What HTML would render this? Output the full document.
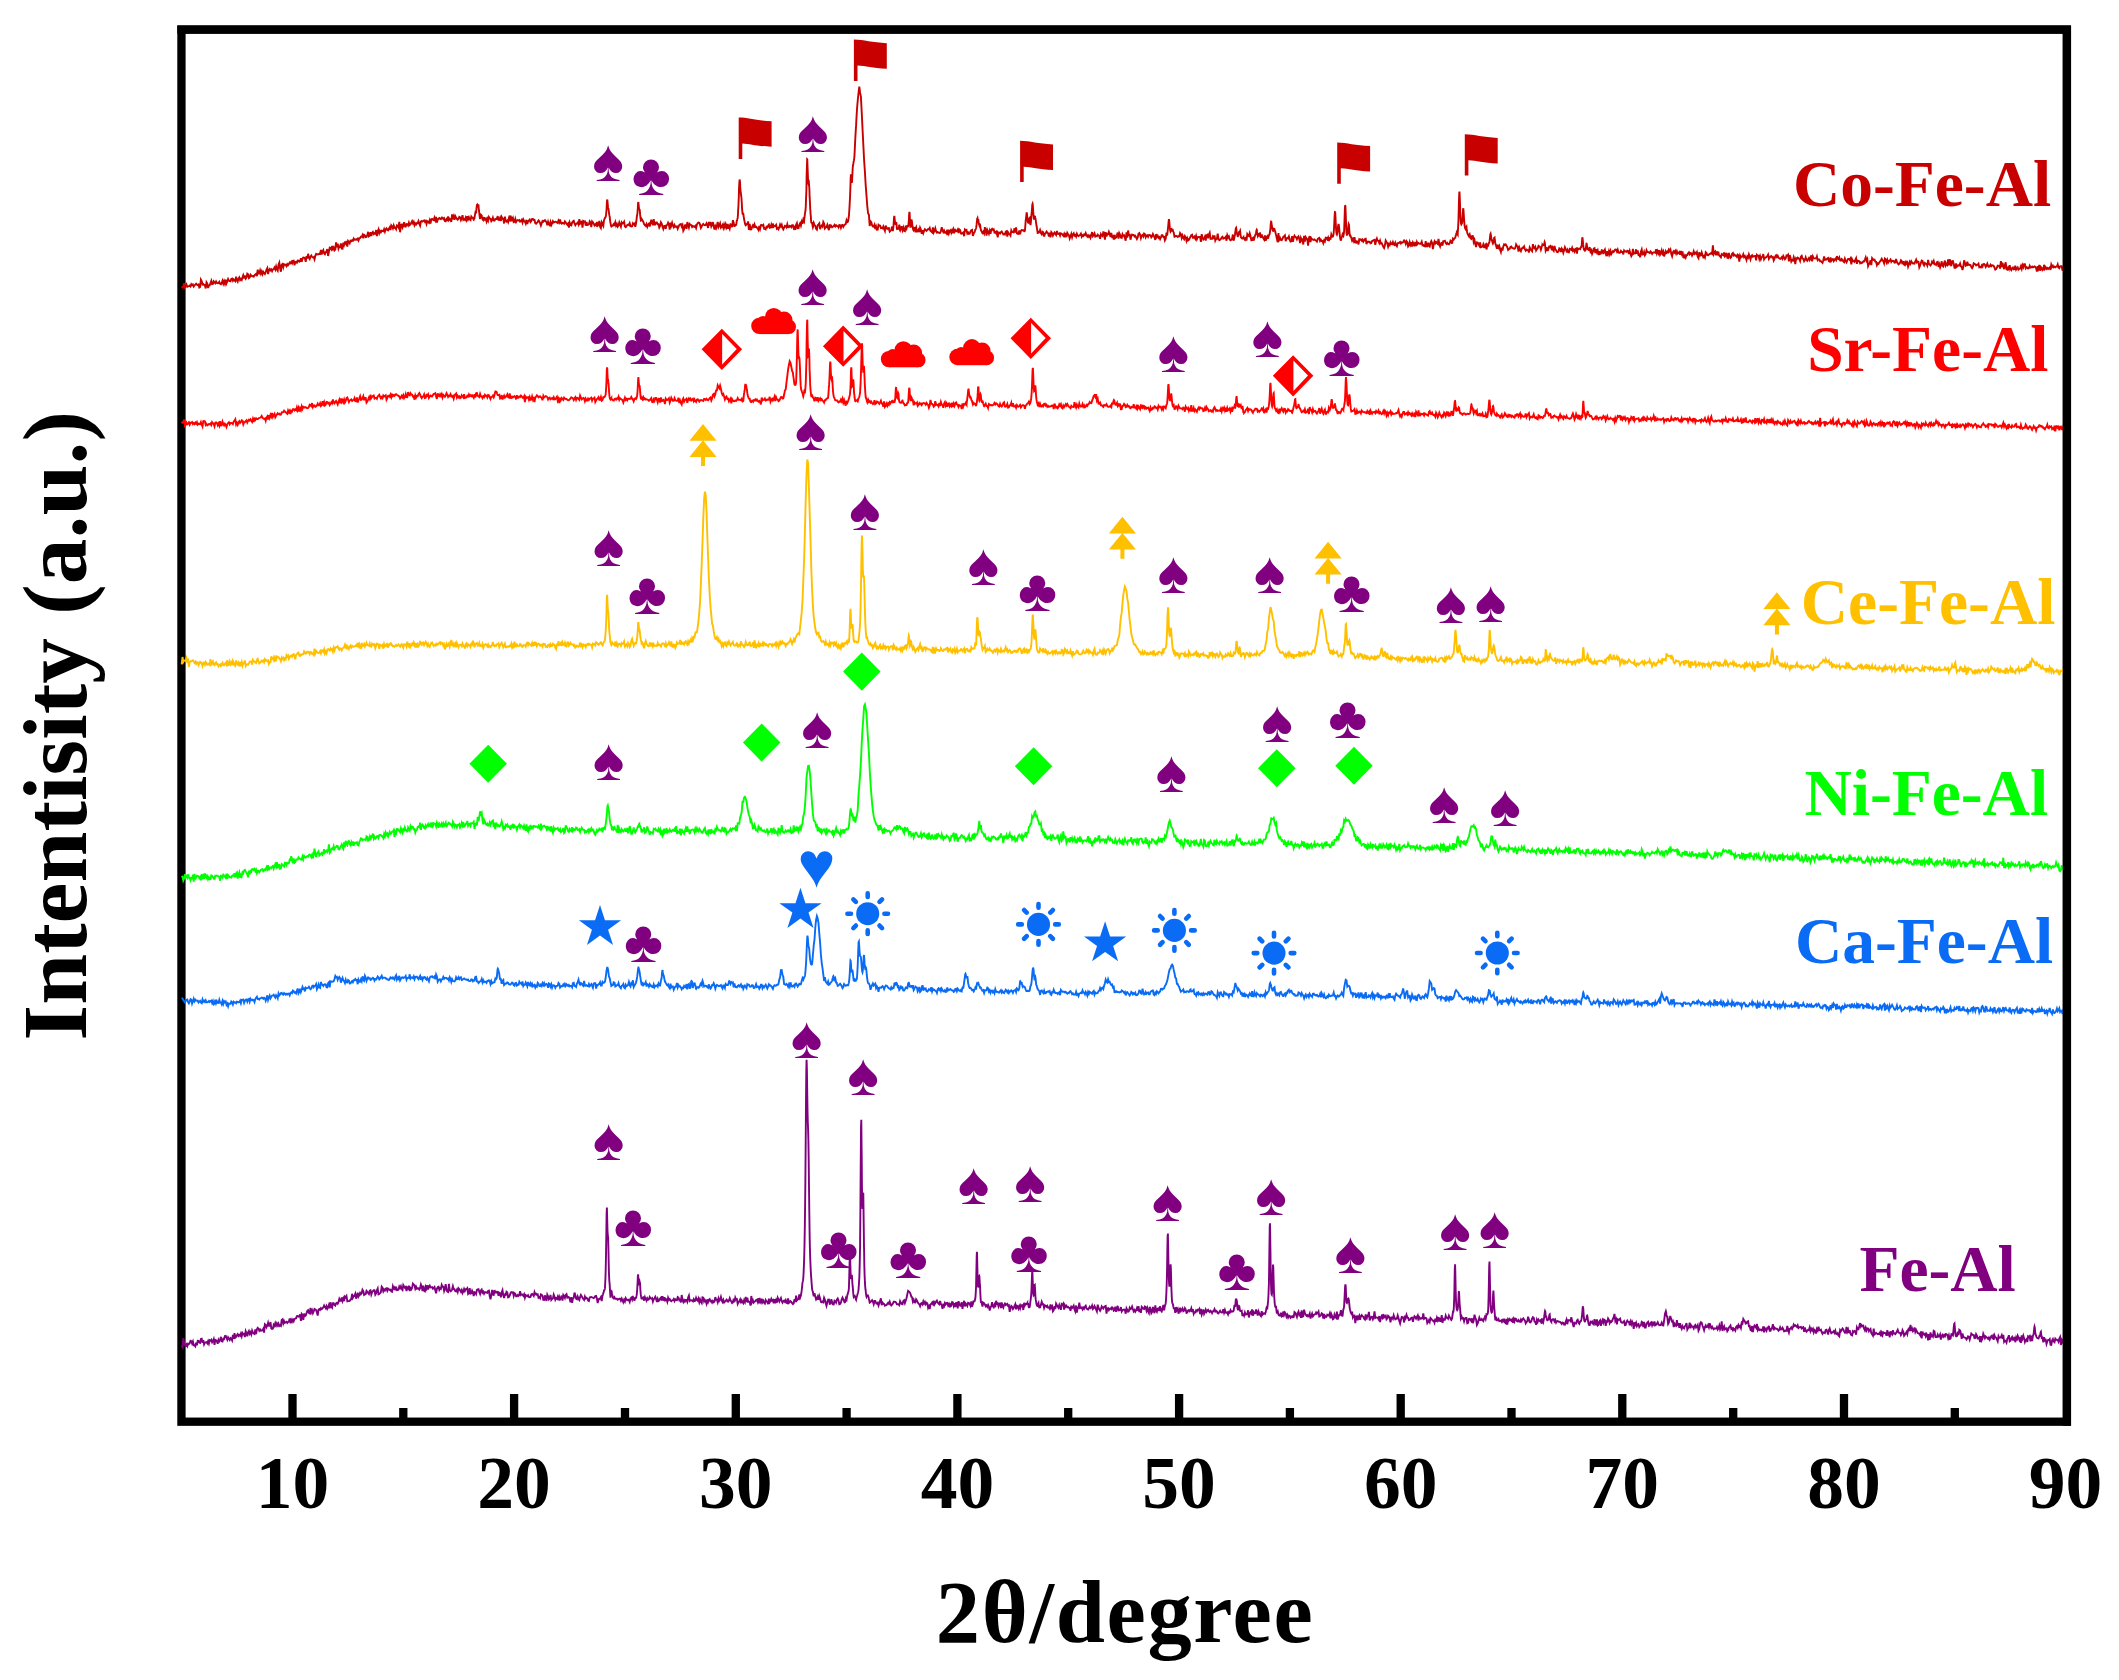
<!DOCTYPE html>
<html lang="en"><head><meta charset="utf-8"><title>XRD patterns</title>
<style>html,body{margin:0;padding:0;background:#fff}svg{display:block}</style></head><body>
<svg width="2119" height="1680" viewBox="0 0 2119 1680">
<rect width="2119" height="1680" fill="#fff"/>
<rect x="181.45" y="29.55" width="1885.45" height="1392.15" fill="none" stroke="#000" stroke-width="8.3"/>
<path d="M292.5 1394V1420 M514.1 1394V1420 M735.8 1394V1420 M957.4 1394V1420 M1179.1 1394V1420 M1400.7 1394V1420 M1622.3 1394V1420 M1844.0 1394V1420 M403.3 1408V1420 M625.0 1408V1420 M846.6 1408V1420 M1068.2 1408V1420 M1289.9 1408V1420 M1511.5 1408V1420 M1733.2 1408V1420 M1954.8 1408V1420" stroke="#000" stroke-width="8.3" fill="none"/>
<g id="curves">
<polyline points="181.7,286.4 182.5,287.3 183.3,286.4 184.1,283.2 184.9,287.4 185.7,286.5 186.5,284.6 187.3,286.7 188.1,286.3 188.9,286.1 189.7,285.6 190.5,286.5 191.3,284.1 192.1,285.1 192.9,284.5 193.7,286.5 194.5,285.4 195.3,284.7 196.1,283.7 196.9,284.7 197.7,285.1 198.5,284.5 199.3,287.5 200.1,286.9 200.9,279.7 201.7,281.2 202.5,284.4 203.3,283.9 204.1,285.0 204.9,285.0 205.7,288.5 206.5,282.3 207.3,283.6 208.1,288.1 208.9,285.4 209.7,285.4 210.5,283.0 211.3,280.8 212.1,284.2 212.9,284.0 213.7,281.3 214.5,282.3 215.3,283.3 216.1,281.5 216.9,283.0 217.7,283.3 218.5,283.1 219.3,281.9 220.1,283.9 220.9,284.3 221.7,283.1 222.5,280.8 223.3,283.7 224.1,281.2 224.9,283.7 225.7,279.8 226.5,283.4 227.3,281.5 228.1,279.0 228.9,280.7 229.7,281.2 230.5,281.4 231.3,278.9 232.1,278.5 232.9,280.8 233.7,279.4 234.5,280.5 235.3,281.3 236.1,276.6 236.9,280.0 237.7,281.6 238.5,278.6 239.3,277.4 240.1,280.1 240.9,279.0 241.7,280.0 242.5,277.4 243.3,275.1 244.1,277.5 244.9,276.6 245.7,278.7 246.5,277.4 247.3,273.7 248.1,274.3 248.9,278.0 249.7,277.4 250.5,274.7 251.3,275.7 252.1,276.3 252.9,276.1 253.7,276.7 254.5,275.3 255.3,274.4 256.1,273.8 256.9,276.1 257.7,269.6 258.5,273.3 259.3,273.4 260.1,270.4 260.9,273.5 261.7,271.4 262.5,274.1 263.3,271.9 264.1,273.2 264.9,274.0 265.7,272.2 266.5,269.6 267.3,268.1 268.1,274.1 268.9,270.3 269.7,269.0 270.5,270.3 271.3,269.4 272.1,271.2 272.9,269.4 273.7,269.1 274.5,267.5 275.3,269.5 276.1,266.4 276.9,269.3 277.7,270.7 278.5,264.7 279.3,262.7 280.1,268.3 280.9,271.7 281.7,264.7 282.5,264.0 283.3,267.2 284.1,264.3 284.9,264.6 285.7,264.7 286.5,266.1 287.3,264.1 288.1,265.1 288.9,264.0 289.7,262.5 290.5,263.2 291.3,261.7 292.1,263.3 292.9,260.9 293.7,260.7 294.5,265.3 295.3,262.1 296.1,261.9 296.9,262.7 297.7,260.6 298.5,260.7 299.3,261.7 300.1,261.2 300.9,258.2 301.7,261.7 302.5,258.7 303.3,257.5 304.1,257.6 304.9,258.2 305.7,261.8 306.5,256.2 307.3,258.5 308.1,253.8 308.9,257.6 309.7,259.0 310.5,256.6 311.3,255.5 312.1,256.9 312.9,257.5 313.7,257.1 314.5,259.3 315.3,255.7 316.1,253.9 316.9,254.5 317.7,254.3 318.5,254.3 319.3,253.8 320.1,253.9 320.9,250.0 321.7,254.5 322.5,251.5 323.3,250.1 324.1,253.2 324.9,254.2 325.7,252.3 326.5,251.4 327.3,249.0 328.1,256.0 328.9,251.9 329.7,247.7 330.5,248.1 331.3,249.4 332.1,246.0 332.9,249.0 333.7,247.5 334.5,250.4 335.3,249.6 336.1,242.3 336.9,247.2 337.7,243.7 338.5,248.6 339.3,246.5 340.1,246.9 340.9,243.5 341.7,248.7 342.5,248.8 343.3,242.6 344.1,245.0 344.9,242.7 345.7,243.7 346.5,241.0 347.3,246.7 348.1,241.0 348.9,241.9 349.7,243.2 350.5,240.7 351.3,241.2 352.1,240.2 352.9,240.8 353.7,238.5 354.5,239.6 355.3,239.7 356.1,239.2 356.9,239.7 357.7,238.7 358.5,240.4 359.3,238.1 360.1,238.1 360.9,236.8 361.7,236.8 362.5,235.1 363.3,238.3 364.1,234.8 364.9,235.3 365.7,237.1 366.5,236.9 367.3,235.1 368.1,231.8 368.9,236.2 369.7,235.6 370.5,232.1 371.3,236.0 372.1,233.0 372.9,231.9 373.7,234.0 374.5,233.2 375.3,233.6 376.1,230.0 376.9,236.2 377.7,231.4 378.5,229.3 379.3,233.2 380.1,231.1 380.9,232.2 381.7,230.7 382.5,230.9 383.3,231.3 384.1,229.2 384.9,231.7 385.7,229.2 386.5,228.3 387.3,229.8 388.1,230.3 388.9,228.8 389.7,227.4 390.5,230.0 391.3,225.3 392.1,226.4 392.9,228.3 393.7,225.4 394.5,227.8 395.3,227.5 396.1,229.1 396.9,225.4 397.7,225.8 398.5,227.4 399.3,221.9 400.1,232.3 400.9,224.9 401.7,224.6 402.5,227.5 403.3,225.6 404.1,222.1 404.9,226.5 405.7,226.7 406.5,224.1 407.3,224.2 408.1,225.5 408.9,222.7 409.7,225.1 410.5,224.5 411.3,222.7 412.1,221.1 412.9,223.2 413.7,221.8 414.5,225.2 415.3,223.4 416.1,224.5 416.9,223.1 417.7,223.2 418.5,221.1 419.3,223.7 420.1,225.7 420.9,221.6 421.7,220.9 422.5,221.6 423.3,220.9 424.1,220.3 424.9,221.8 425.7,220.9 426.5,224.0 427.3,221.2 428.1,221.7 428.9,222.8 429.7,220.3 430.5,223.5 431.3,219.4 432.1,219.0 432.9,219.7 433.7,220.1 434.5,217.6 435.3,220.1 436.1,216.9 436.9,222.6 437.7,219.7 438.5,218.6 439.3,218.0 440.1,218.9 440.9,219.1 441.7,217.5 442.5,217.7 443.3,219.0 444.1,218.3 444.9,221.0 445.7,221.3 446.5,219.1 447.3,219.9 448.1,216.5 448.9,220.1 449.7,218.8 450.5,219.8 451.3,221.8 452.1,214.4 452.9,219.2 453.7,216.6 454.5,219.8 455.3,216.1 456.1,217.6 456.9,218.9 457.7,219.7 458.5,218.6 459.3,216.9 460.1,217.4 460.9,220.1 461.7,218.4 462.5,215.2 463.3,219.9 464.1,219.1 464.9,220.0 465.7,217.6 466.5,219.8 467.3,216.2 468.1,219.3 468.9,217.3 469.7,219.4 470.5,220.0 471.3,216.6 472.1,217.8 472.1,217.8 472.4,217.8 472.7,217.8 472.9,217.8 473.0,218.2 473.3,218.9 473.6,219.6 473.7,219.7 473.9,219.2 474.2,218.7 474.5,218.2 474.5,217.9 474.8,216.1 475.1,214.2 475.3,213.1 475.4,213.3 475.7,213.2 476.0,212.6 476.1,212.4 476.3,210.5 476.6,207.5 476.9,205.2 476.9,204.9 477.2,204.6 477.5,206.1 477.7,207.2 477.8,206.6 478.1,205.7 478.4,205.3 478.5,205.3 478.7,208.1 479.0,211.0 479.3,213.0 479.3,213.5 479.6,215.9 479.9,218.0 480.1,219.0 480.2,218.2 480.5,216.7 480.8,215.1 480.9,214.8 481.1,215.0 481.4,215.3 481.7,215.5 481.7,215.8 482.0,217.1 482.3,218.4 482.5,219.1 482.6,219.3 482.9,219.7 483.2,220.1 483.3,220.2 483.5,219.3 483.8,218.1 484.1,217.1 484.1,217.3 484.4,218.2 484.7,219.1 484.9,219.5 485.0,219.4 485.7,218.8 486.5,221.5 487.3,218.7 488.1,220.7 488.9,217.1 489.7,218.5 490.5,218.8 491.3,221.2 492.1,220.1 492.9,217.7 493.7,220.4 494.5,220.6 495.3,219.0 496.1,218.8 496.9,218.9 497.7,216.1 498.5,219.8 499.3,219.9 500.1,217.8 500.9,220.9 501.7,217.0 502.5,218.6 503.3,218.7 504.1,223.5 504.9,216.7 505.7,220.8 506.5,221.6 507.3,220.6 508.1,222.1 508.9,218.0 509.7,215.6 510.5,221.5 511.3,217.8 512.1,219.5 512.9,217.9 513.7,222.2 514.5,221.9 515.3,218.9 516.1,222.0 516.9,220.6 517.7,220.1 518.5,220.5 519.3,220.1 520.1,221.6 520.9,221.1 521.7,219.9 522.5,222.5 523.3,219.5 524.1,221.2 524.9,221.5 525.7,223.5 526.5,219.8 527.3,224.1 528.1,221.2 528.9,220.5 529.7,219.6 530.5,222.1 531.3,221.1 532.1,218.9 532.9,218.9 533.7,220.0 534.5,219.8 535.3,223.2 536.1,223.8 536.9,222.9 537.7,222.0 538.5,220.5 539.3,221.4 540.1,223.1 540.9,225.5 541.7,223.2 542.5,221.0 543.3,221.6 544.1,220.6 544.9,220.1 545.7,221.3 546.5,222.0 547.3,225.2 548.1,221.8 548.9,224.4 549.7,225.2 550.5,222.0 551.3,225.0 552.1,223.3 552.9,221.2 553.7,222.5 554.5,222.1 555.3,221.7 556.1,221.8 556.9,222.4 557.7,223.0 558.5,220.6 559.3,222.3 560.1,219.4 560.9,222.9 561.7,223.6 562.5,222.8 563.3,223.0 564.1,223.7 564.9,221.3 565.7,222.2 566.5,223.6 567.3,224.6 568.1,223.5 568.9,227.6 569.7,222.6 570.5,224.8 571.3,225.3 572.1,222.7 572.9,221.4 573.7,220.8 574.5,223.4 575.3,225.2 576.1,223.7 576.9,223.5 577.7,222.5 578.5,224.3 579.3,219.2 580.1,223.8 580.9,223.4 581.7,220.8 582.5,227.6 583.3,220.9 584.1,221.5 584.9,221.3 585.7,225.7 586.5,221.9 587.3,224.9 588.1,224.8 588.9,224.2 589.7,221.3 590.5,222.6 591.3,227.0 592.1,221.4 592.9,222.3 593.7,223.6 594.5,225.4 595.3,224.4 596.1,225.3 596.9,221.9 597.7,225.7 598.5,225.0 599.3,220.9 600.1,226.8 600.9,228.1 601.7,222.2 602.2,223.2 602.5,223.6 602.5,223.8 602.8,224.7 603.1,225.5 603.3,225.9 603.4,224.8 603.7,222.6 604.0,220.4 604.1,220.0 604.3,219.5 604.6,218.7 604.9,218.1 604.9,218.0 605.2,217.8 605.5,217.3 605.7,216.8 605.8,216.2 606.1,214.2 606.4,211.0 606.5,210.3 606.7,206.1 607.0,201.2 607.3,199.5 607.3,199.6 607.6,202.5 607.9,206.1 608.1,207.4 608.2,207.9 608.5,208.9 608.8,211.2 608.9,211.7 609.1,213.6 609.4,215.5 609.7,216.4 609.7,216.9 610.0,219.6 610.3,221.9 610.5,222.9 610.6,223.6 610.9,225.0 611.2,226.3 611.3,226.5 611.5,226.3 611.8,226.0 612.1,225.7 612.1,225.7 612.4,225.7 612.7,225.7 612.9,225.6 613.0,225.3 613.3,224.7 613.6,224.1 613.7,224.0 613.9,224.6 614.2,225.3 614.5,226.0 614.5,225.7 614.8,224.4 615.1,223.0 615.3,222.3 616.1,225.7 616.9,224.1 617.7,226.5 618.5,225.3 619.3,222.4 620.1,224.7 620.9,226.8 621.7,222.4 622.5,223.5 623.3,223.1 624.1,221.7 624.9,226.4 625.7,227.1 626.5,226.1 627.3,225.0 628.1,224.5 628.9,225.0 629.7,223.2 630.5,226.2 631.3,226.5 632.1,226.2 632.9,223.3 633.3,223.8 633.6,224.2 633.7,224.3 633.9,224.2 634.2,223.9 634.5,223.6 634.5,223.6 634.8,224.8 635.1,226.0 635.3,226.8 635.4,226.4 635.7,225.0 636.0,223.4 636.1,222.7 636.3,221.5 636.6,219.1 636.9,216.1 636.9,215.9 637.2,215.0 637.5,212.6 637.7,209.6 637.8,208.2 638.1,203.0 638.4,202.1 638.5,203.6 638.7,205.6 639.0,208.6 639.3,209.3 639.3,209.2 639.6,209.5 639.9,211.5 640.1,214.4 640.2,215.3 640.5,218.2 640.8,220.0 640.9,220.5 641.1,220.4 641.4,220.0 641.7,219.2 641.7,219.1 642.0,219.6 642.3,220.0 642.5,220.3 642.6,220.5 642.9,221.0 643.2,221.6 643.3,221.8 643.5,222.3 643.8,223.2 644.1,224.1 644.1,224.2 644.4,224.5 644.7,224.9 644.9,225.2 645.0,225.3 645.3,225.6 645.6,225.9 645.7,226.0 645.9,225.6 646.2,224.9 646.5,224.1 647.3,226.7 648.1,224.4 648.9,223.6 649.7,226.6 650.5,223.3 651.3,219.8 652.1,223.0 652.9,225.3 653.7,219.2 654.5,224.4 655.3,224.5 656.1,222.4 656.9,222.4 657.7,224.3 658.5,224.2 659.3,227.6 660.1,226.0 660.9,222.3 661.7,223.6 662.5,226.6 663.3,228.9 664.1,226.1 664.9,225.9 665.7,228.9 666.5,225.3 667.3,224.8 668.1,222.7 668.9,224.4 669.7,229.6 670.5,222.7 671.3,225.5 672.1,222.8 672.9,225.7 673.7,227.2 674.5,225.0 675.3,226.9 676.1,226.9 676.9,226.4 677.7,228.8 678.5,227.0 679.3,225.0 680.1,224.3 680.9,224.0 681.7,226.5 682.5,225.0 683.3,230.8 684.1,229.2 684.9,225.3 685.7,225.1 686.5,228.9 687.3,222.1 688.1,224.9 688.9,227.5 689.7,224.0 690.5,224.8 691.3,225.1 692.1,227.0 692.9,226.1 693.7,226.6 694.5,226.9 695.3,225.9 696.1,228.0 696.9,224.5 697.7,223.1 698.5,222.5 699.3,222.8 700.1,224.9 700.9,227.9 701.7,226.3 702.5,224.8 703.3,223.9 704.1,225.0 704.9,225.2 705.7,224.9 706.5,223.3 707.3,225.1 708.1,227.9 708.9,221.9 709.7,225.6 710.5,222.0 711.3,226.4 712.1,224.6 712.9,222.1 713.7,226.3 714.5,229.5 715.3,226.3 716.1,228.3 716.9,226.0 717.7,222.0 718.5,227.0 719.3,225.3 720.1,223.3 720.9,227.6 721.7,226.7 722.5,225.1 723.3,227.8 724.1,224.5 724.9,227.3 725.7,224.3 726.5,227.1 727.3,223.9 728.1,228.8 728.9,226.4 729.7,228.6 730.5,224.3 731.3,224.8 732.1,227.2 732.9,220.2 733.7,223.1 734.5,226.7 734.5,226.6 734.9,225.9 735.1,225.3 735.3,225.0 735.5,225.0 735.8,225.0 736.0,224.9 736.1,224.9 736.4,223.6 736.6,221.9 736.9,220.5 737.0,220.4 737.2,219.7 737.5,218.5 737.7,217.7 737.9,215.5 738.1,210.8 738.5,204.7 738.5,204.0 738.8,197.3 739.0,189.1 739.3,183.4 739.4,182.1 739.6,179.5 740.0,181.8 740.1,183.5 740.2,186.4 740.5,190.6 740.9,193.3 740.9,193.5 741.1,195.2 741.5,198.5 741.7,202.0 741.8,203.2 742.0,208.1 742.4,212.1 742.5,213.6 742.6,214.0 743.0,214.3 743.2,213.8 743.3,213.8 743.5,215.8 743.9,217.8 744.1,219.1 744.1,219.5 744.5,221.1 744.8,222.5 744.9,223.1 745.0,223.6 745.4,224.5 745.6,225.3 745.7,225.4 746.0,225.0 746.2,224.5 746.5,224.2 746.5,224.2 746.9,224.1 747.1,224.0 747.3,223.9 747.5,223.4 748.1,221.4 748.9,229.8 749.7,224.0 750.5,229.4 751.3,229.3 752.1,226.9 752.9,225.3 753.7,226.7 754.5,224.3 755.3,227.0 756.1,226.6 756.9,227.6 757.7,228.5 758.5,230.0 759.3,226.0 760.1,228.7 760.9,225.2 761.7,225.1 762.5,225.6 763.3,224.9 764.1,228.7 764.9,228.6 765.7,229.3 766.5,226.8 767.3,227.4 768.1,225.8 768.9,224.7 769.7,227.7 770.5,227.4 771.3,224.8 772.1,228.0 772.9,223.6 773.7,226.6 774.5,225.8 775.3,226.0 776.1,224.9 776.9,228.8 777.7,228.1 778.5,229.2 779.3,227.2 780.1,224.5 780.9,226.3 781.7,224.7 782.5,227.8 783.3,229.3 784.1,227.6 784.9,225.8 785.7,226.3 786.5,227.4 787.3,224.2 788.1,227.2 788.9,227.3 789.7,225.9 790.5,226.1 791.3,227.2 792.1,225.3 792.9,225.3 793.7,228.3 794.5,227.2 795.3,229.9 796.1,224.8 796.9,223.2 797.7,228.3 798.5,228.2 799.3,224.8 800.1,223.2 800.9,225.6 801.7,221.9 802.1,223.1 802.5,223.8 802.5,223.9 802.8,222.4 803.0,220.7 803.3,219.4 803.4,219.6 803.6,220.4 804.0,221.0 804.1,221.2 804.2,219.9 804.5,217.3 804.9,214.2 804.9,213.9 805.1,212.8 805.5,210.5 805.7,207.6 805.8,206.4 806.0,199.7 806.4,190.1 806.5,185.1 806.6,176.7 807.0,163.8 807.2,159.2 807.3,159.3 807.5,165.9 807.9,175.8 808.1,181.7 808.1,182.6 808.5,183.9 808.8,182.8 808.9,182.6 809.0,183.8 809.4,189.3 809.6,197.0 809.7,197.7 810.0,203.8 810.2,208.8 810.5,211.6 810.5,212.9 810.9,217.4 811.1,221.1 811.3,222.5 811.5,222.7 811.8,222.9 812.0,222.9 812.1,222.9 812.4,224.5 812.6,226.1 812.9,227.3 813.0,227.0 813.2,225.3 813.5,223.5 813.7,222.8 813.9,223.3 814.1,224.2 814.5,225.0 814.5,225.1 814.8,225.4 815.0,225.7 815.3,226.0 816.1,228.8 816.9,229.7 817.7,225.2 818.5,224.3 819.3,223.3 820.1,229.2 820.9,226.5 821.7,225.5 822.5,226.6 823.3,221.9 824.1,223.5 824.9,228.5 825.7,227.5 826.5,227.1 827.3,224.9 828.1,227.9 828.9,230.1 829.7,224.4 830.5,226.7 831.3,225.9 832.1,227.3 832.9,226.6 833.7,226.3 834.5,224.9 835.3,226.4 836.1,225.2 836.9,226.1 837.7,226.1 838.5,227.4 839.3,225.0 840.1,225.3 840.9,227.8 841.7,225.2 842.5,224.9 843.3,226.8 844.1,225.3 844.9,224.5 845.7,224.1 845.8,223.5 846.1,222.1 846.4,220.7 846.5,220.3 846.7,220.9 847.0,221.6 847.3,222.1 847.3,222.1 847.6,221.9 847.9,221.6 848.1,221.4 848.2,220.7 848.5,218.8 848.8,216.6 848.9,216.0 849.1,213.2 849.4,208.8 849.7,203.6 849.7,203.3 850.0,198.1 850.3,190.0 850.5,184.5 850.6,179.7 850.9,174.3 851.2,177.4 851.3,178.4 851.5,181.8 851.8,182.9 852.1,180.8 852.1,180.3 852.4,174.5 852.7,168.2 852.9,166.1 853.0,165.0 853.3,164.0 853.6,162.0 853.7,161.3 853.9,160.5 854.2,158.4 854.5,155.8 854.5,155.2 854.8,149.0 855.1,142.5 855.3,138.8 855.4,136.6 855.7,131.6 856.0,126.6 856.1,125.4 856.3,121.2 856.6,115.8 856.9,111.2 856.9,110.8 857.2,106.7 857.5,103.1 857.7,101.3 857.8,99.8 858.1,96.7 858.4,94.3 858.5,93.8 858.7,91.2 859.3,86.6 860.1,92.7 860.9,96.6 861.7,111.7 862.5,128.3 863.3,144.2 864.1,160.3 864.9,171.5 865.7,185.4 866.5,195.6 867.3,206.3 868.1,213.5 868.9,214.6 869.7,226.0 870.5,221.3 871.3,222.3 872.1,225.3 872.9,226.5 873.7,226.6 874.5,224.8 875.3,229.2 876.1,226.7 876.9,229.8 877.7,229.7 878.5,224.8 879.3,225.5 880.1,225.6 880.9,228.1 881.7,227.8 882.5,228.3 883.3,226.4 884.1,228.8 884.9,230.8 885.7,225.6 886.5,227.9 887.3,228.8 888.1,228.1 888.9,228.0 889.2,229.7 889.5,231.1 889.7,231.7 889.9,231.5 890.1,231.2 890.5,230.8 890.5,230.8 890.8,230.5 891.0,230.1 891.3,229.8 891.4,229.5 891.6,228.3 892.0,227.0 892.1,226.4 892.2,227.5 892.5,229.3 892.9,230.9 892.9,231.1 893.1,229.0 893.5,225.9 893.7,222.7 893.8,221.7 894.0,217.5 894.4,215.9 894.5,216.6 894.6,218.6 895.0,221.9 895.2,223.8 895.3,223.9 895.5,224.0 895.9,223.2 896.1,222.0 896.1,222.1 896.5,223.7 896.8,227.2 896.9,228.9 897.0,229.1 897.4,228.9 897.6,228.3 897.7,228.2 898.0,228.4 898.2,228.6 898.5,228.7 898.5,228.3 898.9,226.9 899.1,225.4 899.3,224.7 899.5,225.9 899.8,228.1 900.0,230.2 900.1,230.4 900.4,229.3 900.6,228.0 900.9,227.1 901.0,227.1 901.2,227.1 901.5,227.0 901.7,227.0 901.9,227.7 902.1,229.0 902.5,230.4 903.3,227.6 904.1,230.8 904.3,231.0 904.6,231.2 904.9,231.3 904.9,231.1 905.2,229.0 905.5,226.8 905.7,225.7 905.8,226.2 906.1,227.3 906.4,228.4 906.5,228.6 906.7,227.7 907.0,226.5 907.3,225.3 907.3,225.4 907.6,226.1 907.9,226.4 908.1,226.4 908.2,226.0 908.5,224.3 908.8,220.9 908.9,220.0 909.1,214.7 909.4,211.8 909.7,213.8 909.7,214.8 910.0,221.3 910.3,226.0 910.5,227.7 910.6,227.1 910.9,224.6 911.2,221.1 911.3,220.5 911.5,219.5 911.8,220.9 912.1,222.7 912.1,223.1 912.4,225.6 912.7,227.4 912.9,228.1 913.0,228.7 913.3,229.7 913.6,230.6 913.7,230.7 913.9,229.6 914.2,228.2 914.5,227.0 914.5,227.1 914.8,228.2 915.1,229.2 915.3,229.8 915.4,229.4 915.7,228.4 916.0,227.5 916.1,227.3 916.3,228.8 916.6,230.7 916.9,232.3 916.9,232.2 917.2,231.5 917.7,230.4 918.5,229.4 919.3,232.2 920.1,227.8 920.9,229.6 921.7,233.9 922.5,230.2 923.3,233.1 924.1,230.9 924.9,229.2 925.7,230.1 926.5,230.8 927.3,229.9 928.1,229.1 928.9,229.3 929.7,228.0 930.5,231.0 931.3,231.6 932.1,232.3 932.9,227.5 933.7,232.5 934.5,231.0 935.3,228.3 936.1,231.3 936.9,232.6 937.7,232.1 938.5,232.5 939.3,233.0 940.1,232.9 940.9,231.2 941.7,227.3 942.5,229.9 943.3,232.0 944.1,230.5 944.9,232.7 945.7,232.9 946.5,231.5 947.3,235.0 948.1,229.6 948.9,233.3 949.7,230.7 950.5,230.1 951.3,232.7 952.1,230.4 952.9,233.3 953.7,229.4 954.5,231.7 955.3,230.1 956.1,231.3 956.9,231.0 957.7,229.6 958.5,233.0 959.3,229.4 960.1,230.0 960.9,233.5 961.7,233.7 962.5,233.1 963.3,232.5 964.1,236.2 964.9,229.6 965.7,230.5 966.5,230.0 967.3,233.6 968.1,232.5 968.9,234.0 969.7,233.8 970.5,231.5 971.3,230.3 972.1,229.9 972.4,232.1 972.7,234.3 972.9,235.9 973.0,235.6 973.3,234.7 973.6,233.7 973.7,233.3 973.9,233.1 974.2,232.7 974.5,232.3 974.5,232.3 974.8,231.5 975.1,230.5 975.3,229.8 975.4,229.7 975.7,229.2 976.0,228.3 976.1,227.9 976.3,226.8 976.6,224.4 976.9,221.4 976.9,221.3 977.2,218.7 977.5,218.1 977.7,219.3 977.8,219.6 978.1,220.8 978.4,221.2 978.5,221.1 978.7,222.6 979.0,224.2 979.3,225.1 979.3,225.1 979.6,224.2 979.9,224.3 980.1,225.1 980.2,225.7 980.5,227.8 980.8,229.6 980.9,230.1 981.1,230.6 981.4,231.1 981.7,231.4 981.7,231.4 982.0,232.1 982.3,232.8 982.5,233.2 982.6,233.1 982.9,232.6 983.2,232.0 983.3,231.8 983.5,232.2 983.8,232.9 984.1,233.5 984.1,233.5 984.4,231.3 984.7,228.9 984.9,227.2 985.0,227.6 985.3,228.6 985.7,230.1 986.5,235.5 987.3,230.0 988.1,231.8 988.9,233.7 989.7,230.7 990.5,233.8 991.3,229.7 992.1,228.8 992.9,230.0 993.7,229.4 994.5,232.5 995.3,232.0 996.1,233.2 996.9,230.6 997.7,237.4 998.5,232.4 999.3,232.6 1000.1,233.5 1000.9,232.2 1001.7,231.5 1002.5,232.9 1003.3,234.5 1004.1,234.0 1004.9,234.5 1005.7,231.7 1006.5,231.3 1007.3,236.6 1008.1,232.4 1008.9,233.7 1009.7,234.2 1010.5,235.5 1011.3,230.3 1012.1,231.9 1012.9,232.0 1013.7,232.3 1014.5,228.3 1015.3,232.7 1016.1,227.3 1016.9,233.4 1017.7,233.8 1018.5,233.9 1019.3,230.4 1020.1,234.4 1020.9,230.9 1021.7,230.0 1021.8,230.0 1022.1,230.1 1022.4,230.2 1022.5,230.2 1022.7,230.2 1023.0,230.1 1023.3,230.1 1023.3,230.1 1023.6,230.6 1023.9,231.0 1024.1,231.2 1024.2,231.2 1024.5,231.2 1024.8,230.9 1024.9,230.8 1025.1,228.5 1025.4,224.8 1025.7,220.5 1025.7,220.5 1026.0,218.3 1026.3,215.5 1026.5,213.9 1026.6,213.2 1026.9,213.3 1027.2,216.5 1027.3,217.7 1027.5,219.6 1027.6,220.2 1027.8,221.7 1027.9,222.0 1028.1,222.5 1028.1,222.6 1028.2,222.8 1028.4,222.9 1028.5,222.9 1028.7,222.3 1028.8,222.0 1028.9,221.6 1029.0,220.6 1029.1,220.0 1029.3,218.5 1029.4,218.3 1029.6,217.9 1029.7,217.8 1029.7,217.8 1029.9,220.1 1030.0,220.8 1030.2,223.0 1030.3,223.5 1030.5,225.0 1030.5,224.9 1030.6,224.5 1030.8,222.5 1030.9,221.8 1031.1,219.0 1031.2,218.0 1031.3,216.1 1031.4,215.3 1031.5,214.8 1031.7,212.4 1031.8,211.5 1032.0,208.5 1032.1,207.5 1032.1,207.3 1032.3,204.7 1032.4,204.2 1032.6,203.7 1032.7,204.1 1032.9,206.6 1032.9,206.7 1033.0,207.7 1033.2,211.4 1033.3,212.5 1033.5,215.9 1033.6,216.8 1033.7,218.1 1033.8,218.6 1033.9,218.8 1034.1,218.8 1034.2,218.6 1034.4,217.6 1034.5,217.2 1034.5,217.0 1034.7,216.5 1034.8,216.4 1035.1,216.6 1035.3,218.0 1035.4,218.3 1035.7,220.2 1036.0,222.2 1036.1,222.8 1036.3,224.3 1036.6,226.3 1036.9,227.8 1036.9,227.9 1037.2,229.9 1037.5,231.8 1037.7,233.0 1037.8,233.0 1038.1,232.5 1038.4,232.0 1038.5,231.8 1038.7,231.9 1039.0,232.0 1039.3,232.1 1039.3,232.1 1039.6,231.4 1039.9,230.6 1040.1,230.0 1040.2,230.3 1040.5,231.6 1040.9,233.2 1041.7,234.4 1042.5,231.8 1043.3,232.4 1044.1,236.5 1044.9,233.9 1045.7,233.1 1046.5,231.5 1047.3,232.6 1048.1,233.3 1048.9,236.5 1049.7,232.7 1050.5,237.3 1051.3,232.2 1052.1,233.3 1052.9,235.6 1053.7,233.6 1054.5,232.5 1055.3,233.9 1056.1,235.0 1056.9,230.9 1057.7,233.8 1058.5,234.0 1059.3,233.5 1060.1,235.7 1060.9,233.3 1061.7,233.7 1062.5,234.5 1063.3,235.8 1064.1,234.0 1064.9,237.3 1065.7,232.8 1066.5,237.0 1067.3,232.9 1068.1,234.3 1068.9,235.3 1069.7,238.5 1070.5,236.3 1071.3,233.9 1072.1,237.2 1072.9,234.3 1073.7,233.2 1074.5,235.6 1075.3,235.0 1076.1,236.6 1076.9,233.8 1077.7,235.6 1078.5,236.1 1079.3,235.4 1080.1,234.9 1080.9,233.6 1081.7,236.7 1082.5,235.2 1083.3,235.9 1084.1,234.4 1084.9,235.1 1085.7,233.1 1086.5,235.2 1087.3,236.6 1088.1,235.3 1088.9,236.8 1089.7,235.8 1090.5,237.8 1091.3,234.8 1092.1,232.1 1092.9,236.1 1093.7,234.9 1094.5,233.4 1095.3,236.5 1096.1,235.8 1096.9,236.2 1097.7,234.7 1098.5,235.7 1099.3,235.9 1100.1,238.8 1100.9,234.1 1101.7,235.4 1102.5,236.1 1103.3,232.2 1104.1,232.4 1104.9,239.6 1105.7,232.2 1106.5,236.6 1107.3,233.9 1108.1,234.1 1108.9,231.8 1109.7,233.9 1110.5,237.1 1111.3,233.0 1112.1,236.8 1112.9,236.2 1113.7,239.5 1114.5,234.8 1115.3,238.1 1116.1,237.4 1116.9,235.2 1117.7,232.6 1118.5,238.6 1119.3,233.2 1120.1,234.9 1120.9,237.5 1121.7,237.9 1122.5,234.2 1123.3,235.8 1124.1,235.4 1124.9,238.1 1125.7,240.6 1126.5,232.4 1127.3,237.6 1128.1,230.5 1128.9,236.0 1129.7,233.8 1130.5,239.7 1131.3,236.3 1132.1,234.6 1132.9,235.0 1133.7,234.9 1134.5,236.4 1135.3,235.7 1136.1,237.3 1136.9,239.0 1137.7,237.4 1138.5,233.7 1139.3,233.0 1140.1,234.7 1140.9,238.1 1141.7,235.5 1142.5,234.9 1143.3,236.4 1144.1,233.5 1144.9,234.0 1145.7,237.2 1146.5,235.6 1147.3,235.3 1148.1,236.8 1148.9,235.1 1149.7,234.9 1150.5,235.4 1151.3,237.4 1152.1,236.4 1152.9,234.0 1153.7,235.7 1154.5,237.5 1155.3,239.9 1156.1,234.1 1156.9,236.9 1157.7,235.8 1158.5,237.9 1159.3,237.1 1160.1,239.1 1160.9,237.3 1161.7,235.2 1162.5,235.2 1163.3,236.9 1164.1,236.8 1164.1,236.8 1164.4,238.2 1164.7,239.5 1164.9,240.4 1165.0,240.2 1165.3,239.6 1165.6,238.9 1165.7,238.7 1165.9,237.2 1166.2,235.0 1166.5,232.7 1166.5,232.8 1166.8,233.5 1167.1,234.0 1167.3,234.2 1167.4,233.4 1167.7,231.0 1168.0,228.0 1168.1,227.0 1168.3,225.1 1168.6,221.9 1168.9,219.2 1168.9,219.2 1169.2,220.4 1169.5,223.9 1169.7,226.7 1169.8,227.7 1170.1,229.9 1170.4,231.2 1170.5,231.5 1170.7,231.1 1171.0,229.9 1171.3,228.1 1171.3,228.1 1171.6,229.0 1171.9,230.2 1172.1,231.5 1172.2,231.2 1172.5,230.7 1172.8,230.4 1172.9,230.3 1173.1,231.0 1173.4,231.9 1173.7,232.4 1173.7,232.4 1174.0,234.2 1174.3,235.8 1174.5,236.8 1174.6,236.8 1174.9,236.6 1175.2,236.4 1175.3,236.4 1175.5,236.3 1175.8,236.1 1176.1,235.9 1176.1,235.9 1176.4,236.0 1176.7,236.1 1176.9,236.2 1177.0,236.3 1177.7,236.9 1178.5,236.2 1179.3,236.2 1180.1,233.0 1180.9,234.1 1181.7,237.8 1182.5,235.4 1183.3,237.8 1184.1,239.1 1184.9,236.1 1185.7,237.3 1186.5,240.8 1187.3,238.2 1188.1,240.4 1188.9,239.8 1189.7,238.3 1190.5,236.7 1191.3,235.3 1192.1,234.8 1192.9,237.9 1193.7,237.9 1194.5,236.7 1195.3,238.6 1196.1,235.9 1196.9,239.1 1197.7,237.1 1198.5,237.0 1199.3,237.1 1200.1,236.9 1200.9,241.8 1201.7,234.1 1202.5,237.5 1203.3,239.5 1204.1,238.5 1204.9,236.6 1205.7,240.5 1206.5,235.2 1207.3,234.7 1208.1,238.3 1208.9,234.5 1209.7,232.7 1210.5,238.9 1211.3,238.7 1212.1,238.7 1212.9,236.4 1213.7,237.7 1214.5,235.5 1215.3,240.6 1216.1,238.9 1216.9,238.8 1217.7,233.7 1218.5,238.9 1219.3,240.2 1220.1,239.7 1220.9,238.9 1221.7,237.4 1222.5,236.8 1223.3,238.6 1224.1,238.2 1224.9,237.9 1225.7,236.9 1226.5,240.7 1227.3,235.3 1228.1,237.4 1228.9,236.4 1229.7,239.4 1230.5,240.2 1231.0,239.9 1231.3,239.8 1231.3,239.7 1231.6,239.3 1231.9,239.0 1232.1,238.8 1232.2,238.0 1232.5,236.4 1232.8,234.8 1232.9,234.5 1233.1,236.4 1233.4,238.8 1233.7,240.8 1233.7,240.6 1234.0,239.3 1234.3,237.8 1234.5,237.0 1234.6,236.4 1234.9,235.0 1235.2,233.0 1235.3,232.5 1235.5,230.7 1235.8,228.3 1236.1,227.8 1236.1,227.8 1236.4,229.5 1236.7,231.7 1236.9,232.6 1237.0,233.6 1237.3,235.1 1237.6,236.1 1237.7,236.2 1237.9,236.2 1238.2,235.7 1238.5,234.9 1238.5,234.7 1238.8,233.1 1239.1,232.0 1239.3,232.0 1239.4,231.7 1239.7,231.5 1240.0,231.0 1240.1,230.8 1240.3,232.8 1240.6,235.1 1240.9,236.9 1240.9,237.0 1241.2,237.5 1241.5,238.0 1241.7,238.3 1241.8,238.3 1242.1,238.4 1242.4,238.5 1242.5,238.5 1242.7,238.2 1243.0,237.7 1243.3,237.3 1243.3,237.4 1243.6,237.9 1243.9,238.3 1244.1,238.6 1244.9,239.7 1245.7,236.9 1246.5,240.6 1247.3,234.1 1248.1,235.4 1248.9,236.1 1249.7,233.2 1250.5,235.9 1251.3,240.2 1251.6,240.2 1251.9,240.1 1252.1,240.1 1252.2,239.7 1252.5,238.9 1252.8,238.0 1252.9,237.9 1253.1,238.8 1253.4,239.9 1253.7,240.8 1253.7,240.6 1254.0,239.4 1254.3,238.2 1254.5,237.5 1254.6,237.1 1254.9,236.2 1255.2,235.1 1255.3,234.9 1255.5,234.6 1255.8,233.7 1256.1,232.7 1256.1,232.3 1256.4,230.4 1256.7,229.7 1256.9,230.1 1257.0,231.2 1257.3,233.6 1257.6,235.6 1257.7,235.9 1257.9,235.3 1258.2,234.2 1258.5,233.0 1258.5,233.2 1258.8,234.8 1259.1,236.0 1259.3,236.5 1259.4,235.5 1259.7,234.0 1260.0,233.2 1260.1,233.2 1260.3,234.7 1260.6,236.6 1260.9,238.0 1260.9,237.8 1261.2,236.6 1261.5,235.1 1261.7,234.4 1261.8,234.9 1262.1,235.8 1262.4,236.7 1262.5,236.8 1262.7,237.2 1263.0,237.6 1263.3,237.9 1263.3,238.0 1263.6,238.6 1263.9,239.2 1264.1,239.5 1264.2,238.7 1264.5,237.2 1264.9,235.4 1265.7,240.8 1266.0,239.7 1266.3,238.8 1266.5,238.4 1266.6,237.9 1266.9,237.1 1267.2,236.2 1267.3,236.1 1267.5,237.0 1267.8,238.1 1268.1,238.8 1268.1,238.6 1268.4,237.4 1268.7,236.0 1268.9,235.3 1269.0,235.2 1269.3,234.8 1269.6,233.8 1269.7,233.7 1269.9,232.3 1270.2,230.1 1270.5,228.0 1270.5,227.1 1270.8,223.3 1271.1,221.6 1271.3,221.7 1271.4,222.5 1271.7,224.7 1272.0,226.6 1272.1,226.8 1272.3,228.7 1272.6,230.0 1272.9,230.4 1272.9,230.6 1273.2,231.0 1273.5,230.8 1273.7,230.5 1273.8,229.8 1274.1,228.8 1274.4,229.0 1274.5,229.1 1274.7,229.8 1275.0,230.8 1275.3,231.5 1275.3,231.8 1275.6,233.2 1275.9,234.3 1276.1,234.7 1276.2,235.5 1276.5,237.0 1276.8,238.3 1276.9,238.4 1277.1,239.7 1277.4,241.1 1277.7,242.2 1277.7,241.5 1278.0,238.1 1278.3,234.7 1278.5,233.0 1278.6,234.4 1278.9,236.8 1279.3,239.6 1280.1,238.0 1280.9,240.0 1281.7,240.2 1282.5,238.8 1283.3,236.8 1284.1,236.1 1284.9,235.3 1285.7,241.2 1286.5,238.5 1287.3,237.9 1288.1,238.4 1288.9,236.5 1289.7,239.6 1290.5,241.6 1291.3,241.3 1292.1,236.1 1292.9,241.7 1293.7,237.7 1294.5,235.6 1295.3,236.9 1296.1,237.4 1296.9,239.3 1297.7,237.3 1298.5,236.4 1299.3,238.8 1300.1,243.0 1300.9,238.1 1301.7,240.3 1302.5,239.6 1303.3,244.5 1304.1,235.9 1304.9,241.6 1305.7,237.1 1306.5,238.4 1307.3,239.4 1308.1,245.6 1308.9,238.2 1309.7,236.1 1310.5,242.1 1311.3,238.1 1312.1,239.2 1312.9,239.7 1313.7,239.9 1314.5,239.4 1315.3,240.3 1316.1,240.6 1316.9,241.5 1317.7,239.0 1318.5,238.4 1319.3,237.9 1320.1,241.0 1320.9,239.8 1321.7,241.0 1322.5,241.0 1323.3,243.2 1324.1,240.4 1324.9,241.4 1325.7,237.7 1326.5,237.9 1327.3,239.3 1328.1,237.5 1328.9,241.1 1329.7,237.1 1330.1,238.4 1330.4,239.3 1330.5,239.6 1330.7,238.2 1331.0,236.3 1331.3,234.4 1331.3,234.4 1331.6,235.2 1331.9,235.9 1332.1,236.4 1332.2,236.4 1332.5,236.6 1332.8,236.5 1332.9,236.5 1333.1,235.9 1333.4,234.7 1333.7,232.8 1333.7,232.7 1334.0,228.5 1334.3,222.8 1334.5,218.4 1334.6,216.5 1334.9,212.1 1335.2,212.2 1335.3,213.5 1335.5,217.4 1335.8,224.1 1336.1,229.5 1336.1,229.6 1336.4,232.6 1336.7,234.2 1336.9,234.6 1337.0,234.3 1337.3,233.1 1337.6,230.8 1337.7,229.9 1337.9,228.2 1338.2,225.5 1338.5,224.0 1338.5,224.0 1338.8,225.0 1339.1,227.7 1339.3,229.4 1339.4,230.9 1339.7,234.3 1340.0,237.0 1340.1,237.7 1340.3,238.7 1340.6,239.8 1340.9,240.7 1340.9,240.6 1341.2,239.4 1341.5,238.0 1341.7,237.1 1341.8,236.8 1342.1,235.8 1342.4,234.7 1342.5,234.4 1342.7,235.0 1343.0,235.8 1343.3,236.2 1343.3,236.2 1343.6,235.1 1343.9,233.1 1344.1,231.2 1344.2,228.8 1344.5,220.9 1344.8,211.2 1344.9,208.2 1345.1,205.2 1345.4,205.9 1345.7,213.0 1345.7,213.2 1346.0,221.9 1346.3,229.2 1346.5,232.8 1346.6,233.6 1346.9,234.8 1347.2,234.7 1347.3,234.4 1347.5,234.0 1347.8,232.3 1348.1,229.6 1348.1,229.5 1348.4,226.1 1348.7,224.0 1348.9,224.4 1349.0,225.5 1349.3,229.6 1349.6,233.8 1349.7,234.8 1349.9,235.7 1350.2,236.1 1350.5,235.9 1350.5,235.9 1350.8,236.7 1351.1,237.3 1351.3,237.6 1351.4,238.1 1351.7,239.3 1352.0,240.4 1352.1,240.7 1352.3,240.3 1352.6,239.7 1352.9,239.1 1352.9,239.1 1353.2,239.9 1353.7,241.1 1354.5,237.2 1355.3,242.4 1356.1,242.7 1356.9,241.2 1357.7,241.6 1358.5,244.4 1359.3,239.3 1360.1,239.7 1360.9,239.4 1361.7,240.7 1362.5,239.7 1363.3,241.7 1364.1,240.5 1364.9,239.0 1365.7,238.8 1366.5,244.1 1367.3,241.7 1368.1,241.5 1368.9,242.0 1369.7,241.8 1370.5,243.4 1371.3,243.1 1372.1,241.0 1372.9,240.6 1373.7,240.1 1374.5,239.8 1375.3,244.9 1376.1,240.5 1376.9,238.5 1377.7,240.7 1378.5,240.9 1379.3,243.0 1380.1,240.7 1380.9,243.5 1381.7,243.2 1382.5,244.9 1383.3,246.7 1384.1,248.0 1384.9,245.2 1385.7,240.5 1386.5,241.9 1387.3,243.2 1388.1,246.7 1388.9,244.1 1389.7,245.1 1390.5,242.5 1391.3,244.0 1392.1,244.3 1392.9,242.1 1393.7,244.4 1394.5,245.0 1395.3,242.7 1396.1,245.0 1396.9,246.2 1397.7,243.2 1398.5,243.1 1399.3,242.6 1400.1,242.0 1400.9,243.5 1401.7,242.4 1402.5,242.6 1403.3,241.8 1404.1,240.4 1404.9,241.5 1405.7,243.9 1406.5,241.1 1407.3,242.1 1408.1,246.5 1408.9,245.5 1409.7,242.1 1410.5,244.6 1411.3,242.2 1412.1,246.6 1412.9,242.4 1413.7,243.7 1414.5,246.2 1415.3,242.0 1416.1,246.0 1416.9,242.0 1417.7,244.0 1418.5,243.0 1419.3,243.5 1420.1,243.9 1420.9,243.5 1421.7,241.7 1422.5,245.3 1423.3,245.1 1424.1,246.1 1424.9,246.3 1425.7,241.2 1426.5,246.2 1427.3,246.2 1428.1,242.7 1428.9,245.7 1429.7,246.5 1430.5,242.7 1431.3,241.1 1432.1,243.1 1432.9,249.1 1433.7,244.2 1434.5,241.5 1435.3,243.3 1436.1,241.9 1436.9,243.0 1437.7,243.9 1438.5,238.9 1439.3,244.4 1440.1,246.4 1440.9,243.3 1441.7,242.9 1442.5,245.7 1443.3,241.2 1444.1,241.1 1444.9,240.8 1445.7,243.0 1446.5,244.0 1447.3,242.9 1448.1,244.0 1448.9,244.3 1449.7,243.4 1450.5,240.6 1451.3,241.3 1452.1,243.7 1452.9,238.7 1453.7,239.5 1454.4,238.4 1454.5,238.4 1454.7,238.2 1455.0,237.9 1455.3,237.7 1455.3,237.5 1455.6,236.3 1455.9,235.1 1456.1,234.5 1456.2,234.0 1456.5,233.0 1456.8,231.9 1456.9,231.7 1457.1,233.0 1457.4,234.1 1457.7,234.6 1457.7,234.0 1458.0,229.5 1458.3,223.3 1458.5,219.3 1458.6,214.7 1458.9,203.9 1459.2,193.7 1459.3,192.5 1459.5,191.6 1459.8,198.5 1460.1,206.4 1460.1,208.0 1460.4,215.8 1460.7,221.1 1460.9,223.0 1461.0,223.8 1461.3,224.4 1461.6,223.8 1461.7,223.6 1461.9,223.4 1462.2,222.0 1462.5,219.8 1462.5,219.0 1462.8,213.7 1463.1,209.2 1463.3,208.3 1463.4,209.2 1463.7,213.5 1464.0,218.6 1464.1,219.3 1464.3,222.6 1464.6,225.5 1464.9,227.2 1464.9,227.4 1465.2,228.4 1465.5,229.0 1465.7,229.3 1465.8,228.9 1466.1,228.1 1466.4,227.2 1466.5,227.0 1466.7,228.9 1467.0,231.2 1467.3,233.0 1467.3,233.1 1468.1,234.7 1468.9,236.2 1469.7,234.5 1470.5,238.2 1471.3,238.9 1472.1,236.1 1472.9,236.2 1473.7,242.0 1474.5,240.0 1475.3,244.3 1476.1,247.0 1476.9,242.3 1477.7,242.5 1478.5,244.1 1479.3,245.7 1480.1,242.5 1480.9,247.3 1481.7,247.0 1482.5,246.5 1483.3,244.3 1484.1,247.2 1484.9,247.2 1485.5,244.4 1485.7,243.3 1485.8,243.9 1486.1,246.3 1486.4,248.6 1486.5,249.5 1486.7,248.5 1487.0,246.7 1487.3,245.0 1487.3,244.8 1487.6,245.2 1487.9,245.5 1488.1,245.7 1488.2,245.5 1488.5,244.6 1488.8,243.4 1488.9,242.9 1489.1,242.7 1489.4,242.0 1489.7,240.3 1489.7,240.1 1490.0,237.4 1490.3,234.4 1490.5,233.8 1490.6,233.6 1490.9,235.2 1491.2,237.5 1491.3,238.1 1491.5,239.3 1491.8,240.3 1492.1,240.7 1492.1,240.7 1492.4,241.9 1492.7,243.0 1492.9,243.5 1493.0,243.3 1493.3,242.3 1493.6,240.7 1493.7,239.9 1493.9,239.2 1494.2,237.8 1494.5,237.6 1494.5,237.7 1494.8,239.5 1495.1,241.9 1495.3,243.4 1495.4,243.7 1495.7,244.7 1496.0,245.4 1496.1,245.6 1496.3,246.4 1496.6,247.6 1496.9,248.7 1496.9,248.8 1497.2,247.4 1497.5,245.8 1497.7,244.7 1497.8,245.0 1498.1,246.0 1498.4,247.1 1498.5,247.5 1499.3,246.0 1500.1,249.7 1500.9,252.0 1501.7,247.8 1502.5,250.5 1503.3,246.4 1504.1,244.4 1504.9,245.1 1505.7,244.5 1506.5,245.8 1507.3,247.2 1508.1,249.9 1508.9,249.1 1509.7,248.7 1510.5,247.0 1511.3,246.5 1512.1,248.0 1512.9,248.2 1513.7,248.5 1514.5,248.7 1515.3,247.9 1516.1,244.5 1516.9,246.0 1517.7,246.6 1518.5,251.5 1519.3,247.5 1520.1,249.6 1520.9,251.1 1521.7,249.0 1522.5,247.7 1523.3,247.9 1524.1,246.5 1524.9,249.1 1525.7,250.7 1526.5,249.6 1527.3,250.1 1528.1,250.0 1528.9,252.5 1529.7,247.5 1530.5,249.0 1531.3,250.1 1532.1,251.1 1532.9,244.2 1533.7,247.8 1534.5,248.4 1535.3,246.9 1536.1,250.5 1536.9,249.3 1537.7,248.2 1538.5,245.8 1539.3,246.4 1539.8,246.8 1540.1,247.0 1540.1,247.0 1540.4,248.0 1540.7,249.0 1540.9,249.7 1541.0,249.4 1541.3,248.2 1541.6,246.9 1541.7,246.5 1541.9,246.0 1542.2,245.4 1542.5,244.7 1542.5,244.6 1542.8,244.9 1543.1,245.1 1543.3,245.1 1543.4,245.2 1543.7,245.1 1544.0,244.3 1544.1,243.8 1544.3,243.3 1544.6,242.2 1544.9,243.2 1544.9,243.3 1545.2,246.3 1545.5,249.4 1545.7,251.0 1545.8,250.8 1546.1,249.5 1546.4,247.9 1546.5,247.2 1546.7,248.0 1547.0,249.1 1547.3,250.1 1547.3,250.1 1547.6,250.3 1547.9,250.3 1548.1,250.0 1548.2,249.8 1548.5,248.5 1548.8,247.2 1548.9,247.0 1549.1,246.7 1549.4,247.1 1549.7,247.3 1549.7,247.3 1550.0,247.2 1550.3,246.7 1550.5,246.3 1550.6,246.5 1550.9,247.3 1551.2,247.9 1551.3,248.2 1551.5,247.6 1551.8,246.7 1552.1,245.8 1552.1,245.7 1552.4,247.2 1552.7,248.7 1552.9,249.8 1553.7,250.9 1554.5,245.9 1555.3,249.4 1556.1,250.1 1556.9,252.0 1557.7,252.2 1558.5,251.2 1559.3,248.4 1560.1,249.0 1560.9,252.0 1561.7,248.6 1562.5,249.7 1563.3,252.8 1564.1,250.1 1564.9,247.3 1565.7,249.3 1566.5,251.1 1567.3,249.6 1568.1,252.2 1568.9,252.4 1569.7,248.8 1570.5,249.1 1571.3,249.9 1572.1,247.8 1572.9,250.8 1573.7,249.8 1574.5,251.6 1575.3,249.0 1576.1,248.5 1576.9,253.6 1577.4,250.0 1577.7,248.5 1577.7,248.5 1578.0,248.7 1578.3,248.9 1578.5,249.0 1578.6,248.9 1578.9,248.7 1579.2,248.6 1579.3,248.6 1579.5,248.8 1579.8,249.0 1580.1,249.1 1580.1,249.0 1580.4,248.4 1580.7,247.6 1580.9,247.2 1581.0,247.2 1581.3,246.9 1581.6,245.8 1581.7,245.6 1581.9,242.6 1582.2,238.7 1582.5,237.2 1582.5,237.5 1582.8,240.7 1583.1,244.2 1583.3,245.4 1583.4,246.6 1583.7,248.3 1584.0,249.5 1584.1,249.6 1584.3,250.1 1584.6,250.5 1584.9,250.7 1584.9,250.7 1585.2,250.4 1585.5,249.9 1585.7,249.6 1585.8,248.7 1586.1,246.6 1586.4,244.0 1586.5,243.7 1586.7,243.8 1587.0,245.9 1587.3,247.9 1587.3,248.2 1587.6,249.0 1587.9,249.4 1588.1,249.4 1588.2,249.6 1588.5,249.8 1588.8,250.0 1588.9,250.0 1589.1,249.1 1589.4,248.0 1589.7,247.1 1589.7,247.5 1590.0,249.3 1590.3,251.0 1590.5,251.8 1591.3,250.4 1592.1,253.9 1592.9,251.9 1593.7,248.6 1594.5,248.2 1595.3,253.0 1596.1,249.2 1596.9,252.2 1597.7,250.4 1598.5,255.0 1599.3,251.2 1600.1,253.9 1600.9,253.6 1601.7,250.2 1602.5,250.5 1603.3,254.0 1604.1,251.2 1604.9,249.6 1605.7,253.5 1606.5,256.2 1607.3,251.2 1608.1,254.0 1608.9,251.1 1609.7,254.0 1610.5,251.0 1611.3,254.0 1612.1,252.5 1612.9,251.2 1613.7,252.0 1614.5,250.6 1615.3,249.5 1616.1,249.6 1616.9,251.6 1617.7,249.7 1618.5,252.6 1619.3,252.8 1620.1,252.7 1620.9,250.9 1621.7,252.0 1622.5,251.8 1623.3,254.4 1624.1,250.4 1624.9,251.2 1625.7,251.6 1626.5,251.8 1627.3,250.6 1628.1,250.9 1628.9,254.0 1629.7,250.9 1630.5,253.9 1631.3,256.1 1632.1,254.6 1632.9,248.8 1633.7,253.7 1634.5,253.2 1635.3,253.4 1636.1,249.3 1636.9,253.8 1637.7,250.3 1638.5,254.9 1639.3,254.5 1640.1,257.3 1640.9,251.8 1641.7,249.6 1642.5,254.5 1643.3,254.2 1644.1,251.9 1644.9,255.2 1645.7,253.9 1646.5,250.2 1647.3,252.0 1648.1,251.9 1648.9,252.5 1649.7,253.1 1650.5,251.5 1651.3,252.4 1652.1,253.9 1652.9,252.7 1653.7,252.4 1654.5,252.3 1655.3,252.7 1656.1,249.3 1656.9,253.3 1657.7,251.0 1658.5,253.2 1659.3,250.2 1660.1,254.8 1660.9,253.5 1661.7,250.5 1662.5,253.5 1663.3,251.6 1663.9,255.2 1664.1,256.4 1664.2,256.1 1664.5,255.2 1664.8,254.2 1664.9,253.9 1665.1,253.3 1665.4,252.3 1665.7,251.3 1666.0,252.0 1666.3,252.6 1666.5,253.0 1666.6,252.9 1666.9,252.5 1667.2,252.1 1667.3,251.9 1667.5,252.2 1667.8,252.5 1668.1,252.6 1668.4,251.1 1668.7,249.8 1668.9,249.3 1669.0,249.4 1669.3,250.0 1669.6,250.9 1669.7,251.2 1669.9,251.0 1670.2,250.5 1670.5,249.8 1670.8,251.4 1671.1,253.0 1671.3,253.9 1671.4,254.2 1671.7,255.2 1672.0,256.0 1672.1,256.3 1672.3,255.4 1672.6,254.1 1672.9,252.7 1673.2,251.9 1673.5,251.2 1673.7,251.0 1673.8,251.2 1674.1,251.8 1674.4,252.3 1674.5,252.5 1674.7,252.2 1675.0,251.7 1675.3,251.1 1675.6,252.1 1675.9,253.0 1676.1,253.6 1676.2,253.3 1676.5,252.5 1676.8,251.6 1676.9,251.3 1677.7,253.6 1678.5,252.8 1679.3,252.0 1680.1,254.8 1680.9,250.9 1681.7,253.7 1682.5,251.3 1683.3,257.3 1684.1,257.6 1684.9,255.5 1685.7,257.5 1686.5,255.1 1687.3,255.0 1688.1,253.2 1688.9,252.3 1689.7,254.3 1690.5,253.1 1691.3,253.3 1692.1,255.5 1692.9,253.9 1693.7,251.2 1694.5,253.8 1695.3,252.8 1696.1,253.7 1696.9,252.2 1697.7,256.6 1698.5,258.0 1699.3,252.2 1700.1,255.6 1700.9,255.5 1701.7,252.4 1702.5,254.7 1703.3,257.2 1704.1,256.1 1704.9,257.6 1705.7,252.3 1706.5,253.1 1707.3,255.1 1708.1,255.2 1708.2,255.1 1708.5,254.9 1708.8,254.7 1708.9,254.6 1709.1,254.4 1709.4,254.0 1709.7,253.8 1709.7,253.8 1710.0,253.7 1710.3,253.7 1710.5,253.6 1710.6,253.5 1710.9,253.3 1711.2,253.0 1711.3,252.9 1711.5,253.4 1711.8,253.8 1712.1,254.0 1712.1,253.7 1712.4,250.6 1712.7,247.3 1712.9,245.4 1713.0,246.4 1713.3,249.3 1713.6,253.2 1713.7,254.2 1713.9,253.8 1714.2,253.2 1714.5,252.4 1714.5,252.4 1714.8,252.1 1715.1,251.7 1715.3,251.5 1715.4,252.1 1715.7,253.6 1716.0,255.0 1716.1,255.3 1716.3,254.2 1716.6,252.7 1716.9,251.3 1716.9,251.4 1717.2,252.3 1717.5,253.0 1717.7,253.5 1717.8,253.1 1718.1,252.5 1718.4,252.4 1718.5,252.4 1718.7,253.4 1719.0,254.6 1719.3,255.5 1719.3,255.5 1719.6,255.9 1719.9,256.1 1720.1,256.3 1720.2,256.5 1720.5,256.9 1720.8,257.3 1720.9,257.4 1721.1,256.5 1721.7,254.1 1722.5,254.5 1723.3,255.1 1724.1,252.5 1724.9,256.4 1725.7,255.5 1726.5,252.8 1727.3,257.7 1728.1,258.0 1728.9,252.9 1729.7,256.5 1730.5,257.9 1731.3,257.1 1732.1,253.7 1732.9,252.9 1733.7,255.4 1734.5,254.7 1735.3,255.7 1736.1,255.5 1736.9,256.8 1737.7,254.7 1738.5,255.5 1739.3,261.5 1740.1,255.6 1740.9,257.3 1741.7,256.5 1742.5,256.4 1743.3,254.3 1744.1,257.1 1744.9,256.0 1745.7,257.7 1746.5,260.0 1747.3,256.5 1748.1,257.7 1748.9,254.3 1749.7,256.5 1750.5,259.3 1751.3,256.2 1752.1,255.2 1752.9,256.8 1753.7,256.1 1754.5,256.0 1755.3,255.8 1756.1,260.3 1756.9,254.9 1757.7,255.8 1758.5,255.6 1759.3,259.0 1760.1,256.2 1760.9,259.2 1761.7,257.1 1762.5,256.8 1763.3,254.1 1764.1,259.2 1764.9,257.9 1765.7,257.7 1766.5,256.8 1767.3,256.2 1768.1,254.6 1768.9,258.9 1769.7,257.6 1770.5,256.5 1771.3,256.0 1772.1,257.4 1772.9,257.1 1773.7,260.4 1774.5,258.8 1775.3,256.2 1776.1,255.3 1776.9,257.0 1777.7,255.7 1778.5,257.6 1779.3,258.3 1780.1,258.8 1780.9,258.4 1781.7,257.3 1782.5,258.8 1783.3,256.0 1784.1,257.6 1784.9,259.3 1785.7,258.3 1786.5,255.4 1787.3,255.7 1788.1,254.8 1788.9,261.4 1789.7,255.0 1790.5,257.7 1791.3,261.5 1792.1,260.1 1792.9,260.6 1793.7,257.2 1794.5,259.6 1795.3,264.0 1796.1,258.2 1796.9,259.0 1797.7,257.7 1798.5,258.3 1799.3,259.1 1800.1,261.0 1800.9,256.7 1801.7,255.8 1802.5,258.5 1803.3,258.9 1804.1,261.2 1804.9,260.0 1805.7,257.4 1806.5,259.7 1807.3,260.8 1808.1,259.3 1808.9,258.1 1809.7,260.1 1810.5,258.2 1811.3,255.3 1812.1,261.4 1812.9,256.5 1813.7,258.3 1814.5,258.4 1815.3,258.4 1816.1,258.5 1816.9,256.4 1817.7,260.1 1818.5,259.2 1819.3,259.3 1820.1,261.3 1820.9,261.3 1821.7,261.8 1822.5,262.8 1823.3,260.2 1824.1,256.5 1824.9,259.8 1825.7,259.5 1826.5,259.6 1827.3,258.4 1828.1,257.9 1828.9,261.1 1829.7,261.5 1830.5,257.5 1831.3,260.7 1832.1,259.4 1832.9,259.0 1833.7,261.1 1834.5,259.7 1835.3,258.8 1836.1,260.0 1836.9,256.1 1837.7,258.8 1838.5,259.1 1839.3,257.4 1840.1,260.4 1840.9,260.6 1841.7,259.0 1842.5,259.8 1843.3,261.4 1844.1,262.2 1844.9,258.8 1845.7,260.9 1846.5,262.3 1847.3,260.3 1848.1,258.9 1848.9,258.9 1849.7,259.8 1850.5,258.5 1851.3,264.3 1852.1,259.4 1852.9,261.3 1853.7,260.9 1854.5,261.8 1855.3,259.9 1856.1,258.2 1856.9,263.8 1857.7,260.6 1858.5,261.0 1859.3,261.2 1860.1,263.2 1860.9,262.3 1861.7,263.1 1862.5,262.5 1863.3,261.3 1864.1,261.5 1864.9,259.6 1865.7,257.4 1866.5,260.6 1867.3,259.1 1868.1,266.1 1868.9,264.2 1869.7,263.4 1870.5,260.2 1871.3,265.2 1872.1,258.1 1872.9,259.1 1873.7,259.9 1874.5,259.6 1875.3,261.7 1876.1,261.9 1876.9,265.1 1877.7,263.4 1878.5,263.9 1879.3,262.4 1880.1,261.4 1880.9,260.4 1881.7,258.8 1882.5,260.1 1883.3,261.1 1884.1,263.3 1884.9,258.6 1885.7,259.3 1886.5,262.3 1887.3,259.9 1888.1,262.6 1888.9,261.2 1889.7,260.6 1890.5,259.5 1891.3,261.9 1892.1,260.8 1892.9,261.0 1893.7,261.0 1894.5,262.6 1895.3,262.5 1896.1,259.0 1896.9,262.0 1897.7,263.1 1898.5,264.4 1899.3,263.9 1900.1,262.9 1900.9,260.3 1901.7,261.1 1902.5,264.3 1903.3,261.2 1904.1,264.6 1904.9,265.1 1905.7,260.7 1906.5,263.5 1907.3,262.5 1908.1,266.6 1908.9,264.4 1909.7,261.9 1910.5,263.6 1911.3,261.2 1912.1,262.6 1912.9,263.4 1913.7,263.3 1914.5,263.6 1915.3,261.3 1916.1,259.6 1916.9,262.4 1917.7,261.5 1918.5,261.9 1919.3,267.3 1920.1,265.5 1920.9,263.0 1921.7,260.6 1922.5,260.9 1923.3,264.1 1924.1,265.4 1924.9,262.9 1925.7,263.7 1926.5,264.0 1927.3,265.6 1928.1,260.0 1928.9,263.9 1929.7,264.4 1930.5,265.5 1931.3,264.4 1932.1,261.6 1932.9,262.7 1933.7,260.9 1934.5,264.2 1935.3,264.2 1936.1,264.9 1936.9,262.1 1937.7,261.8 1938.5,266.9 1939.3,264.4 1940.1,267.4 1940.9,264.9 1941.7,261.3 1942.5,265.7 1943.3,266.5 1944.1,263.3 1944.9,260.6 1945.7,265.5 1946.5,264.0 1947.3,264.9 1948.1,259.3 1948.9,265.3 1949.7,259.2 1950.5,262.8 1951.3,266.2 1952.1,261.1 1952.9,261.0 1953.7,263.7 1954.5,267.7 1955.3,267.7 1956.1,263.5 1956.9,266.6 1957.7,265.8 1958.5,265.3 1959.3,265.5 1960.1,263.5 1960.9,266.4 1961.7,266.9 1962.5,270.1 1963.3,266.7 1964.1,260.3 1964.9,262.7 1965.7,265.7 1966.5,265.2 1967.3,261.6 1968.1,264.9 1968.9,264.5 1969.7,265.1 1970.5,265.0 1971.3,267.0 1972.1,268.1 1972.9,266.6 1973.7,263.3 1974.5,263.8 1975.3,264.2 1976.1,265.4 1976.9,264.7 1977.7,264.9 1978.5,263.8 1979.3,267.4 1980.1,267.2 1980.9,267.5 1981.7,265.5 1982.5,266.6 1983.3,264.0 1984.1,263.9 1984.9,264.8 1985.7,267.0 1986.5,265.6 1987.3,263.7 1988.1,266.1 1988.9,266.8 1989.7,266.3 1990.5,264.8 1991.3,266.2 1992.1,265.3 1992.9,265.5 1993.7,266.0 1994.5,267.6 1995.3,269.7 1996.1,269.2 1996.9,267.5 1997.7,265.6 1998.5,265.8 1999.3,265.9 2000.1,268.6 2000.9,261.2 2001.7,267.0 2002.5,262.7 2003.3,266.5 2004.1,269.1 2004.9,264.9 2005.7,262.3 2006.5,269.1 2007.3,269.6 2008.1,267.7 2008.9,269.2 2009.7,265.3 2010.5,269.1 2011.3,270.1 2012.1,268.1 2012.9,267.5 2013.7,269.4 2014.5,269.1 2015.3,265.6 2016.1,269.6 2016.9,268.5 2017.7,267.4 2018.5,269.6 2019.3,268.9 2020.1,268.6 2020.9,266.3 2021.7,268.8 2022.5,265.2 2023.3,267.1 2024.1,264.1 2024.9,264.1 2025.7,268.2 2026.5,267.2 2027.3,267.6 2028.1,268.6 2028.9,268.1 2029.7,265.8 2030.5,267.6 2031.3,267.4 2032.1,266.6 2032.9,267.3 2033.7,266.9 2034.5,266.4 2035.3,267.0 2036.1,268.1 2036.9,271.5 2037.7,266.1 2038.5,268.6 2039.3,264.9 2040.1,270.7 2040.9,267.0 2041.7,267.9 2042.5,270.1 2043.3,269.5 2044.1,264.8 2044.9,268.7 2045.7,267.2 2046.5,268.8 2047.3,267.9 2048.1,269.0 2048.9,268.2 2049.7,267.4 2050.5,269.9 2051.3,264.7 2052.1,266.8 2052.9,265.8 2053.7,267.3 2054.5,266.7 2055.3,267.3 2056.1,266.6 2056.9,266.6 2057.7,264.4 2058.5,267.4 2059.3,268.1 2060.1,266.3 2060.9,266.2 2061.7,266.2 2062.5,270.6 2063.3,267.8 2064.1,268.1 2064.9,266.8" fill="none" stroke="#C80000" stroke-width="1.9" stroke-linejoin="miter"/>
<polyline points="181.7,423.3 182.5,422.3 183.3,422.5 184.1,419.5 184.9,425.7 185.7,424.8 186.5,422.7 187.3,424.3 188.1,423.6 188.9,422.4 189.7,424.6 190.5,422.8 191.3,422.8 192.1,422.1 192.9,424.0 193.7,423.2 194.5,424.1 195.3,422.5 196.1,423.6 196.9,422.1 197.7,424.6 198.5,423.7 199.3,424.0 200.1,424.1 200.9,422.1 201.7,424.7 202.5,426.6 203.3,421.2 204.1,421.1 204.9,421.5 205.7,424.9 206.5,423.9 207.3,425.3 208.1,424.8 208.9,424.0 209.7,424.2 210.5,423.5 211.3,425.0 212.1,422.1 212.9,423.2 213.7,424.2 214.5,426.4 215.3,422.7 216.1,422.3 216.9,423.0 217.7,425.2 218.5,423.5 219.3,425.7 220.1,421.1 220.9,425.4 221.7,425.3 222.5,421.7 223.3,423.9 224.1,425.4 224.9,423.8 225.7,425.1 226.5,427.0 227.3,423.9 228.1,423.1 228.9,422.3 229.7,424.3 230.5,423.0 231.3,423.0 232.1,423.1 232.9,424.1 233.7,421.5 234.5,420.8 235.3,419.4 236.1,424.5 236.9,422.8 237.7,424.8 238.5,422.5 239.3,421.3 240.1,423.0 240.9,422.1 241.7,420.3 242.5,420.7 243.3,424.4 244.1,422.2 244.9,422.2 245.7,421.1 246.5,420.3 247.3,422.5 248.1,420.9 248.9,419.8 249.7,420.6 250.5,419.3 251.3,420.8 252.1,422.0 252.9,419.0 253.7,422.1 254.5,418.9 255.3,419.9 256.1,418.3 256.9,419.0 257.7,419.2 258.5,418.4 259.3,417.8 260.1,417.7 260.9,417.3 261.7,416.0 262.5,417.7 263.3,418.5 264.1,419.0 264.9,418.5 265.7,420.9 266.5,417.6 267.3,416.3 268.1,419.5 268.9,415.1 269.7,417.8 270.5,414.8 271.3,416.5 272.1,412.9 272.9,416.9 273.7,415.1 274.5,413.8 275.3,417.4 276.1,415.9 276.9,414.6 277.7,413.3 278.5,414.1 279.3,413.7 280.1,414.8 280.9,414.7 281.7,412.4 282.5,412.3 283.3,412.1 284.1,410.7 284.9,411.6 285.7,412.2 286.5,413.1 287.3,413.8 288.1,410.5 288.9,412.3 289.7,410.7 290.5,414.1 291.3,410.8 292.1,411.4 292.9,409.1 293.7,409.1 294.5,410.4 295.3,409.4 296.1,410.2 296.9,407.3 297.7,410.3 298.5,407.9 299.3,411.5 300.1,408.4 300.9,410.2 301.7,406.4 302.5,408.9 303.3,406.8 304.1,407.2 304.9,407.7 305.7,407.1 306.5,407.7 307.3,408.3 308.1,408.0 308.9,406.7 309.7,404.7 310.5,405.3 311.3,406.1 312.1,403.1 312.9,407.1 313.7,405.5 314.5,405.3 315.3,406.9 316.1,406.3 316.9,405.5 317.7,403.6 318.5,405.3 319.3,405.2 320.1,403.3 320.9,406.0 321.7,405.0 322.5,401.3 323.3,404.2 324.1,402.0 324.9,405.4 325.7,404.7 326.5,401.8 327.3,402.0 328.1,403.3 328.9,402.7 329.7,405.1 330.5,403.8 331.3,402.2 332.1,403.3 332.9,399.4 333.7,402.7 334.5,403.4 335.3,401.8 336.1,400.9 336.9,402.6 337.7,404.5 338.5,401.8 339.3,399.8 340.1,403.4 340.9,398.5 341.7,401.8 342.5,400.1 343.3,402.2 344.1,399.5 344.9,402.6 345.7,401.0 346.5,398.0 347.3,397.5 348.1,399.8 348.9,402.0 349.7,400.3 350.5,400.1 351.3,399.5 352.1,400.9 352.9,400.2 353.7,400.0 354.5,398.1 355.3,401.2 356.1,401.3 356.9,397.4 357.7,402.5 358.5,400.2 359.3,398.3 360.1,396.2 360.9,399.8 361.7,399.6 362.5,397.9 363.3,396.1 364.1,400.2 364.9,397.7 365.7,397.8 366.5,402.5 367.3,401.4 368.1,399.6 368.9,397.5 369.7,399.1 370.5,394.7 371.3,398.1 372.1,396.8 372.9,396.0 373.7,395.5 374.5,398.5 375.3,397.8 376.1,397.9 376.9,398.8 377.7,396.3 378.5,395.7 379.3,394.8 380.1,396.9 380.9,398.4 381.7,397.0 382.5,398.1 383.3,395.4 384.1,396.4 384.9,395.9 385.7,395.2 386.5,399.7 387.3,398.1 388.1,395.8 388.9,395.7 389.7,396.7 390.5,394.6 391.3,397.3 392.1,394.8 392.9,396.1 393.7,395.1 394.5,395.8 395.3,394.6 396.1,394.2 396.9,395.0 397.7,395.4 398.5,395.9 399.3,396.4 400.1,398.5 400.9,397.4 401.7,395.8 402.5,397.2 403.3,395.2 404.1,398.2 404.9,396.9 405.7,394.1 406.5,397.1 407.3,397.2 408.1,392.1 408.9,394.9 409.7,395.3 410.5,393.1 411.3,394.4 412.1,394.5 412.9,396.6 413.7,396.3 414.5,399.7 415.3,395.3 416.1,397.5 416.9,395.9 417.7,396.2 418.5,394.1 419.3,393.0 420.1,394.7 420.9,396.9 421.7,398.1 422.5,396.6 423.3,396.5 424.1,394.5 424.9,398.0 425.7,397.7 426.5,395.0 427.3,395.7 428.1,394.3 428.9,397.8 429.7,396.3 430.5,395.6 431.3,396.3 432.1,396.4 432.9,395.1 433.7,393.9 434.5,393.9 435.3,393.2 436.1,396.4 436.9,398.9 437.7,393.3 438.5,395.9 439.3,396.3 440.1,394.3 440.9,396.0 441.7,394.2 442.5,397.5 443.3,394.9 444.1,395.9 444.9,396.8 445.7,395.1 446.5,393.2 447.3,395.0 448.1,396.9 448.9,395.7 449.7,396.1 450.5,394.2 451.3,396.0 452.1,396.9 452.9,395.9 453.7,398.6 454.5,395.5 455.3,394.3 456.1,393.5 456.9,397.5 457.7,395.8 458.5,397.3 459.3,396.5 460.1,398.2 460.9,397.7 461.7,395.3 462.5,396.3 463.3,397.5 464.1,394.1 464.9,398.0 465.7,397.7 466.5,397.4 467.3,395.7 468.1,396.4 468.9,394.4 469.7,396.1 470.5,395.2 471.3,396.2 472.1,395.3 472.9,396.5 473.7,397.8 474.5,394.2 475.3,397.5 476.1,393.3 476.9,393.0 477.7,396.0 478.5,396.2 479.3,396.9 480.1,393.8 480.9,396.2 481.7,396.5 482.5,398.1 483.3,396.2 484.1,397.1 484.9,394.9 485.7,396.1 486.5,395.7 487.3,397.4 488.1,395.0 488.9,395.2 489.7,397.3 490.3,398.6 490.5,399.0 490.6,398.7 490.9,397.9 491.2,397.2 491.3,397.0 491.5,396.9 491.8,396.9 492.1,396.8 492.1,396.8 492.4,396.4 492.7,396.0 492.9,395.7 493.0,396.0 493.3,396.6 493.6,397.2 493.7,397.4 493.9,396.9 494.2,396.1 494.5,394.9 494.5,394.8 494.8,393.8 495.1,392.4 495.3,392.0 495.4,391.7 495.7,392.0 496.0,392.1 496.1,392.0 496.3,391.8 496.6,392.1 496.9,392.7 496.9,392.8 497.2,394.0 497.5,394.7 497.7,395.1 497.8,395.1 498.1,395.1 498.4,395.0 498.5,395.0 498.7,394.9 499.0,394.9 499.3,394.8 499.3,394.9 499.6,396.3 499.9,397.7 500.1,398.5 500.2,398.4 500.5,398.2 500.8,398.0 500.9,397.9 501.1,397.1 501.4,396.1 501.7,395.0 501.7,395.1 502.0,396.8 502.3,398.5 502.5,399.5 502.6,399.1 502.9,398.3 503.2,397.5 503.3,397.3 504.1,395.6 504.9,397.6 505.7,396.9 506.5,395.9 507.3,394.3 508.1,397.2 508.9,397.6 509.7,393.4 510.5,398.0 511.3,398.1 512.1,396.6 512.9,397.5 513.7,396.9 514.5,396.1 515.3,396.9 516.1,399.4 516.9,395.3 517.7,397.8 518.5,397.8 519.3,396.5 520.1,396.9 520.9,395.5 521.7,396.4 522.5,397.6 523.3,398.1 524.1,396.4 524.9,402.1 525.7,396.9 526.5,397.9 527.3,397.4 528.1,397.2 528.9,399.7 529.7,397.1 530.5,399.8 531.3,399.5 532.1,396.4 532.9,399.4 533.7,397.0 534.5,402.0 535.3,397.5 536.1,396.7 536.9,395.3 537.7,396.2 538.5,397.3 539.3,396.7 540.1,396.4 540.9,397.2 541.7,397.9 542.5,400.3 543.3,395.8 544.1,397.5 544.9,396.9 545.7,396.1 546.5,396.5 547.3,397.0 548.1,399.4 548.9,398.1 549.7,397.6 550.5,399.3 551.3,398.8 552.1,398.1 552.9,399.0 553.7,397.3 554.5,399.4 555.3,399.2 556.1,398.0 556.9,396.8 557.7,400.8 558.5,398.8 559.3,403.1 560.1,397.7 560.9,399.9 561.7,398.1 562.5,399.1 563.3,399.9 564.1,397.6 564.9,398.6 565.7,399.0 566.5,399.0 567.3,399.7 568.1,400.3 568.9,400.1 569.7,399.3 570.5,398.4 571.3,397.3 572.1,397.9 572.9,398.2 573.7,400.0 574.5,398.5 575.3,397.2 576.1,399.9 576.9,397.9 577.7,398.0 578.5,398.8 579.3,399.8 580.1,395.6 580.9,397.5 581.7,399.4 582.5,398.6 583.3,397.9 584.1,398.4 584.9,401.2 585.7,398.6 586.5,400.3 587.3,400.4 588.1,398.6 588.9,399.9 589.7,398.6 590.5,398.4 591.3,397.7 592.1,400.6 592.9,398.7 593.7,398.5 594.5,397.7 595.3,402.0 596.1,400.4 596.9,399.1 597.7,398.3 598.5,397.1 599.3,399.7 600.1,399.6 600.9,397.1 601.7,400.7 602.0,400.5 602.3,400.2 602.5,400.0 602.6,399.6 602.9,398.5 603.2,397.5 603.3,397.2 603.5,397.3 603.8,397.3 604.1,397.3 604.1,397.3 604.4,397.1 604.7,396.7 604.9,396.4 605.0,396.3 605.3,395.7 605.6,394.5 605.7,394.1 605.9,391.8 606.2,387.1 606.5,380.6 606.5,379.7 606.8,370.6 607.1,367.3 607.3,369.4 607.4,372.7 607.7,379.2 608.0,382.0 608.1,382.4 608.3,382.0 608.6,384.7 608.9,388.6 608.9,389.1 609.2,393.5 609.5,396.4 609.7,397.5 609.8,398.1 610.1,398.9 610.4,399.5 610.5,399.6 610.7,399.2 611.0,398.7 611.3,398.2 611.3,398.3 611.6,398.7 611.9,399.2 612.1,399.4 612.2,399.5 612.5,399.8 612.8,400.1 612.9,400.2 613.1,400.3 613.4,400.3 613.7,400.4 613.7,400.3 614.0,399.9 614.3,399.4 614.5,399.1 614.6,399.0 614.9,398.8 615.3,398.6 616.1,399.6 616.9,398.4 617.7,398.8 618.5,396.7 619.3,399.8 620.1,398.2 620.9,398.9 621.7,399.6 622.5,400.2 623.3,402.5 624.1,400.0 624.9,397.7 625.7,399.9 626.5,398.9 627.3,400.3 628.1,398.7 628.9,398.7 629.7,399.0 630.5,398.8 631.3,397.0 632.1,398.6 632.9,399.5 633.3,400.3 633.6,400.9 633.7,401.2 633.9,400.6 634.2,399.8 634.5,398.9 634.5,398.8 634.8,398.6 635.1,398.5 635.3,398.3 635.4,398.4 635.7,398.7 636.0,398.8 636.1,398.9 636.3,398.5 636.6,397.8 636.9,396.6 636.9,396.5 637.2,395.1 637.5,392.1 637.7,388.6 637.8,386.7 638.1,379.6 638.4,377.2 638.5,378.3 638.7,381.0 639.0,384.8 639.3,385.5 639.3,385.5 639.6,385.7 639.9,388.0 640.1,391.3 640.2,392.4 640.5,395.8 640.8,398.0 640.9,398.6 641.1,398.7 641.4,398.3 641.7,397.7 641.7,397.7 642.0,398.3 642.3,398.9 642.5,399.3 642.6,399.1 642.9,398.2 643.2,397.3 643.3,397.0 643.5,397.4 643.8,398.2 644.1,399.0 644.1,399.1 644.4,398.9 644.7,398.6 644.9,398.4 645.0,398.5 645.3,398.9 645.6,399.3 645.7,399.5 645.9,399.4 646.2,399.3 646.5,399.2 647.3,399.7 648.1,399.8 648.9,400.7 649.7,400.3 650.5,399.2 651.3,398.2 652.1,401.9 652.9,402.1 653.7,399.4 654.5,400.9 655.3,397.9 656.1,397.9 656.9,399.8 657.7,402.3 658.5,398.7 659.3,399.0 660.1,402.5 660.9,397.5 661.7,401.1 662.5,400.9 663.3,399.9 664.1,400.5 664.9,404.0 665.7,398.6 666.5,399.8 667.3,399.9 668.1,399.3 668.9,398.3 669.7,402.6 670.5,400.6 671.3,397.7 672.1,399.3 672.9,400.9 673.7,400.9 674.5,398.2 675.3,400.2 676.1,400.7 676.9,400.9 677.7,400.9 678.5,397.7 679.3,403.0 680.1,400.6 680.9,403.0 681.7,404.5 682.5,400.1 683.3,398.5 684.1,401.6 684.9,400.1 685.7,399.7 686.5,398.8 687.3,402.8 688.1,399.7 688.9,398.3 689.7,399.7 690.5,398.6 691.3,400.5 692.1,399.7 692.9,398.8 693.7,401.2 694.5,399.4 695.3,401.3 696.1,402.1 696.9,399.7 697.7,399.3 698.5,400.5 699.3,401.5 700.1,400.2 700.9,400.3 701.7,400.1 702.5,400.5 703.3,400.9 704.1,398.9 704.9,399.2 705.7,399.9 706.5,398.8 707.3,399.8 708.1,400.2 708.9,399.2 709.7,398.1 710.5,397.4 711.3,400.5 712.1,398.5 712.9,394.7 713.7,393.9 714.5,396.4 715.3,394.2 716.1,390.4 716.9,390.3 717.7,385.3 718.5,386.9 719.3,388.3 720.1,385.6 720.9,388.7 721.7,392.7 722.5,394.9 723.3,393.9 724.1,396.4 724.9,399.4 725.7,397.3 726.5,396.5 727.3,398.8 728.1,398.6 728.9,401.3 729.7,399.8 730.5,398.6 731.3,403.3 732.1,399.2 732.9,400.7 733.7,401.0 734.5,401.2 735.3,400.4 736.1,401.0 736.9,400.1 737.7,398.1 738.5,399.9 739.3,399.9 740.1,399.8 740.3,399.9 740.6,400.1 740.9,400.2 740.9,400.1 741.2,399.7 741.5,399.2 741.7,398.9 741.8,399.3 742.1,400.3 742.4,401.2 742.5,401.4 742.7,401.3 743.0,401.2 743.3,400.9 743.3,400.7 743.6,398.0 743.9,395.0 744.1,393.1 744.2,392.8 744.5,391.5 744.8,389.1 744.9,388.4 745.1,385.4 745.4,384.0 745.7,385.7 745.7,385.9 746.0,387.7 746.3,388.1 746.5,387.6 746.6,388.2 746.9,389.4 747.2,391.9 747.3,392.8 747.5,394.0 747.8,395.5 748.1,396.3 748.1,396.4 748.4,397.5 748.7,398.2 748.9,398.5 749.0,398.6 749.3,398.7 749.6,398.8 749.7,398.8 749.9,399.6 750.2,400.7 750.5,401.6 750.5,401.6 750.8,401.8 751.1,401.9 751.3,402.0 751.4,401.8 751.7,401.3 752.0,400.8 752.1,400.7 752.3,400.9 752.6,401.1 752.9,401.4 752.9,401.3 753.2,400.9 753.7,400.2 754.5,400.6 755.3,399.4 756.1,400.5 756.9,399.5 757.7,401.0 758.5,401.7 759.3,401.0 760.1,402.2 760.9,404.4 761.7,397.5 762.5,400.5 763.3,399.7 764.1,399.8 764.9,398.5 765.7,400.5 766.5,400.1 767.3,399.5 768.1,400.0 768.9,399.5 769.7,396.9 770.5,401.8 771.3,399.8 772.1,398.8 772.9,400.5 773.7,399.1 774.5,396.8 775.3,401.1 776.1,397.3 776.9,399.3 777.7,399.6 778.5,401.2 779.3,400.7 780.1,398.9 780.9,397.2 781.7,397.1 782.5,398.5 783.3,398.4 784.1,394.8 784.9,390.5 785.7,389.3 786.5,382.3 787.3,376.1 788.1,369.5 788.9,365.0 789.7,361.3 790.5,362.8 791.3,366.7 792.1,371.0 792.6,372.1 792.9,372.6 792.9,373.0 793.2,375.3 793.5,377.4 793.7,378.5 793.8,379.6 794.1,381.9 794.4,384.0 794.5,384.3 794.7,384.7 795.0,384.8 795.3,384.5 795.3,384.5 795.6,384.6 795.9,383.6 796.1,382.3 796.2,379.6 796.5,371.5 796.8,360.0 796.9,357.2 797.1,345.9 797.4,333.0 797.7,329.4 797.7,329.8 798.0,338.7 798.3,350.1 798.5,354.8 798.6,357.4 798.9,359.1 799.2,358.0 799.3,357.9 799.5,358.6 799.8,364.4 800.1,371.1 800.1,372.3 800.4,379.9 800.7,385.4 800.9,387.6 801.0,388.6 801.3,390.0 801.6,390.6 801.7,390.7 801.9,391.5 802.1,392.2 802.2,392.3 802.5,392.7 802.5,392.8 802.5,393.0 802.8,394.1 802.8,394.5 803.0,395.5 803.1,395.7 803.3,396.4 803.4,396.0 803.4,395.7 803.6,394.4 803.7,394.0 804.0,392.6 804.0,392.2 804.1,391.8 804.2,392.1 804.3,392.3 804.5,392.6 804.6,392.6 804.9,392.6 804.9,392.5 804.9,392.3 805.1,390.7 805.2,390.0 805.5,387.5 805.5,386.6 805.7,383.9 805.8,382.5 806.0,374.4 806.4,361.5 806.5,354.1 806.6,343.0 807.0,324.3 807.2,319.7 807.3,320.4 807.5,332.7 807.9,348.2 808.1,355.6 808.1,356.6 808.5,356.1 808.8,350.7 808.9,348.7 809.0,349.5 809.4,358.0 809.6,369.8 809.7,371.0 810.0,379.2 810.2,385.5 810.5,388.8 810.5,389.7 810.9,393.0 811.1,395.4 811.3,396.3 811.5,396.3 811.8,396.0 812.0,395.6 812.1,395.5 812.4,396.2 812.6,396.8 812.9,397.3 813.0,397.4 813.2,397.9 813.5,398.3 813.7,398.5 813.9,399.1 814.1,400.2 814.5,401.3 814.5,401.4 814.8,400.1 815.0,398.8 815.3,397.7 816.1,398.1 816.9,401.1 817.7,397.2 818.5,400.9 819.3,399.8 820.1,398.3 820.9,400.0 821.7,399.1 822.5,400.8 823.3,401.1 824.1,402.6 824.9,400.2 825.2,400.2 825.5,400.1 825.7,400.1 825.8,399.9 826.1,399.3 826.4,398.7 826.5,398.6 826.7,398.6 827.0,398.5 827.3,398.4 827.3,398.4 827.6,398.4 827.9,398.1 828.1,397.8 828.2,396.6 828.5,393.1 828.8,388.7 828.9,387.2 829.1,384.9 829.4,379.8 829.7,373.4 829.7,372.7 830.0,364.3 830.3,361.6 830.5,363.6 830.6,366.2 830.9,373.2 831.2,377.8 831.3,378.5 831.5,379.2 831.8,378.3 832.1,378.0 832.1,378.1 832.4,381.1 832.7,386.2 832.9,389.2 833.0,390.8 833.3,393.8 833.6,395.8 833.7,396.2 833.9,397.0 834.2,397.7 834.5,398.0 834.5,398.1 834.8,399.0 835.1,399.8 835.3,400.2 835.4,400.2 835.7,400.3 836.0,400.4 836.1,400.4 836.3,400.4 836.6,400.4 836.9,400.4 836.9,400.5 837.2,400.8 837.5,401.1 837.7,401.3 837.8,401.4 838.1,401.9 838.5,402.4 839.3,401.5 840.1,401.6 840.9,399.6 841.7,401.3 842.5,398.8 843.3,402.6 844.1,400.1 844.9,403.3 845.7,405.7 846.2,402.1 846.5,400.6 846.5,400.8 846.9,401.7 847.1,402.5 847.3,402.9 847.5,402.5 847.8,401.8 848.0,401.1 848.1,401.0 848.4,400.3 848.6,399.4 848.9,398.6 849.0,398.5 849.2,397.6 849.5,396.3 849.7,395.6 849.9,394.9 850.1,392.6 850.5,387.9 850.5,387.2 850.8,379.7 851.0,370.2 851.3,367.4 851.4,367.8 851.6,374.9 852.0,382.7 852.1,384.9 852.2,386.4 852.5,386.0 852.9,382.3 852.9,381.9 853.1,379.4 853.5,381.4 853.7,385.6 853.8,387.0 854.0,392.1 854.4,395.4 854.5,396.5 854.6,397.8 855.0,399.6 855.2,401.1 855.3,401.2 855.5,401.0 855.9,400.7 856.1,400.3 856.1,400.3 856.5,400.4 856.8,400.5 856.9,400.4 856.9,400.5 857.0,400.7 857.2,400.9 857.4,401.0 857.5,401.2 857.6,401.3 857.7,401.4 857.8,401.0 858.0,400.5 858.1,399.9 858.2,399.3 858.4,398.8 858.5,398.4 858.5,398.3 858.7,398.1 858.9,397.8 859.0,397.5 859.1,397.1 859.3,396.7 859.3,396.7 859.6,395.4 859.9,393.5 860.1,391.9 860.2,390.4 860.5,385.3 860.8,377.8 860.9,374.9 861.1,368.6 861.4,357.2 861.7,346.8 861.7,346.5 862.0,343.3 862.3,350.9 862.5,357.6 862.6,361.3 862.9,368.6 863.2,371.3 863.3,371.2 863.5,369.1 863.8,366.1 864.1,367.1 864.1,367.3 864.4,374.2 864.7,381.6 864.9,385.5 865.0,387.7 865.3,392.5 865.6,396.1 865.7,397.0 865.9,397.9 866.2,398.7 866.5,399.2 866.5,399.3 866.8,400.5 867.1,401.6 867.3,402.2 867.4,401.9 867.7,401.0 868.0,400.0 868.1,399.7 868.3,400.3 868.6,401.1 868.9,401.8 868.9,401.8 869.2,401.4 869.5,401.1 869.7,400.9 869.8,401.1 870.5,402.5 871.3,401.6 872.1,403.2 872.9,404.1 873.7,403.6 874.5,400.1 875.3,404.1 876.1,403.5 876.9,401.4 877.7,401.7 878.5,403.0 879.3,403.9 880.1,402.4 880.9,400.7 881.7,403.5 882.5,403.4 883.3,406.7 884.1,401.3 884.9,406.9 885.7,405.8 886.5,403.7 887.3,405.7 888.1,403.4 888.9,404.7 889.7,402.2 890.5,403.3 891.0,402.2 891.3,401.7 891.3,401.6 891.6,401.3 891.9,400.9 892.1,400.8 892.2,401.1 892.5,401.7 892.8,402.3 892.9,402.4 893.1,402.2 893.4,401.8 893.7,401.4 893.7,401.5 894.0,401.8 894.3,402.0 894.5,402.0 894.6,401.7 894.9,400.7 895.2,398.6 895.3,398.1 895.5,394.1 895.8,388.9 896.1,387.0 896.1,387.3 896.4,391.0 896.7,394.9 896.9,396.3 897.0,397.2 897.3,397.8 897.6,396.9 897.7,396.6 897.9,394.4 898.2,393.1 898.5,393.9 898.5,394.5 898.8,397.9 899.1,400.5 899.3,401.6 899.4,401.9 899.7,402.4 900.0,402.6 900.1,402.6 900.3,402.7 900.6,402.9 900.9,402.9 900.9,402.9 901.2,402.4 901.5,401.9 901.7,401.6 901.8,401.4 902.1,401.0 902.4,400.5 902.5,400.5 902.7,401.3 903.0,402.2 903.3,403.0 903.3,403.1 903.6,403.4 903.9,403.7 904.1,403.8 904.3,404.3 904.6,404.8 904.9,405.3 904.9,405.3 905.2,405.1 905.5,405.0 905.7,404.9 905.8,404.9 906.1,405.0 906.4,405.1 906.5,405.1 906.7,404.5 907.0,403.7 907.3,403.0 907.3,403.0 907.6,403.0 907.9,402.7 908.1,402.3 908.2,401.3 908.5,398.1 908.8,393.3 908.9,392.2 909.1,388.6 909.4,387.8 909.7,391.6 909.7,392.2 910.0,396.6 910.3,399.1 910.5,399.7 910.6,400.2 910.9,400.2 911.2,399.3 911.3,399.1 911.5,397.6 911.8,398.2 912.1,399.3 912.1,399.5 912.4,400.4 912.7,400.6 912.9,400.5 913.0,401.4 913.3,403.2 913.6,404.8 913.7,405.2 913.9,404.4 914.2,403.3 914.5,402.4 914.5,402.4 914.8,402.9 915.1,403.4 915.3,403.6 915.4,403.6 915.7,403.5 916.0,403.4 916.1,403.4 916.3,403.1 916.6,402.8 916.9,402.5 916.9,402.7 917.2,404.0 917.7,405.9 918.5,404.8 919.3,403.1 920.1,404.1 920.9,403.4 921.7,405.0 922.5,403.6 923.3,403.0 924.1,403.2 924.9,403.5 925.7,404.6 926.5,402.9 927.3,404.1 928.1,404.9 928.9,407.7 929.7,405.5 930.5,400.0 931.3,403.6 932.1,403.8 932.9,404.8 933.7,406.6 934.5,405.5 935.3,401.1 936.1,404.9 936.9,404.6 937.7,405.0 938.5,406.4 939.3,402.9 940.1,406.1 940.9,402.1 941.7,404.6 942.5,405.1 943.3,407.8 944.1,403.5 944.9,402.1 945.7,405.6 946.5,403.6 947.3,406.9 948.1,403.6 948.9,403.3 949.7,406.4 950.5,404.8 951.3,406.1 952.1,402.6 952.9,407.1 953.7,403.8 954.5,405.9 955.3,403.2 956.1,402.4 956.9,404.3 957.7,404.9 958.5,407.0 959.3,405.2 960.1,405.7 960.9,405.6 961.7,409.1 962.5,403.4 963.3,406.3 963.5,405.7 963.8,404.9 964.1,404.1 964.1,404.1 964.4,404.3 964.7,404.4 964.9,404.5 965.0,404.3 965.3,403.7 965.6,403.1 965.7,402.9 965.9,403.4 966.2,404.0 966.5,404.5 966.5,404.4 966.8,402.4 967.1,400.0 967.3,398.3 967.4,397.6 967.7,395.1 968.0,392.0 968.1,391.1 968.3,389.5 968.6,389.4 968.9,391.8 968.9,391.9 969.2,394.2 969.5,395.7 969.7,396.1 969.8,396.7 970.1,397.7 970.4,397.9 970.5,397.9 970.7,397.5 971.0,398.1 971.3,399.6 971.3,399.7 971.6,400.5 971.9,400.9 972.1,401.0 972.2,401.6 972.5,403.0 972.8,404.3 972.9,404.6 973.1,404.2 973.2,403.9 973.4,403.5 973.5,403.2 973.7,402.9 973.7,402.9 973.9,403.2 974.0,403.3 974.1,403.5 974.3,403.7 974.5,403.9 974.5,403.9 974.6,403.9 974.8,403.9 974.9,403.9 975.0,403.9 975.2,403.9 975.3,403.9 975.4,404.1 975.5,404.5 975.6,405.0 975.8,405.4 976.0,405.8 976.1,406.1 976.1,406.0 976.2,405.3 976.4,404.6 976.5,403.8 976.9,402.0 976.9,401.8 977.1,400.0 977.5,396.9 977.7,393.5 977.8,392.4 978.0,387.6 978.4,386.5 978.5,387.8 978.6,390.9 979.0,396.4 979.2,400.2 979.3,400.5 979.5,399.9 979.9,398.0 980.1,395.7 980.1,395.4 980.5,394.2 980.8,395.0 980.9,396.2 981.0,397.7 981.4,400.1 981.6,401.7 981.7,401.8 982.0,401.6 982.2,401.0 982.5,400.4 982.5,400.7 982.9,402.0 983.1,403.2 983.3,403.8 983.5,404.3 983.8,405.2 984.0,406.1 984.1,406.2 984.4,405.8 984.6,405.5 984.9,405.2 985.0,405.0 985.2,404.5 985.5,403.9 985.7,403.6 985.9,404.1 986.1,405.0 986.5,406.0 987.3,405.8 988.1,408.0 988.9,404.1 989.7,404.6 990.5,405.2 991.3,405.0 992.1,405.4 992.9,405.1 993.7,404.3 994.5,403.0 995.3,404.5 996.1,403.3 996.9,403.8 997.7,404.6 998.5,406.1 999.3,406.6 1000.1,403.9 1000.9,405.8 1001.7,406.6 1002.5,405.3 1003.3,403.0 1004.1,402.3 1004.9,406.6 1005.7,406.8 1006.5,405.9 1007.3,403.9 1008.1,407.6 1008.9,407.2 1009.7,405.4 1010.5,405.2 1011.3,402.7 1012.1,406.6 1012.9,403.2 1013.7,406.5 1014.5,406.6 1015.3,405.7 1016.1,407.8 1016.9,405.1 1017.7,406.4 1018.5,406.7 1019.3,405.9 1020.1,404.9 1020.9,407.3 1021.7,406.1 1022.5,405.2 1023.3,405.2 1024.1,405.6 1024.9,408.7 1025.7,405.5 1026.5,404.9 1027.3,403.5 1027.8,403.3 1028.1,403.1 1028.4,402.6 1028.7,402.1 1028.9,401.7 1029.0,402.0 1029.3,403.0 1029.6,403.8 1029.7,404.1 1029.9,403.8 1030.2,403.2 1030.5,402.4 1030.8,400.9 1031.1,398.9 1031.3,397.1 1031.4,396.1 1031.7,392.0 1032.0,385.6 1032.1,382.8 1032.3,377.2 1032.6,369.1 1032.9,367.9 1033.2,374.5 1033.5,382.9 1033.7,387.1 1033.8,388.6 1034.1,391.0 1034.4,390.6 1034.5,390.0 1034.7,388.9 1035.0,386.2 1035.3,385.3 1035.6,388.1 1035.9,392.9 1036.1,395.8 1036.2,397.0 1036.5,399.7 1036.8,401.4 1036.9,401.8 1037.1,402.8 1037.4,404.0 1037.7,404.9 1038.0,404.5 1038.3,404.0 1038.5,403.6 1038.6,404.1 1038.9,405.3 1039.2,406.6 1039.3,407.0 1039.5,406.2 1039.8,405.0 1040.1,403.8 1040.4,404.7 1040.7,405.6 1040.9,406.2 1041.7,406.5 1042.5,405.3 1043.3,406.2 1044.1,403.9 1044.9,403.7 1045.7,405.6 1046.5,404.8 1047.3,406.8 1048.1,406.0 1048.9,406.9 1049.7,406.5 1050.5,406.3 1051.3,406.2 1052.1,405.5 1052.9,405.4 1053.7,409.1 1054.5,403.6 1055.3,405.9 1056.1,407.6 1056.9,406.8 1057.7,408.2 1058.5,407.0 1059.3,404.4 1060.1,405.7 1060.9,404.2 1061.7,407.7 1062.5,408.3 1063.3,405.6 1064.1,407.1 1064.9,405.7 1065.7,404.2 1066.5,405.6 1067.3,404.0 1068.1,405.5 1068.9,406.6 1069.7,407.4 1070.5,408.2 1071.3,405.8 1072.1,406.7 1072.9,406.9 1073.7,407.1 1074.5,402.2 1075.3,405.2 1076.1,407.5 1076.9,404.7 1077.7,406.7 1078.5,407.5 1079.3,403.5 1080.1,406.0 1080.9,406.6 1081.7,406.2 1082.5,404.0 1083.3,406.7 1084.1,405.3 1084.9,407.2 1085.7,406.6 1086.5,405.0 1087.3,405.9 1088.1,404.3 1088.9,403.9 1089.7,402.0 1090.5,403.0 1091.3,403.2 1092.1,400.6 1092.9,398.6 1093.7,396.0 1094.5,395.1 1095.3,396.8 1096.1,394.2 1096.9,400.5 1097.7,398.8 1098.5,403.7 1099.3,403.8 1100.1,402.7 1100.9,405.3 1101.7,405.3 1102.5,406.1 1103.3,406.9 1104.1,405.1 1104.9,405.2 1105.7,405.6 1106.5,404.3 1107.3,405.9 1108.1,406.7 1108.9,406.7 1109.1,406.7 1109.4,406.6 1109.7,406.6 1109.7,406.6 1110.0,406.2 1110.3,405.9 1110.5,405.7 1110.6,405.9 1110.9,406.5 1111.2,407.1 1111.3,407.2 1111.5,405.8 1111.8,404.1 1112.1,402.6 1112.1,402.7 1112.4,403.2 1112.7,403.5 1112.9,403.6 1113.0,403.2 1113.3,402.0 1113.6,400.7 1113.7,400.4 1113.9,400.0 1114.2,400.4 1114.5,401.7 1114.5,401.8 1114.8,403.0 1115.1,403.9 1115.3,404.3 1115.4,404.6 1115.7,404.9 1116.0,404.9 1116.1,404.8 1116.3,404.2 1116.6,403.3 1116.9,402.9 1116.9,403.0 1117.2,404.0 1117.5,405.2 1117.7,405.9 1117.8,405.7 1118.1,405.2 1118.4,404.5 1118.5,404.4 1118.7,405.1 1119.0,405.8 1119.3,406.5 1119.3,406.3 1119.6,405.2 1119.9,404.1 1120.1,403.5 1120.2,404.5 1120.5,406.6 1120.8,408.8 1120.9,409.2 1121.1,409.2 1121.4,409.1 1121.7,409.1 1121.7,408.9 1122.0,407.8 1122.5,406.0 1123.3,405.7 1124.1,403.9 1124.9,404.7 1125.7,407.2 1126.5,406.8 1127.3,404.9 1128.1,406.3 1128.9,406.1 1129.7,407.8 1130.5,408.2 1131.3,406.8 1132.1,407.3 1132.9,407.2 1133.7,404.2 1134.5,407.5 1135.3,407.2 1136.1,408.4 1136.9,404.6 1137.7,408.4 1138.5,406.4 1139.3,407.7 1140.1,409.1 1140.9,405.2 1141.7,405.5 1142.5,408.9 1143.3,405.8 1144.1,406.1 1144.9,408.4 1145.7,407.2 1146.5,408.6 1147.3,408.0 1148.1,407.5 1148.9,409.0 1149.7,410.8 1150.5,407.5 1151.3,409.8 1152.1,409.3 1152.9,407.8 1153.7,408.3 1154.5,406.3 1155.3,406.8 1156.1,408.1 1156.9,407.7 1157.7,409.6 1158.5,405.9 1159.3,407.3 1160.1,406.8 1160.9,407.5 1161.7,409.4 1162.5,405.9 1163.3,408.8 1163.4,408.4 1163.7,407.6 1164.0,406.7 1164.1,406.5 1164.3,406.6 1164.6,406.6 1164.9,406.6 1164.9,406.7 1165.2,407.2 1165.5,407.7 1165.7,408.0 1165.8,407.5 1166.1,406.4 1166.4,405.1 1166.5,404.8 1166.7,404.5 1167.0,403.5 1167.3,401.9 1167.3,401.4 1167.6,397.2 1167.9,391.4 1168.1,388.0 1168.2,385.5 1168.5,384.1 1168.8,388.4 1168.9,389.6 1169.1,393.9 1169.4,398.0 1169.7,400.0 1169.7,400.1 1170.0,400.3 1170.3,399.2 1170.5,398.1 1170.6,397.5 1170.9,395.6 1171.2,394.1 1171.3,394.1 1171.5,395.3 1171.8,398.8 1172.1,401.8 1172.1,402.1 1172.4,404.2 1172.7,405.6 1172.9,406.1 1173.0,406.0 1173.3,405.6 1173.6,405.0 1173.7,404.9 1173.9,406.2 1174.2,407.7 1174.5,409.0 1174.5,409.0 1174.8,408.9 1175.1,408.8 1175.3,408.7 1175.4,408.3 1175.7,407.3 1176.0,406.4 1176.1,406.2 1176.3,406.3 1176.9,406.7 1177.7,409.0 1178.5,405.8 1179.3,407.4 1180.1,408.4 1180.9,408.4 1181.7,408.5 1182.5,409.2 1183.3,407.5 1184.1,408.0 1184.9,411.7 1185.7,406.7 1186.5,408.2 1187.3,409.0 1188.1,407.9 1188.9,410.7 1189.7,409.0 1190.5,410.1 1191.3,405.2 1192.1,410.7 1192.9,410.7 1193.7,408.0 1194.5,411.0 1195.3,409.5 1196.1,410.5 1196.9,411.8 1197.7,409.3 1198.5,407.8 1199.3,409.2 1200.1,407.4 1200.9,408.1 1201.7,408.2 1202.5,408.3 1203.3,411.1 1204.1,410.6 1204.9,408.1 1205.7,411.1 1206.5,407.0 1207.3,408.5 1208.1,409.3 1208.9,411.2 1209.7,410.6 1210.5,410.2 1211.3,411.5 1212.1,410.6 1212.9,411.6 1213.7,408.5 1214.5,407.2 1215.3,409.0 1216.1,410.9 1216.9,410.1 1217.7,411.0 1218.5,410.7 1219.3,410.5 1220.1,410.9 1220.9,408.7 1221.7,411.4 1222.5,408.3 1223.3,409.6 1224.1,407.7 1224.9,410.5 1225.7,407.6 1226.5,411.9 1227.3,407.9 1228.1,410.2 1228.9,409.6 1229.7,408.5 1230.5,411.6 1231.3,409.1 1231.5,409.7 1231.8,410.7 1232.1,411.7 1232.1,411.8 1232.4,410.5 1232.7,409.1 1232.9,408.0 1233.0,408.1 1233.3,408.1 1233.6,408.1 1233.7,408.1 1233.9,407.6 1234.2,406.8 1234.5,405.8 1234.5,405.8 1234.8,406.7 1235.1,407.3 1235.3,407.5 1235.4,407.1 1235.7,405.1 1236.0,401.8 1236.1,400.2 1236.3,397.6 1236.6,396.2 1236.9,399.2 1236.9,399.5 1237.2,402.8 1237.5,405.2 1237.7,406.1 1237.8,406.3 1238.1,406.4 1238.4,406.0 1238.5,405.7 1238.7,406.4 1239.0,406.9 1239.3,406.8 1239.3,406.8 1239.6,404.9 1239.9,405.2 1240.1,406.1 1240.2,406.3 1240.5,406.5 1240.8,406.1 1240.9,405.8 1241.1,406.7 1241.4,407.8 1241.7,408.9 1241.7,409.0 1242.0,407.9 1242.3,406.8 1242.5,405.9 1242.6,406.6 1242.9,408.9 1243.2,411.2 1243.3,412.2 1243.5,412.3 1243.8,412.6 1244.1,412.8 1244.1,412.9 1244.4,412.6 1244.9,412.2 1245.7,410.0 1246.5,409.3 1247.3,408.1 1248.1,411.0 1248.9,409.1 1249.7,409.7 1250.5,409.3 1251.3,409.8 1252.1,411.6 1252.9,412.8 1253.7,410.5 1254.5,410.4 1255.3,408.7 1256.1,408.6 1256.9,408.8 1257.7,411.6 1258.5,410.7 1259.3,411.8 1260.1,411.0 1260.9,409.8 1261.7,408.5 1262.5,409.8 1263.3,408.2 1264.1,413.1 1264.9,410.5 1265.4,409.8 1265.7,409.4 1266.0,410.6 1266.3,411.8 1266.5,412.6 1266.6,412.1 1266.9,410.6 1267.2,409.1 1267.3,408.6 1267.5,408.8 1267.8,408.9 1268.1,409.0 1268.4,407.9 1268.7,406.4 1268.9,405.1 1269.0,404.6 1269.3,402.0 1269.6,397.8 1269.7,396.0 1269.9,391.3 1270.2,384.5 1270.5,382.9 1270.8,388.5 1271.1,395.5 1271.3,399.2 1271.4,400.8 1271.7,404.2 1272.0,406.1 1272.1,406.4 1272.3,405.5 1272.6,403.2 1272.9,399.7 1273.2,396.3 1273.5,393.3 1273.7,393.0 1273.8,394.2 1274.1,399.5 1274.4,404.8 1274.5,406.3 1274.7,407.3 1275.0,408.2 1275.3,408.5 1275.6,409.5 1275.9,410.2 1276.1,410.7 1276.2,410.6 1276.5,410.1 1276.8,409.7 1276.9,409.5 1277.1,410.3 1277.4,411.4 1277.7,412.5 1278.0,412.7 1278.3,412.9 1278.5,413.0 1279.3,408.8 1280.1,411.6 1280.9,409.7 1281.7,408.3 1282.5,410.3 1283.3,411.6 1284.1,408.8 1284.9,408.9 1285.7,412.6 1286.5,410.9 1287.3,411.4 1288.1,409.1 1288.9,409.8 1289.7,410.9 1290.2,411.0 1290.5,411.0 1290.5,411.0 1290.8,410.9 1291.1,410.9 1291.3,410.8 1291.4,411.1 1291.7,411.8 1292.0,412.6 1292.1,412.7 1292.3,412.1 1292.6,411.2 1292.9,410.2 1292.9,410.2 1293.2,408.9 1293.5,407.6 1293.7,406.6 1293.8,406.4 1294.1,405.6 1294.4,404.0 1294.5,403.5 1294.7,401.7 1295.0,399.4 1295.3,399.2 1295.3,399.3 1295.6,402.3 1295.9,405.8 1296.1,407.6 1296.2,407.9 1296.5,408.1 1296.8,407.6 1296.9,407.4 1297.1,407.6 1297.4,407.5 1297.7,407.0 1297.7,407.0 1298.0,406.0 1298.3,404.9 1298.5,404.8 1298.6,404.8 1298.9,405.6 1299.2,406.7 1299.3,407.0 1299.5,407.7 1299.8,408.4 1300.1,408.7 1300.1,408.8 1300.4,409.4 1300.7,409.9 1300.9,410.2 1301.0,410.5 1301.3,411.3 1301.6,412.0 1301.7,412.2 1301.9,412.1 1302.2,411.8 1302.5,411.6 1302.5,411.6 1302.8,411.2 1303.1,410.8 1303.3,410.6 1304.1,411.6 1304.9,409.2 1305.7,412.6 1306.5,412.2 1307.3,411.6 1308.1,408.8 1308.9,414.2 1309.7,407.0 1310.5,409.8 1311.3,409.9 1312.1,412.3 1312.9,409.1 1313.7,411.7 1314.5,411.1 1315.3,410.9 1316.1,412.6 1316.9,413.5 1317.7,412.0 1318.5,411.0 1319.3,408.1 1320.1,413.6 1320.9,411.0 1321.7,408.7 1322.5,411.7 1323.3,413.6 1324.1,411.2 1324.9,409.7 1325.7,414.7 1326.5,412.3 1326.5,412.2 1326.8,412.1 1327.2,411.9 1327.3,411.8 1327.5,412.0 1327.8,412.3 1328.0,412.6 1328.1,412.6 1328.3,411.0 1328.7,409.1 1328.9,407.7 1329.0,407.9 1329.2,408.9 1329.5,409.8 1329.7,410.1 1329.8,409.8 1330.2,409.1 1330.5,407.8 1330.5,407.6 1330.8,406.8 1331.0,404.7 1331.3,402.6 1331.3,401.5 1331.7,399.1 1332.0,400.9 1332.1,401.9 1332.2,403.9 1332.5,406.3 1332.8,407.7 1332.9,407.8 1333.2,407.9 1333.5,407.7 1333.7,407.2 1333.8,407.2 1334.0,406.9 1334.3,405.9 1334.5,405.2 1334.7,404.3 1335.0,403.5 1335.2,405.0 1335.3,405.2 1335.5,407.3 1335.8,409.1 1336.1,410.1 1336.2,410.2 1336.5,410.5 1336.8,410.5 1336.9,410.5 1337.0,411.3 1337.3,412.6 1337.7,413.9 1337.7,414.0 1338.0,413.3 1338.2,412.5 1338.5,411.9 1338.5,411.9 1338.8,412.0 1339.2,412.1 1339.3,412.1 1339.5,412.4 1340.1,413.1 1340.9,411.9 1341.0,411.7 1341.2,411.0 1341.5,410.2 1341.7,409.9 1341.8,409.5 1342.2,408.8 1342.5,408.0 1342.5,407.9 1342.8,408.6 1343.0,409.2 1343.3,409.7 1343.3,409.4 1343.7,408.0 1344.0,406.4 1344.1,405.5 1344.2,405.2 1344.5,404.0 1344.8,401.5 1344.9,401.2 1345.2,395.1 1345.5,386.9 1345.7,380.7 1345.8,379.2 1346.0,377.0 1346.3,381.2 1346.5,383.9 1346.7,388.6 1347.0,395.6 1347.2,400.8 1347.3,401.2 1347.5,403.6 1347.8,405.0 1348.1,405.3 1348.2,405.0 1348.5,402.8 1348.8,399.5 1348.9,397.9 1349.0,396.2 1349.3,394.4 1349.7,395.8 1349.7,396.2 1350.0,399.4 1350.2,403.0 1350.5,405.2 1350.5,406.0 1350.8,408.7 1351.2,410.8 1351.3,411.5 1351.5,411.5 1351.8,411.3 1352.0,410.9 1352.1,410.8 1352.3,410.9 1352.7,411.0 1352.9,411.0 1353.0,410.9 1353.2,410.8 1353.5,410.6 1353.7,410.5 1353.8,410.2 1354.5,409.2 1355.3,413.8 1356.1,413.6 1356.9,410.6 1357.7,412.9 1358.5,412.6 1359.3,411.6 1360.1,411.7 1360.9,413.3 1361.7,410.5 1362.5,411.5 1363.3,412.2 1364.1,412.3 1364.9,412.1 1365.7,412.7 1366.5,413.2 1367.3,411.1 1368.1,412.6 1368.9,411.7 1369.7,414.7 1370.5,410.5 1371.3,412.2 1372.1,413.6 1372.9,412.2 1373.7,412.1 1374.5,411.8 1375.3,413.1 1376.1,411.0 1376.9,412.6 1377.7,412.6 1378.5,410.6 1379.3,413.2 1380.1,412.1 1380.9,413.3 1381.7,414.1 1382.5,413.3 1383.3,411.1 1384.1,413.4 1384.9,410.5 1385.7,411.8 1386.5,415.4 1387.3,413.0 1388.1,415.3 1388.9,412.7 1389.7,413.0 1390.5,411.4 1391.3,414.5 1392.1,412.8 1392.9,414.0 1393.7,413.8 1394.5,413.9 1395.3,413.7 1396.1,413.1 1396.9,413.2 1397.7,412.2 1398.5,410.1 1399.3,414.0 1400.1,416.4 1400.9,414.9 1401.7,416.8 1402.5,414.1 1403.3,412.0 1404.1,412.0 1404.9,414.5 1405.7,414.0 1406.5,413.3 1407.3,414.6 1408.1,412.3 1408.9,414.3 1409.7,413.2 1410.5,413.8 1411.3,415.4 1412.1,413.4 1412.9,415.7 1413.7,415.6 1414.5,412.6 1415.3,417.1 1416.1,411.9 1416.9,413.6 1417.7,414.9 1418.5,410.5 1419.3,415.4 1420.1,415.5 1420.9,413.7 1421.7,414.3 1422.5,414.2 1423.3,413.6 1424.1,415.5 1424.9,413.4 1425.7,413.9 1426.5,414.6 1427.3,415.3 1428.1,415.7 1428.9,411.9 1429.7,411.1 1430.5,413.9 1431.3,414.0 1432.1,412.6 1432.9,414.6 1433.7,415.1 1434.5,414.8 1435.3,416.6 1436.1,412.7 1436.9,414.3 1437.7,417.1 1438.5,415.3 1439.3,412.6 1440.1,414.6 1440.9,416.1 1441.7,417.4 1442.5,415.3 1443.3,416.1 1444.1,412.7 1444.9,414.0 1445.7,416.1 1446.5,413.0 1447.3,414.3 1448.1,411.6 1448.9,416.5 1449.7,414.1 1450.0,414.5 1450.3,414.8 1450.5,415.0 1450.6,414.6 1450.9,413.4 1451.2,412.2 1451.3,411.8 1451.5,411.9 1451.8,411.9 1452.1,411.8 1452.1,411.9 1452.4,413.5 1452.7,415.0 1452.9,415.8 1453.0,415.2 1453.3,413.5 1453.6,411.4 1453.7,410.8 1453.9,409.6 1454.2,407.1 1454.5,404.0 1454.5,403.8 1454.8,401.1 1455.1,401.0 1455.3,402.7 1455.4,404.0 1455.7,407.5 1456.0,410.1 1456.1,410.6 1456.3,410.7 1456.6,410.2 1456.9,409.3 1456.9,409.3 1457.2,410.0 1457.5,410.3 1457.7,410.3 1457.8,410.3 1458.1,409.7 1458.4,408.6 1458.5,408.4 1458.7,407.4 1459.0,407.7 1459.3,409.2 1459.3,409.3 1459.6,411.2 1459.9,412.6 1460.1,413.2 1460.2,413.3 1460.5,413.4 1460.8,413.3 1460.9,413.2 1461.1,413.4 1461.4,413.6 1461.7,413.8 1461.7,413.8 1462.0,414.2 1462.3,414.5 1462.5,414.7 1462.6,414.5 1462.9,414.1 1463.3,413.5 1464.1,413.3 1464.9,413.8 1465.7,414.6 1466.5,414.3 1466.6,414.2 1466.9,414.0 1467.2,413.8 1467.3,413.8 1467.5,413.8 1467.8,413.9 1468.1,414.0 1468.1,414.0 1468.4,414.0 1468.7,414.0 1468.9,413.9 1469.0,413.9 1469.3,413.9 1469.6,413.8 1469.7,413.7 1469.9,413.3 1470.2,412.5 1470.5,411.6 1470.5,411.3 1470.8,408.8 1471.1,406.0 1471.3,404.5 1471.4,404.4 1471.7,405.3 1472.0,407.8 1472.1,408.4 1472.3,408.8 1472.6,409.0 1472.9,408.9 1472.9,409.2 1473.2,411.1 1473.5,412.8 1473.7,413.5 1473.8,413.2 1474.1,412.4 1474.4,411.3 1474.5,411.1 1474.7,411.1 1475.0,411.0 1475.3,411.0 1475.3,410.9 1475.6,411.2 1475.9,412.2 1476.1,412.9 1476.2,412.6 1476.5,411.8 1476.8,410.9 1476.9,410.7 1477.1,412.1 1477.4,413.8 1477.7,415.2 1477.7,415.2 1478.0,415.2 1478.3,415.1 1478.5,415.0 1478.6,414.9 1478.9,414.6 1479.2,414.2 1479.3,414.1 1479.5,414.5 1480.1,415.5 1480.9,414.2 1481.7,415.2 1482.5,413.5 1483.3,416.2 1484.1,415.9 1484.4,415.9 1484.7,416.0 1484.9,416.0 1485.0,415.8 1485.3,415.0 1485.6,414.1 1485.7,413.8 1485.9,414.6 1486.2,415.8 1486.5,417.1 1486.5,417.2 1486.8,417.1 1487.1,416.9 1487.3,416.7 1487.4,416.3 1487.7,414.6 1488.0,412.5 1488.1,411.5 1488.3,410.4 1488.6,407.8 1488.9,404.1 1488.9,403.8 1489.2,400.6 1489.5,399.9 1489.7,401.9 1489.8,403.0 1490.1,407.2 1490.4,410.6 1490.5,411.6 1490.7,412.6 1491.0,413.8 1491.3,414.5 1491.3,414.5 1491.6,413.7 1491.9,412.6 1492.1,411.6 1492.2,411.2 1492.5,409.5 1492.8,407.2 1492.9,406.2 1493.1,406.0 1493.4,406.9 1493.7,409.7 1493.7,409.9 1494.0,411.4 1494.3,412.7 1494.5,413.2 1494.6,413.5 1494.9,414.2 1495.2,414.7 1495.3,414.9 1495.5,415.1 1495.8,415.5 1496.1,415.8 1496.1,415.8 1496.4,415.1 1496.7,414.3 1496.9,413.6 1497.0,413.8 1497.3,414.5 1497.7,415.5 1498.5,415.1 1499.3,416.1 1500.1,417.4 1500.9,415.7 1501.7,414.4 1502.5,417.5 1503.3,416.8 1504.1,415.5 1504.9,413.2 1505.7,414.5 1506.5,416.1 1507.3,416.7 1508.1,415.1 1508.9,416.5 1509.7,415.0 1510.5,415.3 1511.3,416.8 1512.1,415.6 1512.9,416.2 1513.7,417.3 1514.5,417.7 1515.3,415.2 1516.1,415.7 1516.9,414.2 1517.7,414.2 1518.5,416.6 1519.3,415.4 1520.1,413.5 1520.9,417.0 1521.7,415.0 1522.5,415.8 1523.3,416.9 1524.1,416.9 1524.9,416.2 1525.7,413.4 1526.5,417.2 1527.3,415.5 1528.1,414.3 1528.9,413.2 1529.7,418.3 1530.5,416.6 1531.3,416.6 1532.1,417.3 1532.9,416.4 1533.7,414.3 1534.5,417.5 1535.3,418.0 1536.1,417.3 1536.9,418.8 1537.7,419.3 1538.5,415.4 1539.3,415.9 1540.1,417.9 1540.9,416.8 1541.3,416.9 1541.6,416.9 1541.7,416.9 1541.9,417.2 1542.2,417.5 1542.5,417.9 1542.5,417.9 1542.8,417.7 1543.1,417.6 1543.3,417.5 1543.4,417.2 1543.7,416.5 1544.0,415.7 1544.1,415.6 1544.3,415.7 1544.6,415.8 1544.9,415.8 1544.9,415.6 1545.2,414.5 1545.5,412.9 1545.7,411.8 1545.8,411.0 1546.1,409.2 1546.4,409.1 1546.5,409.4 1546.7,410.5 1547.0,412.0 1547.3,412.8 1547.3,412.9 1547.6,413.1 1547.9,413.1 1548.1,413.0 1548.2,413.4 1548.5,414.3 1548.8,415.1 1548.9,415.3 1549.1,415.1 1549.4,414.8 1549.7,414.2 1549.7,414.2 1550.0,414.1 1550.3,414.0 1550.5,414.3 1550.6,414.7 1550.9,416.1 1551.2,417.4 1551.3,417.7 1551.5,417.5 1551.8,417.0 1552.1,416.4 1552.1,416.5 1552.4,416.9 1552.7,417.2 1552.9,417.4 1553.0,417.1 1553.3,416.6 1553.6,416.0 1553.7,415.9 1553.9,415.8 1554.2,415.7 1554.5,415.5 1555.3,416.5 1556.1,416.6 1556.9,417.4 1557.7,417.2 1558.5,419.5 1559.3,416.8 1560.1,414.7 1560.9,417.3 1561.7,416.2 1562.5,417.5 1563.3,418.8 1564.1,416.3 1564.9,417.1 1565.7,418.0 1566.5,415.9 1567.3,417.6 1568.1,418.1 1568.9,418.5 1569.7,418.9 1570.5,418.2 1571.3,417.9 1572.1,415.4 1572.9,413.5 1573.7,416.0 1574.5,419.5 1575.3,417.6 1576.1,414.2 1576.9,416.8 1577.7,417.9 1578.3,415.3 1578.5,414.7 1578.6,415.3 1578.9,416.6 1579.2,417.9 1579.3,418.1 1579.5,417.3 1579.8,416.3 1580.1,415.4 1580.1,415.6 1580.4,416.7 1580.7,417.7 1580.9,418.3 1581.0,417.9 1581.3,417.0 1581.6,416.1 1581.7,415.9 1581.9,416.6 1582.2,417.0 1582.5,416.6 1582.5,415.7 1582.8,409.8 1583.1,403.3 1583.3,400.9 1583.4,401.6 1583.7,406.0 1584.0,410.8 1584.1,411.5 1584.3,412.8 1584.6,413.3 1584.9,413.3 1584.9,413.6 1585.2,415.5 1585.5,417.1 1585.7,417.8 1585.8,417.6 1586.1,416.9 1586.4,415.9 1586.5,415.7 1586.7,415.2 1587.0,414.1 1587.3,412.8 1587.3,412.4 1587.6,411.0 1587.9,412.0 1588.1,412.8 1588.2,413.5 1588.5,414.4 1588.8,414.6 1588.9,414.6 1589.1,415.2 1589.4,415.8 1589.7,416.2 1589.7,416.2 1590.0,416.0 1590.3,415.8 1590.5,415.7 1590.6,415.8 1590.9,415.9 1591.2,416.1 1591.3,416.1 1592.1,417.9 1592.9,419.4 1593.7,419.1 1594.5,418.6 1595.3,417.1 1596.1,418.7 1596.9,416.8 1597.7,418.3 1598.5,419.3 1599.3,417.8 1600.1,417.4 1600.9,417.5 1601.7,419.0 1602.5,417.7 1603.3,416.1 1604.1,417.6 1604.9,416.7 1605.7,420.4 1606.5,418.3 1607.3,416.2 1608.1,418.7 1608.9,419.4 1609.7,418.9 1610.5,417.8 1611.3,418.6 1612.1,418.8 1612.9,419.9 1613.7,419.0 1614.5,421.7 1615.3,418.2 1616.1,420.7 1616.9,418.5 1617.7,416.1 1618.5,416.9 1619.3,415.9 1620.1,416.1 1620.9,420.3 1621.7,417.7 1622.5,419.5 1623.3,417.4 1624.1,418.7 1624.9,417.2 1625.7,420.0 1626.5,418.4 1627.3,418.1 1628.1,418.5 1628.9,421.9 1629.7,419.4 1630.5,420.0 1631.3,417.0 1632.1,417.9 1632.9,419.3 1633.7,416.2 1634.5,420.8 1635.3,419.3 1636.1,418.9 1636.9,418.7 1637.7,418.6 1638.5,418.3 1639.3,421.0 1640.1,420.0 1640.9,420.8 1641.7,418.6 1642.5,417.8 1643.3,421.0 1644.1,417.3 1644.9,418.2 1645.7,420.2 1646.5,420.7 1647.3,417.3 1648.1,418.8 1648.9,419.2 1649.7,419.0 1650.5,418.0 1651.3,420.2 1652.1,418.5 1652.9,418.9 1653.7,416.0 1654.5,419.1 1655.3,416.5 1656.1,420.4 1656.9,420.1 1657.7,418.6 1658.5,419.6 1659.3,419.6 1660.1,419.2 1660.9,420.0 1661.7,419.3 1662.5,418.8 1663.3,418.3 1664.1,421.9 1664.9,419.8 1665.7,419.5 1666.5,420.6 1667.3,419.0 1668.1,419.0 1668.9,420.5 1669.7,421.1 1670.5,420.6 1671.3,417.5 1672.1,419.7 1672.9,419.6 1673.7,420.3 1674.5,418.4 1675.3,418.2 1676.1,419.6 1676.9,418.5 1677.7,418.2 1678.5,419.7 1679.3,421.1 1680.1,420.0 1680.9,421.4 1681.7,418.4 1682.5,420.9 1683.3,419.8 1684.1,418.6 1684.9,419.3 1685.7,418.7 1686.5,419.6 1687.3,418.9 1688.1,421.8 1688.9,419.5 1689.7,417.9 1690.5,419.7 1691.3,420.6 1692.1,419.6 1692.9,421.3 1693.7,418.8 1694.5,418.9 1695.3,422.4 1696.1,420.1 1696.9,420.9 1697.7,420.9 1698.5,421.0 1699.3,420.2 1700.1,419.9 1700.9,421.8 1701.7,419.5 1702.5,420.4 1703.3,421.2 1704.1,419.7 1704.9,418.1 1705.7,421.0 1706.5,421.9 1707.3,420.7 1708.1,418.0 1708.9,421.3 1709.7,423.2 1710.5,418.2 1711.3,416.5 1712.1,420.1 1712.9,420.6 1713.7,421.6 1714.5,421.6 1715.3,420.6 1716.1,421.3 1716.9,421.0 1717.7,420.7 1718.5,420.5 1719.3,420.4 1720.1,421.6 1720.9,421.2 1721.7,420.0 1722.5,422.2 1723.3,419.6 1724.1,420.3 1724.9,420.9 1725.7,418.0 1726.5,420.2 1727.3,422.0 1728.1,421.9 1728.9,419.1 1729.7,419.6 1730.5,419.3 1731.3,420.5 1732.1,420.7 1732.9,418.6 1733.7,421.3 1734.5,421.0 1735.3,420.8 1736.1,420.0 1736.9,420.7 1737.7,418.4 1738.5,421.3 1739.3,421.3 1740.1,420.8 1740.9,419.3 1741.7,422.8 1742.5,422.6 1743.3,418.4 1744.1,421.7 1744.9,421.3 1745.7,417.5 1746.5,421.9 1747.3,422.1 1748.1,422.2 1748.9,421.4 1749.7,420.3 1750.5,420.5 1751.3,421.9 1752.1,422.9 1752.9,420.6 1753.7,420.9 1754.5,422.3 1755.3,418.3 1756.1,422.0 1756.9,421.0 1757.7,418.3 1758.5,422.5 1759.3,420.1 1760.1,422.5 1760.9,423.4 1761.7,419.7 1762.5,419.8 1763.3,421.5 1764.1,419.0 1764.9,422.5 1765.7,421.8 1766.5,422.9 1767.3,419.0 1768.1,421.9 1768.9,422.2 1769.7,419.1 1770.5,422.9 1771.3,419.7 1772.1,421.9 1772.9,419.8 1773.7,422.8 1774.5,424.1 1775.3,421.8 1776.1,421.8 1776.9,423.6 1777.7,421.1 1778.5,421.9 1779.3,423.0 1780.1,422.4 1780.9,424.1 1781.7,423.6 1782.5,424.6 1783.3,421.9 1784.1,423.5 1784.9,420.8 1785.7,423.3 1786.5,424.5 1787.3,425.4 1788.1,420.3 1788.9,421.8 1789.7,423.1 1790.5,420.9 1791.3,422.9 1792.1,422.9 1792.9,421.5 1793.7,421.4 1794.5,420.9 1795.3,422.7 1796.1,424.0 1796.9,422.7 1797.7,426.2 1798.5,420.2 1799.3,421.5 1800.1,423.3 1800.9,420.7 1801.7,422.9 1802.5,423.5 1803.3,422.6 1804.1,422.1 1804.9,423.8 1805.7,423.0 1806.5,423.5 1807.3,423.2 1808.1,421.5 1808.9,420.9 1809.7,422.0 1810.5,422.8 1811.3,422.3 1812.1,423.9 1812.9,422.9 1813.7,424.0 1814.5,422.8 1815.3,421.6 1816.1,423.8 1816.9,423.4 1817.7,421.5 1818.5,422.1 1819.3,426.7 1820.1,417.9 1820.9,424.3 1821.7,422.8 1822.5,422.7 1823.3,422.3 1824.1,422.0 1824.9,426.2 1825.7,422.2 1826.5,422.4 1827.3,424.0 1828.1,423.4 1828.9,422.6 1829.7,422.5 1830.5,421.0 1831.3,424.4 1832.1,421.4 1832.9,419.4 1833.7,424.4 1834.5,424.0 1835.3,423.4 1836.1,422.2 1836.9,424.7 1837.7,421.4 1838.5,419.9 1839.3,423.3 1840.1,424.2 1840.9,423.9 1841.7,426.0 1842.5,424.3 1843.3,422.8 1844.1,422.8 1844.9,424.4 1845.7,423.1 1846.5,423.0 1847.3,420.6 1848.1,422.7 1848.9,421.3 1849.7,423.6 1850.5,423.4 1851.3,424.3 1852.1,425.8 1852.9,423.0 1853.7,425.4 1854.5,421.7 1855.3,423.6 1856.1,424.7 1856.9,426.2 1857.7,421.8 1858.5,423.0 1859.3,423.6 1860.1,423.3 1860.9,422.1 1861.7,421.1 1862.5,421.7 1863.3,423.4 1864.1,421.6 1864.9,426.1 1865.7,425.3 1866.5,420.8 1867.3,422.8 1868.1,425.5 1868.9,425.7 1869.7,425.2 1870.5,421.6 1871.3,423.1 1872.1,425.5 1872.9,423.8 1873.7,423.0 1874.5,424.4 1875.3,425.1 1876.1,423.9 1876.9,424.1 1877.7,425.3 1878.5,423.0 1879.3,422.5 1880.1,424.9 1880.9,422.1 1881.7,424.6 1882.5,422.8 1883.3,425.1 1884.1,422.2 1884.9,425.6 1885.7,424.3 1886.5,423.5 1887.3,422.7 1888.1,423.7 1888.9,422.6 1889.7,422.3 1890.5,425.6 1891.3,424.9 1892.1,425.8 1892.9,422.1 1893.7,421.3 1894.5,421.8 1895.3,425.1 1896.1,425.3 1896.9,421.5 1897.7,425.6 1898.5,423.5 1899.3,422.4 1900.1,424.1 1900.9,425.0 1901.7,423.9 1902.5,424.0 1903.3,423.0 1904.1,422.2 1904.9,423.7 1905.7,421.9 1906.5,425.2 1907.3,423.1 1908.1,426.3 1908.9,422.1 1909.7,426.4 1910.5,423.1 1911.3,423.1 1912.1,424.9 1912.9,425.8 1913.7,424.4 1914.5,424.0 1915.3,427.4 1916.1,425.2 1916.9,422.8 1917.7,424.2 1918.5,427.0 1919.3,425.0 1920.1,425.8 1920.9,427.6 1921.7,423.8 1922.5,425.2 1923.3,423.7 1924.1,424.7 1924.9,425.5 1925.7,422.8 1926.5,424.9 1927.3,424.9 1928.1,426.3 1928.9,423.9 1929.7,422.9 1930.5,425.4 1931.3,423.2 1932.1,425.1 1932.9,425.7 1933.7,423.6 1934.5,424.7 1935.3,423.4 1936.1,420.8 1936.9,422.8 1937.7,421.9 1938.5,425.0 1939.3,423.4 1940.1,424.8 1940.9,424.9 1941.7,426.5 1942.5,424.5 1943.3,424.4 1944.1,425.8 1944.9,427.4 1945.7,425.0 1946.5,425.6 1947.3,424.8 1948.1,424.1 1948.9,422.9 1949.7,425.0 1950.5,424.8 1951.3,424.8 1952.1,428.1 1952.9,424.7 1953.7,425.7 1954.5,424.8 1955.3,427.0 1956.1,424.9 1956.9,428.0 1957.7,424.9 1958.5,426.5 1959.3,426.8 1960.1,425.0 1960.9,426.6 1961.7,425.5 1962.5,424.3 1963.3,424.5 1964.1,425.9 1964.9,428.1 1965.7,424.8 1966.5,426.3 1967.3,424.3 1968.1,425.9 1968.9,423.7 1969.7,424.4 1970.5,425.6 1971.3,424.5 1972.1,425.2 1972.9,427.1 1973.7,425.5 1974.5,424.6 1975.3,423.9 1976.1,424.9 1976.9,427.4 1977.7,425.6 1978.5,425.5 1979.3,426.8 1980.1,427.0 1980.9,427.3 1981.7,425.3 1982.5,424.5 1983.3,423.4 1984.1,424.9 1984.9,425.3 1985.7,426.9 1986.5,426.4 1987.3,425.1 1988.1,427.2 1988.9,424.1 1989.7,424.4 1990.5,424.3 1991.3,424.4 1992.1,425.6 1992.9,424.8 1993.7,424.9 1994.5,428.0 1995.3,423.9 1996.1,424.6 1996.9,425.8 1997.7,426.8 1998.5,426.8 1999.3,425.8 2000.1,425.6 2000.9,425.8 2001.7,427.3 2002.5,424.9 2003.3,422.8 2004.1,426.5 2004.9,424.6 2005.7,426.2 2006.5,428.3 2007.3,426.5 2008.1,429.0 2008.9,424.0 2009.7,426.7 2010.5,426.9 2011.3,427.6 2012.1,425.4 2012.9,426.7 2013.7,426.6 2014.5,426.6 2015.3,424.5 2016.1,424.0 2016.9,427.3 2017.7,427.0 2018.5,426.6 2019.3,427.5 2020.1,428.2 2020.9,424.9 2021.7,427.8 2022.5,428.8 2023.3,428.1 2024.1,427.5 2024.9,427.7 2025.7,424.6 2026.5,426.0 2027.3,428.3 2028.1,428.9 2028.9,427.5 2029.7,426.2 2030.5,426.7 2031.3,428.1 2032.1,429.8 2032.9,428.1 2033.7,426.2 2034.5,427.9 2035.3,427.6 2036.1,430.5 2036.9,427.9 2037.7,427.1 2038.5,427.0 2039.3,425.3 2040.1,425.6 2040.9,426.4 2041.7,426.0 2042.5,427.5 2043.3,427.3 2044.1,428.6 2044.9,429.4 2045.7,427.5 2046.5,427.0 2047.3,424.6 2048.1,427.9 2048.9,428.3 2049.7,426.3 2050.5,426.8 2051.3,426.4 2052.1,429.0 2052.9,428.3 2053.7,429.2 2054.5,425.7 2055.3,431.4 2056.1,426.3 2056.9,426.1 2057.7,427.8 2058.5,426.8 2059.3,430.2 2060.1,427.0 2060.9,426.6 2061.7,429.0 2062.5,429.4 2063.3,426.4 2064.1,427.0 2064.9,427.2" fill="none" stroke="#FF0000" stroke-width="1.9" stroke-linejoin="miter"/>
<polyline points="181.7,664.3 182.5,657.0 183.3,661.8 184.1,660.3 184.9,660.5 185.7,661.0 186.5,658.1 187.3,661.1 188.1,660.1 188.9,666.9 189.7,662.0 190.5,661.2 191.3,661.4 192.1,660.8 192.9,660.3 193.7,661.4 194.5,662.9 195.3,661.8 196.1,663.8 196.9,662.1 197.7,662.5 198.5,665.0 199.3,663.5 200.1,661.9 200.9,662.5 201.7,663.8 202.5,666.1 203.3,662.6 204.1,662.7 204.9,664.8 205.7,661.9 206.5,662.9 207.3,664.8 208.1,664.4 208.9,663.7 209.7,664.7 210.5,659.1 211.3,665.4 212.1,662.3 212.9,661.2 213.7,664.3 214.5,665.1 215.3,663.3 216.1,662.3 216.9,664.1 217.7,664.0 218.5,666.4 219.3,665.3 220.1,664.5 220.9,666.0 221.7,663.9 222.5,662.7 223.3,665.2 224.1,665.2 224.9,663.9 225.7,663.0 226.5,664.6 227.3,660.2 228.1,665.3 228.9,665.0 229.7,661.5 230.5,664.2 231.3,662.6 232.1,665.3 232.9,660.8 233.7,662.6 234.5,665.1 235.3,665.8 236.1,660.5 236.9,663.1 237.7,664.4 238.5,662.8 239.3,666.3 240.1,661.8 240.9,664.2 241.7,661.9 242.5,665.7 243.3,663.4 244.1,662.7 244.9,660.5 245.7,665.9 246.5,664.3 247.3,664.2 248.1,664.7 248.9,663.4 249.7,661.7 250.5,661.4 251.3,661.3 252.1,664.7 252.9,660.0 253.7,661.3 254.5,661.6 255.3,662.4 256.1,662.9 256.9,659.8 257.7,658.9 258.5,661.6 259.3,663.4 260.1,662.6 260.9,661.6 261.7,660.6 262.5,661.5 263.3,660.5 264.1,662.1 264.9,659.3 265.7,660.7 266.5,660.2 267.3,661.1 268.1,660.5 268.9,664.0 269.7,662.2 270.5,662.1 271.3,656.3 272.1,658.9 272.9,658.3 273.7,660.0 274.5,655.4 275.3,660.8 276.1,660.5 276.9,656.5 277.7,656.9 278.5,657.1 279.3,658.3 280.1,659.1 280.9,661.2 281.7,657.5 282.5,658.9 283.3,657.8 284.1,660.2 284.9,658.4 285.7,659.3 286.5,655.2 287.3,656.5 288.1,655.4 288.9,658.9 289.7,657.4 290.5,655.7 291.3,655.4 292.1,656.7 292.9,654.7 293.7,654.2 294.5,656.3 295.3,659.3 296.1,654.8 296.9,654.2 297.7,653.1 298.5,652.7 299.3,655.5 300.1,655.9 300.9,654.4 301.7,654.8 302.5,654.3 303.3,654.2 304.1,651.4 304.9,652.9 305.7,653.7 306.5,652.1 307.3,652.5 308.1,651.8 308.9,652.4 309.7,654.2 310.5,652.0 311.3,652.3 312.1,653.7 312.9,653.3 313.7,654.8 314.5,648.6 315.3,653.2 316.1,650.9 316.9,651.8 317.7,652.7 318.5,653.0 319.3,652.8 320.1,651.2 320.9,653.4 321.7,650.3 322.5,650.4 323.3,651.7 324.1,649.4 324.9,653.6 325.7,651.7 326.5,653.4 327.3,649.8 328.1,649.1 328.9,649.8 329.7,650.6 330.5,648.4 331.3,649.8 332.1,649.1 332.9,651.6 333.7,647.8 334.5,650.4 335.3,647.6 336.1,647.0 336.9,647.3 337.7,646.4 338.5,648.4 339.3,649.8 340.1,648.3 340.9,648.9 341.7,650.4 342.5,648.2 343.3,647.9 344.1,647.1 344.9,644.9 345.7,648.6 346.5,644.5 347.3,648.2 348.1,647.1 348.9,648.8 349.7,646.8 350.5,645.6 351.3,647.4 352.1,645.8 352.9,646.4 353.7,646.7 354.5,646.3 355.3,646.1 356.1,645.1 356.9,646.0 357.7,642.8 358.5,645.9 359.3,644.2 360.1,647.9 360.9,648.1 361.7,642.9 362.5,646.2 363.3,645.7 364.1,644.1 364.9,646.6 365.7,645.0 366.5,642.8 367.3,645.2 368.1,645.4 368.9,645.7 369.7,643.5 370.5,646.5 371.3,646.6 372.1,643.6 372.9,644.3 373.7,645.2 374.5,644.4 375.3,648.1 376.1,645.6 376.9,643.6 377.7,643.9 378.5,645.1 379.3,648.8 380.1,644.8 380.9,645.3 381.7,645.9 382.5,645.0 383.3,648.7 384.1,644.1 384.9,646.2 385.7,645.2 386.5,645.9 387.3,643.0 388.1,647.7 388.9,644.7 389.7,644.9 390.5,643.3 391.3,643.6 392.1,645.7 392.9,646.4 393.7,646.0 394.5,646.7 395.3,645.9 396.1,644.8 396.9,646.0 397.7,645.6 398.5,644.5 399.3,645.8 400.1,646.7 400.9,645.0 401.7,644.1 402.5,645.8 403.3,647.7 404.1,644.3 404.9,644.5 405.7,644.4 406.5,646.5 407.3,641.6 408.1,645.2 408.9,646.5 409.7,643.3 410.5,646.9 411.3,645.4 412.1,643.7 412.9,644.9 413.7,642.1 414.5,643.6 415.3,647.5 416.1,643.1 416.9,647.5 417.7,644.4 418.5,646.1 419.3,644.6 420.1,640.9 420.9,643.6 421.7,644.8 422.5,642.7 423.3,642.4 424.1,645.1 424.9,643.5 425.7,641.8 426.5,643.5 427.3,645.9 428.1,643.8 428.9,646.1 429.7,647.0 430.5,644.6 431.3,642.8 432.1,642.5 432.9,644.6 433.7,646.0 434.5,645.0 435.3,645.5 436.1,643.9 436.9,645.1 437.7,643.9 438.5,644.1 439.3,642.6 440.1,642.1 440.9,643.9 441.7,642.9 442.5,643.1 443.3,645.8 444.1,644.5 444.9,649.4 445.7,646.2 446.5,643.7 447.3,646.0 448.1,645.3 448.9,643.6 449.7,646.5 450.5,643.5 451.3,639.9 452.1,646.0 452.9,643.8 453.7,647.2 454.5,643.7 455.3,642.9 456.1,647.3 456.9,643.1 457.7,645.1 458.5,647.1 459.3,645.0 460.1,644.7 460.9,645.0 461.7,646.2 462.5,643.6 463.3,645.8 464.1,645.8 464.9,648.6 465.7,644.3 466.5,643.4 467.3,646.1 468.1,644.3 468.9,645.4 469.7,645.1 470.5,646.8 471.3,643.9 472.1,644.8 472.9,640.8 473.7,643.5 474.5,647.4 475.3,643.8 476.1,643.8 476.9,643.0 477.7,645.9 478.5,645.2 479.3,643.0 480.1,646.0 480.9,645.4 481.7,646.1 482.5,643.9 483.3,647.7 484.1,645.6 484.9,644.8 485.7,644.1 486.5,644.6 487.3,646.3 488.1,644.5 488.9,646.7 489.7,645.9 490.5,647.1 491.3,646.3 492.1,644.9 492.9,641.9 493.7,645.4 494.5,646.2 495.3,645.2 496.1,645.8 496.9,644.2 497.7,644.3 498.5,643.4 499.3,647.1 500.1,645.2 500.9,644.2 501.7,642.8 502.5,644.7 503.3,647.3 504.1,645.7 504.9,643.8 505.7,647.2 506.5,647.2 507.3,646.5 508.1,646.2 508.9,646.8 509.7,645.8 510.5,646.2 511.3,643.7 512.1,647.3 512.9,645.3 513.7,648.2 514.5,641.7 515.3,646.1 516.1,646.5 516.9,644.4 517.7,645.7 518.5,646.1 519.3,645.9 520.1,644.1 520.9,644.7 521.7,646.6 522.5,647.0 523.3,645.1 524.1,645.1 524.9,645.3 525.7,646.6 526.5,643.3 527.3,642.8 528.1,645.1 528.9,643.2 529.7,644.0 530.5,645.1 531.3,645.7 532.1,643.2 532.9,646.2 533.7,642.1 534.5,645.8 535.3,642.4 536.1,642.9 536.9,646.0 537.7,644.3 538.5,643.7 539.3,644.2 540.1,645.7 540.9,644.8 541.7,644.9 542.5,646.6 543.3,643.8 544.1,644.2 544.9,644.1 545.7,646.8 546.5,646.5 547.3,647.0 548.1,644.8 548.9,644.6 549.7,646.3 550.5,644.3 551.3,646.2 552.1,646.0 552.9,643.8 553.7,644.7 554.5,644.7 555.3,647.6 556.1,649.0 556.9,644.7 557.7,644.9 558.5,641.2 559.3,645.2 560.1,644.8 560.9,643.1 561.7,646.1 562.5,642.3 563.3,644.4 564.1,645.0 564.9,642.8 565.7,646.1 566.5,646.4 567.3,642.5 568.1,642.5 568.9,645.7 569.7,644.7 570.5,642.8 571.3,644.2 572.1,644.5 572.9,644.4 573.7,646.0 574.5,645.2 575.3,647.5 576.1,646.8 576.9,645.7 577.7,646.3 578.5,646.7 579.3,645.7 580.1,642.6 580.9,645.9 581.7,644.6 582.5,647.1 583.3,644.6 584.1,645.3 584.9,645.0 585.7,647.1 586.5,644.7 587.3,644.0 588.1,644.9 588.9,643.7 589.7,644.6 590.5,644.4 591.3,644.8 592.1,647.4 592.9,643.7 593.7,644.3 594.5,643.9 595.3,645.3 596.1,642.3 596.9,643.0 597.7,644.0 598.5,644.9 599.3,643.9 600.1,643.0 600.9,642.3 601.7,644.3 602.0,644.8 602.3,645.2 602.5,645.4 602.6,645.0 602.9,644.2 603.2,643.3 603.3,643.0 603.5,642.7 603.8,642.3 604.1,641.8 604.1,641.8 604.4,641.3 604.7,640.6 604.9,640.0 605.0,639.1 605.3,636.4 605.6,632.6 605.7,631.4 605.9,627.8 606.2,620.5 606.5,611.1 606.5,609.9 606.8,598.5 607.1,594.9 607.3,597.5 607.4,600.8 607.7,607.7 608.0,610.7 608.1,611.1 608.3,612.3 608.6,617.4 608.9,623.8 608.9,624.5 609.2,629.9 609.5,633.4 609.7,634.6 609.8,636.2 610.1,639.3 610.4,641.9 610.5,642.4 610.7,643.2 611.0,644.1 611.3,644.8 611.3,644.8 611.6,643.9 611.9,643.0 612.1,642.5 612.2,642.7 612.5,643.3 612.8,643.9 612.9,644.0 613.1,644.0 613.4,644.0 613.7,644.1 613.7,644.1 614.0,644.5 614.3,644.9 614.5,645.1 614.6,644.5 614.9,643.2 615.3,641.6 616.1,646.6 616.9,643.4 617.7,646.2 618.5,644.4 619.3,643.6 620.1,644.1 620.9,645.8 621.7,643.0 622.5,643.8 623.3,643.6 624.1,641.6 624.9,646.5 625.7,645.3 626.5,644.4 627.3,646.3 628.1,642.9 628.9,644.3 629.7,647.1 630.5,645.9 631.3,640.8 632.1,638.9 632.9,642.5 633.3,644.1 633.6,645.3 633.7,645.7 633.9,645.1 634.2,644.1 634.5,643.1 634.5,643.1 634.8,643.1 635.1,643.1 635.3,643.0 635.4,643.1 635.7,643.3 636.0,643.5 636.1,643.5 636.3,642.6 636.6,640.9 636.9,638.8 636.9,638.6 637.2,637.2 637.5,634.2 637.7,630.8 637.8,629.2 638.1,623.5 638.4,622.0 638.5,623.3 638.7,625.8 639.0,629.3 639.3,630.4 639.3,630.4 639.6,630.2 639.9,631.8 640.1,634.4 640.2,635.2 640.5,637.8 640.8,639.4 640.9,639.8 641.1,640.9 641.4,642.4 641.7,643.6 641.7,643.7 642.0,643.5 642.3,643.2 642.5,642.9 642.6,643.2 642.9,644.4 643.2,645.6 643.3,646.0 643.5,646.6 643.8,647.4 644.1,648.2 644.1,648.3 644.4,646.5 644.7,644.5 644.9,643.1 645.0,642.9 645.3,642.1 645.6,641.2 645.7,640.9 645.9,641.5 646.2,642.6 646.5,643.7 647.3,645.1 648.1,646.2 648.9,646.3 649.7,643.3 650.5,643.3 651.3,646.6 652.1,642.8 652.9,646.3 653.7,644.2 654.5,645.8 655.3,645.7 656.1,645.8 656.9,645.9 657.7,643.0 658.5,645.1 659.3,644.6 660.1,645.1 660.9,646.5 661.7,644.1 662.5,643.4 663.3,643.4 664.1,644.0 664.9,645.7 665.7,643.2 666.5,646.3 667.3,644.9 668.1,644.1 668.9,642.3 669.7,644.8 670.5,645.4 671.3,641.5 672.1,646.2 672.9,646.9 673.7,644.7 674.5,644.9 675.3,647.9 676.1,646.0 676.9,642.5 677.7,643.9 678.5,643.6 679.3,643.5 680.1,639.9 680.9,644.7 681.7,642.4 682.5,643.6 683.3,642.9 684.1,644.4 684.9,642.3 685.7,641.3 686.5,643.2 687.3,644.4 688.1,641.3 688.9,643.7 689.7,641.5 690.5,639.8 691.3,642.5 692.1,638.2 692.9,640.3 693.7,637.0 694.5,637.4 695.3,633.2 696.1,631.9 696.9,632.3 697.7,627.0 698.5,621.0 699.3,611.9 700.1,601.7 700.9,583.1 701.7,563.7 702.5,542.3 703.3,517.8 704.1,499.2 704.9,491.7 705.7,495.7 706.5,510.7 707.3,535.3 708.1,557.3 708.9,578.8 709.7,594.2 710.5,606.8 711.3,615.1 712.1,623.7 712.9,625.6 713.7,631.2 714.5,635.7 715.3,638.7 716.1,639.0 716.9,637.1 717.7,640.1 718.5,638.7 719.3,641.9 720.1,640.9 720.9,642.9 721.7,646.0 722.5,643.7 723.3,646.2 724.1,643.0 724.9,642.4 725.7,645.3 726.5,646.1 727.3,642.6 728.1,643.8 728.9,641.5 729.7,643.6 730.5,645.4 731.3,643.9 732.1,643.3 732.9,642.0 733.7,644.9 734.5,645.7 735.3,645.4 736.1,644.9 736.9,642.5 737.7,647.4 738.5,644.6 739.3,644.5 740.1,645.9 740.9,641.3 741.7,644.7 742.5,644.6 743.3,645.5 744.1,647.0 744.9,645.7 745.7,642.0 746.5,644.4 747.3,645.3 748.1,645.2 748.9,643.0 749.7,642.4 750.5,645.9 751.3,645.6 752.1,645.0 752.9,642.3 753.7,647.9 754.5,640.4 755.3,644.5 756.1,648.4 756.9,644.8 757.7,645.4 758.5,643.2 759.3,647.2 760.1,643.0 760.9,645.5 761.7,645.3 762.5,643.4 763.3,646.5 764.1,642.8 764.9,643.9 765.7,645.0 766.5,644.3 767.3,645.7 768.1,646.4 768.9,644.5 769.7,644.0 770.5,644.1 771.3,644.3 772.1,646.1 772.9,644.4 773.7,645.4 774.5,644.6 775.3,643.3 776.1,646.0 776.9,642.9 777.7,644.5 778.5,646.8 779.3,642.6 780.1,644.2 780.9,641.7 781.7,643.3 782.5,641.7 783.3,643.4 784.1,643.0 784.9,643.9 785.7,646.1 786.5,643.8 787.3,644.2 788.1,642.9 788.9,642.4 789.7,641.1 790.5,639.3 791.3,641.9 792.1,644.0 792.9,641.7 793.7,639.6 794.5,642.4 795.3,638.3 796.1,637.1 796.9,635.0 797.7,633.9 798.5,633.2 799.3,634.2 800.1,627.0 800.9,620.1 801.7,612.4 802.5,600.6 803.3,580.5 804.1,559.8 804.9,531.8 805.7,500.2 806.5,474.8 807.3,459.5 808.1,463.3 808.9,486.6 809.7,513.5 810.5,538.8 811.3,568.2 812.1,589.3 812.9,605.9 813.7,616.4 814.5,622.7 815.3,628.8 816.1,632.1 816.9,634.2 817.7,633.0 818.5,632.6 819.3,637.2 820.1,636.7 820.9,640.5 821.7,641.8 822.5,641.6 823.3,641.1 824.1,642.2 824.9,644.3 825.7,641.5 826.5,644.5 827.3,644.3 828.1,643.8 828.9,645.9 829.7,642.6 830.5,645.4 831.3,642.6 832.1,643.0 832.9,642.6 833.7,645.1 834.5,643.0 835.3,644.7 836.1,642.8 836.9,646.4 837.7,647.7 838.5,645.2 839.3,647.5 840.1,645.8 840.9,648.4 841.7,645.1 842.5,642.4 843.3,647.3 844.1,644.6 844.9,643.1 845.4,643.4 845.7,643.5 845.7,643.5 846.0,642.9 846.3,642.2 846.5,641.7 846.6,641.9 846.9,642.6 847.2,643.2 847.3,643.4 847.5,642.9 847.8,642.0 848.1,640.9 848.1,640.9 848.4,641.6 848.7,642.0 848.9,641.9 849.0,641.1 849.3,637.4 849.6,631.6 849.7,628.8 849.9,622.5 850.2,612.3 850.5,608.8 850.5,608.9 850.8,615.5 851.1,623.0 851.3,626.3 851.4,627.3 851.7,628.5 852.0,626.8 852.1,625.9 852.3,624.1 852.6,625.0 852.9,628.9 852.9,629.0 853.2,634.1 853.5,638.0 853.7,640.0 853.8,640.4 854.1,641.3 854.4,641.9 854.5,642.1 854.7,642.0 855.0,641.7 855.3,641.3 855.3,641.3 855.6,641.4 855.9,641.5 856.1,641.5 856.2,641.6 856.5,642.0 856.8,642.3 856.9,642.4 856.9,642.4 857.1,642.5 857.2,642.6 857.4,642.6 857.5,642.6 857.7,642.6 857.7,642.6 857.8,642.3 858.0,641.9 858.1,641.6 858.3,641.0 858.4,640.6 858.5,640.3 858.7,638.7 859.0,636.2 859.3,633.2 859.3,633.1 859.6,630.5 859.9,626.6 860.1,623.2 860.2,620.2 860.5,610.0 860.8,595.8 860.9,590.7 861.1,578.4 861.4,558.5 861.7,542.0 861.7,541.5 862.0,535.5 862.3,543.9 862.5,552.6 862.6,558.3 862.9,570.6 863.2,576.9 863.3,577.6 863.5,576.7 863.8,575.5 864.1,579.3 864.1,579.6 864.4,590.6 864.7,602.8 864.9,609.8 865.0,613.5 865.3,621.9 865.6,628.1 865.7,629.6 865.9,632.5 866.2,635.6 866.5,638.0 866.5,638.0 866.8,638.3 867.1,638.3 867.3,638.1 867.4,638.7 867.7,640.0 868.0,641.1 868.1,641.5 868.3,642.1 868.6,643.0 868.9,643.7 868.9,643.7 869.2,644.1 869.5,644.5 869.7,644.7 869.8,644.5 870.5,643.5 871.3,645.5 872.1,645.2 872.9,648.1 873.7,647.0 874.5,644.2 875.3,642.9 876.1,646.7 876.9,648.6 877.7,647.1 878.5,648.3 879.3,646.2 880.1,644.9 880.9,648.3 881.7,647.3 882.5,648.3 883.3,645.1 884.1,647.6 884.9,646.4 885.7,648.7 886.5,646.6 887.3,646.6 888.1,646.6 888.9,649.7 889.7,647.7 890.5,646.5 891.3,646.1 892.1,646.1 892.9,650.2 893.7,645.0 894.5,646.5 895.3,648.9 896.1,649.8 896.9,647.8 897.7,649.3 898.5,649.3 899.3,649.7 900.1,648.2 900.9,650.8 901.7,648.5 902.5,650.6 903.3,646.4 903.7,647.9 904.0,649.1 904.1,649.6 904.3,648.8 904.6,647.5 904.9,646.1 904.9,646.0 905.2,645.8 905.5,645.6 905.7,645.4 905.8,645.7 906.1,646.8 906.4,647.8 906.5,648.2 906.7,647.6 907.0,646.4 907.3,645.0 907.3,644.9 907.6,644.6 907.9,643.5 908.1,642.1 908.2,641.0 908.5,637.0 908.8,635.4 908.9,635.7 909.1,638.4 909.4,642.7 909.7,646.0 909.7,646.2 910.0,645.7 910.3,644.2 910.5,642.7 910.6,642.2 910.9,641.2 911.2,641.7 911.3,642.2 911.5,643.6 911.8,645.7 912.1,647.3 912.1,647.4 912.4,648.2 912.7,648.9 912.9,649.4 913.0,649.2 913.3,648.3 913.6,647.5 913.7,647.1 913.9,647.6 914.2,648.5 914.5,649.3 914.5,649.3 914.8,650.2 915.1,651.2 915.3,651.9 915.4,651.7 915.7,651.1 916.0,650.4 916.1,650.1 916.3,649.8 916.6,649.3 916.9,648.8 917.7,647.9 918.5,649.8 919.3,646.5 920.1,644.1 920.9,648.0 921.7,647.3 922.5,651.9 923.3,649.4 924.1,647.6 924.9,647.3 925.7,650.0 926.5,647.9 927.3,648.4 928.1,649.2 928.9,649.5 929.7,649.5 930.5,649.6 931.3,651.5 932.1,652.2 932.9,646.9 933.7,653.6 934.5,649.8 935.3,651.6 936.1,648.4 936.9,650.1 937.7,650.0 938.5,649.9 939.3,651.1 940.1,650.7 940.9,648.1 941.7,649.6 942.5,651.0 943.3,650.9 944.1,649.3 944.9,649.4 945.7,649.6 946.5,648.1 947.3,647.8 948.1,652.4 948.9,649.3 949.7,650.1 950.5,648.8 951.3,652.1 952.1,652.8 952.9,649.7 953.7,650.8 954.5,648.8 955.3,652.9 956.1,651.5 956.9,648.7 957.7,652.1 958.5,650.7 959.3,650.8 960.1,650.7 960.9,649.0 961.7,649.2 962.5,651.1 963.3,650.0 964.1,648.6 964.9,653.3 965.7,649.7 966.5,649.2 967.3,648.9 968.1,651.1 968.9,651.5 969.7,650.3 970.5,651.2 971.3,647.3 972.1,648.9 972.4,648.7 972.7,648.5 972.9,648.4 973.0,648.4 973.3,648.5 973.6,648.6 973.7,648.6 973.9,648.6 974.2,648.6 974.5,648.5 974.5,648.4 974.8,646.4 975.1,644.1 975.3,642.3 975.4,642.9 975.7,644.3 976.0,644.8 976.1,644.7 976.3,640.6 976.6,632.7 976.9,623.5 976.9,623.2 977.2,618.0 977.5,617.3 977.7,620.4 977.8,622.1 978.1,628.2 978.4,633.0 978.5,634.2 978.7,635.4 979.0,635.4 979.3,633.9 979.3,633.9 979.6,632.1 979.9,632.6 980.1,634.5 980.2,635.1 980.5,637.0 980.8,638.2 980.9,638.4 981.1,640.4 981.4,643.1 981.7,645.2 981.7,645.3 982.0,647.0 982.3,648.6 982.5,649.7 982.6,649.5 982.9,648.7 983.2,648.0 983.3,647.7 983.5,647.7 983.8,647.8 984.1,647.9 984.1,647.9 984.4,647.2 984.7,646.5 984.9,646.0 985.0,646.7 985.3,648.9 985.7,651.9 986.5,650.9 987.3,648.8 988.1,650.1 988.9,650.2 989.7,648.6 990.5,650.0 991.3,650.9 992.1,651.4 992.9,652.6 993.7,650.6 994.5,649.8 995.3,651.3 996.1,649.6 996.9,648.7 997.7,652.5 998.5,650.1 999.3,650.9 1000.1,651.8 1000.9,649.0 1001.7,651.8 1002.5,651.5 1003.3,650.6 1004.1,651.5 1004.9,649.6 1005.7,647.3 1006.5,650.4 1007.3,649.4 1008.1,652.3 1008.9,651.3 1009.7,650.1 1010.5,651.0 1011.3,653.1 1012.1,652.8 1012.9,651.6 1013.7,651.7 1014.5,650.6 1015.3,650.8 1016.1,652.0 1016.9,650.9 1017.7,651.5 1018.5,649.3 1019.3,648.4 1020.1,648.4 1020.9,650.4 1021.7,653.2 1022.5,653.0 1023.3,649.4 1024.1,648.5 1024.9,652.2 1025.7,651.6 1026.5,648.6 1027.3,652.3 1027.8,651.3 1028.1,650.7 1028.4,651.3 1028.7,651.8 1028.9,652.1 1029.0,651.9 1029.3,651.0 1029.6,650.2 1029.7,649.8 1029.9,649.8 1030.2,649.6 1030.5,649.2 1030.8,647.9 1031.1,646.0 1031.3,644.3 1031.4,643.1 1031.7,638.4 1032.0,631.6 1032.1,628.8 1032.3,623.4 1032.6,615.9 1032.9,614.6 1033.2,620.4 1033.5,627.9 1033.7,631.8 1033.8,633.7 1034.1,637.4 1034.4,638.5 1034.5,638.4 1034.7,636.1 1035.0,631.9 1035.3,629.4 1035.6,631.7 1035.9,635.9 1036.1,638.6 1036.2,640.2 1036.5,644.4 1036.8,647.5 1036.9,648.4 1037.1,649.4 1037.4,650.4 1037.7,651.2 1038.0,651.8 1038.3,652.3 1038.5,652.5 1038.6,652.5 1038.9,652.5 1039.2,652.5 1039.3,652.4 1039.5,651.5 1039.8,650.0 1040.1,648.6 1040.4,649.1 1040.7,649.7 1040.9,650.1 1041.7,650.4 1042.5,651.4 1043.3,648.1 1044.1,651.6 1044.9,652.1 1045.7,650.2 1046.5,651.9 1047.3,653.7 1048.1,651.9 1048.9,653.5 1049.7,653.5 1050.5,652.6 1051.3,652.5 1052.1,651.4 1052.9,654.0 1053.7,651.3 1054.5,650.9 1055.3,653.2 1056.1,650.9 1056.9,652.8 1057.7,653.8 1058.5,652.3 1059.3,652.3 1060.1,653.7 1060.9,653.4 1061.7,649.8 1062.5,650.1 1063.3,654.4 1064.1,652.9 1064.9,649.0 1065.7,650.2 1066.5,652.4 1067.3,650.8 1068.1,653.1 1068.9,652.5 1069.7,653.2 1070.5,650.5 1071.3,653.4 1072.1,655.6 1072.9,651.2 1073.7,654.6 1074.5,654.0 1075.3,653.5 1076.1,652.4 1076.9,650.6 1077.7,651.1 1078.5,653.7 1079.3,654.1 1080.1,654.5 1080.9,654.1 1081.7,654.0 1082.5,651.9 1083.3,650.6 1084.1,652.9 1084.9,653.4 1085.7,652.7 1086.5,650.1 1087.3,651.7 1088.1,650.2 1088.9,652.8 1089.7,650.9 1090.5,652.3 1091.3,653.0 1092.1,652.7 1092.9,654.7 1093.7,650.7 1094.5,648.9 1095.3,653.9 1096.1,654.6 1096.9,654.7 1097.7,652.8 1098.5,653.1 1099.3,652.4 1100.1,650.1 1100.9,651.2 1101.7,652.9 1102.5,651.1 1103.3,655.0 1104.1,649.4 1104.9,651.0 1105.7,653.4 1106.5,650.5 1107.3,649.5 1108.1,649.0 1108.9,649.8 1109.7,653.1 1110.5,651.1 1111.3,650.9 1112.1,648.8 1112.9,650.5 1113.7,648.7 1114.5,646.3 1115.3,646.0 1116.1,645.5 1116.9,645.1 1117.7,640.4 1118.5,637.7 1119.3,635.4 1120.1,625.0 1120.9,617.1 1121.7,612.7 1122.5,603.4 1123.3,594.9 1124.1,589.9 1124.9,586.5 1125.7,588.7 1126.5,591.0 1127.3,598.7 1128.1,602.9 1128.9,611.4 1129.7,620.5 1130.5,626.3 1131.3,633.8 1132.1,637.2 1132.9,640.0 1133.7,643.8 1134.5,644.7 1135.3,644.5 1136.1,646.3 1136.9,647.7 1137.7,648.8 1138.5,650.3 1139.3,652.0 1140.1,651.8 1140.9,654.1 1141.7,653.5 1142.5,651.4 1143.3,654.5 1144.1,654.0 1144.9,651.5 1145.7,652.9 1146.5,654.2 1147.3,653.0 1148.1,654.3 1148.9,653.4 1149.7,654.0 1150.5,652.4 1151.3,653.6 1152.1,652.5 1152.9,654.2 1153.7,650.5 1154.5,653.7 1155.3,655.2 1156.1,654.2 1156.9,653.2 1157.7,654.1 1158.5,651.8 1159.3,651.8 1160.1,652.5 1160.9,652.7 1161.7,654.3 1162.5,651.1 1163.0,652.7 1163.3,653.7 1163.6,651.9 1163.9,650.1 1164.1,648.9 1164.2,648.9 1164.5,649.0 1164.8,648.9 1164.9,648.9 1165.1,648.7 1165.4,648.3 1165.7,647.5 1166.0,646.5 1166.3,644.7 1166.5,642.8 1166.6,641.0 1166.9,634.7 1167.2,626.6 1167.3,623.6 1167.5,617.4 1167.8,609.8 1168.1,607.4 1168.4,613.7 1168.7,622.5 1168.9,628.0 1169.0,629.8 1169.3,633.9 1169.6,635.7 1169.7,635.8 1169.9,635.1 1170.2,632.7 1170.5,629.5 1170.8,627.8 1171.1,629.1 1171.3,631.5 1171.4,633.0 1171.7,637.6 1172.0,641.6 1172.1,642.7 1172.3,644.8 1172.6,647.3 1172.9,649.3 1173.2,650.6 1173.5,651.7 1173.7,652.3 1173.8,652.0 1174.1,651.1 1174.4,650.2 1174.5,649.8 1174.7,651.5 1175.0,654.0 1175.3,656.5 1175.6,655.2 1175.9,654.0 1176.1,653.1 1176.9,652.9 1177.7,654.7 1178.5,654.0 1179.3,657.6 1180.1,655.8 1180.9,653.5 1181.7,653.5 1182.5,653.4 1183.3,653.7 1184.1,655.4 1184.9,653.3 1185.7,657.0 1186.5,654.3 1187.3,654.2 1188.1,656.0 1188.9,651.3 1189.7,653.0 1190.5,655.5 1191.3,654.6 1192.1,654.6 1192.9,655.2 1193.7,653.7 1194.5,654.4 1195.3,652.5 1196.1,651.7 1196.9,656.7 1197.7,653.2 1198.5,653.6 1199.3,657.0 1200.1,656.5 1200.9,653.9 1201.7,653.9 1202.5,654.7 1203.3,653.3 1204.1,655.7 1204.9,655.1 1205.7,655.1 1206.5,656.1 1207.3,656.0 1208.1,657.8 1208.9,657.3 1209.7,652.2 1210.5,656.3 1211.3,653.1 1212.1,652.6 1212.9,656.1 1213.7,653.8 1214.5,654.4 1215.3,656.7 1216.1,653.9 1216.9,653.5 1217.7,655.5 1218.5,656.9 1219.3,655.8 1220.1,652.5 1220.9,653.9 1221.7,654.7 1222.5,658.1 1223.3,656.4 1224.1,656.3 1224.9,656.9 1225.7,654.5 1226.5,655.7 1227.3,655.7 1228.1,653.4 1228.9,654.9 1229.7,655.8 1230.5,653.1 1231.3,656.0 1231.5,656.0 1231.8,655.9 1232.1,655.8 1232.1,655.8 1232.4,655.9 1232.7,656.0 1232.9,656.1 1233.0,655.8 1233.3,654.6 1233.6,653.3 1233.7,652.8 1233.9,653.0 1234.2,653.3 1234.5,653.4 1234.5,653.4 1234.8,653.6 1235.1,653.5 1235.3,653.1 1235.4,652.5 1235.7,649.8 1236.0,646.3 1236.1,644.8 1236.3,642.5 1236.6,640.9 1236.9,642.3 1236.9,642.4 1237.2,645.9 1237.5,648.9 1237.7,650.6 1237.8,651.1 1238.1,652.5 1238.4,653.3 1238.5,653.4 1238.7,652.5 1239.0,650.5 1239.3,648.1 1239.3,648.0 1239.6,647.6 1239.9,648.7 1240.1,650.1 1240.2,650.9 1240.5,653.8 1240.8,656.2 1240.9,657.0 1241.1,656.4 1241.4,655.3 1241.7,654.0 1241.7,653.9 1242.0,654.1 1242.3,654.2 1242.5,654.2 1242.6,654.1 1242.9,653.6 1243.2,653.2 1243.3,653.0 1243.5,653.1 1243.8,653.4 1244.1,653.6 1244.1,653.6 1244.4,654.9 1244.9,657.1 1245.7,654.5 1246.5,652.9 1247.3,653.3 1248.1,654.8 1248.9,656.0 1249.7,653.6 1250.5,655.9 1251.3,653.9 1252.1,655.2 1252.9,655.4 1253.7,655.5 1254.5,653.8 1255.3,654.1 1256.1,655.1 1256.9,652.1 1257.7,654.3 1258.5,654.6 1259.3,655.3 1260.1,653.3 1260.9,652.7 1261.7,652.8 1262.5,650.9 1263.3,650.9 1264.1,650.8 1264.9,648.7 1265.7,643.7 1266.5,640.6 1267.3,631.8 1268.1,628.9 1268.9,618.4 1269.7,612.5 1270.5,607.1 1271.3,609.9 1272.1,614.1 1272.9,619.3 1273.7,620.9 1274.5,630.9 1275.3,635.6 1276.1,639.9 1276.9,645.9 1277.7,647.5 1278.5,649.5 1279.3,650.1 1280.1,652.4 1280.9,652.7 1281.7,652.8 1282.5,651.9 1283.3,652.9 1284.1,654.5 1284.9,656.1 1285.7,654.2 1286.5,656.6 1287.3,654.4 1288.1,652.8 1288.9,655.6 1289.7,653.1 1290.5,655.4 1291.3,656.5 1292.1,654.3 1292.9,654.7 1293.7,658.8 1294.5,655.3 1295.3,655.3 1296.1,656.2 1296.9,654.8 1297.7,654.8 1298.5,655.5 1299.3,651.1 1300.1,657.1 1300.9,653.2 1301.7,653.1 1302.5,655.6 1303.3,654.8 1304.1,652.7 1304.9,654.9 1305.7,652.7 1306.5,653.3 1307.3,651.8 1308.1,652.8 1308.9,654.5 1309.7,653.8 1310.5,653.8 1311.3,654.4 1312.1,652.4 1312.9,650.6 1313.7,650.2 1314.5,651.7 1315.3,646.9 1316.1,644.2 1316.9,639.2 1317.7,634.2 1318.5,627.9 1319.3,620.3 1320.1,614.2 1320.9,609.9 1321.7,609.6 1322.5,613.8 1323.3,617.9 1324.1,622.6 1324.9,626.6 1325.7,631.0 1326.5,638.7 1327.3,643.1 1328.1,643.2 1328.9,649.5 1329.7,651.1 1330.5,654.1 1331.3,650.6 1332.1,651.0 1332.9,654.8 1333.7,651.1 1334.5,653.0 1335.3,652.7 1336.1,653.0 1336.9,651.7 1337.7,654.5 1338.5,656.4 1339.3,655.6 1340.1,655.5 1340.9,654.1 1341.0,654.3 1341.2,655.3 1341.5,656.2 1341.7,656.6 1341.8,656.2 1342.2,655.4 1342.5,654.6 1342.5,654.5 1342.8,654.5 1343.0,654.4 1343.3,654.1 1343.3,653.6 1343.7,651.2 1344.0,648.4 1344.1,647.0 1344.2,646.5 1344.5,645.0 1344.8,642.3 1344.9,641.9 1345.2,636.5 1345.5,629.6 1345.7,624.9 1345.8,624.2 1346.0,624.0 1346.3,628.5 1346.5,631.2 1346.7,634.4 1347.0,639.4 1347.2,643.1 1347.3,643.4 1347.5,644.7 1347.8,644.9 1348.1,644.3 1348.2,644.3 1348.5,643.9 1348.8,642.6 1348.9,641.9 1349.0,641.0 1349.3,640.3 1349.7,641.9 1349.7,642.2 1350.0,644.4 1350.2,647.2 1350.5,649.0 1350.5,649.5 1350.8,651.6 1351.2,653.0 1351.3,653.5 1351.5,653.5 1351.8,653.4 1352.0,653.0 1352.1,652.9 1352.3,653.4 1352.7,653.8 1352.9,654.0 1353.0,654.0 1353.2,654.0 1353.5,653.9 1353.7,653.8 1353.8,654.3 1354.5,656.1 1355.3,658.0 1356.1,656.9 1356.9,656.4 1357.7,654.7 1358.5,657.3 1359.3,656.3 1360.1,653.7 1360.9,654.0 1361.7,656.3 1362.5,655.4 1363.3,659.5 1364.1,657.0 1364.9,655.3 1365.7,656.2 1366.5,659.6 1367.3,655.5 1368.1,658.3 1368.9,657.8 1369.7,659.5 1370.5,658.0 1371.3,656.5 1372.1,658.0 1372.9,657.3 1373.7,658.7 1374.5,657.1 1375.3,660.3 1376.1,657.0 1376.4,657.3 1376.7,657.6 1376.9,657.8 1377.0,657.4 1377.3,656.7 1377.6,656.0 1377.7,655.9 1377.9,656.2 1378.2,656.6 1378.5,656.9 1378.5,656.8 1378.8,656.6 1379.1,656.3 1379.3,656.1 1379.4,656.0 1379.7,655.5 1380.0,654.9 1380.1,654.7 1380.3,654.2 1380.6,653.2 1380.9,652.1 1380.9,651.8 1381.2,649.6 1381.5,648.4 1381.7,648.4 1381.8,648.9 1382.1,650.3 1382.4,651.6 1382.5,651.8 1382.7,653.5 1383.0,655.4 1383.3,656.7 1383.3,656.6 1383.6,655.8 1383.9,654.7 1384.1,654.0 1384.2,653.6 1384.5,652.7 1384.8,651.9 1384.9,651.9 1385.1,652.8 1385.4,654.6 1385.7,656.3 1385.7,656.4 1386.0,656.9 1386.3,657.3 1386.5,657.5 1386.6,656.7 1386.9,655.0 1387.2,653.2 1387.3,652.8 1387.5,654.0 1387.8,655.5 1388.1,656.7 1388.1,656.8 1388.4,657.6 1388.7,658.4 1388.9,658.8 1389.0,658.8 1389.3,658.9 1389.7,659.0 1390.5,656.9 1391.3,660.3 1392.1,656.6 1392.9,657.5 1393.7,658.1 1394.5,658.0 1395.3,659.3 1396.1,659.7 1396.9,658.0 1397.7,660.4 1398.5,657.1 1399.3,657.9 1400.1,661.0 1400.9,658.4 1401.7,660.0 1402.5,657.7 1403.3,658.0 1404.1,658.2 1404.9,658.7 1405.7,657.9 1406.5,658.5 1407.3,659.6 1408.1,660.5 1408.9,658.8 1409.7,659.7 1410.5,660.1 1411.3,657.0 1412.1,656.2 1412.9,661.3 1413.7,660.9 1414.5,658.9 1415.3,659.4 1416.1,657.3 1416.9,656.7 1417.7,659.4 1418.5,656.5 1419.3,660.4 1420.1,657.9 1420.9,659.4 1421.7,662.1 1422.5,662.0 1423.3,658.6 1424.1,660.7 1424.9,657.4 1425.7,658.1 1426.5,659.7 1427.3,661.3 1428.1,658.2 1428.9,660.0 1429.7,659.3 1430.5,657.2 1431.3,659.0 1432.1,661.6 1432.9,659.1 1433.7,660.0 1434.5,660.5 1435.3,658.1 1436.1,661.2 1436.9,661.6 1437.7,661.8 1438.5,661.3 1439.3,658.5 1440.1,658.3 1440.9,658.0 1441.7,657.8 1442.5,658.0 1443.3,660.8 1444.1,661.5 1444.9,658.2 1445.7,660.5 1446.5,657.1 1447.3,658.5 1448.1,657.4 1448.9,656.3 1449.7,658.8 1450.5,658.6 1450.5,658.6 1450.8,658.2 1451.0,657.7 1451.3,657.4 1451.3,657.3 1451.7,657.0 1452.0,656.7 1452.1,656.5 1452.2,656.2 1452.5,655.4 1452.8,654.5 1452.9,654.4 1453.2,654.1 1453.5,653.4 1453.7,652.5 1453.8,652.0 1454.0,649.2 1454.3,645.2 1454.5,643.2 1454.7,640.6 1455.0,635.5 1455.2,631.4 1455.3,631.2 1455.5,629.8 1455.8,632.5 1456.1,635.9 1456.2,637.3 1456.5,643.0 1456.8,647.5 1456.9,649.1 1457.0,650.4 1457.3,651.8 1457.7,652.4 1457.7,652.4 1458.0,652.3 1458.2,651.4 1458.5,650.3 1458.5,649.7 1458.8,647.2 1459.2,645.5 1459.3,645.4 1459.5,645.6 1459.8,647.5 1460.0,649.9 1460.1,650.2 1460.3,651.9 1460.7,653.3 1460.9,654.0 1461.0,654.2 1461.2,654.4 1461.5,654.4 1461.7,654.3 1461.8,655.2 1462.2,656.6 1462.5,658.0 1462.5,658.1 1462.8,659.1 1463.0,660.1 1463.3,660.9 1463.3,660.9 1464.1,661.6 1464.9,655.0 1465.7,658.0 1466.5,658.8 1467.3,657.7 1468.1,659.8 1468.9,659.6 1469.7,658.7 1470.5,659.5 1471.3,657.1 1472.1,658.1 1472.9,658.2 1473.7,661.1 1474.5,657.1 1475.3,659.4 1476.1,661.0 1476.9,659.6 1477.7,661.0 1478.5,658.7 1479.3,660.4 1480.1,661.1 1480.9,663.2 1481.7,660.7 1482.5,661.8 1483.3,659.4 1484.1,659.4 1484.8,661.3 1484.9,661.5 1485.1,661.0 1485.4,660.2 1485.7,659.5 1485.7,659.5 1486.0,659.8 1486.3,660.0 1486.5,660.1 1486.6,659.8 1486.9,659.0 1487.2,657.9 1487.3,657.6 1487.5,657.6 1487.8,657.3 1488.1,656.5 1488.1,656.4 1488.4,654.0 1488.7,650.6 1488.9,648.0 1489.0,645.2 1489.3,637.8 1489.6,631.3 1489.7,630.1 1489.9,631.1 1490.2,636.1 1490.5,642.5 1490.5,642.8 1490.8,646.8 1491.1,649.6 1491.3,650.7 1491.4,651.5 1491.7,652.9 1492.0,653.4 1492.1,653.4 1492.3,652.9 1492.6,651.5 1492.9,649.5 1492.9,649.4 1493.2,647.6 1493.5,646.0 1493.7,645.7 1493.8,645.4 1494.1,646.0 1494.4,647.7 1494.5,648.2 1494.7,650.3 1495.0,652.7 1495.3,654.4 1495.3,654.4 1495.6,655.5 1495.9,656.2 1496.1,656.6 1496.2,657.0 1496.5,658.0 1496.8,659.0 1496.9,659.2 1497.1,659.6 1497.4,660.2 1497.7,660.7 1497.7,660.7 1498.5,660.7 1499.3,660.3 1500.1,658.9 1500.9,657.2 1501.7,660.7 1502.5,660.4 1503.3,660.7 1504.1,662.5 1504.9,660.0 1505.7,660.0 1506.5,656.6 1507.3,661.3 1508.1,660.3 1508.9,659.2 1509.7,661.1 1510.5,658.8 1511.3,659.6 1512.1,663.7 1512.9,661.7 1513.7,662.0 1514.5,661.8 1515.3,661.6 1516.1,660.9 1516.9,664.3 1517.7,660.5 1518.5,661.8 1519.3,660.3 1520.1,660.1 1520.9,656.8 1521.7,657.6 1522.5,663.2 1523.3,663.1 1524.1,660.1 1524.9,660.7 1525.7,661.8 1526.5,659.2 1527.3,663.7 1528.1,659.2 1528.9,659.7 1529.7,656.4 1530.5,663.3 1531.3,661.0 1532.1,663.5 1532.9,659.3 1533.7,661.5 1534.5,661.1 1535.3,661.3 1536.1,664.3 1536.9,664.6 1537.7,663.2 1538.5,660.3 1539.3,662.4 1540.1,663.1 1540.9,661.8 1540.9,661.8 1541.2,661.8 1541.5,661.8 1541.7,661.8 1541.8,661.8 1542.1,661.7 1542.4,661.6 1542.5,661.5 1542.7,661.0 1543.0,660.1 1543.3,659.1 1543.3,659.1 1543.6,659.6 1543.9,660.1 1544.1,660.3 1544.2,660.5 1544.5,660.7 1544.8,660.6 1544.9,660.4 1545.1,658.3 1545.4,654.3 1545.7,650.1 1545.7,650.0 1546.0,650.1 1546.3,652.9 1546.5,655.3 1546.6,656.2 1546.9,658.5 1547.2,660.1 1547.3,660.5 1547.5,660.0 1547.8,659.0 1548.1,657.8 1548.1,657.8 1548.4,658.5 1548.7,659.0 1548.9,659.3 1549.0,658.8 1549.3,657.1 1549.6,654.9 1549.7,654.1 1549.9,653.8 1550.2,654.6 1550.5,656.5 1550.5,656.6 1550.8,657.4 1551.1,657.8 1551.3,657.8 1551.4,658.1 1551.7,658.7 1552.0,659.2 1552.1,659.3 1552.3,659.6 1552.6,659.9 1552.9,660.2 1552.9,660.2 1553.2,660.4 1553.5,660.6 1553.7,660.7 1553.8,660.7 1554.5,660.9 1555.3,657.4 1556.1,663.9 1556.9,660.9 1557.7,659.6 1558.5,660.4 1559.3,661.9 1560.1,659.8 1560.9,660.8 1561.7,660.7 1562.5,662.4 1563.3,660.3 1564.1,662.3 1564.9,662.1 1565.7,661.3 1566.5,663.6 1567.3,661.6 1568.1,659.7 1568.9,662.1 1569.7,661.8 1570.5,661.6 1571.3,662.0 1572.1,665.4 1572.9,662.0 1573.7,662.4 1574.5,661.3 1575.3,663.8 1576.1,661.6 1576.9,660.4 1577.7,659.7 1578.3,661.9 1578.5,662.4 1578.6,662.5 1578.9,662.6 1579.2,662.7 1579.3,662.7 1579.5,661.5 1579.8,660.0 1580.1,658.8 1580.1,658.9 1580.4,659.3 1580.7,659.7 1580.9,659.9 1581.0,660.2 1581.3,660.7 1581.6,661.1 1581.7,661.2 1581.9,660.8 1582.2,659.9 1582.5,658.5 1582.5,657.9 1582.8,653.5 1583.1,648.8 1583.3,647.3 1583.4,647.7 1583.7,651.0 1584.0,654.7 1584.1,655.3 1584.3,657.7 1584.6,659.8 1584.9,661.1 1584.9,661.0 1585.2,660.6 1585.5,660.0 1585.7,659.6 1585.8,659.6 1586.1,659.5 1586.4,659.2 1586.5,659.1 1586.7,658.4 1587.0,657.0 1587.3,655.6 1587.3,655.3 1587.6,654.1 1587.9,654.7 1588.1,655.4 1588.2,656.6 1588.5,658.7 1588.8,660.4 1588.9,660.6 1589.1,661.1 1589.4,661.5 1589.7,661.8 1589.7,661.7 1590.0,660.8 1590.3,659.8 1590.5,659.4 1590.6,659.9 1590.9,660.8 1591.2,661.8 1591.3,661.9 1592.1,663.6 1592.9,662.2 1593.7,663.4 1594.5,661.1 1595.3,664.1 1596.1,660.7 1596.9,665.0 1597.7,661.2 1598.5,660.8 1599.3,660.5 1600.1,661.2 1600.9,661.1 1601.7,660.7 1602.5,661.2 1603.3,662.6 1604.1,662.8 1604.9,660.6 1605.7,662.7 1606.5,658.7 1607.3,658.1 1608.1,657.3 1608.9,659.4 1609.7,655.2 1610.5,654.9 1611.3,658.8 1612.1,659.4 1612.9,659.0 1613.7,654.7 1614.5,657.5 1615.3,659.3 1616.1,658.6 1616.9,656.5 1617.7,659.1 1618.5,657.5 1619.3,658.8 1620.1,664.6 1620.9,662.6 1621.7,659.4 1622.5,659.6 1623.3,662.9 1624.1,661.3 1624.9,663.3 1625.7,661.4 1626.5,662.2 1627.3,662.9 1628.1,660.9 1628.9,659.6 1629.7,660.8 1630.5,661.6 1631.3,662.4 1632.1,662.7 1632.9,662.7 1633.7,663.6 1634.5,661.4 1635.3,665.1 1636.1,666.1 1636.9,663.5 1637.7,663.2 1638.5,664.9 1639.3,664.0 1640.1,663.3 1640.9,662.7 1641.7,661.8 1642.5,661.1 1643.3,664.1 1644.1,664.9 1644.9,661.4 1645.7,662.9 1646.5,663.4 1647.3,662.4 1648.1,661.9 1648.9,662.4 1649.7,659.9 1650.5,663.0 1651.3,662.6 1652.1,666.4 1652.9,664.5 1653.7,662.5 1654.5,663.0 1655.3,665.7 1656.1,665.5 1656.9,663.2 1657.7,662.6 1658.5,660.4 1659.3,662.1 1660.1,662.1 1660.9,661.0 1661.7,664.5 1662.5,658.2 1663.3,660.3 1664.1,660.2 1664.9,659.2 1665.7,660.1 1666.5,654.2 1667.3,654.6 1668.1,655.9 1668.9,656.3 1669.7,655.9 1670.5,655.8 1671.3,659.3 1672.1,656.5 1672.9,658.0 1673.7,662.1 1674.5,663.3 1675.3,662.7 1676.1,660.4 1676.9,660.9 1677.7,661.2 1678.5,661.0 1679.3,662.4 1680.1,665.2 1680.9,663.6 1681.7,662.1 1682.5,662.2 1683.3,661.6 1684.1,665.5 1684.9,660.3 1685.7,664.0 1686.5,661.3 1687.3,662.0 1688.1,661.3 1688.9,665.3 1689.7,663.6 1690.5,668.2 1691.3,662.1 1692.1,662.1 1692.9,664.8 1693.7,664.8 1694.5,663.4 1695.3,660.7 1696.1,666.2 1696.9,664.8 1697.7,664.6 1698.5,663.0 1699.3,665.0 1700.1,663.1 1700.9,664.1 1701.7,663.7 1702.5,666.1 1703.3,663.3 1704.1,663.5 1704.9,665.9 1705.7,664.5 1706.5,664.1 1707.3,663.8 1708.1,665.7 1708.9,663.1 1709.7,665.0 1710.5,667.5 1711.3,664.9 1712.1,663.0 1712.9,662.3 1713.7,664.5 1714.5,662.3 1715.3,661.8 1716.1,663.1 1716.9,662.6 1717.7,665.8 1718.5,662.1 1719.3,666.9 1720.1,663.2 1720.9,664.6 1721.7,665.5 1722.5,664.8 1723.3,665.7 1724.1,662.9 1724.9,660.9 1725.7,664.2 1726.5,661.9 1727.3,663.7 1728.1,666.1 1728.9,664.3 1729.7,663.7 1730.5,662.9 1731.3,664.2 1732.1,664.4 1732.9,662.2 1733.7,665.2 1734.5,663.0 1735.3,665.1 1736.1,664.1 1736.9,666.4 1737.7,666.2 1738.5,664.9 1739.3,664.7 1740.1,665.6 1740.9,667.1 1741.7,666.6 1742.5,665.2 1743.3,665.5 1744.1,667.5 1744.9,662.4 1745.7,665.9 1746.5,663.6 1747.3,667.3 1748.1,664.3 1748.9,665.0 1749.7,663.4 1750.5,665.2 1751.3,666.5 1752.1,667.9 1752.9,663.2 1753.7,664.6 1754.5,671.6 1755.3,666.8 1756.1,665.3 1756.9,666.2 1757.7,661.1 1758.5,668.0 1759.3,665.7 1760.1,663.1 1760.9,667.3 1761.7,664.4 1762.5,663.8 1763.3,666.3 1764.1,666.0 1764.9,664.6 1765.7,665.2 1766.5,663.1 1767.2,662.8 1767.3,662.8 1767.5,663.6 1767.8,665.0 1768.1,666.3 1768.1,666.3 1768.4,666.5 1768.7,666.6 1768.9,666.6 1769.0,666.4 1769.3,665.6 1769.6,664.8 1769.7,664.4 1769.9,664.1 1770.2,663.4 1770.5,662.4 1770.5,662.3 1770.8,660.5 1771.1,658.0 1771.3,655.9 1771.4,655.0 1771.7,652.1 1772.0,649.7 1772.1,649.2 1772.3,649.0 1772.6,650.5 1772.9,653.0 1772.9,653.1 1773.2,657.4 1773.5,661.2 1773.7,663.5 1773.8,663.5 1774.1,663.1 1774.4,662.3 1774.5,661.9 1774.7,662.5 1775.0,663.2 1775.3,663.7 1775.3,663.7 1775.6,663.1 1775.9,662.2 1776.1,661.4 1776.2,660.8 1776.5,658.6 1776.8,656.3 1776.9,655.6 1777.1,656.4 1777.4,658.7 1777.7,662.1 1777.7,662.2 1778.0,662.4 1778.3,662.4 1778.5,662.2 1778.6,662.4 1778.9,662.9 1779.2,663.2 1779.3,663.2 1779.5,663.8 1779.8,664.6 1780.1,665.3 1780.1,665.3 1780.9,664.0 1781.7,665.7 1782.5,664.2 1783.3,666.7 1784.1,666.0 1784.9,663.8 1785.7,667.7 1786.5,666.4 1787.3,664.3 1788.1,666.7 1788.9,666.9 1789.7,669.2 1790.5,664.8 1791.3,667.6 1792.1,666.1 1792.9,667.3 1793.7,665.9 1794.5,666.2 1795.3,667.1 1796.1,664.5 1796.9,663.0 1797.7,666.4 1798.5,665.7 1799.3,666.6 1800.1,667.5 1800.9,666.1 1801.7,668.4 1802.5,666.4 1803.3,666.7 1804.1,667.8 1804.9,667.5 1805.7,666.4 1806.5,666.7 1807.3,665.3 1808.1,665.5 1808.9,666.7 1809.7,667.8 1810.5,665.8 1811.3,667.8 1812.1,669.6 1812.9,669.9 1813.7,666.4 1814.5,668.0 1815.3,667.2 1816.1,667.4 1816.9,667.3 1817.7,666.5 1818.5,666.6 1819.3,664.9 1820.1,663.4 1820.9,663.1 1821.7,662.1 1822.5,662.0 1823.3,659.8 1824.1,660.3 1824.9,661.9 1825.7,658.8 1826.5,660.5 1827.3,662.3 1828.1,661.7 1828.9,660.5 1829.7,664.3 1830.5,663.4 1831.3,662.7 1832.1,668.1 1832.9,663.5 1833.7,665.9 1834.5,665.2 1835.3,666.6 1836.1,667.5 1836.9,665.4 1837.7,666.6 1838.5,666.6 1839.3,665.3 1840.1,668.8 1840.9,667.3 1841.7,666.6 1842.5,666.0 1843.3,666.5 1844.1,667.3 1844.9,666.4 1845.7,669.1 1846.5,663.1 1847.3,663.7 1848.1,666.8 1848.9,664.3 1849.7,667.1 1850.5,666.2 1851.3,668.2 1852.1,668.0 1852.9,669.4 1853.7,668.8 1854.5,669.3 1855.3,668.2 1856.1,669.1 1856.9,668.2 1857.7,666.4 1858.5,665.4 1859.3,665.5 1860.1,668.2 1860.9,663.6 1861.7,667.7 1862.5,666.3 1863.3,668.7 1864.1,667.8 1864.9,666.3 1865.7,667.6 1866.5,663.9 1867.3,668.0 1868.1,668.3 1868.9,664.6 1869.7,669.0 1870.5,667.4 1871.3,667.9 1872.1,665.4 1872.9,668.6 1873.7,668.6 1874.5,667.7 1875.3,666.1 1876.1,669.0 1876.9,669.8 1877.7,668.4 1878.5,669.4 1879.3,666.9 1880.1,668.1 1880.9,668.5 1881.7,668.1 1882.5,672.4 1883.3,668.6 1884.1,667.0 1884.9,669.3 1885.7,666.2 1886.5,668.6 1887.3,669.3 1888.1,667.3 1888.9,667.6 1889.7,666.6 1890.5,668.3 1891.3,667.1 1892.1,670.9 1892.9,669.2 1893.7,667.8 1894.5,666.0 1895.3,671.5 1896.1,670.4 1896.9,669.1 1897.7,668.6 1898.5,668.6 1899.3,667.6 1900.1,671.4 1900.9,668.7 1901.7,666.1 1902.5,667.4 1903.3,664.3 1904.1,669.5 1904.9,669.7 1905.7,671.4 1906.5,671.9 1907.3,667.3 1908.1,669.3 1908.9,670.2 1909.7,669.9 1910.5,667.8 1911.3,670.0 1912.1,669.5 1912.9,670.9 1913.7,668.7 1914.5,668.4 1915.3,667.9 1916.1,668.2 1916.9,667.6 1917.7,668.3 1918.5,669.6 1919.3,669.6 1920.1,671.0 1920.9,670.6 1921.7,669.9 1922.5,667.1 1923.3,669.9 1924.1,670.8 1924.9,666.9 1925.7,667.2 1926.5,667.5 1927.3,667.4 1928.1,668.6 1928.9,667.6 1929.7,669.7 1930.5,667.2 1931.3,668.9 1932.1,668.3 1932.9,667.6 1933.7,670.8 1934.5,669.2 1935.3,670.1 1936.1,668.7 1936.9,670.4 1937.7,670.2 1938.5,669.0 1939.3,666.5 1940.1,670.6 1940.9,670.4 1941.7,669.6 1942.5,669.8 1943.3,669.6 1944.1,669.7 1944.9,667.8 1945.7,669.3 1946.5,670.0 1947.3,668.5 1948.1,667.9 1948.9,672.4 1949.7,670.4 1949.8,670.2 1950.1,669.6 1950.4,669.1 1950.5,668.9 1950.7,668.8 1951.0,668.7 1951.3,668.6 1951.3,668.5 1951.6,667.2 1951.9,665.8 1952.1,665.0 1952.2,665.3 1952.5,665.9 1952.8,666.5 1952.9,666.7 1953.1,667.0 1953.4,667.4 1953.7,667.5 1953.7,667.5 1954.0,667.6 1954.3,667.3 1954.5,667.1 1954.6,665.8 1954.9,663.6 1955.2,662.6 1955.3,662.4 1955.5,663.9 1955.8,665.7 1956.1,667.1 1956.1,667.3 1956.4,669.3 1956.7,671.1 1956.9,672.1 1957.0,671.9 1957.3,671.2 1957.6,670.5 1957.7,670.4 1957.9,670.3 1958.2,670.1 1958.5,670.0 1958.5,670.0 1958.8,670.4 1959.1,670.7 1959.3,670.9 1959.4,670.5 1959.7,669.3 1960.0,668.0 1960.1,667.6 1960.3,667.1 1960.6,666.8 1960.9,667.1 1960.9,667.2 1961.2,668.4 1961.5,669.5 1961.7,670.1 1961.8,670.2 1962.1,670.6 1962.4,670.8 1962.5,670.9 1962.7,670.1 1963.3,668.0 1964.1,672.2 1964.9,667.1 1965.7,668.8 1966.5,674.9 1967.3,669.2 1968.1,671.1 1968.9,668.4 1969.7,669.5 1970.5,668.9 1971.3,669.5 1972.1,671.2 1972.9,672.9 1973.7,671.6 1974.5,672.7 1975.3,669.4 1976.1,672.6 1976.9,671.2 1977.7,672.5 1978.5,669.6 1979.3,669.9 1980.1,672.5 1980.9,671.3 1981.7,670.5 1982.5,669.3 1983.3,670.2 1984.1,671.2 1984.9,671.6 1985.7,669.6 1986.5,669.9 1987.3,671.2 1988.1,668.7 1988.9,672.0 1989.7,670.5 1990.5,670.3 1991.3,666.7 1992.1,668.0 1992.9,668.9 1993.7,669.6 1994.5,668.8 1995.3,671.2 1996.1,670.8 1996.9,670.2 1997.7,667.4 1998.5,672.9 1999.3,670.2 2000.1,671.6 2000.9,669.6 2001.7,670.7 2002.5,671.8 2003.3,671.1 2004.1,672.2 2004.9,670.4 2005.7,673.9 2006.5,667.7 2007.3,669.9 2008.1,672.3 2008.9,670.3 2009.7,670.0 2010.5,667.9 2011.3,672.7 2012.1,667.7 2012.9,671.6 2013.7,671.0 2014.5,672.1 2015.3,673.0 2016.1,669.6 2016.9,669.4 2017.7,670.1 2018.5,667.9 2019.3,671.9 2020.1,669.9 2020.9,670.7 2021.7,668.6 2022.5,670.3 2023.3,669.2 2024.1,669.9 2024.9,668.0 2025.7,671.1 2026.5,667.9 2027.3,664.1 2028.1,668.3 2028.9,665.6 2029.7,663.3 2030.5,667.3 2031.3,661.9 2032.1,658.9 2032.9,659.9 2033.7,662.0 2034.5,661.9 2035.3,665.0 2036.1,665.3 2036.9,662.8 2037.7,664.4 2038.5,665.8 2039.3,664.7 2040.1,665.5 2040.9,668.5 2041.7,668.7 2042.5,666.4 2043.3,668.4 2044.1,669.0 2044.9,669.8 2045.7,669.1 2046.5,672.6 2047.3,669.0 2048.1,669.0 2048.9,671.1 2049.7,667.2 2050.5,669.3 2051.3,672.0 2052.1,668.9 2052.9,669.7 2053.7,672.8 2054.5,671.8 2055.3,671.2 2056.1,671.5 2056.9,670.1 2057.7,671.7 2058.5,670.9 2059.3,675.2 2060.1,672.1 2060.9,670.7 2061.7,671.2 2062.5,671.4 2063.3,669.1 2064.1,670.0 2064.9,673.8" fill="none" stroke="#FFC000" stroke-width="1.9" stroke-linejoin="miter"/>
<polyline points="181.7,876.0 182.5,876.9 183.3,880.4 184.1,878.5 184.9,874.2 185.7,877.3 186.5,876.1 187.3,877.6 188.1,874.3 188.9,877.8 189.7,877.8 190.5,880.4 191.3,878.0 192.1,878.4 192.9,874.6 193.7,881.7 194.5,873.8 195.3,879.5 196.1,876.8 196.9,875.8 197.7,876.2 198.5,876.2 199.3,878.2 200.1,877.2 200.9,880.3 201.7,874.0 202.5,877.4 203.3,875.7 204.1,878.9 204.9,873.4 205.7,876.8 206.5,877.8 207.3,874.6 208.1,879.2 208.9,877.7 209.7,879.2 210.5,879.1 211.3,875.4 212.1,875.7 212.9,876.8 213.7,878.6 214.5,878.8 215.3,875.7 216.1,875.9 216.9,875.5 217.7,875.8 218.5,876.4 219.3,876.6 220.1,880.7 220.9,875.8 221.7,876.1 222.5,877.4 223.3,874.7 224.1,875.7 224.9,876.4 225.7,877.7 226.5,873.7 227.3,878.7 228.1,875.3 228.9,876.2 229.7,877.4 230.5,877.0 231.3,877.6 232.1,875.8 232.9,875.4 233.7,875.9 234.5,873.3 235.3,877.3 236.1,873.4 236.9,872.4 237.7,878.6 238.5,874.3 239.3,872.2 240.1,877.8 240.9,873.5 241.7,876.0 242.5,872.3 243.3,873.2 244.1,870.3 244.9,869.8 245.7,871.4 246.5,872.9 247.3,874.4 248.1,877.3 248.9,870.6 249.7,874.3 250.5,871.1 251.3,871.8 252.1,869.0 252.9,868.9 253.7,870.0 254.5,869.0 255.3,871.1 256.1,869.6 256.9,873.1 257.7,870.8 258.5,870.7 259.3,872.3 260.1,870.9 260.9,869.7 261.7,869.4 262.5,869.1 263.3,871.2 264.1,870.4 264.9,869.4 265.7,870.0 266.5,867.2 267.3,869.0 268.1,865.2 268.9,870.2 269.7,867.6 270.5,867.5 271.3,868.1 272.1,866.7 272.9,866.0 273.7,868.6 274.5,866.3 275.3,864.1 276.1,866.5 276.9,862.2 277.7,868.3 278.5,864.6 279.3,864.8 280.1,868.8 280.9,868.3 281.7,864.2 282.5,865.0 283.3,865.6 284.1,866.5 284.9,862.8 285.7,863.1 286.5,865.0 287.3,862.9 288.1,863.6 288.9,863.1 289.7,859.5 290.5,859.8 291.3,856.2 292.1,860.5 292.9,863.3 293.7,858.4 294.5,862.6 295.3,861.9 296.1,859.7 296.9,859.5 297.7,859.5 298.5,857.4 299.3,858.3 300.1,858.5 300.9,859.5 301.7,859.6 302.5,856.5 303.3,859.2 304.1,855.9 304.9,856.9 305.7,857.6 306.5,856.7 307.3,856.2 308.1,856.7 308.9,854.9 309.7,854.5 310.5,855.1 311.3,857.1 312.1,854.8 312.9,858.4 313.7,854.9 314.5,848.6 315.3,853.2 316.1,857.0 316.9,853.6 317.7,852.5 318.5,851.4 319.3,855.4 320.1,854.5 320.9,853.7 321.7,852.9 322.5,854.6 323.3,853.2 324.1,849.1 324.9,852.6 325.7,851.3 326.5,850.5 327.3,851.9 328.1,850.3 328.9,844.4 329.7,852.7 330.5,851.5 331.3,849.0 332.1,848.3 332.9,849.2 333.7,846.1 334.5,848.9 335.3,847.6 336.1,847.1 336.9,845.8 337.7,846.0 338.5,849.2 339.3,849.4 340.1,847.6 340.9,846.3 341.7,844.5 342.5,847.3 343.3,848.7 344.1,842.4 344.9,847.4 345.7,840.8 346.5,844.1 347.3,845.2 348.1,841.6 348.9,841.1 349.7,844.1 350.5,845.2 351.3,842.4 352.1,845.6 352.9,841.3 353.7,845.9 354.5,842.6 355.3,842.6 356.1,843.1 356.9,842.3 357.7,844.9 358.5,845.4 359.3,842.0 360.1,840.4 360.9,838.3 361.7,838.8 362.5,840.1 363.3,839.6 364.1,839.5 364.9,839.4 365.7,840.1 366.5,836.3 367.3,836.7 368.1,840.6 368.9,839.8 369.7,837.0 370.5,840.2 371.3,836.3 372.1,836.8 372.9,833.6 373.7,838.5 374.5,836.7 375.3,838.5 376.1,837.6 376.9,836.2 377.7,836.1 378.5,837.9 379.3,835.1 380.1,834.9 380.9,835.1 381.7,836.3 382.5,836.3 383.3,838.0 384.1,834.0 384.9,836.4 385.7,832.5 386.5,834.7 387.3,833.6 388.1,836.5 388.9,834.1 389.7,831.9 390.5,833.7 391.3,833.1 392.1,831.6 392.9,831.5 393.7,830.1 394.5,836.9 395.3,831.7 396.1,833.2 396.9,828.9 397.7,828.9 398.5,830.5 399.3,830.3 400.1,832.0 400.9,828.4 401.7,831.1 402.5,832.8 403.3,828.0 404.1,831.3 404.9,827.6 405.7,830.0 406.5,829.8 407.3,832.3 408.1,827.5 408.9,829.0 409.7,830.5 410.5,826.2 411.3,828.3 412.1,826.5 412.9,826.7 413.7,829.2 414.5,829.1 415.3,832.5 416.1,830.1 416.9,829.8 417.7,826.9 418.5,826.5 419.3,827.2 420.1,822.6 420.9,829.9 421.7,825.4 422.5,824.5 423.3,825.6 424.1,828.0 424.9,828.6 425.7,825.4 426.5,826.9 427.3,825.8 428.1,824.0 428.9,826.1 429.7,825.7 430.5,822.7 431.3,827.6 432.1,822.4 432.9,825.8 433.7,823.3 434.5,823.7 435.3,823.8 436.1,826.4 436.9,822.6 437.7,824.6 438.5,827.9 439.3,823.5 440.1,824.7 440.9,826.0 441.7,823.6 442.5,825.6 443.3,823.4 444.1,825.9 444.9,824.7 445.7,822.7 446.5,827.2 447.3,824.3 448.1,823.9 448.9,822.7 449.7,823.5 450.5,824.2 451.3,824.7 452.1,826.4 452.9,821.8 453.7,823.6 454.5,826.6 455.3,824.6 456.1,825.1 456.9,827.3 457.7,824.9 458.5,825.2 459.3,824.2 460.1,827.6 460.9,826.3 461.7,822.9 462.5,825.3 463.3,822.1 464.1,826.4 464.9,825.6 465.7,824.0 466.5,823.6 467.3,820.9 468.1,825.8 468.9,824.2 469.7,823.8 470.5,825.8 471.3,823.1 472.1,823.3 472.9,823.1 473.7,821.8 474.5,828.9 475.3,823.8 476.1,823.4 476.9,825.4 477.7,816.9 478.5,820.9 479.3,817.3 480.1,811.4 480.9,814.0 481.7,812.7 482.5,820.4 483.3,824.4 484.1,819.6 484.9,821.5 485.7,824.2 486.5,824.7 487.3,823.6 488.1,825.6 488.9,825.4 489.7,822.5 490.5,824.9 491.3,822.7 492.1,821.2 492.9,820.6 493.7,827.2 494.5,825.1 495.3,829.1 496.1,822.6 496.9,824.8 497.7,826.1 498.5,825.3 499.3,826.5 500.1,825.9 500.9,824.5 501.7,821.3 502.5,824.0 503.3,829.1 504.1,827.3 504.9,828.6 505.7,824.9 506.5,825.7 507.3,824.4 508.1,826.9 508.9,826.3 509.7,827.1 510.5,829.7 511.3,824.8 512.1,827.8 512.9,823.8 513.7,828.6 514.5,825.7 515.3,826.5 516.1,826.9 516.9,829.8 517.7,826.7 518.5,825.9 519.3,824.6 520.1,827.4 520.9,825.3 521.7,826.0 522.5,827.0 523.3,828.4 524.1,825.8 524.9,828.4 525.7,830.6 526.5,824.4 527.3,829.9 528.1,831.5 528.9,826.3 529.7,828.6 530.5,824.9 531.3,828.2 532.1,827.0 532.9,828.2 533.7,825.9 534.5,826.2 535.3,826.9 536.1,826.4 536.9,826.7 537.7,827.5 538.5,825.8 539.3,827.7 540.1,828.9 540.9,823.6 541.7,828.4 542.5,826.7 543.3,826.0 544.1,825.6 544.9,826.6 545.7,826.8 546.5,828.9 547.3,825.9 548.1,830.3 548.9,826.8 549.7,829.7 550.5,830.5 551.3,826.2 552.1,830.6 552.9,832.8 553.7,827.8 554.5,829.9 555.3,828.6 556.1,829.0 556.9,828.6 557.7,828.0 558.5,830.4 559.3,830.7 560.1,829.1 560.9,832.0 561.7,831.3 562.5,830.6 563.3,827.9 564.1,832.9 564.9,831.9 565.7,825.3 566.5,827.3 567.3,828.6 568.1,831.3 568.9,831.9 569.7,829.0 570.5,830.1 571.3,831.0 572.1,827.2 572.9,830.8 573.7,829.2 574.5,830.1 575.3,829.7 576.1,827.6 576.9,828.0 577.7,830.0 578.5,830.2 579.3,829.4 580.1,832.0 580.9,829.3 581.7,827.7 582.5,829.4 583.3,829.7 584.1,829.8 584.9,832.3 585.7,831.1 586.5,832.1 587.3,831.3 588.1,829.8 588.9,832.1 589.7,829.7 590.5,830.7 591.3,828.3 592.1,830.4 592.9,829.6 593.7,830.9 594.5,833.7 595.3,834.7 596.1,832.2 596.9,830.1 597.7,831.7 598.5,830.6 599.3,828.9 600.1,829.9 600.9,829.4 601.7,828.6 602.5,832.2 602.7,831.2 603.0,829.7 603.3,828.2 603.3,828.2 603.6,828.0 603.9,827.9 604.1,827.7 604.2,827.9 604.5,828.4 604.8,828.8 604.9,828.9 605.1,827.9 605.4,826.1 605.7,824.0 605.7,823.9 606.0,822.1 606.3,819.6 606.5,817.5 606.6,816.6 606.9,813.0 607.2,809.0 607.3,807.6 607.5,806.1 607.8,805.4 608.1,807.0 608.1,807.1 608.4,808.7 608.7,810.4 608.9,811.7 609.0,812.3 609.3,814.9 609.6,818.0 609.7,819.1 609.9,820.5 610.2,822.4 610.5,823.7 610.5,823.7 610.8,824.7 611.1,825.3 611.3,825.6 611.4,826.2 611.7,828.0 612.0,829.7 612.1,830.3 612.3,829.5 612.6,828.0 612.9,826.5 612.9,826.5 613.2,827.5 613.5,828.5 613.7,829.2 613.8,829.0 614.1,828.3 614.4,827.6 614.5,827.4 614.7,827.8 615.0,828.6 615.3,829.3 615.3,829.3 615.6,829.5 616.1,829.9 616.9,832.6 617.7,824.9 618.5,833.0 619.3,828.8 620.1,831.1 620.9,832.1 621.7,829.1 622.5,830.4 623.3,831.5 624.1,830.4 624.9,829.2 625.7,831.0 626.5,830.9 627.3,827.8 628.1,833.3 628.9,831.1 629.7,826.1 630.5,829.1 631.3,833.9 632.1,833.7 632.9,831.1 633.7,827.4 633.9,828.2 634.2,829.2 634.5,830.1 634.5,830.2 634.8,831.1 635.1,831.9 635.3,832.4 635.4,832.2 635.7,831.6 636.0,831.0 636.1,830.9 636.3,830.4 636.6,829.7 636.9,829.0 636.9,828.9 637.2,828.3 637.5,827.4 637.7,826.9 637.8,827.0 638.1,827.0 638.4,826.7 638.5,826.7 638.7,825.1 639.0,823.9 639.3,823.6 639.3,823.7 639.6,824.8 639.9,825.7 640.1,826.1 640.2,826.3 640.5,827.1 640.8,828.1 640.9,828.3 641.1,829.7 641.4,831.2 641.7,832.4 641.7,832.3 642.0,831.6 642.3,830.9 642.5,830.4 642.6,830.5 642.9,830.7 643.2,830.9 643.3,830.9 643.5,829.8 643.8,828.4 644.1,827.2 644.1,827.4 644.4,829.6 644.7,831.7 644.9,832.8 645.0,832.7 645.3,832.6 645.6,832.4 645.7,832.4 645.9,831.9 646.2,831.3 646.5,830.7 646.5,830.5 646.8,828.9 647.3,826.5 648.1,829.8 648.9,831.0 649.7,834.9 650.5,832.0 651.3,832.4 652.1,832.5 652.9,833.5 653.7,828.8 654.5,829.3 655.3,828.7 656.1,830.4 656.9,830.3 657.7,831.2 658.5,829.0 659.3,831.1 660.1,829.3 660.9,835.0 661.7,830.0 662.5,835.8 663.3,834.1 664.1,828.7 664.9,832.8 665.7,832.2 666.5,828.1 667.3,832.2 668.1,830.8 668.9,831.7 669.7,829.4 670.5,830.9 671.3,831.8 672.1,830.7 672.9,829.9 673.7,830.7 674.5,829.2 675.3,831.7 676.1,826.2 676.9,833.9 677.7,831.2 678.5,832.0 679.3,832.7 680.1,828.7 680.9,835.4 681.7,828.9 682.5,832.0 683.3,831.7 684.1,833.6 684.9,831.1 685.7,828.4 686.5,831.7 687.3,826.4 688.1,830.7 688.9,830.2 689.7,834.1 690.5,830.6 691.3,830.2 692.1,829.7 692.9,829.5 693.7,830.1 694.5,832.2 695.3,828.6 696.1,830.7 696.9,828.3 697.7,830.8 698.5,831.4 699.3,828.8 700.1,830.0 700.9,831.3 701.7,832.6 702.5,832.9 703.3,830.9 704.1,829.2 704.9,828.0 705.7,832.6 706.5,833.7 707.3,831.8 708.1,834.0 708.9,830.2 709.7,830.3 710.5,834.0 711.3,829.1 712.1,832.2 712.9,831.7 713.7,831.3 714.5,834.3 715.3,829.3 716.1,830.1 716.9,826.9 717.7,828.9 718.5,829.9 719.3,830.1 720.1,830.4 720.9,831.4 721.7,829.5 722.5,826.9 723.3,830.9 724.1,831.4 724.9,828.3 725.7,829.0 726.5,833.7 727.3,832.2 728.1,832.3 728.9,831.3 729.7,830.2 730.5,828.8 731.3,830.7 732.1,829.0 732.9,828.2 733.7,828.7 734.5,828.2 735.3,829.5 736.1,825.4 736.9,831.1 737.7,823.3 738.5,823.0 739.3,823.6 740.1,817.7 740.9,815.1 741.7,812.1 742.5,801.9 743.3,802.0 744.1,797.4 744.9,796.7 745.7,798.5 746.5,801.3 747.3,806.9 748.1,811.3 748.9,814.8 749.7,816.6 750.5,821.7 751.3,820.3 752.1,823.9 752.9,828.3 753.7,828.1 754.5,824.7 755.3,826.9 756.1,830.3 756.9,830.1 757.7,831.3 758.5,826.2 759.3,827.4 760.1,829.5 760.9,828.3 761.7,830.2 762.5,830.5 763.3,831.2 764.1,830.4 764.9,831.8 765.7,832.3 766.5,831.2 767.3,828.6 768.1,833.5 768.9,831.5 769.7,831.9 770.5,831.5 771.3,828.1 772.1,832.3 772.9,830.0 773.7,828.9 774.5,833.8 775.3,830.7 776.1,831.9 776.9,833.1 777.7,834.5 778.5,827.9 779.3,830.0 780.1,832.7 780.9,830.1 781.7,825.2 782.5,831.7 783.3,831.8 784.1,832.9 784.9,831.8 785.7,830.5 786.5,831.7 787.3,831.2 788.1,830.3 788.9,831.7 789.7,831.8 790.5,829.2 791.3,833.0 792.1,832.5 792.9,832.3 793.7,825.4 794.5,830.8 795.3,830.1 796.1,828.2 796.9,830.9 797.7,826.6 798.5,831.4 799.3,829.2 800.1,826.8 800.9,829.4 801.7,825.9 802.5,823.2 803.3,816.1 804.1,813.6 804.9,806.7 805.7,795.0 806.5,777.7 807.3,771.4 808.1,765.9 808.9,765.8 809.7,770.8 810.5,779.7 811.3,792.8 812.1,804.0 812.9,813.7 813.7,820.0 814.5,821.4 815.3,822.1 816.1,826.1 816.9,825.4 817.7,831.3 818.5,827.0 819.3,830.7 820.1,831.7 820.9,828.5 821.7,832.6 822.5,830.6 823.3,829.5 824.1,829.4 824.9,831.5 825.7,833.4 826.5,827.8 827.3,832.7 828.1,831.3 828.9,830.2 829.7,831.5 830.5,831.7 831.3,831.6 832.1,833.3 832.9,830.0 833.7,835.5 834.5,833.4 835.3,830.6 836.1,828.0 836.9,831.6 837.7,830.8 838.5,832.9 839.3,832.8 840.1,835.0 840.9,831.0 841.7,832.7 842.5,830.2 843.3,830.1 844.1,833.5 844.9,830.1 845.6,829.8 845.7,829.8 845.9,829.6 846.2,829.3 846.5,828.9 846.5,828.9 846.8,829.2 847.1,829.5 847.3,829.6 847.4,829.6 847.7,829.4 848.0,829.2 848.1,829.1 848.3,828.4 848.6,827.1 848.9,825.6 848.9,825.6 849.2,823.3 849.5,820.2 849.7,817.7 849.8,816.7 850.1,813.2 850.4,809.9 850.5,809.4 850.7,808.4 851.0,810.1 851.3,812.5 851.3,812.6 851.6,815.1 851.9,815.7 852.1,815.4 852.2,815.1 852.5,814.6 852.8,815.6 852.9,816.2 853.1,817.7 853.4,819.7 853.7,820.9 853.7,820.9 854.0,819.6 854.3,817.9 854.5,816.6 854.6,817.5 854.9,819.8 855.2,822.0 855.3,822.6 855.5,821.4 855.8,819.6 856.1,817.7 856.1,817.7 856.4,816.9 856.7,816.0 856.9,815.3 857.0,814.7 857.3,812.8 857.6,810.8 857.7,810.1 857.9,806.4 858.2,800.8 858.5,795.2 858.5,795.1 859.3,785.6 860.1,774.7 860.9,761.8 861.7,743.9 862.5,729.2 863.3,718.8 864.1,705.9 864.9,704.4 865.7,708.5 866.5,713.8 867.3,727.8 868.1,740.5 868.9,752.8 869.7,769.3 870.5,782.9 871.3,793.6 872.1,803.3 872.9,811.0 873.7,816.2 874.5,819.9 875.3,821.6 876.1,824.1 876.9,825.4 877.7,826.1 878.5,830.7 879.3,825.1 880.1,829.7 880.9,826.6 881.7,829.0 882.5,832.0 883.3,830.2 884.1,833.6 884.9,829.3 885.7,830.7 886.5,830.1 887.3,831.4 888.1,830.8 888.9,830.7 889.7,831.5 890.5,833.4 891.3,831.4 892.1,831.0 892.9,830.1 893.7,829.0 894.5,827.2 895.3,827.6 896.1,829.3 896.9,825.1 897.7,829.7 898.5,827.2 899.3,826.0 900.1,826.6 900.9,828.8 901.7,828.4 902.5,828.4 903.3,831.6 904.1,833.2 904.9,826.8 905.7,831.5 906.5,828.9 907.3,828.3 908.1,830.4 908.9,833.9 909.7,831.8 910.5,831.9 911.3,835.9 912.1,834.6 912.9,833.7 913.7,837.6 914.5,835.3 915.3,833.2 916.1,832.7 916.9,834.1 917.7,835.4 918.5,837.0 919.3,836.9 920.1,835.6 920.9,833.3 921.7,837.4 922.5,835.8 923.3,833.6 924.1,833.4 924.9,836.3 925.7,836.6 926.5,837.5 927.3,833.7 928.1,839.7 928.9,832.6 929.7,836.1 930.5,838.8 931.3,838.2 932.1,834.4 932.9,837.5 933.7,838.7 934.5,837.8 935.3,834.6 936.1,839.7 936.9,833.4 937.7,836.6 938.5,834.5 939.3,835.8 940.1,836.0 940.9,837.6 941.7,834.3 942.5,837.1 943.3,839.2 944.1,836.9 944.9,837.9 945.7,837.7 946.5,835.4 947.3,836.2 948.1,837.0 948.9,837.9 949.7,840.9 950.5,840.1 951.3,836.1 952.1,836.2 952.9,835.1 953.7,832.7 954.5,839.6 955.3,838.2 956.1,833.4 956.9,837.2 957.7,841.7 958.5,838.2 959.3,838.2 960.1,837.7 960.9,835.8 961.7,835.1 962.5,835.8 963.3,837.7 964.1,836.9 964.9,838.7 965.7,840.8 966.5,838.6 967.3,839.1 968.1,836.8 968.9,835.0 969.7,841.6 970.5,838.8 971.3,839.7 972.1,836.6 972.9,834.0 973.7,839.7 974.5,832.9 975.3,836.4 976.1,834.9 976.9,834.6 977.7,832.2 978.5,827.6 979.3,820.8 980.1,829.2 980.9,825.1 981.7,831.9 982.5,832.7 983.3,833.4 984.1,835.7 984.9,834.6 985.7,837.4 986.5,839.4 987.3,839.2 988.1,837.8 988.9,839.9 989.7,838.8 990.5,842.1 991.3,839.0 992.1,836.8 992.9,837.5 993.7,836.6 994.5,837.5 995.3,837.8 996.1,839.4 996.9,839.6 997.7,838.2 998.5,838.9 999.3,836.7 1000.1,837.1 1000.9,833.4 1001.7,836.6 1002.5,837.2 1003.3,843.1 1004.1,835.5 1004.9,838.3 1005.7,837.5 1006.5,835.1 1007.3,838.6 1008.1,838.1 1008.9,835.3 1009.7,833.5 1010.5,837.9 1011.3,835.2 1012.1,839.3 1012.9,837.4 1013.7,838.9 1014.5,837.3 1015.3,840.8 1016.1,839.1 1016.9,840.6 1017.7,837.8 1018.5,835.5 1019.3,834.6 1020.1,836.2 1020.9,837.6 1021.7,835.6 1022.5,841.3 1023.3,836.0 1024.1,836.6 1024.9,835.2 1025.7,831.9 1026.5,835.3 1027.3,833.3 1028.1,832.2 1028.9,826.9 1029.7,826.5 1030.5,824.0 1031.3,823.7 1032.1,816.2 1032.9,817.7 1033.7,816.9 1034.5,812.5 1035.3,811.5 1036.1,816.4 1036.9,815.8 1037.7,819.6 1038.5,821.3 1039.3,824.6 1040.1,824.7 1040.9,823.3 1041.7,830.6 1042.5,829.9 1043.3,833.9 1044.1,832.9 1044.9,838.0 1045.7,835.1 1046.5,837.8 1047.3,838.8 1048.1,836.9 1048.9,838.0 1049.7,837.5 1050.5,836.0 1051.3,840.8 1052.1,836.3 1052.9,835.2 1053.7,837.3 1054.5,838.7 1055.3,838.6 1056.1,837.9 1056.9,837.8 1057.7,834.5 1058.5,840.0 1059.3,842.2 1060.1,837.4 1060.9,835.4 1061.7,840.4 1062.5,838.7 1063.3,831.3 1064.1,837.6 1064.9,836.3 1065.7,836.9 1066.5,843.1 1067.3,841.2 1068.1,839.0 1068.9,839.3 1069.7,842.4 1070.5,837.2 1071.3,840.9 1072.1,838.2 1072.9,841.1 1073.7,839.9 1074.5,838.1 1075.3,841.7 1076.1,840.7 1076.9,843.2 1077.7,838.9 1078.5,840.0 1079.3,838.4 1080.1,842.1 1080.9,838.3 1081.7,839.8 1082.5,842.4 1083.3,840.9 1084.1,840.4 1084.9,840.4 1085.7,840.6 1086.5,841.2 1087.3,839.4 1088.1,836.1 1088.9,842.7 1089.7,838.0 1090.5,843.7 1091.3,840.7 1092.1,846.4 1092.9,842.5 1093.7,841.0 1094.5,842.0 1095.3,837.5 1096.1,840.6 1096.9,839.6 1097.7,840.4 1098.5,836.3 1099.3,836.1 1100.1,841.8 1100.9,840.5 1101.7,839.6 1102.5,840.3 1103.3,839.2 1104.1,839.6 1104.9,841.9 1105.7,840.1 1106.5,842.0 1107.3,839.2 1108.1,837.1 1108.9,839.4 1109.7,840.4 1110.5,838.5 1111.3,840.0 1112.1,839.8 1112.9,842.6 1113.7,842.5 1114.5,843.0 1115.3,839.3 1116.1,841.6 1116.9,843.5 1117.7,841.3 1118.5,840.8 1119.3,839.5 1120.1,842.7 1120.9,841.4 1121.7,843.0 1122.5,840.8 1123.3,845.2 1124.1,841.1 1124.9,838.7 1125.7,841.6 1126.5,842.2 1127.3,843.8 1128.1,840.3 1128.9,840.2 1129.7,840.8 1130.5,840.6 1131.3,837.2 1132.1,842.8 1132.9,843.9 1133.7,839.9 1134.5,839.5 1135.3,841.2 1136.1,839.9 1136.9,843.1 1137.7,840.3 1138.5,842.7 1139.3,839.1 1140.1,838.8 1140.9,838.5 1141.7,838.8 1142.5,842.5 1143.3,843.3 1144.1,841.9 1144.9,842.1 1145.7,837.3 1146.5,843.9 1147.3,839.3 1148.1,844.3 1148.9,846.4 1149.7,841.8 1150.5,842.9 1151.3,842.9 1152.1,839.1 1152.9,839.5 1153.7,840.3 1154.5,841.9 1155.3,843.3 1156.1,841.8 1156.9,843.7 1157.7,840.5 1158.5,838.6 1159.3,841.4 1160.1,841.1 1160.9,838.2 1161.7,842.8 1162.5,838.6 1163.3,838.5 1164.1,839.6 1164.9,835.8 1165.7,837.3 1166.5,834.2 1167.3,831.1 1168.1,826.5 1168.9,822.5 1169.7,820.6 1170.5,823.2 1171.3,826.9 1172.1,828.0 1172.9,829.9 1173.7,834.2 1174.5,837.6 1175.3,834.6 1176.1,838.6 1176.9,842.1 1177.7,839.2 1178.5,840.1 1179.3,842.5 1180.1,841.1 1180.9,844.1 1181.7,841.3 1182.5,843.2 1183.3,847.0 1184.1,844.5 1184.9,839.6 1185.7,840.3 1186.5,840.5 1187.3,842.4 1188.1,839.8 1188.9,843.7 1189.7,846.0 1190.5,845.7 1191.3,841.2 1192.1,842.2 1192.9,842.2 1193.7,841.2 1194.5,846.1 1195.3,841.5 1196.1,840.7 1196.9,843.6 1197.7,843.5 1198.5,845.9 1199.3,845.9 1200.1,842.6 1200.9,838.9 1201.7,844.3 1202.5,844.6 1203.3,846.5 1204.1,840.0 1204.9,840.8 1205.7,846.1 1206.5,846.3 1207.3,845.6 1208.1,843.1 1208.9,845.6 1209.7,842.1 1210.5,840.7 1211.3,843.1 1212.1,843.4 1212.9,844.8 1213.7,845.3 1214.5,839.8 1215.3,843.8 1216.1,844.2 1216.9,840.8 1217.7,842.8 1218.5,843.4 1219.3,844.2 1220.1,841.6 1220.9,842.2 1221.7,841.2 1222.5,844.0 1223.3,842.7 1224.1,842.2 1224.9,844.6 1225.7,843.0 1226.5,841.0 1227.3,845.6 1228.1,845.3 1228.9,844.3 1229.7,841.3 1230.5,845.5 1231.3,842.2 1231.5,841.6 1231.8,840.6 1232.1,839.7 1232.1,839.6 1232.4,840.7 1232.7,842.0 1232.9,842.9 1233.0,843.2 1233.3,844.5 1233.6,845.8 1233.7,846.4 1233.9,845.3 1234.2,843.5 1234.5,841.6 1234.5,841.4 1234.8,841.8 1235.1,841.9 1235.3,841.7 1235.4,841.6 1235.7,840.6 1236.0,839.2 1236.1,838.6 1236.3,837.0 1236.6,835.7 1236.9,836.3 1236.9,836.4 1237.2,837.9 1237.5,839.1 1237.7,839.6 1237.8,839.9 1238.1,840.6 1238.4,840.9 1238.5,840.9 1238.7,840.9 1239.0,840.6 1239.3,840.1 1239.3,840.1 1239.6,839.0 1239.9,838.7 1240.1,838.9 1240.2,839.4 1240.5,841.0 1240.8,842.4 1240.9,842.8 1241.1,843.2 1241.4,843.6 1241.7,844.0 1241.7,844.0 1242.0,843.5 1242.3,842.9 1242.5,842.5 1242.6,842.7 1242.9,843.6 1243.2,844.4 1243.3,844.7 1243.5,844.7 1243.8,844.6 1244.1,844.5 1244.1,844.5 1244.4,843.9 1244.9,842.9 1245.7,843.2 1246.5,843.7 1247.3,843.3 1248.1,843.1 1248.9,841.6 1249.7,843.7 1250.5,844.9 1251.3,844.7 1252.1,841.9 1252.9,844.5 1253.7,844.6 1254.5,841.6 1255.3,844.3 1256.1,842.9 1256.9,842.5 1257.7,843.5 1258.5,842.6 1259.3,838.6 1260.1,843.0 1260.9,840.3 1261.7,841.9 1262.5,843.0 1263.3,840.7 1264.1,839.5 1264.9,839.6 1265.7,838.8 1266.5,834.5 1267.3,832.6 1268.1,832.0 1268.9,831.0 1269.7,824.8 1270.5,823.5 1271.3,818.4 1272.1,818.9 1272.9,819.3 1273.7,818.0 1274.5,822.4 1275.3,824.7 1276.1,823.1 1276.9,830.7 1277.7,834.1 1278.5,836.3 1279.3,838.3 1280.1,837.1 1280.9,838.9 1281.7,840.8 1282.5,840.2 1283.3,841.5 1284.1,845.0 1284.9,841.3 1285.7,842.6 1286.5,846.9 1287.3,843.3 1288.1,841.8 1288.9,844.3 1289.7,844.3 1290.5,844.3 1291.3,841.0 1292.1,844.8 1292.9,845.0 1293.7,848.2 1294.5,845.7 1295.3,843.7 1296.1,845.1 1296.9,845.9 1297.7,844.4 1298.5,844.6 1299.3,847.3 1300.1,845.7 1300.9,845.8 1301.7,843.0 1302.5,845.7 1303.3,841.3 1304.1,847.3 1304.9,844.1 1305.7,846.2 1306.5,847.6 1307.3,843.0 1308.1,847.2 1308.9,845.5 1309.7,847.2 1310.5,844.4 1311.3,843.8 1312.1,847.5 1312.9,845.9 1313.7,845.2 1314.5,843.0 1315.3,847.6 1316.1,844.5 1316.9,844.7 1317.7,843.8 1318.5,845.1 1319.3,846.1 1320.1,844.9 1320.9,844.8 1321.7,843.9 1322.5,847.7 1323.3,847.9 1324.1,844.2 1324.9,843.1 1325.7,845.1 1326.5,841.5 1327.3,844.9 1328.1,844.8 1328.9,844.5 1329.7,847.0 1330.5,847.3 1331.3,844.5 1332.1,842.7 1332.9,845.0 1333.7,844.8 1334.5,839.9 1335.3,840.1 1336.1,840.2 1336.9,836.6 1337.7,836.5 1338.5,840.3 1339.3,833.3 1340.1,835.5 1340.9,830.4 1341.7,831.6 1342.5,828.0 1343.3,826.8 1344.1,820.4 1344.9,821.8 1345.7,818.8 1346.5,820.6 1347.3,820.5 1348.1,820.0 1348.9,820.6 1349.7,822.4 1350.5,824.9 1351.3,825.6 1352.1,827.9 1352.9,829.8 1353.7,831.1 1354.5,836.9 1355.3,834.2 1356.1,840.5 1356.9,840.7 1357.7,837.3 1358.5,838.0 1359.3,842.2 1360.1,840.7 1360.9,843.5 1361.7,845.4 1362.5,844.6 1363.3,843.9 1364.1,844.2 1364.9,847.4 1365.7,844.2 1366.5,848.3 1367.3,849.0 1368.1,844.6 1368.9,846.0 1369.7,848.7 1370.5,844.3 1371.3,846.5 1372.1,847.7 1372.9,843.9 1373.7,846.6 1374.5,846.2 1375.3,845.1 1376.1,849.0 1376.9,845.9 1377.7,850.5 1378.5,847.6 1379.3,845.0 1380.1,846.8 1380.9,844.9 1381.7,847.9 1382.5,847.7 1383.3,844.3 1384.1,845.7 1384.9,847.4 1385.7,846.7 1386.5,844.8 1387.3,848.7 1388.1,849.2 1388.9,843.9 1389.7,849.4 1390.5,842.9 1391.3,846.5 1392.1,845.5 1392.9,845.7 1393.7,847.1 1394.5,844.6 1395.3,846.6 1396.1,850.0 1396.9,847.7 1397.7,849.6 1398.5,848.5 1399.3,843.9 1400.1,850.2 1400.9,848.5 1401.7,848.2 1402.5,846.3 1403.3,846.0 1404.1,845.1 1404.9,846.8 1405.7,847.3 1406.5,846.8 1407.3,846.8 1408.1,843.5 1408.9,845.7 1409.7,845.7 1410.5,847.7 1411.3,846.3 1412.1,846.3 1412.9,847.4 1413.7,846.3 1414.5,846.7 1415.3,849.3 1416.1,846.9 1416.9,845.6 1417.7,848.4 1418.5,848.8 1419.3,848.5 1420.1,844.9 1420.9,849.1 1421.7,847.4 1422.5,847.6 1423.3,847.5 1424.1,848.2 1424.9,848.3 1425.7,850.1 1426.5,847.9 1427.3,847.3 1428.1,848.7 1428.9,847.3 1429.7,849.5 1430.5,847.8 1431.3,848.9 1432.1,846.6 1432.9,849.4 1433.7,848.7 1434.5,846.0 1435.3,846.9 1436.1,847.7 1436.9,845.2 1437.7,845.6 1438.5,848.5 1439.3,848.5 1440.1,850.1 1440.9,845.2 1441.7,846.9 1442.5,843.9 1443.3,850.8 1444.1,845.2 1444.9,847.1 1445.7,851.1 1446.5,850.2 1447.3,846.0 1448.1,851.7 1448.9,848.3 1449.7,845.6 1450.5,847.9 1451.3,848.5 1452.1,848.4 1452.7,844.6 1452.9,843.2 1453.0,843.9 1453.3,846.5 1453.6,849.2 1453.7,850.2 1453.9,848.7 1454.2,846.2 1454.5,843.7 1454.5,843.5 1454.8,844.2 1455.1,844.9 1455.3,845.4 1455.4,845.6 1455.7,846.2 1456.0,846.6 1456.1,846.7 1456.3,845.7 1456.6,843.7 1456.9,841.3 1456.9,841.1 1457.2,839.2 1457.5,837.5 1457.7,836.9 1457.8,836.8 1458.1,837.4 1458.4,838.6 1458.5,839.1 1458.7,840.5 1459.0,842.5 1459.3,844.1 1459.3,844.2 1459.6,845.1 1459.9,845.8 1460.1,846.1 1460.2,845.7 1460.5,843.9 1460.8,841.8 1460.9,841.0 1461.1,840.9 1461.4,841.1 1461.7,841.8 1461.7,841.8 1462.0,841.9 1462.3,842.2 1462.5,842.3 1462.6,842.5 1462.9,843.0 1463.2,843.3 1463.3,843.4 1463.5,842.8 1463.8,841.7 1464.1,840.5 1464.1,840.4 1464.4,841.8 1464.7,843.2 1464.9,844.2 1465.0,844.3 1465.3,844.4 1465.6,844.5 1465.7,844.6 1466.5,841.2 1467.3,841.7 1468.1,837.9 1468.9,837.2 1469.7,832.5 1470.5,828.8 1471.3,826.4 1472.1,826.3 1472.9,826.5 1473.7,825.2 1474.5,827.7 1475.3,827.2 1476.1,829.3 1476.9,835.3 1477.7,837.2 1478.5,840.5 1479.3,841.1 1480.1,843.0 1480.9,847.2 1481.7,843.4 1482.5,846.2 1483.3,849.1 1484.1,850.4 1484.9,848.0 1485.7,847.0 1486.5,845.3 1487.3,847.0 1488.1,847.3 1488.9,846.4 1489.7,845.5 1490.5,842.2 1491.3,836.4 1492.1,836.4 1492.9,841.3 1493.7,844.8 1494.5,846.7 1495.3,839.6 1496.1,845.4 1496.9,845.2 1497.7,849.4 1498.5,851.6 1499.3,849.5 1500.1,846.7 1500.9,848.2 1501.7,849.7 1502.5,848.5 1503.3,849.1 1504.1,847.9 1504.9,848.9 1505.7,848.2 1506.5,851.0 1507.3,850.0 1508.1,850.9 1508.9,846.6 1509.7,848.8 1510.5,848.3 1511.3,848.9 1512.1,848.1 1512.9,848.4 1513.7,852.6 1514.5,849.3 1515.3,847.5 1516.1,849.3 1516.9,854.0 1517.7,851.2 1518.5,848.2 1519.3,849.5 1520.1,849.9 1520.9,850.1 1521.7,846.7 1522.5,848.3 1523.3,849.8 1524.1,847.0 1524.9,849.8 1525.7,850.3 1526.5,851.6 1527.3,852.1 1528.1,849.9 1528.9,850.7 1529.7,851.5 1530.5,852.1 1531.3,850.5 1532.1,849.0 1532.9,851.5 1533.7,851.9 1534.5,850.7 1535.3,851.5 1536.1,853.4 1536.9,849.6 1537.7,849.2 1538.5,848.6 1539.3,851.2 1540.1,852.3 1540.9,849.7 1541.7,853.9 1542.5,849.6 1543.3,851.2 1544.1,850.5 1544.9,853.2 1545.7,849.6 1546.5,853.8 1547.3,850.5 1548.1,848.4 1548.9,849.8 1549.7,850.6 1550.5,853.9 1551.3,850.0 1552.1,850.9 1552.9,854.7 1553.7,851.2 1554.5,849.8 1555.3,849.7 1556.1,848.2 1556.9,851.7 1557.7,853.3 1558.5,850.4 1559.3,849.2 1560.1,851.6 1560.9,851.1 1561.7,850.9 1562.5,852.0 1563.3,851.2 1564.1,850.5 1564.9,853.0 1565.7,847.9 1566.5,849.2 1567.3,850.7 1568.1,848.8 1568.9,854.0 1569.7,847.3 1570.5,852.6 1571.3,852.4 1572.1,852.0 1572.9,852.1 1573.7,850.3 1574.5,850.1 1575.3,854.0 1576.1,851.2 1576.9,848.8 1577.7,849.2 1578.5,848.7 1579.3,852.0 1580.1,853.6 1580.9,851.0 1581.7,851.8 1582.5,850.7 1583.3,853.2 1584.1,853.3 1584.9,853.4 1585.7,855.0 1586.5,849.5 1587.3,853.2 1588.1,849.0 1588.9,853.1 1589.7,853.3 1590.5,853.2 1591.3,853.4 1592.1,851.7 1592.9,850.8 1593.7,853.4 1594.5,850.9 1595.3,853.3 1596.1,850.5 1596.9,852.7 1597.7,852.6 1598.5,850.6 1599.3,851.6 1600.1,853.9 1600.9,852.3 1601.7,853.2 1602.5,851.3 1603.3,852.5 1604.1,849.7 1604.9,850.9 1605.7,854.6 1606.5,853.4 1607.3,852.4 1608.1,852.7 1608.9,850.0 1609.7,853.2 1610.5,850.3 1611.3,851.2 1612.1,853.8 1612.9,851.2 1613.7,851.6 1614.5,852.4 1615.3,852.8 1616.1,855.0 1616.9,849.5 1617.7,851.9 1618.5,853.7 1619.3,851.8 1620.1,852.0 1620.9,851.3 1621.7,852.2 1622.5,853.9 1623.3,855.0 1624.1,853.4 1624.9,855.3 1625.7,853.0 1626.5,849.9 1627.3,854.3 1628.1,849.3 1628.9,852.8 1629.7,853.0 1630.5,851.0 1631.3,852.6 1632.1,852.1 1632.9,853.3 1633.7,852.5 1634.5,854.2 1635.3,852.5 1636.1,854.3 1636.9,853.2 1637.7,853.7 1638.5,853.5 1639.3,852.4 1640.1,855.3 1640.9,854.4 1641.7,849.3 1642.5,851.2 1643.3,856.4 1644.1,852.9 1644.9,858.5 1645.7,854.2 1646.5,854.3 1647.3,852.7 1648.1,853.1 1648.9,853.8 1649.7,855.2 1650.5,853.7 1651.3,853.5 1652.1,851.8 1652.9,852.8 1653.7,852.8 1654.5,853.4 1655.3,852.3 1656.1,851.6 1656.9,853.0 1657.7,849.2 1658.5,850.9 1659.3,852.1 1660.1,854.2 1660.9,852.2 1661.7,851.4 1662.5,854.5 1663.3,852.9 1664.1,855.3 1664.9,852.2 1665.7,850.8 1666.5,850.9 1667.3,854.1 1668.1,852.9 1668.9,849.8 1669.7,850.9 1670.5,846.4 1671.3,851.2 1672.1,849.9 1672.9,849.5 1673.7,850.1 1674.5,850.9 1675.3,850.1 1676.1,850.8 1676.9,849.8 1677.7,855.3 1678.5,851.3 1679.3,852.9 1680.1,855.3 1680.9,855.8 1681.7,856.3 1682.5,852.8 1683.3,853.1 1684.1,853.9 1684.9,850.8 1685.7,855.7 1686.5,851.2 1687.3,853.9 1688.1,855.8 1688.9,855.7 1689.7,853.5 1690.5,855.9 1691.3,856.2 1692.1,851.3 1692.9,853.9 1693.7,855.6 1694.5,855.2 1695.3,854.1 1696.1,854.3 1696.9,858.6 1697.7,853.9 1698.5,856.5 1699.3,852.5 1700.1,855.6 1700.9,856.5 1701.7,853.9 1702.5,853.6 1703.3,858.1 1704.1,854.5 1704.9,856.7 1705.7,852.3 1706.5,858.0 1707.3,851.4 1708.1,853.3 1708.9,854.0 1709.7,855.0 1710.5,855.4 1711.3,858.0 1712.1,858.9 1712.9,858.5 1713.7,856.6 1714.5,855.5 1715.3,851.5 1716.1,855.0 1716.9,854.1 1717.7,856.2 1718.5,853.1 1719.3,853.3 1720.1,853.3 1720.9,855.5 1721.7,854.3 1722.5,851.7 1723.3,849.9 1724.1,851.4 1724.9,850.7 1725.7,850.4 1726.5,851.2 1727.3,852.3 1728.1,852.5 1728.9,850.2 1729.7,850.3 1730.5,854.7 1731.3,852.0 1732.1,854.1 1732.9,853.7 1733.7,854.5 1734.5,857.1 1735.3,854.3 1736.1,857.0 1736.9,856.2 1737.7,855.3 1738.5,854.9 1739.3,854.9 1740.1,858.0 1740.9,857.8 1741.7,854.6 1742.5,856.9 1743.3,853.0 1744.1,856.4 1744.9,860.0 1745.7,854.2 1746.5,856.9 1747.3,855.3 1748.1,856.6 1748.9,854.6 1749.7,856.9 1750.5,852.4 1751.3,856.1 1752.1,856.1 1752.9,856.5 1753.7,860.3 1754.5,854.6 1755.3,855.5 1756.1,854.3 1756.9,857.7 1757.7,856.8 1758.5,854.7 1759.3,858.5 1760.1,857.4 1760.9,859.5 1761.7,858.3 1762.5,857.1 1763.3,855.5 1764.1,853.1 1764.9,855.9 1765.7,859.1 1766.5,856.6 1767.3,855.5 1768.1,857.5 1768.9,858.4 1769.7,862.2 1770.5,855.3 1771.3,856.5 1772.1,855.1 1772.9,855.9 1773.7,858.9 1774.5,857.0 1775.3,854.6 1776.1,859.7 1776.9,860.5 1777.7,858.8 1778.5,855.5 1779.3,855.4 1780.1,859.7 1780.9,855.6 1781.7,856.4 1782.5,854.8 1783.3,860.9 1784.1,856.3 1784.9,857.2 1785.7,856.2 1786.5,856.3 1787.3,855.4 1788.1,859.6 1788.9,856.4 1789.7,860.3 1790.5,855.3 1791.3,858.5 1792.1,859.4 1792.9,855.6 1793.7,858.2 1794.5,856.7 1795.3,855.8 1796.1,857.0 1796.9,854.4 1797.7,857.3 1798.5,855.0 1799.3,859.1 1800.1,860.7 1800.9,860.5 1801.7,856.6 1802.5,857.7 1803.3,861.6 1804.1,860.3 1804.9,859.2 1805.7,854.1 1806.5,857.5 1807.3,862.2 1808.1,859.0 1808.9,857.3 1809.7,858.3 1810.5,862.6 1811.3,860.6 1812.1,855.9 1812.9,856.2 1813.7,858.4 1814.5,860.7 1815.3,857.0 1816.1,857.3 1816.9,853.7 1817.7,857.3 1818.5,859.5 1819.3,859.6 1820.1,855.7 1820.9,859.9 1821.7,856.9 1822.5,855.9 1823.3,859.4 1824.1,855.5 1824.9,857.7 1825.7,856.9 1826.5,858.3 1827.3,859.0 1828.1,857.7 1828.9,857.0 1829.7,857.7 1830.5,854.2 1831.3,858.4 1832.1,862.5 1832.9,859.4 1833.7,861.0 1834.5,858.9 1835.3,858.9 1836.1,859.8 1836.9,860.2 1837.7,860.2 1838.5,857.5 1839.3,859.1 1840.1,856.3 1840.9,861.1 1841.7,859.1 1842.5,858.7 1843.3,856.8 1844.1,860.1 1844.9,861.1 1845.7,860.2 1846.5,861.4 1847.3,857.9 1848.1,861.1 1848.9,859.4 1849.7,854.5 1850.5,860.0 1851.3,857.6 1852.1,859.3 1852.9,858.3 1853.7,858.0 1854.5,861.6 1855.3,858.6 1856.1,860.0 1856.9,861.0 1857.7,859.0 1858.5,857.5 1859.3,859.9 1860.1,859.7 1860.9,858.2 1861.7,860.1 1862.5,862.4 1863.3,861.8 1864.1,862.9 1864.9,862.7 1865.7,860.5 1866.5,860.2 1867.3,858.1 1868.1,862.4 1868.9,859.1 1869.7,861.3 1870.5,863.4 1871.3,860.5 1872.1,857.5 1872.9,858.4 1873.7,859.7 1874.5,862.9 1875.3,859.8 1876.1,860.2 1876.9,858.4 1877.7,861.1 1878.5,860.7 1879.3,862.0 1880.1,858.8 1880.9,861.7 1881.7,857.9 1882.5,859.3 1883.3,859.6 1884.1,860.2 1884.9,861.4 1885.7,856.3 1886.5,860.5 1887.3,859.9 1888.1,858.2 1888.9,860.1 1889.7,861.6 1890.5,859.9 1891.3,859.9 1892.1,862.1 1892.9,859.4 1893.7,862.9 1894.5,861.6 1895.3,861.8 1896.1,862.1 1896.9,863.4 1897.7,859.7 1898.5,863.2 1899.3,859.4 1900.1,861.8 1900.9,862.3 1901.7,861.5 1902.5,859.1 1903.3,858.9 1904.1,859.2 1904.9,861.2 1905.7,861.6 1906.5,862.4 1907.3,858.5 1908.1,862.0 1908.9,863.3 1909.7,861.7 1910.5,861.4 1911.3,863.0 1912.1,864.5 1912.9,864.3 1913.7,864.5 1914.5,859.2 1915.3,864.4 1916.1,861.1 1916.9,863.3 1917.7,860.6 1918.5,862.5 1919.3,860.7 1920.1,861.3 1920.9,865.5 1921.7,859.6 1922.5,863.7 1923.3,862.0 1924.1,859.9 1924.9,864.4 1925.7,862.1 1926.5,861.0 1927.3,862.7 1928.1,860.6 1928.9,865.2 1929.7,859.3 1930.5,861.2 1931.3,858.4 1932.1,862.7 1932.9,863.8 1933.7,864.0 1934.5,865.2 1935.3,862.3 1936.1,861.5 1936.9,864.1 1937.7,861.3 1938.5,863.1 1939.3,861.6 1940.1,861.1 1940.9,862.4 1941.7,864.7 1942.5,864.3 1943.3,862.9 1944.1,857.7 1944.9,862.7 1945.7,863.4 1946.5,863.8 1947.3,861.4 1948.1,864.7 1948.9,863.5 1949.7,859.3 1950.5,864.3 1951.3,866.0 1952.1,863.4 1952.9,861.5 1953.7,866.4 1954.5,864.9 1955.3,859.6 1956.1,865.1 1956.9,863.9 1957.7,863.7 1958.5,859.8 1959.3,860.0 1960.1,863.5 1960.9,866.8 1961.7,863.6 1962.5,863.4 1963.3,862.1 1964.1,862.5 1964.9,865.2 1965.7,861.9 1966.5,866.9 1967.3,864.2 1968.1,864.0 1968.9,863.1 1969.7,862.0 1970.5,862.9 1971.3,860.7 1972.1,863.5 1972.9,859.8 1973.7,867.6 1974.5,863.3 1975.3,860.5 1976.1,863.9 1976.9,863.7 1977.7,862.4 1978.5,864.0 1979.3,862.0 1980.1,863.3 1980.9,863.2 1981.7,864.5 1982.5,862.5 1983.3,864.2 1984.1,858.3 1984.9,865.7 1985.7,864.1 1986.5,864.8 1987.3,863.3 1988.1,865.5 1988.9,863.8 1989.7,864.3 1990.5,864.1 1991.3,862.9 1992.1,862.3 1992.9,865.0 1993.7,865.2 1994.5,864.0 1995.3,866.5 1996.1,864.4 1996.9,865.1 1997.7,866.3 1998.5,865.6 1999.3,863.9 2000.1,862.2 2000.9,862.9 2001.7,862.4 2002.5,865.9 2003.3,857.7 2004.1,868.2 2004.9,862.8 2005.7,866.5 2006.5,865.1 2007.3,865.6 2008.1,862.1 2008.9,866.6 2009.7,864.5 2010.5,865.9 2011.3,862.9 2012.1,864.7 2012.9,863.4 2013.7,865.4 2014.5,866.1 2015.3,864.4 2016.1,865.7 2016.9,865.9 2017.7,864.8 2018.5,864.5 2019.3,861.3 2020.1,867.0 2020.9,865.4 2021.7,864.6 2022.5,865.5 2023.3,864.2 2024.1,864.6 2024.9,866.1 2025.7,862.4 2026.5,864.7 2027.3,865.8 2028.1,862.4 2028.9,863.3 2029.7,867.8 2030.5,869.6 2031.3,866.1 2032.1,866.8 2032.9,863.9 2033.7,868.1 2034.5,865.5 2035.3,865.9 2036.1,866.5 2036.9,864.7 2037.7,864.5 2038.5,865.8 2039.3,863.9 2040.1,864.8 2040.9,861.1 2041.7,864.1 2042.5,866.9 2043.3,868.1 2044.1,867.2 2044.9,864.5 2045.7,866.3 2046.5,864.4 2047.3,864.2 2048.1,868.1 2048.9,865.6 2049.7,865.7 2050.5,866.7 2051.3,868.1 2052.1,866.7 2052.9,866.0 2053.7,867.2 2054.5,866.4 2055.3,866.0 2056.1,862.5 2056.9,865.1 2057.7,866.5 2058.5,864.9 2059.3,870.3 2060.1,871.2 2060.9,870.1 2061.7,865.3 2062.5,867.9 2063.3,867.8 2064.1,867.7 2064.9,864.1" fill="none" stroke="#00FF00" stroke-width="1.9" stroke-linejoin="miter"/>
<polyline points="181.7,999.2 182.5,998.5 183.3,1000.2 184.1,1001.2 184.9,1002.3 185.7,1000.9 186.5,999.9 187.3,999.6 188.1,1002.0 188.9,1003.4 189.7,1001.4 190.5,999.2 191.3,999.7 192.1,1003.6 192.9,1001.5 193.7,998.7 194.5,1001.2 195.3,999.7 196.1,1000.5 196.9,1000.8 197.7,1000.6 198.5,1002.5 199.3,1001.7 200.1,1000.9 200.9,1002.5 201.7,1003.2 202.5,999.5 203.3,1001.7 204.1,1000.7 204.9,1001.9 205.7,1000.3 206.5,1002.3 207.3,1002.3 208.1,1001.9 208.9,1000.9 209.7,1001.9 210.5,1000.9 211.3,1000.5 212.1,1003.0 212.9,1001.0 213.7,1004.4 214.5,1003.8 215.3,999.7 216.1,1003.2 216.9,1001.1 217.7,1002.8 218.5,1002.9 219.3,999.8 220.1,1002.5 220.9,1002.4 221.7,1004.3 222.5,1001.0 223.3,1003.9 224.1,1001.2 224.9,1002.3 225.7,1001.5 226.5,1004.9 227.3,1003.6 228.1,1006.3 228.9,1003.6 229.7,1003.9 230.5,1003.9 231.3,1001.6 232.1,1002.4 232.9,1004.5 233.7,1001.8 234.5,1002.6 235.3,1002.3 236.1,1003.2 236.9,1001.6 237.7,1001.9 238.5,1002.4 239.3,1002.1 240.1,1000.6 240.9,1003.2 241.7,999.8 242.5,999.9 243.3,999.6 244.1,1002.9 244.9,1000.8 245.7,999.8 246.5,999.5 247.3,1001.7 248.1,999.4 248.9,998.9 249.7,1001.7 250.5,998.8 251.3,1000.0 252.1,1000.4 252.9,999.6 253.7,1000.1 254.5,1002.0 255.3,999.1 256.1,997.8 256.9,996.8 257.7,999.1 258.5,998.8 259.3,999.6 260.1,998.3 260.9,998.2 261.7,997.6 262.5,997.8 263.3,998.7 264.1,997.7 264.9,998.3 265.7,1000.8 266.5,998.5 267.3,995.3 268.1,1000.0 268.9,997.8 269.7,995.7 270.5,998.3 271.3,996.8 272.1,995.7 272.9,995.5 273.7,994.8 274.5,996.2 275.3,997.5 276.1,995.2 276.9,996.2 277.7,998.2 278.5,993.4 279.3,995.4 280.1,994.4 280.9,993.1 281.7,992.9 282.5,994.3 283.3,994.7 284.1,993.1 284.9,993.8 285.7,994.6 286.5,993.8 287.3,994.5 288.1,993.7 288.9,993.5 289.7,995.3 290.5,993.3 291.3,992.4 292.1,993.1 292.9,990.5 293.7,991.1 294.5,992.7 295.3,992.2 296.1,993.4 296.9,990.9 297.7,988.5 298.5,993.4 299.3,992.0 300.1,988.6 300.9,992.0 301.7,989.8 302.5,986.9 303.3,988.8 304.1,988.5 304.9,991.4 305.7,987.7 306.5,988.3 307.3,988.1 308.1,987.8 308.9,986.8 309.7,988.3 310.5,989.4 311.3,988.6 312.1,986.1 312.9,985.6 313.7,987.3 314.5,985.9 315.3,985.8 316.1,984.1 316.9,989.3 317.7,987.6 318.5,984.6 319.3,987.3 320.1,987.8 320.9,982.0 321.7,984.6 322.5,984.6 323.3,986.0 324.1,984.7 324.9,984.3 325.7,984.4 326.5,987.1 327.3,987.3 328.1,983.1 328.9,982.2 329.7,987.4 330.5,981.4 331.3,981.5 332.1,981.8 332.9,981.5 333.7,981.2 334.5,979.0 335.3,975.9 336.1,977.3 336.9,976.9 337.7,979.9 338.5,978.0 339.3,977.0 340.1,978.3 340.9,982.6 341.7,980.0 342.5,977.9 343.3,980.3 344.1,981.2 344.9,983.0 345.7,979.7 346.5,982.1 347.3,982.3 348.1,980.0 348.9,980.6 349.7,983.5 350.5,983.4 351.3,982.0 352.1,981.1 352.9,982.2 353.7,980.2 354.5,980.2 355.3,979.0 356.1,980.2 356.9,980.0 357.7,984.2 358.5,979.7 359.3,981.8 360.1,981.8 360.9,979.5 361.7,981.4 362.5,976.3 363.3,979.7 364.1,980.7 364.9,975.8 365.7,977.6 366.5,980.8 367.3,978.8 368.1,977.5 368.9,978.5 369.7,978.2 370.5,980.0 371.3,979.6 372.1,978.4 372.9,977.8 373.7,978.6 374.5,980.7 375.3,979.1 376.1,979.5 376.9,978.3 377.7,976.5 378.5,977.4 379.3,979.4 380.1,978.5 380.9,977.0 381.7,975.8 382.5,978.4 383.3,977.7 384.1,977.6 384.9,977.6 385.7,978.5 386.5,978.5 387.3,979.5 388.1,979.4 388.9,980.0 389.7,979.2 390.5,977.4 391.3,977.8 392.1,978.6 392.9,977.4 393.7,978.7 394.5,979.6 395.3,976.6 396.1,975.2 396.9,979.6 397.7,977.8 398.5,978.9 399.3,975.8 400.1,980.4 400.9,978.9 401.7,977.6 402.5,977.3 403.3,978.0 404.1,977.5 404.9,977.4 405.7,976.1 406.5,979.7 407.3,977.8 408.1,977.9 408.9,978.0 409.7,974.3 410.5,978.6 411.3,977.4 412.1,977.4 412.9,978.0 413.7,976.4 414.5,979.2 415.3,976.9 416.1,976.6 416.9,976.7 417.7,978.2 418.5,979.1 419.3,977.1 420.1,975.8 420.9,979.7 421.7,976.5 422.5,979.9 423.3,978.0 424.1,977.1 424.9,977.2 425.7,978.9 426.5,979.6 427.3,977.9 428.1,979.7 428.9,981.4 429.7,978.0 430.5,976.6 431.3,976.8 432.1,976.3 432.9,977.5 433.7,977.4 434.5,976.5 435.3,979.3 436.1,974.6 436.9,976.6 437.7,981.6 438.5,980.2 439.3,979.5 440.1,979.4 440.9,981.4 441.7,979.6 442.5,978.9 443.3,977.0 444.1,978.8 444.9,977.8 445.7,977.9 446.5,977.9 447.3,979.0 448.1,978.6 448.9,980.4 449.7,977.2 450.5,978.9 451.3,982.0 452.1,979.3 452.9,981.1 453.7,981.1 454.5,981.4 455.3,980.6 456.1,977.4 456.9,979.1 457.7,979.0 458.5,977.3 459.3,979.0 460.1,977.8 460.9,977.3 461.7,980.1 462.5,979.8 463.3,978.9 464.1,978.5 464.9,979.2 465.7,979.5 466.5,979.5 467.3,980.1 468.1,979.6 468.9,980.9 469.7,981.1 470.5,980.9 471.3,979.4 472.1,979.6 472.9,981.2 473.7,980.3 474.5,980.6 475.3,977.0 476.1,976.7 476.9,981.3 477.7,981.4 478.5,983.0 479.3,982.1 480.1,981.4 480.9,981.1 481.7,979.0 482.5,982.5 483.3,980.3 484.1,982.1 484.9,981.7 485.7,981.8 486.5,982.8 487.3,980.8 488.1,981.0 488.9,980.3 489.7,981.0 490.5,984.1 491.3,981.1 492.1,983.3 492.7,982.8 492.9,982.7 493.0,982.7 493.3,982.6 493.6,982.4 493.7,982.4 493.9,982.4 494.2,982.3 494.5,982.2 494.5,982.0 494.8,980.8 495.1,979.5 495.3,978.8 495.4,979.0 495.7,979.3 496.0,979.3 496.1,979.3 496.3,978.9 496.6,978.2 496.9,977.2 496.9,976.6 497.2,973.1 497.5,970.0 497.7,968.8 497.8,968.6 498.1,969.2 498.4,970.5 498.5,970.7 498.7,971.5 499.0,972.7 499.3,973.9 499.3,974.4 499.6,976.6 499.9,978.5 500.1,979.3 500.2,979.4 500.5,979.4 500.8,979.1 500.9,979.1 501.1,980.7 501.4,982.5 501.7,983.9 501.7,983.8 502.0,982.8 502.3,981.9 502.5,981.4 502.6,981.1 502.9,980.6 503.2,980.0 503.3,979.9 503.5,981.6 503.8,983.6 504.1,985.1 504.1,985.1 504.4,984.7 504.7,984.3 504.9,984.1 505.0,984.0 505.3,983.7 505.6,983.5 505.7,983.5 506.5,983.6 507.3,982.4 508.1,982.7 508.9,984.2 509.7,984.5 510.5,984.6 511.3,983.6 512.1,982.6 512.9,983.1 513.7,985.1 514.5,985.7 515.3,983.0 516.1,982.9 516.9,985.5 517.7,984.8 518.5,984.8 519.3,981.8 520.1,983.3 520.9,983.1 521.7,984.2 522.5,981.4 523.3,985.9 524.1,984.5 524.9,984.7 525.7,982.4 526.5,984.1 527.3,986.2 528.1,981.9 528.9,984.7 529.7,985.4 530.5,983.3 531.3,985.6 532.1,983.9 532.9,986.3 533.7,985.3 534.5,984.8 535.3,987.5 536.1,985.8 536.9,986.6 537.7,982.8 538.5,983.7 539.3,985.9 540.1,986.1 540.9,984.6 541.7,985.9 542.5,983.2 543.3,985.1 544.1,983.1 544.9,985.4 545.7,984.2 546.5,983.9 547.3,985.0 548.1,987.7 548.9,983.5 549.7,984.1 550.5,986.6 551.3,984.4 552.1,987.7 552.9,985.4 553.7,985.2 554.5,985.7 555.3,987.8 556.1,986.1 556.9,986.0 557.7,985.6 558.5,982.9 559.3,983.9 560.1,987.5 560.9,986.5 561.7,986.0 562.5,986.2 563.3,984.5 564.1,985.8 564.9,984.0 565.7,985.9 566.5,984.3 567.3,985.0 568.1,986.0 568.9,984.9 569.7,986.3 570.5,986.0 571.3,985.9 572.1,987.3 572.9,983.1 573.7,982.8 574.5,986.0 575.3,986.1 576.1,986.9 576.9,983.5 577.7,982.2 578.5,979.7 579.3,983.3 580.1,984.6 580.9,983.0 581.7,983.7 582.5,985.1 583.3,985.8 584.1,981.0 584.9,985.6 585.7,985.8 586.5,985.2 587.3,985.9 588.1,986.2 588.9,984.0 589.7,986.2 590.5,985.2 591.3,984.1 592.1,985.9 592.9,987.8 593.7,983.4 594.5,983.1 595.3,983.1 596.1,988.5 596.9,985.1 597.7,985.4 598.5,984.3 599.3,984.0 600.1,982.3 600.9,985.5 601.7,985.5 602.5,981.9 603.3,982.9 604.1,982.6 604.9,981.8 605.7,977.5 606.5,970.9 607.3,967.0 608.1,969.7 608.9,976.2 609.7,978.2 610.5,982.1 611.3,985.9 612.1,985.2 612.9,985.1 613.7,982.3 614.5,982.6 615.3,986.5 616.1,986.0 616.9,985.1 617.7,985.0 618.5,983.0 619.3,986.2 620.1,987.2 620.9,988.2 621.7,985.8 622.5,985.4 623.3,984.1 624.1,987.6 624.9,988.3 625.7,984.8 626.5,986.2 627.3,985.8 628.1,984.8 628.9,981.9 629.7,985.1 630.5,986.5 631.3,983.3 632.1,984.2 632.9,980.3 633.3,983.5 633.6,986.0 633.7,987.0 633.9,986.6 634.2,986.1 634.5,985.5 634.5,985.4 634.8,985.0 635.1,984.5 635.3,984.1 635.4,984.0 635.7,983.4 636.0,982.6 636.1,982.2 636.3,981.6 636.6,980.3 636.9,978.5 636.9,978.4 637.2,976.7 637.5,974.3 637.7,972.3 637.8,971.5 638.1,968.7 638.4,967.5 638.5,967.5 638.7,968.1 639.0,969.4 639.3,970.7 639.3,970.8 639.6,972.0 639.9,973.8 640.1,975.4 640.2,976.0 640.5,978.2 640.8,980.1 640.9,980.7 641.1,982.0 641.4,983.8 641.7,985.4 641.7,985.5 642.0,984.4 642.3,983.1 642.5,982.1 642.6,982.5 642.9,983.7 643.2,984.8 643.3,985.3 643.5,985.1 643.8,984.7 644.1,984.3 644.1,984.3 644.4,984.1 644.7,983.9 644.9,983.7 645.0,983.5 645.3,982.9 645.6,982.2 645.7,982.0 645.9,983.0 646.2,984.7 646.5,986.5 647.3,984.2 648.1,984.6 648.9,986.5 649.7,984.2 650.5,985.9 651.3,985.7 652.1,987.0 652.9,987.3 653.7,984.5 654.5,987.2 655.3,985.6 656.1,985.9 656.9,985.3 657.2,985.8 657.5,986.3 657.7,986.6 657.8,986.1 658.1,984.9 658.4,983.7 658.5,983.4 658.7,983.9 659.0,984.5 659.3,985.1 659.3,985.1 659.6,985.4 659.9,985.5 660.1,985.5 660.2,984.9 660.5,983.3 660.8,981.2 660.9,980.6 661.1,980.2 661.4,979.1 661.7,977.6 661.7,977.3 662.0,973.2 662.3,970.7 662.5,970.2 662.6,971.0 662.9,973.0 663.2,974.6 663.3,975.0 663.5,975.2 663.8,975.9 664.1,977.2 664.1,977.3 664.4,979.1 664.7,980.6 664.9,981.4 665.0,981.7 665.3,982.2 665.6,982.5 665.7,982.6 665.9,983.1 666.2,983.7 666.5,984.2 666.5,984.2 666.8,984.7 667.1,985.1 667.3,985.3 667.4,985.2 667.7,984.9 668.0,984.5 668.1,984.4 668.3,985.2 668.6,986.2 668.9,987.1 668.9,987.1 669.2,987.5 669.5,987.9 669.7,988.2 669.8,987.5 670.1,985.8 670.5,983.6 671.3,987.2 672.1,986.3 672.9,986.4 673.7,989.8 674.5,987.9 675.3,986.6 676.1,986.4 676.9,982.9 677.7,987.3 678.5,985.1 679.3,986.5 680.1,986.3 680.9,987.6 681.7,989.3 682.5,987.7 683.3,988.1 684.1,985.9 684.9,986.9 685.7,987.3 686.5,984.1 686.5,984.0 686.8,985.7 687.0,987.7 687.3,989.2 687.4,988.8 687.6,987.2 688.0,985.7 688.1,985.0 688.2,984.8 688.5,984.4 688.9,984.0 688.9,984.0 689.1,985.4 689.5,986.9 689.7,988.0 689.8,988.0 690.0,988.0 690.4,987.8 690.5,987.6 690.6,986.3 691.0,983.8 691.2,981.3 691.3,981.1 691.5,980.9 691.9,981.4 692.1,981.9 692.1,982.6 692.5,985.0 692.8,987.1 692.9,988.1 693.0,987.2 693.4,986.0 693.6,984.9 693.7,984.8 694.0,984.2 694.2,983.3 694.5,982.6 694.5,982.8 694.9,983.8 695.1,984.6 695.3,985.0 695.5,985.9 695.8,987.4 696.0,988.9 696.1,989.0 696.4,988.4 696.6,987.6 696.9,987.1 697.0,987.1 697.2,987.1 697.5,987.2 697.5,987.2 697.7,987.2 697.8,987.4 697.9,987.4 698.1,987.6 698.1,987.6 698.4,987.9 698.5,987.9 698.5,987.9 698.7,987.6 698.8,987.6 699.0,987.3 699.0,987.3 699.3,987.0 699.3,986.9 699.4,986.9 699.6,986.3 699.9,985.7 700.1,985.4 700.2,985.0 700.5,984.2 700.8,983.3 700.9,983.2 701.1,983.9 701.4,984.6 701.7,985.1 701.7,984.8 702.0,983.1 702.3,981.4 702.5,980.7 702.6,981.0 702.9,982.0 703.2,983.2 703.3,983.4 703.5,984.5 703.8,985.5 704.1,986.4 704.1,986.4 704.4,986.1 704.7,985.9 704.9,985.8 705.0,985.9 705.3,985.9 705.6,985.9 705.7,985.8 705.9,985.9 706.2,986.0 706.5,986.1 706.5,986.2 706.8,986.6 707.1,987.0 707.3,987.2 707.4,987.3 707.7,987.4 708.0,987.5 708.1,987.6 708.3,986.5 708.6,985.3 708.9,984.2 708.9,984.4 709.2,985.2 709.5,986.1 709.7,986.5 709.8,986.9 710.1,987.8 710.4,988.7 710.5,988.8 711.3,987.4 712.1,985.1 712.9,985.2 713.7,983.2 714.5,985.1 715.3,988.7 716.1,986.2 716.9,985.0 717.7,985.4 718.5,986.1 719.3,986.1 720.1,985.7 720.9,985.1 721.7,987.2 722.5,988.5 723.3,985.4 724.1,985.4 724.1,985.5 724.4,986.5 724.7,987.4 724.9,987.9 725.0,987.2 725.3,985.6 725.6,984.1 725.7,983.9 725.9,984.2 726.2,984.7 726.5,985.0 726.5,985.1 726.8,985.1 727.1,985.1 727.3,985.0 727.4,985.1 727.7,985.1 728.0,984.9 728.1,984.9 728.3,984.1 728.6,982.9 728.9,981.9 728.9,981.7 729.2,981.1 729.5,981.3 729.7,981.4 729.8,982.1 730.1,983.1 730.4,983.8 730.5,984.0 730.7,983.3 731.0,982.8 731.3,982.5 731.3,982.6 731.6,982.8 731.9,982.9 732.1,982.9 732.2,982.9 732.5,982.9 732.8,982.9 732.9,982.8 733.1,984.2 733.4,985.8 733.7,987.2 733.7,986.9 734.0,985.6 734.3,984.2 734.5,983.5 734.6,984.1 734.9,985.4 735.2,986.6 735.3,986.8 735.5,986.9 735.8,987.1 736.1,987.2 736.1,987.2 736.4,987.3 736.7,987.4 736.9,987.4 737.0,987.1 737.7,986.0 738.5,985.4 739.3,986.4 740.1,985.3 740.9,984.3 741.7,988.1 742.5,984.9 743.3,988.9 744.1,987.0 744.9,985.6 745.7,986.9 746.5,988.1 747.3,984.2 748.1,984.8 748.9,984.7 749.7,986.5 750.5,986.8 751.3,986.3 752.1,985.1 752.9,985.4 753.7,988.0 754.5,987.9 755.3,986.4 756.1,984.2 756.9,987.1 757.7,986.6 758.5,986.5 759.3,988.8 760.1,987.4 760.9,984.7 761.7,984.7 762.5,988.2 763.3,986.4 764.1,987.4 764.9,985.9 765.7,984.7 766.5,986.6 767.3,988.5 768.1,986.6 768.9,984.4 769.7,985.6 770.5,985.3 771.3,986.3 772.1,987.5 772.9,988.9 773.7,986.2 774.5,985.2 775.3,985.8 776.1,985.6 776.9,984.7 777.7,984.9 778.5,983.9 779.3,979.6 780.1,977.0 780.9,970.1 781.7,970.0 782.5,974.8 783.3,976.8 784.1,984.1 784.9,984.4 785.7,984.8 786.5,983.9 787.3,984.7 788.1,986.6 788.9,984.4 789.7,986.6 790.5,982.3 791.3,985.7 792.1,986.6 792.9,985.8 793.7,985.3 794.5,986.7 795.3,983.8 796.1,983.5 796.9,985.0 797.7,986.5 798.5,985.1 799.3,983.9 800.1,984.4 800.9,984.2 801.7,981.1 802.4,978.5 802.5,978.1 802.7,978.5 803.0,979.1 803.3,979.7 803.3,979.7 803.6,979.0 803.9,978.1 804.1,977.4 804.2,977.3 804.5,976.8 804.8,976.1 804.9,975.7 805.1,974.4 805.4,971.8 805.7,968.2 805.7,968.1 806.0,964.1 806.3,958.5 806.5,953.6 806.6,951.5 806.9,944.1 807.2,938.1 807.3,936.8 807.5,935.7 807.8,937.8 808.1,941.8 808.1,942.0 808.4,945.2 808.7,946.8 808.9,947.2 809.0,947.6 809.3,949.9 809.6,953.9 809.7,955.7 809.9,957.5 810.2,960.1 810.5,961.7 810.5,961.7 810.8,963.4 811.1,964.2 811.3,964.3 811.4,964.4 811.7,964.6 812.0,964.3 812.1,964.1 812.3,962.1 812.6,958.6 812.9,954.7 812.9,954.6 813.2,951.5 813.5,948.0 813.7,945.4 813.8,944.8 814.1,942.7 814.4,940.4 814.5,939.6 814.7,936.7 815.0,932.2 815.3,927.8 815.3,927.6 816.1,919.7 816.9,916.1 817.7,918.6 818.5,923.2 819.3,933.6 820.1,942.7 820.9,954.4 821.7,962.8 822.5,968.1 823.3,974.4 824.1,981.0 824.9,977.1 825.7,981.6 826.5,982.8 827.3,983.8 828.1,981.5 828.3,982.4 828.6,983.7 828.9,984.8 828.9,984.8 829.2,984.6 829.5,984.3 829.7,984.2 829.8,984.0 830.1,983.5 830.4,983.0 830.5,982.9 830.7,982.7 831.0,982.3 831.3,981.9 831.3,981.9 831.6,981.6 831.9,981.1 832.1,980.6 832.2,980.3 832.5,979.1 832.8,977.8 832.9,977.5 833.1,976.5 833.4,976.0 833.7,976.6 833.7,976.7 834.0,978.7 834.3,980.4 834.5,981.3 834.6,980.9 834.9,979.6 835.2,978.5 835.3,978.3 835.5,979.3 835.8,980.9 836.1,982.5 836.1,982.5 836.4,982.9 836.7,983.0 836.9,983.0 837.0,983.5 837.3,984.6 837.6,985.6 837.7,985.9 837.9,985.8 838.2,985.6 838.5,985.4 838.5,985.4 838.8,985.1 839.1,984.8 839.3,984.6 839.4,984.4 839.7,984.1 840.0,983.8 840.1,983.7 840.3,983.9 840.6,984.3 840.9,984.6 840.9,984.7 841.2,985.3 841.7,986.2 842.5,988.1 843.3,987.1 844.1,984.1 844.9,985.1 845.6,985.7 845.7,985.7 845.9,985.6 846.2,985.4 846.5,985.2 846.5,985.2 846.8,985.2 847.1,985.2 847.3,985.1 847.4,985.2 847.7,985.3 848.0,985.3 848.1,985.3 848.3,984.7 848.6,983.7 848.9,982.4 848.9,982.4 849.2,980.3 849.5,977.2 849.7,974.7 849.8,972.9 850.1,967.1 850.4,961.6 850.5,960.5 850.7,960.8 851.0,964.8 851.3,969.6 851.3,969.7 851.6,971.5 851.9,971.4 852.1,970.5 852.2,970.4 852.5,970.4 852.8,972.3 852.9,973.3 853.1,975.4 853.4,978.3 853.7,980.3 853.7,980.4 853.8,980.5 854.0,980.6 854.1,980.5 854.3,980.3 854.4,980.1 854.5,979.9 854.6,980.2 854.7,980.5 854.9,980.9 855.0,981.1 855.2,981.4 855.3,981.6 855.3,981.5 855.5,981.2 855.6,981.0 855.8,980.5 855.9,980.2 856.1,979.6 856.1,979.6 856.2,979.7 856.4,979.7 856.5,979.6 856.7,979.2 856.8,978.9 856.9,978.6 857.0,977.3 857.1,976.0 857.3,973.0 857.4,971.3 857.6,967.4 857.7,965.4 857.7,965.2 857.9,960.0 858.0,957.2 858.2,951.4 858.3,948.5 858.5,943.5 858.5,943.4 858.6,942.1 858.9,941.5 859.2,945.4 859.3,947.1 859.5,950.3 859.8,954.1 860.1,956.1 860.1,956.1 860.4,956.3 860.7,956.5 860.9,957.3 861.0,958.3 861.3,961.8 861.6,965.6 861.7,966.6 861.9,969.0 862.2,971.4 862.5,972.2 862.5,972.2 862.8,970.7 863.1,967.2 863.3,963.9 863.4,961.7 863.7,956.1 864.0,955.0 864.1,955.9 864.3,959.0 864.6,963.9 864.9,966.8 864.9,966.9 865.2,968.6 865.5,968.3 865.7,967.8 865.8,967.3 866.1,967.9 866.4,970.7 866.5,971.6 866.7,974.2 867.0,977.1 867.3,979.1 867.3,979.1 867.6,981.0 867.9,982.4 868.1,983.1 868.2,983.2 868.5,983.4 868.8,983.5 868.9,983.5 869.1,983.9 869.4,984.5 869.7,985.0 869.7,985.1 870.0,986.9 870.3,988.7 870.5,989.8 870.6,989.4 870.9,988.4 871.2,987.4 871.3,987.0 871.5,986.6 871.8,985.9 872.1,985.2 872.9,983.4 873.7,985.5 874.5,984.7 875.3,983.7 876.1,988.1 876.9,986.4 877.7,987.8 878.5,991.8 879.3,987.7 880.1,987.5 880.9,987.9 881.7,987.0 882.5,986.2 883.3,987.1 884.1,989.2 884.9,987.1 885.7,985.5 886.5,985.7 887.3,986.1 888.1,987.6 888.9,988.4 889.7,988.4 890.4,989.3 890.5,989.4 890.7,988.9 891.0,988.1 891.3,987.3 891.3,987.3 891.6,987.8 891.9,988.4 892.1,988.8 892.2,988.7 892.5,988.3 892.8,987.9 892.9,987.8 893.1,987.8 893.4,987.9 893.7,987.8 893.7,987.8 894.0,986.1 894.3,984.1 894.5,982.6 894.6,982.9 894.9,983.9 895.2,985.0 895.3,985.6 895.5,984.6 895.8,983.3 896.1,982.3 896.1,982.2 896.4,982.8 896.7,983.3 896.9,983.6 897.0,983.9 897.3,985.0 897.6,986.2 897.7,986.8 897.9,986.6 898.2,986.4 898.5,986.2 898.5,986.2 898.8,987.6 899.1,989.1 899.3,990.1 899.4,990.0 899.7,989.2 900.0,988.4 900.1,988.1 900.3,987.7 900.6,987.1 900.9,986.5 900.9,986.5 901.2,987.1 901.5,987.8 901.7,988.3 901.8,988.3 902.1,988.0 902.4,987.7 902.5,987.6 902.7,988.2 903.0,989.3 903.3,990.4 903.3,990.5 903.7,990.6 904.0,990.6 904.1,990.6 904.3,990.3 904.6,989.8 904.9,989.3 904.9,989.2 905.2,988.6 905.5,987.9 905.7,987.4 905.8,987.4 906.1,987.6 906.4,987.7 906.5,987.8 906.7,988.0 907.0,988.2 907.3,988.3 907.3,988.3 907.6,986.8 907.9,985.0 908.1,983.7 908.2,983.5 908.5,982.8 908.8,982.6 908.9,982.7 909.1,983.5 909.4,985.0 909.7,986.4 909.7,986.5 910.0,986.7 910.3,986.7 910.5,986.7 910.6,986.6 910.9,986.2 911.2,986.0 911.3,986.0 911.5,986.3 911.8,986.7 912.1,987.1 912.1,987.1 912.4,986.5 912.7,985.8 912.9,985.2 913.0,985.8 913.3,987.6 913.6,989.5 913.7,990.2 913.9,989.9 914.2,989.2 914.5,988.5 914.5,988.5 914.8,987.8 915.1,987.1 915.3,986.6 915.4,986.7 915.7,986.9 916.0,987.1 916.1,987.1 916.3,987.2 916.6,987.4 916.9,987.5 917.7,991.5 918.5,990.0 919.3,987.0 920.1,991.9 920.9,991.1 921.7,987.6 922.5,985.2 923.3,990.7 924.1,988.3 924.9,989.1 925.7,988.5 926.5,991.2 927.3,991.6 928.1,990.6 928.9,989.2 929.7,989.8 930.5,990.4 931.3,987.1 932.1,991.4 932.9,989.1 933.7,990.0 934.5,989.8 935.3,991.0 936.1,991.2 936.9,993.0 937.7,989.2 938.5,988.4 939.3,989.9 940.1,988.8 940.9,991.1 941.7,988.6 942.5,990.0 943.3,991.3 944.1,991.4 944.9,990.2 945.7,992.0 946.5,991.8 947.3,987.4 948.1,990.5 948.9,990.2 949.7,989.5 950.5,989.0 951.3,990.1 952.1,990.6 952.9,990.4 953.7,992.0 954.5,991.5 955.3,989.1 956.1,988.8 956.9,991.2 957.7,988.8 958.5,990.1 959.3,990.4 960.1,991.1 960.4,990.7 960.7,990.4 960.9,990.1 961.0,990.3 961.3,990.7 961.6,991.1 961.7,991.2 961.9,990.2 962.2,988.9 962.5,987.7 962.5,987.7 962.8,987.9 963.1,988.0 963.3,987.9 963.4,987.3 963.7,985.4 964.0,983.2 964.1,982.5 964.3,981.2 964.6,979.1 964.9,976.9 964.9,976.7 965.2,974.3 965.5,973.7 965.7,974.2 965.8,974.6 966.1,976.1 966.4,977.4 966.5,977.6 966.7,977.6 967.0,977.0 967.3,976.0 967.3,976.1 967.6,978.0 967.9,980.8 968.1,982.8 968.2,983.3 968.5,984.6 968.8,985.8 968.9,986.0 969.1,986.8 969.4,987.5 969.7,988.0 969.7,988.0 970.0,988.0 970.3,987.9 970.5,987.8 970.6,987.9 970.9,988.3 971.2,988.7 971.3,988.8 971.5,989.2 971.8,989.7 972.1,990.2 972.1,990.2 972.4,990.0 972.4,990.0 972.7,989.8 972.7,989.8 972.9,989.7 973.0,989.9 973.0,989.9 973.3,990.5 973.3,990.6 973.6,991.2 973.7,991.4 973.9,991.0 974.2,990.4 974.5,989.7 974.5,989.7 974.8,989.1 975.1,988.4 975.3,987.8 975.4,988.0 975.7,988.4 976.0,988.7 976.1,988.7 976.3,987.7 976.6,985.8 976.9,983.7 976.9,983.7 977.2,983.0 977.5,983.2 977.7,984.0 977.8,984.0 978.1,984.0 978.4,983.8 978.5,983.6 978.7,984.4 979.0,985.3 979.3,985.9 979.3,985.9 979.6,986.2 979.9,986.9 980.1,987.7 980.2,987.7 980.5,987.8 980.8,987.8 980.9,987.8 981.1,988.3 981.4,989.0 981.7,989.6 981.7,989.6 982.0,990.2 982.3,990.6 982.5,990.9 982.6,990.9 982.9,990.7 983.2,990.4 983.3,990.3 983.5,991.0 983.8,992.0 984.1,993.0 984.1,993.0 984.4,992.0 984.7,990.8 984.9,990.1 985.0,990.1 985.3,990.1 985.7,990.2 986.5,990.3 987.3,987.6 988.1,988.3 988.9,991.5 989.7,990.2 990.5,992.8 991.3,990.6 992.1,990.5 992.9,992.3 993.7,991.2 994.5,993.2 995.3,989.2 996.1,991.5 996.9,991.9 997.7,991.7 998.5,992.6 999.3,992.5 1000.1,991.0 1000.9,990.1 1001.7,992.5 1002.5,991.1 1003.3,992.5 1004.1,993.1 1004.9,991.4 1005.7,989.8 1006.5,990.8 1007.3,992.3 1008.1,990.8 1008.9,992.9 1009.7,991.3 1010.5,991.4 1011.3,990.3 1012.1,991.0 1012.9,992.8 1013.7,990.6 1014.5,990.6 1015.3,989.8 1015.4,990.1 1015.7,990.9 1016.0,991.7 1016.1,992.0 1016.3,991.1 1016.6,989.7 1016.9,988.3 1016.9,988.3 1017.2,988.6 1017.5,988.9 1017.7,989.1 1017.8,989.3 1018.1,989.8 1018.4,990.2 1018.5,990.3 1018.7,990.0 1019.0,989.3 1019.3,988.2 1019.3,988.2 1019.6,985.7 1019.9,983.0 1020.1,981.2 1020.2,981.1 1020.5,981.4 1020.8,982.9 1020.9,983.6 1021.1,983.5 1021.4,983.0 1021.7,982.2 1021.7,982.1 1022.0,983.9 1022.3,985.3 1022.5,986.2 1022.6,986.0 1022.9,985.9 1023.2,986.3 1023.3,986.5 1023.5,986.6 1023.8,986.8 1024.1,986.7 1024.1,986.7 1024.4,987.0 1024.7,987.2 1024.9,987.2 1025.0,987.5 1025.3,988.4 1025.6,989.3 1025.7,989.6 1025.9,990.0 1026.2,990.5 1026.5,990.9 1026.5,991.0 1026.8,991.0 1027.1,991.1 1027.3,991.1 1027.4,991.1 1027.7,990.9 1028.0,990.7 1028.0,990.6 1028.1,990.6 1028.3,990.8 1028.3,990.8 1028.6,991.0 1028.9,991.2 1028.9,991.2 1029.2,991.0 1029.5,990.7 1029.7,990.5 1029.8,989.9 1030.1,988.3 1030.4,986.5 1030.5,986.0 1030.7,985.8 1031.0,985.2 1031.3,984.2 1031.3,984.0 1031.6,981.7 1031.9,978.5 1032.1,976.2 1032.2,974.9 1032.5,971.4 1032.8,968.9 1032.9,968.6 1033.1,967.6 1033.4,968.8 1033.7,971.1 1033.7,971.4 1034.0,975.2 1034.3,978.0 1034.5,979.1 1034.6,979.0 1034.9,978.2 1035.2,977.1 1035.3,976.9 1035.5,978.0 1035.8,980.6 1036.1,984.0 1036.1,984.0 1036.4,985.1 1036.7,985.8 1036.9,986.1 1037.0,986.7 1037.3,987.9 1037.6,988.8 1037.7,989.0 1037.9,989.4 1038.2,989.8 1038.5,990.1 1038.5,990.1 1038.8,990.5 1039.1,990.9 1039.3,991.1 1039.4,991.7 1039.7,993.1 1040.0,994.5 1040.1,994.9 1040.3,993.8 1040.6,992.2 1040.9,990.8 1040.9,990.8 1041.7,990.4 1042.5,991.6 1043.3,993.0 1044.1,990.6 1044.9,993.3 1045.7,993.3 1046.5,992.0 1047.3,991.9 1048.1,991.2 1048.9,992.0 1049.7,991.2 1050.5,994.3 1051.3,994.9 1052.1,992.1 1052.9,992.5 1053.7,989.7 1054.5,991.8 1055.3,993.1 1056.1,993.1 1056.9,992.9 1057.7,994.0 1058.5,992.9 1059.3,992.2 1060.1,995.2 1060.9,989.9 1061.7,991.0 1062.5,991.7 1063.3,991.7 1064.1,991.7 1064.9,992.5 1065.7,991.8 1066.5,992.8 1067.3,993.7 1068.1,992.9 1068.9,993.1 1069.7,991.5 1070.5,991.2 1071.3,992.4 1072.1,994.2 1072.9,993.4 1073.7,994.5 1074.5,994.4 1075.3,994.5 1076.1,991.7 1076.9,994.7 1077.7,994.0 1078.5,996.0 1079.3,993.7 1080.1,993.3 1080.9,992.6 1081.7,993.1 1082.5,990.4 1083.3,992.4 1084.1,992.7 1084.9,994.3 1085.7,991.8 1086.5,992.9 1087.3,995.4 1088.1,991.9 1088.9,993.9 1089.7,991.8 1090.5,992.4 1091.3,993.2 1092.1,993.8 1092.9,991.7 1093.7,990.9 1094.5,994.6 1095.3,992.5 1096.1,993.3 1096.9,993.3 1097.7,992.8 1098.5,991.0 1099.3,990.8 1100.1,988.1 1100.9,990.0 1101.7,988.1 1102.5,987.6 1103.3,989.0 1104.1,985.7 1104.9,983.2 1105.7,979.6 1106.5,981.8 1107.3,982.6 1108.1,979.4 1108.9,982.0 1109.7,981.8 1110.5,983.8 1111.3,985.0 1112.1,984.5 1112.9,987.4 1113.7,986.8 1114.5,992.1 1115.3,992.2 1116.1,991.2 1116.9,991.9 1117.7,991.8 1118.5,992.2 1119.3,992.4 1120.1,991.9 1120.9,992.1 1121.7,990.4 1122.5,991.0 1123.3,991.6 1124.1,992.8 1124.9,992.0 1125.7,995.4 1126.5,992.4 1127.3,992.1 1128.1,993.3 1128.9,994.2 1129.7,995.5 1130.5,994.2 1131.3,991.9 1132.1,992.5 1132.9,994.3 1133.7,993.2 1134.5,994.0 1135.3,992.7 1136.1,995.2 1136.9,995.0 1137.7,994.5 1138.5,993.1 1139.3,990.5 1140.1,990.9 1140.9,993.3 1141.7,993.8 1142.5,988.6 1143.3,992.1 1144.1,994.5 1144.9,994.2 1145.7,992.1 1146.5,993.7 1147.3,992.8 1148.1,992.5 1148.9,994.4 1149.7,994.4 1150.5,991.9 1151.3,991.3 1152.1,990.7 1152.9,990.5 1153.7,994.5 1154.5,995.2 1155.3,992.7 1156.1,993.9 1156.9,991.2 1157.7,992.0 1158.5,993.3 1159.3,992.2 1160.1,991.5 1160.9,988.8 1161.7,988.7 1162.5,989.6 1163.3,988.6 1164.1,988.3 1164.9,986.0 1165.7,984.7 1166.5,982.8 1167.3,980.6 1168.1,976.6 1168.9,972.2 1169.7,969.3 1170.5,968.5 1171.3,965.6 1172.1,964.6 1172.9,965.8 1173.7,969.9 1174.5,973.3 1175.3,977.5 1176.1,978.4 1176.9,983.9 1177.7,983.9 1178.5,986.1 1179.3,987.2 1180.1,990.0 1180.9,991.7 1181.7,990.8 1182.5,990.6 1183.3,989.5 1184.1,992.2 1184.9,991.7 1185.1,991.8 1185.4,992.0 1185.7,992.1 1185.7,992.0 1186.0,991.8 1186.3,991.6 1186.5,991.5 1186.6,991.4 1186.9,991.3 1187.2,991.1 1187.3,991.1 1187.5,991.3 1187.8,991.4 1188.1,991.5 1188.1,991.6 1188.4,991.8 1188.7,992.0 1188.9,992.0 1189.0,991.9 1189.3,991.5 1189.6,991.1 1189.7,991.1 1189.9,990.2 1190.2,989.6 1190.5,989.4 1190.5,989.6 1190.8,990.4 1191.1,991.2 1191.3,991.5 1191.4,991.5 1191.7,991.5 1192.0,991.3 1192.1,991.2 1192.3,991.2 1192.6,991.1 1192.9,991.0 1192.9,990.8 1193.2,990.2 1193.5,989.9 1193.7,989.7 1193.8,990.6 1194.1,992.2 1194.4,993.8 1194.5,994.0 1194.7,994.0 1195.0,994.1 1195.3,994.1 1195.3,994.2 1195.6,994.8 1195.9,995.3 1196.1,995.6 1196.2,995.0 1196.5,993.9 1196.8,992.8 1196.9,992.7 1197.1,993.1 1197.4,993.5 1197.7,993.9 1197.7,993.8 1198.0,993.2 1198.5,992.4 1199.3,994.2 1200.1,993.7 1200.9,994.9 1201.7,993.7 1202.5,994.9 1203.3,993.3 1204.1,994.9 1204.9,993.7 1205.7,993.5 1206.5,994.3 1207.3,994.7 1208.1,992.2 1208.9,992.0 1209.7,994.5 1210.5,994.2 1211.3,991.3 1212.1,991.8 1212.9,993.2 1213.7,994.8 1214.5,994.7 1215.3,995.8 1216.1,996.1 1216.9,997.8 1217.7,992.3 1218.5,994.4 1219.3,996.0 1220.1,992.6 1220.9,992.4 1221.7,994.7 1222.5,996.0 1223.3,996.3 1224.1,991.9 1224.9,992.7 1225.7,994.3 1226.5,993.7 1227.3,994.9 1228.1,994.6 1228.9,996.9 1229.7,994.2 1230.5,994.5 1231.3,994.1 1232.1,995.4 1232.9,991.6 1233.7,992.4 1234.5,987.8 1235.3,983.0 1236.1,985.7 1236.9,987.5 1237.7,990.5 1238.5,988.7 1239.3,989.9 1240.1,991.3 1240.9,993.7 1241.7,993.1 1242.5,996.6 1243.3,993.0 1244.1,996.9 1244.9,994.2 1245.7,995.9 1246.5,994.8 1247.3,995.3 1248.1,996.9 1248.9,994.9 1249.7,993.4 1250.5,995.1 1251.3,995.7 1252.1,991.2 1252.9,996.2 1253.7,996.4 1254.5,992.2 1255.3,994.6 1256.1,996.0 1256.9,993.1 1257.7,994.2 1258.5,994.3 1259.3,995.6 1260.1,996.4 1260.9,994.7 1261.7,994.9 1262.5,996.1 1263.3,995.5 1264.1,994.4 1264.9,996.4 1265.4,993.8 1265.7,992.2 1266.0,993.0 1266.3,993.8 1266.5,994.2 1266.6,994.1 1266.9,993.6 1267.2,993.1 1267.3,992.9 1267.5,992.7 1267.8,992.3 1268.1,991.7 1268.4,991.4 1268.7,990.8 1268.9,990.2 1269.0,989.7 1269.3,987.8 1269.6,985.4 1269.7,984.5 1269.9,983.7 1270.2,983.1 1270.5,984.0 1270.8,984.4 1271.1,985.6 1271.3,986.4 1271.4,987.0 1271.7,988.4 1272.0,989.2 1272.1,989.3 1272.3,990.0 1272.6,990.5 1272.9,990.5 1273.2,989.3 1273.5,988.5 1273.7,988.4 1273.8,988.1 1274.1,987.6 1274.4,987.3 1274.5,987.2 1274.7,988.8 1275.0,990.9 1275.3,992.7 1275.6,993.6 1275.9,994.3 1276.1,994.8 1276.2,994.6 1276.5,994.1 1276.8,993.5 1276.9,993.3 1277.1,993.7 1277.4,994.3 1277.7,994.9 1278.0,994.5 1278.3,994.2 1278.5,993.9 1279.3,995.3 1280.1,992.4 1280.9,991.9 1281.7,994.0 1282.5,995.2 1282.7,995.5 1283.0,996.1 1283.3,996.7 1283.3,996.8 1283.6,995.9 1283.9,995.0 1284.1,994.3 1284.2,994.2 1284.5,993.9 1284.8,993.6 1284.9,993.5 1285.1,994.0 1285.4,994.8 1285.7,995.5 1285.7,995.5 1286.0,994.8 1286.3,993.9 1286.5,993.1 1286.6,993.2 1286.9,993.3 1287.2,993.3 1287.3,993.2 1287.5,992.1 1287.8,990.9 1288.1,990.5 1288.1,990.5 1288.4,990.4 1288.7,990.3 1288.9,990.0 1289.0,990.3 1289.3,991.3 1289.6,992.0 1289.7,992.3 1289.9,992.1 1290.2,991.8 1290.5,991.3 1290.5,991.2 1290.8,990.7 1291.1,990.5 1291.3,990.6 1291.4,990.8 1291.7,991.7 1292.0,992.5 1292.1,992.8 1292.3,993.1 1292.6,993.4 1292.9,993.6 1292.9,993.6 1293.2,993.9 1293.5,994.3 1293.7,994.5 1293.8,994.4 1294.1,994.4 1294.4,994.2 1294.5,994.2 1294.7,994.5 1295.0,995.1 1295.3,995.7 1295.3,995.7 1295.6,995.7 1296.1,995.7 1296.9,995.4 1297.7,995.5 1298.5,992.4 1299.3,992.8 1300.1,994.0 1300.9,995.6 1301.7,993.1 1302.5,994.7 1303.3,995.7 1304.1,998.3 1304.9,995.7 1305.7,994.5 1306.5,997.0 1307.3,995.7 1308.1,994.9 1308.9,997.0 1309.7,994.0 1310.5,995.7 1311.3,995.5 1312.1,996.7 1312.9,993.7 1313.7,993.5 1314.5,994.8 1315.3,995.0 1316.1,995.5 1316.9,994.9 1317.7,996.1 1318.5,996.5 1319.3,995.8 1320.1,993.9 1320.9,997.2 1321.7,993.2 1322.5,995.1 1323.3,996.8 1324.1,994.5 1324.9,997.4 1325.7,998.3 1326.5,997.8 1327.3,996.1 1328.1,996.9 1328.9,994.7 1329.7,996.1 1330.5,996.2 1331.3,995.6 1332.1,995.7 1332.9,995.2 1333.7,992.5 1334.5,996.0 1335.3,995.9 1336.1,998.5 1336.9,996.5 1337.7,995.5 1338.5,996.6 1339.3,996.2 1340.1,995.1 1340.9,994.4 1341.7,992.6 1342.5,994.5 1343.3,995.8 1344.1,988.1 1344.9,983.9 1345.7,979.7 1346.5,980.2 1347.3,986.6 1348.1,985.5 1348.9,985.7 1349.7,987.1 1350.5,990.9 1351.3,993.4 1352.1,993.0 1352.9,995.7 1353.7,993.4 1354.5,993.9 1355.3,993.7 1356.1,997.7 1356.9,995.0 1357.7,995.7 1358.5,992.4 1359.3,997.3 1360.1,996.4 1360.9,993.3 1361.7,993.4 1362.5,998.3 1363.3,994.4 1364.1,998.6 1364.9,995.2 1365.7,992.2 1366.5,997.6 1367.3,996.7 1368.1,997.0 1368.9,995.2 1369.7,995.6 1370.5,997.4 1371.3,994.8 1372.1,993.1 1372.9,997.4 1373.7,995.1 1374.5,998.0 1375.3,995.4 1376.1,995.5 1376.9,995.7 1377.7,992.6 1378.5,997.9 1379.3,995.2 1380.1,995.9 1380.9,998.4 1381.7,996.4 1382.5,997.6 1383.3,996.8 1384.1,997.5 1384.9,996.7 1385.7,998.1 1386.5,996.0 1387.3,997.1 1388.1,995.3 1388.9,998.2 1389.7,993.2 1390.5,996.7 1391.3,997.0 1392.1,997.0 1392.9,996.5 1393.7,998.5 1394.5,999.7 1395.3,995.6 1396.1,993.7 1396.9,994.9 1397.7,995.3 1397.9,995.5 1398.2,995.9 1398.5,996.2 1398.5,996.2 1398.8,996.2 1399.1,996.2 1399.3,996.2 1399.4,996.5 1399.7,997.0 1400.0,997.5 1400.1,997.6 1400.3,996.8 1400.6,995.7 1400.9,994.7 1400.9,994.7 1401.2,994.5 1401.5,994.1 1401.7,993.8 1401.8,993.4 1402.1,992.4 1402.4,991.3 1402.5,991.1 1402.7,989.9 1403.0,989.2 1403.3,989.3 1403.3,989.4 1403.6,990.8 1403.9,992.2 1404.1,992.9 1404.2,994.0 1404.5,996.3 1404.8,998.3 1404.9,998.7 1405.1,997.5 1405.4,995.7 1405.7,994.0 1405.7,993.9 1406.0,993.0 1406.3,992.1 1406.5,991.8 1406.6,991.5 1406.9,991.2 1407.2,991.1 1407.3,991.1 1407.5,993.0 1407.8,995.4 1408.1,997.3 1408.1,997.3 1408.4,996.8 1408.7,996.2 1408.9,995.9 1409.0,995.9 1409.3,995.9 1409.6,995.8 1409.7,995.8 1409.9,997.2 1410.2,999.0 1410.5,1000.5 1410.5,1000.5 1410.8,999.9 1411.3,999.1 1412.1,994.5 1412.9,996.6 1413.7,998.7 1414.5,998.5 1415.3,995.6 1416.1,999.9 1416.9,1000.1 1417.7,995.7 1418.5,994.7 1419.3,995.3 1420.1,998.3 1420.9,999.0 1421.7,997.6 1422.5,996.4 1423.3,997.1 1424.1,998.0 1424.9,995.2 1425.7,994.2 1426.5,996.2 1427.3,997.3 1428.1,993.5 1428.9,988.7 1429.7,981.1 1430.5,982.2 1431.3,983.5 1432.1,989.8 1432.9,989.0 1433.7,988.1 1434.5,988.4 1435.3,994.3 1436.1,995.5 1436.9,995.9 1437.7,998.1 1438.5,997.5 1439.3,997.0 1440.1,997.0 1440.9,999.2 1441.7,996.7 1442.5,997.8 1443.3,997.8 1444.1,998.7 1444.9,998.0 1445.7,1001.6 1446.5,995.7 1447.3,999.3 1448.1,998.4 1448.9,1000.1 1449.7,996.0 1450.5,1000.2 1451.3,996.3 1452.1,999.3 1452.9,998.8 1453.7,997.4 1454.5,994.7 1455.3,991.3 1456.1,990.1 1456.9,991.0 1457.7,992.1 1458.5,993.1 1459.3,996.0 1460.1,995.5 1460.9,996.7 1461.7,997.7 1462.5,999.0 1463.3,999.5 1464.1,999.3 1464.9,997.8 1465.7,998.0 1466.5,997.5 1467.3,999.5 1468.1,997.8 1468.9,999.1 1469.7,1001.4 1470.5,998.9 1471.3,1000.9 1472.1,1001.8 1472.9,996.8 1473.7,997.4 1474.5,1000.3 1475.3,998.6 1476.1,1000.5 1476.9,1000.7 1477.7,998.9 1478.5,1001.0 1479.3,1002.4 1480.1,1001.2 1480.9,998.5 1481.7,999.5 1482.5,998.9 1483.3,1002.1 1484.1,999.4 1484.9,998.5 1485.7,999.4 1486.5,999.7 1487.3,997.1 1488.1,994.9 1488.9,990.2 1489.7,990.6 1490.5,995.0 1491.3,996.7 1492.1,995.6 1492.9,995.2 1493.7,993.5 1494.5,998.8 1495.3,999.4 1496.1,1000.1 1496.9,996.4 1497.7,1003.8 1498.5,1002.5 1499.3,1002.3 1500.1,1000.7 1500.9,1001.5 1501.7,1004.9 1502.5,999.6 1503.3,1001.8 1504.1,1001.6 1504.9,1001.0 1505.7,1001.3 1506.5,999.4 1507.3,1001.8 1508.1,998.9 1508.9,1003.7 1509.7,1002.2 1510.5,999.7 1511.3,997.9 1512.1,1001.2 1512.9,1001.8 1513.7,999.6 1514.5,1003.6 1515.3,1001.5 1516.1,1000.5 1516.9,999.1 1517.7,1001.0 1518.5,1000.9 1519.3,1002.2 1520.1,1002.8 1520.9,1001.3 1521.7,1002.0 1522.5,1003.4 1523.3,1002.2 1524.1,1001.0 1524.9,1002.3 1525.7,1000.6 1526.5,1002.1 1527.3,1001.5 1528.1,999.8 1528.9,1002.3 1529.7,1001.6 1530.5,1002.5 1531.3,999.5 1532.1,1003.1 1532.9,1003.2 1533.7,1001.0 1534.5,1001.3 1535.3,1001.6 1536.1,1001.5 1536.9,1002.7 1537.7,1000.4 1538.5,999.8 1539.3,1001.1 1540.1,1004.3 1540.9,1000.8 1541.1,1000.5 1541.4,1000.2 1541.7,999.8 1541.7,999.8 1542.0,999.8 1542.3,999.8 1542.5,999.8 1542.6,1000.0 1542.9,1000.6 1543.2,1001.1 1543.3,1001.2 1543.5,1001.5 1543.8,1001.9 1544.1,1002.2 1544.1,1002.1 1544.4,1000.7 1544.7,999.1 1544.9,998.0 1545.0,997.9 1545.3,997.5 1545.6,997.1 1545.7,997.0 1545.9,996.5 1546.2,996.3 1546.5,996.9 1546.5,996.9 1546.8,998.0 1547.1,999.0 1547.3,999.6 1547.4,999.8 1547.7,1000.1 1548.0,1000.2 1548.1,1000.2 1548.3,1000.7 1548.6,1001.2 1548.9,1001.6 1548.9,1001.6 1549.2,1001.1 1549.5,1000.5 1549.7,1000.1 1549.8,999.7 1550.1,998.7 1550.4,998.0 1550.5,997.9 1550.7,999.5 1551.0,1001.7 1551.3,1003.8 1551.3,1003.6 1551.6,1001.9 1551.9,1000.1 1552.1,998.9 1552.2,999.0 1552.5,999.2 1552.8,999.3 1552.9,999.3 1553.1,1000.4 1553.4,1001.8 1553.7,1003.0 1553.7,1003.0 1554.0,1002.6 1554.5,1001.9 1555.3,1001.3 1556.1,1002.0 1556.9,1002.8 1557.7,1001.1 1558.5,1000.8 1559.3,1000.2 1560.1,1000.5 1560.9,1000.7 1561.7,1003.6 1562.5,1002.3 1563.3,1002.7 1564.1,1001.1 1564.9,1003.5 1565.7,999.6 1566.5,1002.7 1567.3,1003.0 1568.1,1001.1 1568.9,1000.4 1569.7,1002.8 1570.5,1000.9 1571.3,1000.6 1572.1,1002.0 1572.9,1000.3 1573.7,1001.8 1574.5,1005.0 1575.3,1001.3 1576.1,1003.3 1576.9,1000.3 1577.7,1001.9 1578.3,1001.4 1578.5,1001.3 1578.6,1001.3 1578.9,1001.3 1579.2,1001.3 1579.3,1001.3 1579.5,1001.6 1579.8,1002.0 1580.1,1002.4 1580.1,1002.5 1580.4,1003.1 1580.7,1003.6 1580.9,1003.8 1581.0,1003.0 1581.3,1001.2 1581.6,999.3 1581.7,998.9 1581.9,998.8 1582.2,998.3 1582.5,997.6 1582.5,997.2 1582.8,994.9 1583.1,992.9 1583.3,992.3 1583.4,992.5 1583.7,993.7 1584.0,995.6 1584.1,996.0 1584.3,996.8 1584.6,997.4 1584.9,997.7 1584.9,997.8 1585.2,998.3 1585.5,998.4 1585.7,998.4 1585.8,998.6 1586.1,998.7 1586.4,998.6 1586.5,998.6 1586.7,997.8 1587.0,996.7 1587.3,995.8 1587.3,995.8 1587.6,996.0 1587.9,996.9 1588.1,997.6 1588.2,997.7 1588.5,998.1 1588.8,998.3 1588.9,998.3 1589.1,999.3 1589.4,1000.3 1589.7,1001.1 1589.7,1001.2 1590.0,1001.5 1590.3,1001.7 1590.5,1001.9 1590.6,1002.4 1590.9,1003.4 1591.2,1004.4 1591.3,1004.6 1592.1,1004.6 1592.9,1002.9 1593.7,1001.4 1594.5,1003.1 1595.3,1003.5 1596.1,1002.0 1596.9,1001.0 1597.7,999.7 1598.5,1002.3 1599.3,1005.3 1600.1,1002.1 1600.9,1003.0 1601.7,1003.0 1602.5,1003.2 1603.3,1003.6 1604.1,999.5 1604.9,1002.3 1605.7,1003.1 1606.5,1002.4 1607.3,1004.3 1608.1,1002.0 1608.9,1003.9 1609.7,1005.2 1610.5,1002.2 1611.3,1002.6 1612.1,1002.2 1612.9,1003.7 1613.7,999.4 1614.5,1000.4 1615.3,1002.2 1616.1,1003.9 1616.9,1003.5 1617.7,1001.4 1618.5,1005.1 1619.3,1002.8 1620.1,1001.7 1620.9,1003.5 1621.7,1004.7 1622.5,1002.6 1623.3,1000.4 1624.1,1001.9 1624.9,1002.9 1625.7,1004.2 1626.5,1001.2 1627.3,1003.2 1628.1,1001.0 1628.9,1002.9 1629.7,1000.8 1630.5,1002.1 1631.3,1000.5 1632.1,1001.3 1632.9,1000.4 1633.7,999.9 1634.5,1004.7 1635.3,1004.6 1636.1,1003.6 1636.9,1002.3 1637.7,1005.1 1638.5,1002.4 1639.3,1003.5 1640.1,1004.6 1640.9,1003.2 1641.7,1005.1 1642.5,1002.7 1643.3,1002.7 1644.1,1003.1 1644.9,1001.2 1645.7,1001.3 1646.5,1004.1 1647.3,1000.3 1648.1,1004.6 1648.9,1003.3 1649.7,1004.7 1650.5,1004.1 1651.3,1003.8 1652.1,1005.5 1652.9,1002.8 1653.7,1002.7 1654.5,1004.5 1655.3,1001.8 1656.1,1004.5 1656.9,1003.7 1657.7,1001.8 1658.5,1000.4 1659.3,998.9 1660.1,1003.6 1660.9,996.2 1661.7,993.3 1662.5,995.5 1663.3,997.7 1664.1,999.8 1664.9,1000.5 1665.7,999.0 1666.5,997.0 1667.3,997.6 1668.1,1001.4 1668.9,1003.4 1669.7,1004.2 1670.5,1002.6 1671.3,999.4 1672.1,1003.7 1672.9,1002.7 1673.7,999.0 1674.5,1005.1 1675.3,1003.4 1676.1,1003.0 1676.9,1003.4 1677.7,1003.3 1678.5,1003.5 1679.3,1003.4 1680.1,1003.2 1680.9,1004.1 1681.7,1003.8 1682.5,1006.9 1683.3,1003.5 1684.1,1002.5 1684.9,1002.4 1685.7,1003.9 1686.5,1003.5 1687.3,1003.7 1688.1,1003.1 1688.9,1003.1 1689.7,1004.5 1690.5,1005.5 1691.3,1003.9 1692.1,1003.3 1692.9,1001.7 1693.7,1001.7 1694.5,1003.5 1695.3,1003.1 1696.1,1003.3 1696.9,1001.8 1697.7,1003.3 1698.5,1000.6 1699.3,1001.7 1700.1,1002.3 1700.9,1004.4 1701.7,1002.6 1702.5,1002.1 1703.3,1004.0 1704.1,1003.4 1704.9,1005.0 1705.7,1004.1 1706.5,1003.9 1707.3,1003.3 1708.1,1004.6 1708.9,1002.5 1709.7,1001.4 1710.5,1005.0 1711.3,1003.0 1712.1,1003.8 1712.9,1004.6 1713.7,1005.2 1714.5,999.4 1715.3,1002.2 1716.1,1005.6 1716.9,1001.2 1717.7,1004.5 1718.5,1003.3 1719.3,1002.5 1720.1,1003.6 1720.9,1001.3 1721.7,1004.5 1722.5,1005.7 1723.3,1001.8 1724.1,1002.9 1724.9,1005.7 1725.7,1004.5 1726.5,1003.5 1727.3,1006.1 1728.1,1001.5 1728.9,1003.6 1729.7,1004.2 1730.5,1003.6 1731.3,1005.3 1732.1,1001.6 1732.9,1004.2 1733.7,1002.9 1734.5,1005.9 1735.3,1005.7 1736.1,1003.0 1736.9,1002.5 1737.7,1004.1 1738.5,1002.9 1739.3,1003.4 1740.1,1004.9 1740.9,1003.6 1741.7,1007.0 1742.5,1004.4 1743.3,1003.5 1744.1,1002.6 1744.9,1003.6 1745.7,1006.0 1746.5,1005.2 1747.3,1006.5 1748.1,1006.4 1748.9,1005.3 1749.7,1003.4 1750.5,1004.2 1751.3,1004.6 1752.1,1002.0 1752.9,1005.0 1753.7,1003.0 1754.5,1004.4 1755.3,1003.8 1756.1,1005.5 1756.9,1008.6 1757.7,1002.8 1758.5,1004.6 1759.3,1007.7 1760.1,1003.3 1760.9,1004.3 1761.7,1004.5 1762.5,1005.2 1763.3,1002.3 1764.1,1005.2 1764.9,1005.7 1765.7,1008.6 1766.5,1004.7 1767.3,1004.0 1768.1,1005.0 1768.9,1000.9 1769.7,1005.4 1770.5,1007.2 1771.3,1004.9 1772.1,1004.9 1772.9,1004.6 1773.7,1005.2 1774.5,1003.1 1775.3,1007.3 1776.1,1004.3 1776.9,1004.4 1777.7,1007.5 1778.5,1005.1 1779.3,1004.5 1780.1,1007.6 1780.9,1005.4 1781.7,1006.6 1782.5,1004.3 1783.3,1002.5 1784.1,1005.5 1784.9,1007.4 1785.7,1004.6 1786.5,1005.8 1787.3,1006.4 1788.1,1005.7 1788.9,1005.4 1789.7,1006.5 1790.5,1005.7 1791.3,1004.6 1792.1,1007.0 1792.9,1006.6 1793.7,1006.0 1794.5,1006.5 1795.3,1001.5 1796.1,1005.9 1796.9,1005.6 1797.7,1002.5 1798.5,1008.7 1799.3,1006.1 1800.1,1004.9 1800.9,1005.0 1801.7,1006.0 1802.5,1005.6 1803.3,1003.2 1804.1,1005.1 1804.9,1006.4 1805.7,1006.6 1806.5,1007.0 1807.3,1004.1 1808.1,1004.8 1808.9,1006.3 1809.7,1004.9 1810.5,1006.1 1811.3,1004.6 1812.1,1006.8 1812.9,1006.0 1813.7,1006.8 1814.5,1006.0 1815.3,1004.8 1816.1,1004.1 1816.9,1006.1 1817.7,1005.1 1818.5,1003.8 1819.3,1005.2 1820.1,1007.3 1820.9,1008.0 1821.7,1007.3 1822.5,1008.2 1823.3,1005.6 1824.1,1006.0 1824.9,1004.8 1825.7,1005.1 1826.5,1008.7 1827.3,1006.9 1828.1,1007.3 1828.9,1010.2 1829.7,1009.2 1830.5,1005.1 1831.3,1007.9 1832.1,1005.3 1832.9,1007.9 1833.7,1003.6 1834.5,1005.0 1835.3,1005.1 1836.1,1009.5 1836.9,1003.8 1837.7,1008.2 1838.5,1008.2 1839.3,1006.8 1840.1,1007.9 1840.9,1010.5 1841.7,1007.0 1842.5,1006.2 1843.3,1008.7 1844.1,1007.9 1844.9,1005.0 1845.7,1007.0 1846.5,1007.2 1847.3,1005.1 1848.1,1005.4 1848.9,1005.8 1849.7,1005.0 1850.5,1007.6 1851.3,1007.3 1852.1,1003.5 1852.9,1006.3 1853.7,1007.2 1854.5,1004.9 1855.3,1006.5 1856.1,1007.4 1856.9,1004.4 1857.7,1006.6 1858.5,1003.4 1859.3,1008.2 1860.1,1005.9 1860.9,1004.9 1861.7,1004.3 1862.5,1004.6 1863.3,1009.1 1864.1,1005.8 1864.9,1006.3 1865.7,1006.6 1866.5,1004.9 1867.3,1008.3 1868.1,1003.4 1868.9,1008.6 1869.7,1006.1 1870.5,1007.3 1871.3,1007.7 1872.1,1008.6 1872.9,1005.4 1873.7,1008.2 1874.5,1007.3 1875.3,1007.1 1876.1,1006.9 1876.9,1009.1 1877.7,1008.1 1878.5,1009.4 1879.3,1008.8 1880.1,1004.4 1880.9,1007.3 1881.7,1009.0 1882.5,1006.1 1883.3,1005.0 1884.1,1004.1 1884.9,1010.6 1885.7,1006.2 1886.5,1007.9 1887.3,1006.0 1888.1,1008.3 1888.9,1010.2 1889.7,1005.5 1890.5,1007.6 1891.3,1006.6 1892.1,1004.9 1892.9,1006.4 1893.7,1007.8 1894.5,1009.7 1895.3,1009.8 1896.1,1007.8 1896.9,1005.3 1897.7,1008.9 1898.5,1007.9 1899.3,1007.9 1900.1,1006.2 1900.9,1007.7 1901.7,1011.0 1902.5,1010.3 1903.3,1010.0 1904.1,1009.1 1904.9,1007.5 1905.7,1008.1 1906.5,1008.3 1907.3,1008.7 1908.1,1007.6 1908.9,1006.8 1909.7,1009.9 1910.5,1007.6 1911.3,1009.5 1912.1,1008.0 1912.9,1009.3 1913.7,1009.1 1914.5,1009.5 1915.3,1009.4 1916.1,1006.9 1916.9,1006.3 1917.7,1008.3 1918.5,1011.0 1919.3,1007.2 1920.1,1007.0 1920.9,1012.0 1921.7,1006.1 1922.5,1007.6 1923.3,1007.9 1924.1,1007.5 1924.9,1007.6 1925.7,1010.2 1926.5,1008.9 1927.3,1008.9 1928.1,1006.1 1928.9,1009.9 1929.7,1008.9 1930.5,1008.9 1931.3,1010.0 1932.1,1009.2 1932.9,1008.7 1933.7,1009.4 1934.5,1007.7 1935.3,1007.4 1936.1,1006.8 1936.9,1010.3 1937.7,1007.9 1938.5,1009.2 1939.3,1010.6 1940.1,1011.7 1940.9,1008.4 1941.7,1009.2 1942.5,1009.1 1943.3,1007.0 1944.1,1008.3 1944.9,1013.3 1945.7,1009.0 1946.5,1011.8 1947.3,1010.3 1948.1,1011.8 1948.9,1011.2 1949.7,1009.5 1950.5,1007.3 1951.3,1011.4 1952.1,1010.3 1952.9,1010.0 1953.7,1010.6 1954.5,1008.0 1955.3,1009.5 1956.1,1009.3 1956.9,1007.0 1957.7,1007.5 1958.5,1009.1 1959.3,1006.0 1960.1,1010.5 1960.9,1010.6 1961.7,1009.3 1962.5,1009.8 1963.3,1006.6 1964.1,1009.7 1964.9,1010.6 1965.7,1010.2 1966.5,1010.9 1967.3,1009.4 1968.1,1012.6 1968.9,1010.2 1969.7,1010.8 1970.5,1011.2 1971.3,1008.4 1972.1,1007.9 1972.9,1010.8 1973.7,1007.7 1974.5,1008.7 1975.3,1011.2 1976.1,1008.0 1976.9,1008.2 1977.7,1007.8 1978.5,1008.1 1979.3,1012.6 1980.1,1010.6 1980.9,1011.2 1981.7,1006.8 1982.5,1006.1 1983.3,1008.1 1984.1,1011.4 1984.9,1011.6 1985.7,1006.8 1986.5,1007.2 1987.3,1010.9 1988.1,1010.3 1988.9,1010.6 1989.7,1010.9 1990.5,1008.4 1991.3,1010.2 1992.1,1009.5 1992.9,1011.9 1993.7,1009.5 1994.5,1007.1 1995.3,1012.0 1996.1,1012.8 1996.9,1011.6 1997.7,1009.6 1998.5,1008.7 1999.3,1011.7 2000.1,1009.3 2000.9,1010.9 2001.7,1011.4 2002.5,1010.0 2003.3,1007.1 2004.1,1011.0 2004.9,1008.7 2005.7,1007.9 2006.5,1010.2 2007.3,1010.5 2008.1,1010.1 2008.9,1011.3 2009.7,1007.4 2010.5,1011.2 2011.3,1012.8 2012.1,1010.2 2012.9,1009.6 2013.7,1010.1 2014.5,1012.3 2015.3,1010.1 2016.1,1009.2 2016.9,1007.9 2017.7,1012.6 2018.5,1012.7 2019.3,1010.5 2020.1,1013.7 2020.9,1009.9 2021.7,1011.7 2022.5,1008.6 2023.3,1009.1 2024.1,1010.6 2024.9,1011.3 2025.7,1011.6 2026.5,1009.3 2027.3,1009.9 2028.1,1010.5 2028.9,1010.3 2029.7,1010.3 2030.5,1012.0 2031.3,1012.5 2032.1,1007.9 2032.9,1012.8 2033.7,1011.0 2034.5,1011.3 2035.3,1011.3 2036.1,1012.2 2036.9,1011.9 2037.7,1008.5 2038.5,1012.2 2039.3,1009.1 2040.1,1011.4 2040.9,1011.2 2041.7,1008.5 2042.5,1010.9 2043.3,1010.5 2044.1,1009.9 2044.9,1014.0 2045.7,1011.2 2046.5,1010.4 2047.3,1013.6 2048.1,1010.9 2048.9,1010.7 2049.7,1007.9 2050.5,1011.9 2051.3,1012.5 2052.1,1013.9 2052.9,1009.4 2053.7,1012.6 2054.5,1013.1 2055.3,1012.1 2056.1,1011.0 2056.9,1008.5 2057.7,1011.3 2058.5,1010.1 2059.3,1008.3 2060.1,1011.9 2060.9,1010.8 2061.7,1010.6 2062.5,1014.0 2063.3,1010.2 2064.1,1007.8 2064.9,1007.6" fill="none" stroke="#0A6CF5" stroke-width="1.9" stroke-linejoin="miter"/>
<polyline points="181.7,1345.4 182.5,1346.8 183.3,1338.1 184.1,1342.9 184.9,1345.2 185.7,1345.9 186.5,1344.4 187.3,1346.1 188.1,1343.6 188.9,1344.1 189.7,1343.3 190.5,1340.8 191.3,1341.2 192.1,1343.6 192.9,1341.6 193.7,1345.3 194.5,1345.3 195.3,1346.3 196.1,1342.6 196.9,1345.3 197.7,1340.7 198.5,1340.8 199.3,1342.5 200.1,1342.9 200.9,1339.0 201.7,1338.7 202.5,1342.8 203.3,1340.3 204.1,1344.4 204.9,1342.7 205.7,1342.4 206.5,1342.1 207.3,1343.4 208.1,1341.2 208.9,1343.6 209.7,1340.3 210.5,1340.8 211.3,1339.8 212.1,1342.3 212.9,1341.0 213.7,1339.1 214.5,1344.8 215.3,1339.9 216.1,1340.3 216.9,1341.2 217.7,1343.8 218.5,1339.8 219.3,1341.4 220.1,1340.1 220.9,1336.8 221.7,1341.2 222.5,1341.5 223.3,1338.8 224.1,1339.1 224.9,1336.0 225.7,1335.8 226.5,1337.9 227.3,1339.8 228.1,1337.4 228.9,1338.8 229.7,1340.0 230.5,1338.1 231.3,1338.8 232.1,1340.4 232.9,1334.9 233.7,1338.7 234.5,1333.2 235.3,1337.7 236.1,1337.0 236.9,1335.3 237.7,1334.1 238.5,1335.9 239.3,1335.0 240.1,1335.8 240.9,1333.6 241.7,1336.3 242.5,1333.0 243.3,1334.2 244.1,1333.8 244.9,1337.0 245.7,1331.2 246.5,1333.2 247.3,1336.2 248.1,1332.3 248.9,1330.9 249.7,1333.7 250.5,1332.3 251.3,1334.4 252.1,1330.6 252.9,1332.6 253.7,1333.4 254.5,1333.9 255.3,1329.3 256.1,1334.2 256.9,1329.3 257.7,1327.8 258.5,1328.7 259.3,1330.7 260.1,1329.5 260.9,1330.8 261.7,1330.7 262.5,1330.1 263.3,1328.7 264.1,1332.6 264.9,1324.3 265.7,1325.0 266.5,1327.2 267.3,1325.4 268.1,1322.6 268.9,1325.8 269.7,1325.7 270.5,1322.0 271.3,1328.4 272.1,1329.0 272.9,1328.6 273.7,1324.8 274.5,1325.9 275.3,1323.1 276.1,1325.5 276.9,1323.4 277.7,1325.3 278.5,1323.6 279.3,1326.0 280.1,1325.3 280.9,1325.9 281.7,1319.9 282.5,1319.2 283.3,1323.4 284.1,1321.1 284.9,1322.8 285.7,1322.3 286.5,1321.8 287.3,1323.0 288.1,1322.0 288.9,1321.5 289.7,1318.5 290.5,1323.4 291.3,1319.9 292.1,1321.6 292.9,1319.7 293.7,1321.3 294.5,1318.8 295.3,1318.6 296.1,1318.2 296.9,1316.2 297.7,1316.1 298.5,1316.7 299.3,1316.4 300.1,1314.4 300.9,1320.8 301.7,1313.8 302.5,1314.8 303.3,1320.0 304.1,1313.5 304.9,1316.0 305.7,1315.5 306.5,1313.4 307.3,1310.7 308.1,1310.1 308.9,1312.9 309.7,1313.4 310.5,1307.9 311.3,1312.2 312.1,1310.3 312.9,1313.1 313.7,1311.3 314.5,1309.0 315.3,1309.5 316.1,1310.1 316.9,1312.4 317.7,1315.5 318.5,1309.8 319.3,1309.0 320.1,1309.8 320.9,1308.2 321.7,1309.2 322.5,1308.4 323.3,1307.3 324.1,1305.4 324.9,1307.0 325.7,1308.2 326.5,1306.2 327.3,1308.8 328.1,1307.3 328.9,1304.9 329.7,1308.3 330.5,1302.3 331.3,1306.5 332.1,1307.6 332.9,1303.1 333.7,1303.1 334.5,1304.9 335.3,1305.6 336.1,1303.3 336.9,1302.7 337.7,1303.7 338.5,1302.1 339.3,1298.9 340.1,1300.7 340.9,1300.8 341.7,1297.5 342.5,1301.0 343.3,1298.5 344.1,1301.2 344.9,1296.5 345.7,1297.4 346.5,1296.0 347.3,1301.3 348.1,1301.0 348.9,1301.1 349.7,1300.9 350.5,1299.5 351.3,1299.2 352.1,1293.8 352.9,1297.6 353.7,1295.8 354.5,1295.9 355.3,1293.8 356.1,1298.7 356.9,1296.2 357.7,1292.7 358.5,1296.5 359.3,1295.1 360.1,1292.9 360.9,1294.2 361.7,1293.0 362.5,1289.7 363.3,1291.0 364.1,1294.9 364.9,1294.4 365.7,1294.0 366.5,1290.9 367.3,1291.9 368.1,1293.0 368.9,1294.1 369.7,1290.9 370.5,1290.3 371.3,1294.5 372.1,1292.2 372.9,1291.2 373.7,1290.3 374.5,1290.3 375.3,1294.6 376.1,1293.3 376.9,1290.3 377.7,1288.5 378.5,1294.3 379.3,1293.9 380.1,1293.1 380.9,1292.2 381.7,1286.6 382.5,1287.7 383.3,1291.3 384.1,1289.5 384.9,1290.5 385.7,1288.8 386.5,1288.4 387.3,1290.7 388.1,1288.7 388.9,1289.4 389.7,1289.9 390.5,1289.7 391.3,1291.5 392.1,1291.8 392.9,1286.3 393.7,1288.4 394.5,1287.5 395.3,1290.3 396.1,1286.6 396.9,1290.2 397.7,1290.0 398.5,1289.6 399.3,1286.5 400.1,1287.9 400.9,1286.2 401.7,1289.1 402.5,1290.1 403.3,1285.1 404.1,1286.5 404.9,1287.8 405.7,1287.0 406.5,1291.0 407.3,1287.7 408.1,1288.5 408.9,1285.7 409.7,1291.0 410.5,1288.2 411.3,1289.4 412.1,1288.0 412.9,1283.6 413.7,1284.6 414.5,1285.2 415.3,1288.7 416.1,1286.8 416.9,1288.7 417.7,1288.4 418.5,1288.3 419.3,1289.6 420.1,1288.2 420.9,1284.5 421.7,1286.5 422.5,1291.2 423.3,1285.7 424.1,1290.6 424.9,1291.2 425.7,1286.8 426.5,1288.7 427.3,1285.2 428.1,1289.6 428.9,1286.5 429.7,1285.5 430.5,1287.4 431.3,1287.3 432.1,1287.1 432.9,1288.7 433.7,1288.0 434.5,1287.1 435.3,1290.3 436.1,1293.3 436.9,1288.7 437.7,1287.2 438.5,1286.7 439.3,1289.9 440.1,1288.3 440.9,1288.9 441.7,1284.9 442.5,1286.7 443.3,1286.7 444.1,1291.0 444.9,1288.6 445.7,1284.2 446.5,1290.2 447.3,1291.6 448.1,1292.0 448.9,1283.9 449.7,1289.9 450.5,1291.3 451.3,1290.9 452.1,1289.3 452.9,1286.2 453.7,1289.0 454.5,1289.3 455.3,1291.2 456.1,1291.4 456.9,1289.7 457.7,1292.0 458.5,1288.2 459.3,1289.0 460.1,1290.4 460.9,1291.7 461.7,1290.0 462.5,1293.1 463.3,1291.6 464.1,1288.9 464.9,1291.0 465.7,1289.2 466.5,1289.1 467.3,1288.2 468.1,1293.9 468.9,1293.0 469.7,1288.1 470.5,1293.6 471.3,1293.3 472.1,1290.7 472.9,1292.6 473.7,1296.1 474.5,1292.2 475.3,1292.6 476.1,1294.0 476.9,1289.8 477.7,1289.4 478.5,1289.2 479.3,1291.9 480.1,1293.9 480.9,1290.5 481.7,1289.5 482.5,1292.7 483.3,1291.7 484.1,1293.7 484.9,1292.3 485.7,1292.3 486.5,1292.5 487.3,1292.8 488.1,1290.9 488.9,1290.6 489.7,1296.1 490.5,1299.2 491.3,1295.3 492.1,1289.9 492.9,1293.3 493.7,1295.7 494.5,1290.1 495.3,1292.4 496.1,1292.6 496.9,1291.7 497.7,1291.9 498.5,1295.7 499.3,1292.8 500.1,1293.3 500.9,1297.3 501.7,1292.2 502.5,1290.1 503.3,1295.3 504.1,1298.1 504.9,1294.5 505.7,1294.8 506.5,1291.7 507.3,1292.4 508.1,1297.3 508.9,1296.9 509.7,1295.6 510.5,1293.2 511.3,1292.2 512.1,1292.5 512.9,1292.3 513.7,1295.9 514.5,1293.2 515.3,1293.8 516.1,1296.2 516.9,1296.2 517.7,1295.0 518.5,1295.9 519.3,1295.0 520.1,1291.2 520.9,1295.0 521.7,1294.3 522.5,1294.5 523.3,1295.8 524.1,1294.2 524.9,1297.8 525.7,1295.1 526.5,1295.8 527.3,1296.2 528.1,1295.2 528.9,1296.9 529.7,1297.2 530.5,1297.0 531.3,1294.4 532.1,1294.0 532.9,1294.7 533.7,1295.9 534.5,1292.2 535.3,1294.3 536.1,1293.7 536.9,1294.7 537.7,1294.3 538.5,1297.8 539.3,1297.1 540.1,1298.2 540.9,1294.4 541.7,1294.8 542.5,1295.8 543.3,1299.8 544.1,1299.9 544.9,1295.3 545.7,1297.9 546.5,1301.0 547.3,1294.7 548.1,1296.4 548.9,1299.4 549.7,1298.3 550.5,1294.9 551.3,1300.0 552.1,1299.0 552.9,1298.4 553.7,1294.6 554.5,1296.8 555.3,1299.8 556.1,1298.2 556.9,1298.8 557.7,1296.8 558.5,1300.4 559.3,1296.9 560.1,1299.3 560.9,1298.1 561.7,1295.6 562.5,1300.5 563.3,1295.0 564.1,1296.1 564.9,1297.9 565.7,1294.9 566.5,1294.1 567.3,1297.5 568.1,1296.9 568.9,1297.3 569.7,1298.8 570.5,1302.4 571.3,1297.1 572.1,1302.8 572.9,1298.5 573.7,1297.8 574.5,1292.6 575.3,1295.0 576.1,1298.6 576.9,1299.2 577.7,1296.5 578.5,1298.8 579.3,1300.0 580.1,1297.1 580.9,1295.0 581.7,1296.3 582.5,1297.7 583.3,1298.9 584.1,1299.9 584.9,1296.5 585.7,1298.4 586.5,1297.8 587.3,1298.5 588.1,1300.6 588.9,1301.0 589.7,1297.5 590.5,1297.2 591.3,1297.0 592.1,1297.4 592.9,1297.6 593.7,1298.1 594.5,1297.4 595.3,1296.2 596.1,1296.0 596.9,1298.4 597.7,1303.1 598.5,1299.2 599.3,1299.3 600.1,1298.5 600.9,1297.1 601.7,1301.0 601.8,1300.3 602.1,1298.4 602.4,1296.3 602.5,1295.7 602.7,1295.1 603.0,1294.2 603.3,1293.2 603.3,1293.2 603.6,1292.4 603.9,1291.3 604.1,1290.5 604.2,1290.5 604.5,1290.0 604.8,1288.9 604.9,1288.4 605.1,1285.3 605.4,1279.1 605.7,1269.9 605.7,1269.5 606.0,1255.6 606.3,1235.4 606.5,1221.2 606.6,1214.1 606.9,1207.5 607.2,1218.8 607.3,1223.0 607.5,1230.7 607.8,1235.1 608.1,1237.3 608.1,1237.5 608.4,1248.3 608.7,1263.0 608.9,1271.3 609.0,1274.4 609.3,1280.6 609.6,1284.0 609.7,1284.6 609.9,1288.6 610.2,1293.6 610.5,1297.8 610.5,1297.7 610.8,1294.9 611.1,1291.9 611.3,1289.9 611.4,1290.5 611.7,1292.0 612.0,1293.4 612.1,1293.8 612.3,1294.8 612.6,1296.1 612.9,1297.4 612.9,1297.4 613.2,1297.9 613.5,1298.3 613.7,1298.5 613.8,1298.4 614.1,1297.9 614.4,1297.5 614.5,1297.3 614.7,1297.7 615.3,1298.8 616.1,1298.8 616.9,1298.8 617.7,1299.8 618.5,1299.2 619.3,1298.6 620.1,1298.6 620.9,1300.7 621.7,1298.6 622.5,1300.1 623.3,1302.2 624.1,1299.8 624.9,1301.5 625.7,1298.2 626.5,1299.7 627.3,1300.1 628.1,1299.6 628.9,1300.1 629.7,1301.9 630.5,1298.4 631.3,1297.7 632.1,1299.6 632.9,1296.0 633.0,1296.5 633.3,1297.5 633.6,1298.5 633.7,1298.7 633.9,1299.4 634.2,1300.2 634.5,1300.8 634.5,1300.6 634.8,1299.5 635.1,1298.4 635.3,1297.9 635.4,1297.9 635.7,1298.0 636.0,1297.8 636.1,1297.8 636.3,1296.9 636.6,1295.4 636.9,1293.5 636.9,1293.1 637.2,1289.6 637.5,1283.9 637.7,1280.8 637.8,1276.9 638.1,1274.3 638.4,1278.3 638.5,1278.9 638.7,1282.4 639.0,1283.5 639.3,1283.0 639.3,1282.4 639.6,1281.6 639.9,1283.1 640.1,1283.7 640.2,1286.7 640.5,1291.2 640.8,1294.7 640.9,1295.2 641.1,1296.7 641.4,1298.2 641.7,1299.3 641.7,1299.2 642.0,1298.8 642.3,1298.4 642.5,1298.2 642.6,1298.0 642.9,1297.7 643.2,1297.3 643.3,1297.3 643.5,1298.4 643.8,1299.8 644.1,1300.8 644.1,1300.5 644.4,1299.2 644.7,1298.0 644.9,1297.3 645.0,1297.6 645.3,1298.0 645.6,1298.5 645.7,1298.5 645.9,1299.2 646.5,1300.6 647.3,1298.3 648.1,1299.7 648.9,1299.3 649.7,1297.0 650.5,1298.3 651.3,1298.7 652.1,1298.1 652.9,1301.6 653.7,1299.4 654.5,1298.2 655.3,1296.7 656.1,1298.8 656.9,1302.1 657.7,1298.9 658.5,1301.0 659.3,1300.4 660.1,1298.5 660.9,1297.6 661.7,1300.6 662.5,1296.2 663.3,1300.7 664.1,1297.2 664.9,1301.3 665.7,1298.8 666.5,1299.5 667.3,1301.8 668.1,1297.7 668.9,1299.8 669.7,1299.1 670.5,1300.7 671.3,1301.2 672.1,1300.3 672.9,1300.2 673.7,1299.0 674.5,1301.0 675.3,1299.3 676.1,1300.1 676.9,1300.2 677.7,1297.1 678.5,1297.6 679.3,1300.3 680.1,1299.8 680.9,1302.4 681.7,1295.0 682.5,1300.3 683.3,1302.1 684.1,1300.1 684.9,1301.5 685.7,1300.0 686.5,1299.9 687.3,1301.8 688.1,1297.4 688.9,1295.5 689.7,1301.0 690.5,1300.3 691.3,1300.3 692.1,1300.6 692.9,1301.3 693.7,1299.2 694.5,1301.0 695.3,1300.7 696.1,1297.8 696.9,1299.8 697.7,1300.7 698.5,1298.6 699.3,1302.2 700.1,1299.6 700.9,1301.8 701.7,1303.1 702.5,1297.3 703.3,1297.6 704.1,1301.4 704.9,1299.9 705.7,1301.3 706.5,1303.7 707.3,1299.4 708.1,1302.0 708.9,1299.8 709.7,1299.1 710.5,1301.3 711.3,1300.9 712.1,1302.6 712.9,1301.0 713.7,1302.2 714.5,1301.5 715.3,1297.1 716.1,1299.8 716.9,1299.8 717.7,1302.3 718.5,1298.4 719.3,1300.9 720.1,1299.7 720.9,1296.9 721.7,1300.3 722.5,1301.9 723.3,1299.9 724.1,1302.5 724.9,1301.4 725.7,1301.3 726.5,1299.6 727.3,1300.3 728.1,1301.6 728.9,1300.7 729.7,1298.2 730.5,1300.4 731.3,1301.5 732.1,1303.0 732.9,1302.4 733.7,1298.8 734.5,1302.2 735.3,1297.6 736.1,1299.5 736.9,1299.2 737.7,1303.9 738.5,1302.2 739.3,1301.4 740.1,1299.6 740.9,1303.3 741.7,1300.4 742.5,1301.8 743.3,1303.1 744.1,1300.3 744.9,1302.0 745.7,1297.0 746.5,1302.1 747.3,1297.6 748.1,1301.8 748.9,1301.6 749.7,1301.9 750.5,1305.6 751.3,1296.0 752.1,1301.9 752.9,1300.2 753.7,1302.6 754.5,1301.7 755.3,1301.3 756.1,1300.1 756.9,1299.7 757.7,1301.8 758.5,1298.1 759.3,1303.3 760.1,1300.0 760.9,1302.1 761.7,1298.8 762.5,1302.1 763.3,1300.7 764.1,1302.7 764.9,1303.6 765.7,1300.1 766.5,1301.4 767.3,1301.7 768.1,1304.1 768.9,1298.6 769.7,1302.4 770.5,1301.2 771.3,1298.8 772.1,1300.6 772.9,1299.9 773.7,1303.4 774.5,1299.3 775.3,1303.2 776.1,1300.3 776.9,1302.6 777.7,1297.8 778.5,1299.7 779.3,1301.5 780.1,1299.3 780.9,1298.0 781.7,1301.2 782.5,1302.7 783.3,1301.1 784.1,1300.6 784.9,1301.8 785.7,1300.1 786.5,1302.8 787.3,1303.1 788.1,1298.3 788.9,1302.8 789.7,1302.0 790.5,1301.1 791.3,1301.8 792.1,1303.1 792.9,1304.0 793.7,1303.2 794.5,1299.2 795.3,1302.1 796.1,1295.7 796.9,1300.4 797.7,1299.4 798.5,1299.2 799.3,1294.4 800.1,1297.7 800.9,1295.4 801.5,1291.8 801.7,1290.4 801.8,1289.5 802.1,1286.8 802.4,1283.7 802.5,1282.6 802.7,1281.9 803.0,1280.4 803.3,1278.2 803.6,1272.8 803.9,1265.9 804.1,1260.2 804.2,1257.0 804.5,1245.0 804.8,1228.5 804.9,1221.8 805.1,1206.7 805.4,1177.8 805.7,1141.3 806.0,1102.6 806.3,1071.1 806.5,1061.7 806.6,1059.8 806.9,1069.5 807.2,1090.0 807.3,1096.6 807.5,1109.6 807.8,1122.0 808.1,1129.4 808.4,1140.3 808.7,1160.5 808.9,1177.5 809.0,1186.4 809.3,1211.7 809.6,1232.7 809.7,1238.7 809.9,1247.7 810.2,1258.0 810.5,1265.1 810.8,1271.4 811.1,1276.1 811.3,1278.6 811.4,1280.1 811.7,1284.3 812.0,1288.0 812.1,1289.1 812.3,1289.9 812.6,1291.0 812.9,1291.8 813.2,1293.6 813.5,1295.2 813.7,1296.3 813.8,1295.9 814.1,1294.8 814.4,1293.6 814.5,1293.2 815.3,1296.6 816.1,1299.6 816.9,1298.7 817.7,1296.7 818.5,1299.7 819.3,1296.0 820.1,1298.5 820.9,1301.8 821.7,1302.3 822.5,1301.5 823.3,1302.2 824.1,1297.9 824.9,1299.8 825.7,1303.2 826.5,1305.8 827.3,1302.2 828.1,1299.6 828.9,1299.5 829.7,1303.9 830.5,1303.7 831.3,1299.2 832.1,1301.9 832.9,1304.4 833.7,1304.5 834.5,1300.7 835.3,1301.4 836.1,1302.7 836.9,1299.6 837.7,1298.5 838.5,1300.4 839.3,1304.2 840.1,1303.9 840.9,1302.6 841.7,1299.3 842.5,1297.6 843.3,1299.4 844.1,1301.4 844.9,1303.1 844.9,1302.9 845.2,1301.3 845.5,1299.8 845.7,1298.9 845.8,1299.2 846.1,1299.7 846.4,1300.2 846.5,1300.3 846.7,1298.9 847.0,1297.1 847.3,1295.5 847.3,1295.3 847.6,1294.4 847.9,1293.2 848.1,1292.4 848.2,1292.4 848.5,1291.6 848.8,1289.1 848.9,1288.3 849.1,1281.7 849.4,1270.1 849.7,1258.5 849.7,1257.2 850.0,1254.1 850.3,1263.3 850.5,1269.2 850.6,1273.1 850.9,1277.8 851.2,1277.6 851.3,1277.0 851.5,1276.1 851.8,1274.9 852.1,1278.4 852.1,1278.8 852.4,1283.3 852.7,1287.0 852.9,1288.1 853.0,1290.2 853.3,1293.7 853.6,1296.3 853.7,1296.7 853.9,1296.3 854.2,1295.6 854.5,1294.8 854.5,1294.9 854.8,1295.8 855.1,1296.6 855.3,1297.0 855.4,1297.5 855.7,1298.6 856.0,1299.6 856.1,1299.8 856.2,1299.2 856.3,1298.8 856.5,1297.9 856.6,1297.5 856.8,1296.5 856.9,1296.3 856.9,1296.1 857.1,1295.5 857.2,1295.3 857.4,1294.5 857.5,1294.2 857.7,1293.5 857.7,1293.4 857.8,1293.1 858.0,1292.4 858.3,1291.1 858.5,1290.2 858.6,1288.6 858.9,1284.8 859.2,1279.4 859.3,1278.3 859.5,1272.1 859.8,1260.5 860.1,1245.4 860.1,1241.1 860.4,1209.1 860.7,1166.5 860.9,1144.1 861.0,1127.2 861.3,1119.8 861.6,1148.8 861.7,1155.2 861.9,1182.7 862.2,1203.8 862.5,1209.0 862.5,1208.8 862.8,1201.4 863.1,1192.7 863.3,1193.4 863.4,1200.1 863.7,1223.2 864.0,1246.9 864.1,1250.4 864.3,1264.0 864.6,1275.2 864.9,1281.4 864.9,1282.4 865.2,1286.7 865.5,1289.5 865.7,1290.6 865.8,1292.0 866.1,1294.4 866.4,1296.4 866.5,1296.7 866.7,1296.2 867.0,1295.4 867.3,1294.7 867.3,1294.8 867.6,1295.1 867.9,1295.3 868.1,1295.4 868.2,1296.0 868.5,1297.2 868.8,1298.3 868.9,1298.5 869.1,1299.8 869.7,1302.5 870.5,1301.9 871.3,1301.2 872.1,1300.2 872.9,1301.7 873.7,1304.2 874.5,1301.0 875.3,1301.0 876.1,1303.2 876.9,1303.7 877.7,1302.8 878.5,1305.5 879.3,1303.1 880.1,1300.8 880.9,1298.4 881.7,1305.2 882.5,1302.6 883.3,1303.6 884.1,1303.9 884.9,1305.7 885.7,1305.2 886.5,1305.1 887.3,1303.7 888.1,1302.7 888.9,1303.8 889.7,1301.6 890.5,1304.0 891.3,1305.4 892.1,1304.7 892.9,1303.6 893.7,1301.6 894.5,1301.6 895.3,1301.9 896.1,1302.5 896.9,1304.2 897.7,1304.2 898.5,1304.4 899.3,1305.2 900.1,1301.1 900.9,1302.6 901.7,1303.9 902.5,1304.2 903.3,1301.0 904.1,1300.3 904.9,1303.1 905.7,1300.8 906.5,1298.3 907.3,1294.4 908.1,1290.8 908.9,1291.4 909.7,1292.2 910.5,1293.9 911.3,1296.6 912.1,1297.3 912.9,1301.6 913.7,1299.9 914.5,1302.4 915.3,1302.5 916.1,1299.3 916.9,1300.5 917.7,1302.2 918.5,1303.7 919.3,1304.2 920.1,1306.2 920.9,1303.7 921.7,1303.1 922.5,1304.4 923.3,1301.4 924.1,1303.5 924.9,1301.9 925.7,1304.1 926.5,1302.6 927.3,1303.2 928.1,1307.8 928.9,1306.3 929.7,1309.0 930.5,1304.5 931.3,1303.8 932.1,1302.6 932.9,1304.1 933.7,1300.7 934.5,1304.4 935.3,1303.1 936.1,1301.6 936.9,1300.6 937.7,1302.5 938.5,1303.5 939.3,1304.2 940.1,1301.0 940.9,1304.2 941.7,1304.9 942.5,1308.7 943.3,1305.1 944.1,1306.2 944.9,1303.0 945.7,1304.4 946.5,1303.0 947.3,1302.8 948.1,1305.4 948.9,1304.0 949.7,1307.4 950.5,1304.4 951.3,1305.3 952.1,1302.1 952.9,1302.5 953.7,1305.8 954.5,1303.2 955.3,1307.1 956.1,1302.9 956.9,1302.8 957.7,1308.4 958.5,1301.2 959.3,1303.6 960.1,1305.6 960.9,1305.8 961.7,1302.3 962.5,1308.9 963.3,1303.7 964.1,1300.8 964.9,1306.4 965.7,1303.6 966.5,1304.6 967.3,1306.0 968.1,1302.7 968.9,1303.0 969.7,1304.1 970.5,1305.9 971.3,1301.4 971.9,1305.6 972.1,1306.7 972.2,1306.2 972.5,1305.3 972.8,1304.3 972.9,1304.1 973.1,1303.0 973.4,1301.6 973.7,1300.4 973.7,1300.5 974.0,1300.9 974.3,1301.2 974.5,1301.2 974.6,1301.0 974.9,1300.3 975.2,1299.0 975.3,1298.6 975.5,1296.6 975.8,1292.3 976.1,1285.7 976.1,1284.3 976.4,1271.0 976.7,1256.1 976.9,1251.8 977.0,1252.4 977.3,1264.2 977.6,1277.6 977.7,1279.8 977.9,1285.2 978.2,1287.5 978.5,1285.9 978.5,1285.6 978.8,1281.5 979.1,1276.6 979.3,1276.2 979.4,1276.5 979.7,1281.3 980.0,1286.0 980.1,1286.7 980.3,1292.6 980.6,1298.2 980.9,1302.1 980.9,1302.2 981.2,1302.5 981.5,1302.4 981.7,1302.3 981.8,1303.1 982.1,1304.7 982.4,1306.2 982.5,1306.5 982.7,1305.4 983.0,1304.0 983.3,1302.7 983.3,1302.7 983.6,1302.9 983.9,1303.1 984.1,1303.2 984.2,1303.5 984.5,1303.9 984.8,1304.4 984.9,1304.5 985.7,1306.2 986.5,1305.3 987.3,1306.8 988.1,1304.9 988.9,1306.9 989.7,1310.5 990.5,1307.4 991.3,1306.2 992.1,1302.1 992.9,1306.3 993.7,1307.3 994.5,1304.8 995.3,1307.2 996.1,1300.8 996.9,1303.8 997.7,1303.4 998.5,1306.3 999.3,1303.6 1000.1,1303.4 1000.9,1308.2 1001.7,1302.4 1002.5,1306.3 1003.3,1307.6 1004.1,1304.8 1004.9,1303.6 1005.7,1305.0 1006.5,1304.3 1007.3,1303.9 1008.1,1305.9 1008.9,1305.4 1009.7,1311.8 1010.5,1308.1 1011.3,1305.9 1012.1,1306.7 1012.9,1309.0 1013.7,1308.0 1014.5,1305.8 1015.3,1304.1 1016.1,1309.3 1016.9,1305.7 1017.7,1306.2 1018.5,1308.5 1019.3,1306.2 1020.1,1308.4 1020.9,1305.2 1021.7,1306.2 1022.5,1305.4 1023.3,1310.0 1024.1,1302.9 1024.9,1305.4 1025.7,1303.9 1026.5,1304.2 1027.3,1302.9 1027.3,1303.0 1027.6,1303.2 1027.9,1303.5 1028.1,1303.6 1028.2,1304.3 1028.5,1305.7 1028.8,1307.1 1028.9,1307.3 1029.1,1307.3 1029.4,1307.2 1029.7,1307.0 1029.7,1306.7 1030.0,1304.6 1030.3,1302.2 1030.5,1300.9 1030.6,1300.1 1030.9,1297.8 1031.2,1294.2 1031.3,1293.3 1031.5,1289.0 1031.8,1280.9 1032.1,1273.1 1032.1,1271.9 1032.4,1271.1 1032.7,1280.5 1032.9,1286.1 1033.0,1289.6 1033.3,1294.2 1033.6,1295.5 1033.7,1295.4 1033.9,1293.9 1034.2,1290.0 1034.5,1285.3 1034.5,1285.0 1034.8,1284.8 1035.1,1290.1 1035.3,1293.9 1035.4,1296.1 1035.7,1299.4 1036.0,1301.2 1036.1,1301.4 1036.3,1303.1 1036.6,1304.5 1036.9,1305.5 1036.9,1305.6 1037.2,1305.8 1037.5,1306.0 1037.7,1306.0 1037.8,1305.5 1038.1,1304.4 1038.4,1303.2 1038.5,1303.0 1038.7,1304.6 1039.0,1306.4 1039.3,1308.0 1039.3,1307.9 1039.6,1307.7 1039.9,1307.5 1040.1,1307.4 1040.2,1307.0 1040.9,1304.9 1041.7,1301.8 1042.5,1304.1 1043.3,1304.2 1044.1,1307.9 1044.9,1305.4 1045.7,1305.8 1046.5,1306.8 1047.3,1305.8 1048.1,1307.6 1048.9,1307.4 1049.7,1308.7 1050.5,1304.4 1051.3,1307.6 1052.1,1306.4 1052.9,1311.2 1053.7,1310.0 1054.5,1306.3 1055.3,1309.0 1056.1,1303.6 1056.9,1305.1 1057.7,1306.7 1058.5,1307.8 1059.3,1305.0 1060.1,1307.4 1060.9,1309.8 1061.7,1304.1 1062.5,1304.7 1063.3,1303.6 1064.1,1309.7 1064.9,1305.3 1065.7,1306.7 1066.5,1305.7 1067.3,1307.3 1068.1,1306.9 1068.9,1307.9 1069.7,1307.9 1070.5,1310.8 1071.3,1305.7 1072.1,1308.0 1072.9,1307.5 1073.7,1305.9 1074.5,1309.4 1075.3,1311.4 1076.1,1305.5 1076.9,1312.7 1077.7,1307.5 1078.5,1307.6 1079.3,1302.6 1080.1,1308.0 1080.9,1307.6 1081.7,1307.4 1082.5,1309.3 1083.3,1307.6 1084.1,1308.7 1084.9,1306.7 1085.7,1305.7 1086.5,1308.3 1087.3,1309.2 1088.1,1309.5 1088.9,1308.3 1089.7,1306.7 1090.5,1308.2 1091.3,1307.7 1092.1,1305.7 1092.9,1308.9 1093.7,1307.9 1094.5,1306.1 1095.3,1307.7 1096.1,1309.5 1096.9,1311.4 1097.7,1304.7 1098.5,1307.7 1099.3,1309.5 1100.1,1310.8 1100.9,1309.2 1101.7,1306.4 1102.5,1307.5 1103.3,1308.5 1104.1,1307.0 1104.9,1306.4 1105.7,1306.0 1106.5,1313.7 1107.3,1308.7 1108.1,1308.2 1108.9,1310.1 1109.7,1308.8 1110.5,1308.4 1111.3,1309.2 1112.1,1307.3 1112.9,1308.0 1113.7,1310.7 1114.5,1310.1 1115.3,1306.7 1116.1,1311.9 1116.9,1308.2 1117.7,1305.8 1118.5,1310.4 1119.3,1310.3 1120.1,1309.7 1120.9,1307.1 1121.7,1311.5 1122.5,1310.2 1123.3,1309.9 1124.1,1309.6 1124.9,1310.0 1125.7,1313.7 1126.5,1308.3 1127.3,1309.9 1128.1,1311.6 1128.9,1310.9 1129.7,1307.8 1130.5,1309.2 1131.3,1308.7 1132.1,1306.6 1132.9,1309.1 1133.7,1311.4 1134.5,1310.1 1135.3,1311.8 1136.1,1310.4 1136.9,1308.2 1137.7,1310.7 1138.5,1306.1 1139.3,1312.1 1140.1,1308.9 1140.9,1312.9 1141.7,1306.9 1142.5,1307.7 1143.3,1308.8 1144.1,1309.1 1144.9,1306.5 1145.7,1307.1 1146.5,1310.6 1147.3,1308.1 1148.1,1311.4 1148.9,1313.0 1149.7,1306.8 1150.5,1308.9 1151.3,1313.2 1152.1,1311.9 1152.9,1307.0 1153.7,1310.5 1154.5,1313.1 1155.3,1305.4 1156.1,1310.4 1156.9,1311.8 1157.7,1308.6 1158.5,1308.3 1159.3,1311.0 1160.1,1306.2 1160.9,1310.4 1161.7,1311.5 1162.5,1308.9 1162.8,1307.5 1163.1,1306.1 1163.3,1305.0 1163.4,1305.6 1163.7,1307.6 1164.0,1309.7 1164.1,1310.4 1164.3,1309.4 1164.6,1307.6 1164.9,1305.7 1164.9,1305.6 1165.2,1305.1 1165.5,1304.2 1165.7,1303.2 1165.8,1302.3 1166.1,1298.3 1166.4,1292.4 1166.5,1289.3 1166.7,1284.4 1167.0,1272.2 1167.3,1254.4 1167.3,1253.1 1167.6,1236.5 1167.9,1233.6 1168.1,1244.4 1168.2,1248.9 1168.5,1265.6 1168.8,1277.0 1168.9,1279.8 1169.1,1283.7 1169.4,1286.6 1169.7,1285.4 1169.7,1285.2 1170.0,1279.8 1170.3,1270.9 1170.5,1264.9 1170.6,1264.3 1170.9,1268.7 1171.2,1280.5 1171.3,1285.4 1171.5,1290.8 1171.8,1297.5 1172.1,1301.6 1172.1,1301.9 1172.4,1303.3 1172.7,1303.9 1172.9,1304.0 1173.0,1304.5 1173.3,1306.2 1173.6,1307.7 1173.7,1308.2 1173.9,1308.4 1174.2,1308.5 1174.5,1308.5 1174.5,1308.5 1174.8,1310.1 1175.1,1311.8 1175.3,1312.9 1175.4,1312.4 1175.7,1310.1 1176.1,1307.0 1176.9,1310.1 1177.7,1308.9 1178.5,1313.7 1179.3,1311.0 1180.1,1307.8 1180.9,1311.1 1181.7,1310.0 1182.5,1308.5 1183.3,1311.2 1184.1,1310.7 1184.9,1308.1 1185.7,1309.6 1186.5,1312.9 1187.3,1312.6 1188.1,1310.4 1188.9,1310.0 1189.7,1311.3 1190.5,1310.5 1191.3,1308.3 1192.1,1312.1 1192.9,1309.2 1193.7,1313.8 1194.5,1312.1 1195.3,1312.4 1196.1,1310.3 1196.9,1311.3 1197.7,1309.8 1198.5,1310.3 1199.3,1309.0 1200.1,1314.0 1200.9,1308.9 1201.7,1314.6 1202.5,1312.7 1203.3,1309.4 1204.1,1313.9 1204.9,1312.1 1205.7,1309.7 1206.5,1311.9 1207.3,1310.7 1208.1,1309.9 1208.9,1311.3 1209.7,1312.0 1210.5,1310.8 1211.3,1311.5 1212.1,1313.1 1212.9,1311.3 1213.7,1310.9 1214.5,1309.1 1215.3,1311.5 1216.1,1310.8 1216.9,1311.3 1217.7,1313.3 1218.5,1313.5 1219.3,1311.9 1220.1,1310.7 1220.9,1312.1 1221.7,1312.5 1222.5,1312.4 1223.3,1309.1 1224.1,1312.6 1224.9,1310.0 1225.7,1312.6 1226.5,1312.8 1227.3,1312.3 1228.1,1314.4 1228.9,1312.0 1229.7,1312.6 1230.5,1310.2 1231.0,1311.2 1231.3,1311.7 1231.3,1311.7 1231.6,1311.5 1231.9,1311.4 1232.1,1311.3 1232.2,1311.4 1232.5,1311.5 1232.8,1311.6 1232.9,1311.6 1233.1,1311.4 1233.4,1311.0 1233.7,1310.6 1233.7,1310.4 1234.0,1308.4 1234.3,1306.1 1234.5,1304.8 1234.6,1305.4 1234.9,1306.3 1235.2,1306.2 1235.3,1306.1 1235.5,1303.2 1235.8,1299.7 1236.1,1298.8 1236.1,1298.7 1236.4,1299.3 1236.7,1300.7 1236.9,1301.1 1237.0,1303.0 1237.3,1306.3 1237.6,1308.8 1237.7,1309.2 1237.9,1309.6 1238.2,1309.6 1238.5,1309.1 1238.5,1308.9 1238.8,1307.1 1239.1,1306.0 1239.3,1306.2 1239.4,1306.9 1239.7,1308.8 1240.0,1310.4 1240.1,1310.6 1240.3,1311.0 1240.6,1311.0 1240.9,1310.9 1240.9,1310.9 1241.2,1310.9 1241.5,1310.9 1241.7,1310.8 1241.8,1311.8 1242.1,1313.7 1242.4,1315.6 1242.5,1316.0 1242.7,1315.1 1243.0,1314.1 1243.3,1313.2 1243.3,1313.3 1243.6,1314.3 1243.9,1315.2 1244.1,1315.7 1244.9,1312.4 1245.7,1314.5 1246.5,1314.3 1247.3,1314.3 1248.1,1310.3 1248.9,1317.5 1249.7,1313.4 1250.5,1312.2 1251.3,1313.5 1252.1,1309.4 1252.9,1315.7 1253.7,1312.2 1254.5,1313.5 1255.3,1313.3 1256.1,1309.5 1256.9,1312.3 1257.7,1315.5 1258.5,1311.4 1259.3,1313.4 1260.1,1314.9 1260.9,1316.0 1261.7,1311.1 1262.5,1314.7 1263.3,1313.8 1264.1,1313.2 1264.9,1313.7 1264.9,1313.6 1265.2,1313.2 1265.5,1312.8 1265.7,1312.5 1265.8,1311.7 1266.1,1310.0 1266.4,1308.2 1266.5,1307.9 1266.7,1308.2 1267.0,1308.5 1267.3,1308.5 1267.3,1308.2 1267.6,1305.8 1267.9,1302.8 1268.1,1300.9 1268.2,1299.4 1268.5,1294.6 1268.8,1286.1 1268.9,1284.2 1269.1,1271.0 1269.4,1249.1 1269.7,1229.5 1269.7,1226.7 1270.0,1223.3 1270.3,1242.4 1270.5,1254.6 1270.6,1265.1 1270.9,1280.8 1271.2,1290.0 1271.3,1291.0 1271.5,1294.2 1271.8,1294.7 1272.1,1292.4 1272.1,1291.6 1272.4,1284.2 1272.7,1273.3 1272.9,1267.7 1273.0,1264.6 1273.3,1267.4 1273.6,1279.4 1273.7,1281.6 1273.9,1289.8 1274.2,1296.6 1274.5,1299.9 1274.5,1300.6 1274.8,1303.8 1275.1,1305.9 1275.3,1306.7 1275.4,1307.0 1275.7,1307.3 1276.0,1307.4 1276.1,1307.3 1276.3,1309.4 1276.6,1311.7 1276.9,1313.5 1276.9,1313.4 1277.2,1312.7 1277.5,1311.9 1277.7,1311.5 1277.8,1312.1 1278.5,1314.7 1279.3,1315.5 1280.1,1315.5 1280.9,1312.8 1281.7,1316.6 1282.5,1316.2 1283.3,1311.5 1284.1,1314.8 1284.9,1312.5 1285.7,1313.9 1286.5,1316.7 1287.3,1314.9 1288.1,1317.5 1288.9,1315.7 1289.7,1315.9 1290.5,1317.8 1291.3,1317.0 1292.1,1316.2 1292.9,1317.4 1293.7,1317.1 1294.5,1312.0 1295.3,1312.7 1296.1,1315.0 1296.9,1317.0 1297.7,1313.4 1298.5,1311.6 1299.3,1314.8 1300.1,1313.8 1300.9,1317.9 1301.7,1310.3 1302.5,1316.6 1303.3,1316.3 1304.1,1309.7 1304.9,1313.1 1305.7,1314.6 1306.5,1315.9 1307.3,1315.2 1308.1,1316.4 1308.9,1315.6 1309.7,1313.6 1310.5,1318.6 1311.3,1315.8 1312.1,1313.6 1312.9,1316.3 1313.7,1315.1 1314.5,1314.5 1315.3,1314.1 1316.1,1312.4 1316.9,1313.7 1317.7,1312.9 1318.5,1311.5 1319.3,1316.5 1320.1,1316.1 1320.9,1315.1 1321.7,1313.3 1322.5,1314.0 1323.3,1318.7 1324.1,1313.9 1324.9,1317.3 1325.7,1316.3 1326.5,1316.7 1327.3,1314.7 1328.1,1315.2 1328.9,1315.6 1329.7,1313.5 1330.5,1318.4 1331.3,1314.1 1332.1,1316.1 1332.9,1319.2 1333.7,1318.7 1334.5,1314.5 1335.3,1316.7 1336.1,1317.7 1336.9,1311.7 1337.7,1319.6 1338.5,1316.5 1339.3,1314.7 1340.1,1314.8 1340.3,1313.6 1340.6,1311.9 1340.9,1310.1 1340.9,1310.2 1341.2,1312.2 1341.5,1314.2 1341.7,1315.4 1341.8,1315.5 1342.1,1315.7 1342.4,1315.9 1342.5,1315.9 1342.7,1314.5 1343.0,1312.2 1343.3,1309.6 1343.3,1309.6 1343.6,1309.0 1343.9,1307.6 1344.1,1306.1 1344.2,1304.3 1344.5,1298.7 1344.8,1292.4 1344.9,1290.7 1345.1,1286.7 1345.4,1284.3 1345.7,1285.9 1345.7,1286.1 1346.0,1292.6 1346.3,1298.8 1346.5,1302.1 1346.6,1302.6 1346.9,1302.9 1347.2,1302.0 1347.3,1301.5 1347.5,1301.4 1347.8,1300.4 1348.1,1298.7 1348.1,1298.7 1348.4,1298.5 1348.7,1299.4 1348.9,1301.0 1349.0,1301.6 1349.3,1304.1 1349.6,1307.0 1349.7,1307.8 1349.9,1309.2 1350.2,1310.6 1350.5,1311.5 1350.5,1311.6 1350.8,1312.6 1351.1,1313.3 1351.3,1313.6 1351.4,1313.4 1351.7,1312.7 1352.0,1312.0 1352.1,1311.7 1352.3,1313.2 1352.6,1315.3 1352.9,1317.3 1352.9,1317.3 1353.2,1316.7 1353.7,1315.6 1354.5,1315.5 1355.3,1323.2 1356.1,1316.7 1356.9,1316.2 1357.7,1320.4 1358.5,1317.1 1359.3,1315.6 1360.1,1319.7 1360.9,1316.4 1361.7,1315.1 1362.5,1316.1 1363.3,1316.9 1364.1,1318.7 1364.9,1319.5 1365.7,1314.5 1366.5,1319.5 1367.3,1315.8 1368.1,1316.1 1368.9,1311.8 1369.7,1320.4 1370.5,1318.3 1371.3,1316.7 1372.1,1316.8 1372.9,1319.2 1373.7,1317.3 1374.5,1311.3 1375.3,1317.9 1376.1,1317.3 1376.9,1317.6 1377.7,1317.5 1378.5,1319.1 1379.3,1316.0 1380.1,1322.1 1380.9,1317.8 1381.7,1316.0 1382.5,1317.7 1383.3,1314.1 1384.1,1317.3 1384.9,1316.1 1385.7,1315.6 1386.5,1319.3 1387.3,1318.3 1388.1,1315.7 1388.9,1316.5 1389.7,1318.4 1390.5,1322.4 1391.3,1317.5 1392.1,1317.5 1392.9,1318.8 1393.7,1315.3 1394.5,1317.7 1395.3,1319.3 1396.1,1318.7 1396.9,1318.6 1397.7,1315.5 1398.5,1318.1 1399.3,1320.9 1400.1,1323.4 1400.9,1320.1 1401.7,1317.0 1402.5,1317.2 1403.3,1317.8 1404.1,1322.5 1404.9,1315.5 1405.7,1317.8 1406.5,1314.9 1407.3,1317.4 1408.1,1317.7 1408.9,1320.2 1409.7,1320.0 1410.5,1318.8 1411.3,1317.8 1412.1,1317.6 1412.9,1321.7 1413.7,1318.2 1414.5,1316.2 1415.3,1317.0 1416.1,1318.6 1416.9,1316.9 1417.7,1315.4 1418.5,1320.5 1419.3,1317.2 1420.1,1318.3 1420.9,1318.8 1421.7,1318.1 1422.5,1318.3 1423.3,1313.5 1424.1,1318.8 1424.9,1318.2 1425.7,1317.9 1426.5,1318.6 1427.3,1323.2 1428.1,1322.1 1428.9,1320.3 1429.7,1322.0 1430.5,1318.0 1431.3,1318.8 1432.1,1319.8 1432.9,1320.7 1433.7,1320.6 1434.5,1322.7 1435.3,1318.7 1436.1,1321.7 1436.9,1317.8 1437.7,1320.1 1438.5,1317.1 1439.3,1321.6 1440.1,1318.0 1440.9,1321.7 1441.7,1315.2 1442.5,1322.8 1443.3,1319.1 1444.1,1320.0 1444.9,1319.7 1445.7,1315.7 1446.5,1317.8 1447.3,1317.7 1448.1,1318.7 1448.9,1315.6 1449.7,1317.2 1450.0,1317.7 1450.3,1318.2 1450.5,1318.4 1450.6,1318.7 1450.9,1319.3 1451.2,1319.9 1451.3,1320.0 1451.5,1319.6 1451.8,1318.9 1452.1,1318.2 1452.1,1318.1 1452.4,1316.0 1452.7,1313.8 1452.9,1312.3 1453.0,1312.4 1453.3,1312.1 1453.6,1310.7 1453.7,1310.0 1453.9,1306.3 1454.2,1297.9 1454.5,1285.6 1454.5,1284.5 1454.8,1268.4 1455.1,1264.3 1455.3,1270.7 1455.4,1276.6 1455.7,1290.9 1456.0,1300.3 1456.1,1302.0 1456.3,1305.7 1456.6,1308.4 1456.9,1309.4 1456.9,1309.5 1457.2,1310.2 1457.5,1309.8 1457.7,1308.8 1457.8,1308.3 1458.1,1305.3 1458.4,1299.7 1458.5,1298.0 1458.7,1292.0 1459.0,1291.2 1459.3,1296.5 1459.3,1297.0 1459.6,1303.1 1459.9,1306.8 1460.1,1308.0 1460.2,1309.9 1460.5,1314.1 1460.8,1317.7 1460.9,1318.6 1461.1,1318.2 1461.4,1317.5 1461.7,1316.7 1461.7,1316.7 1462.0,1317.5 1462.3,1318.1 1462.5,1318.5 1462.6,1318.5 1462.9,1318.3 1463.3,1318.2 1464.1,1321.4 1464.9,1318.6 1465.7,1318.0 1466.5,1318.0 1467.3,1323.2 1468.1,1322.8 1468.9,1319.1 1469.7,1318.9 1470.5,1319.7 1471.3,1321.1 1472.1,1318.3 1472.9,1323.1 1473.7,1320.6 1474.5,1314.7 1475.3,1317.9 1476.1,1319.5 1476.9,1324.9 1477.7,1323.3 1478.5,1320.5 1479.3,1317.7 1480.1,1319.9 1480.9,1320.0 1481.7,1319.0 1482.5,1320.1 1483.3,1321.1 1484.1,1318.5 1484.4,1317.9 1484.7,1317.3 1484.9,1316.8 1485.0,1317.0 1485.3,1317.8 1485.6,1318.6 1485.7,1318.9 1485.9,1317.9 1486.2,1316.3 1486.5,1314.5 1486.5,1314.4 1486.8,1314.6 1487.1,1314.6 1487.3,1314.4 1487.4,1314.3 1487.7,1313.7 1488.0,1312.0 1488.1,1310.7 1488.3,1306.7 1488.6,1297.0 1488.9,1282.2 1488.9,1281.1 1489.2,1265.7 1489.5,1261.6 1489.7,1269.7 1489.8,1274.2 1490.1,1290.1 1490.4,1301.3 1490.5,1304.4 1490.7,1307.4 1491.0,1310.4 1491.3,1311.7 1491.3,1311.8 1491.6,1312.5 1491.9,1312.3 1492.1,1311.4 1492.2,1310.9 1492.5,1307.8 1492.8,1302.2 1492.9,1299.4 1493.1,1294.2 1493.4,1290.6 1493.7,1295.7 1493.7,1296.1 1494.0,1303.0 1494.3,1308.1 1494.5,1310.4 1494.6,1311.7 1494.9,1315.8 1495.2,1319.1 1495.3,1320.3 1495.5,1319.7 1495.8,1318.4 1496.1,1316.9 1496.1,1316.8 1496.4,1318.1 1496.7,1319.5 1496.9,1320.4 1497.0,1320.4 1497.3,1320.4 1497.7,1320.4 1498.5,1319.1 1499.3,1321.1 1500.1,1320.8 1500.9,1320.6 1501.7,1321.8 1502.5,1318.9 1503.3,1322.3 1504.1,1318.7 1504.9,1322.5 1505.7,1323.2 1506.5,1319.0 1507.3,1324.6 1508.1,1319.3 1508.9,1320.5 1509.7,1319.0 1510.5,1320.1 1511.3,1320.8 1512.1,1319.5 1512.9,1322.7 1513.7,1319.2 1514.5,1321.4 1515.3,1318.6 1516.1,1318.9 1516.9,1321.0 1517.7,1321.4 1518.5,1320.1 1519.3,1321.5 1520.1,1321.8 1520.9,1319.5 1521.7,1321.0 1522.5,1319.2 1523.3,1318.3 1524.1,1319.7 1524.9,1320.5 1525.7,1323.3 1526.5,1322.0 1527.3,1321.2 1528.1,1316.7 1528.9,1319.2 1529.7,1322.1 1530.5,1322.3 1531.3,1321.1 1532.1,1318.7 1532.9,1317.2 1533.7,1317.8 1534.5,1321.5 1535.3,1321.9 1536.1,1324.8 1536.9,1319.8 1537.7,1321.8 1538.5,1319.6 1539.3,1320.7 1540.1,1321.3 1540.2,1321.1 1540.5,1320.6 1540.8,1320.1 1540.9,1320.0 1541.1,1321.1 1541.4,1322.5 1541.7,1323.8 1541.7,1323.6 1542.0,1321.6 1542.3,1319.6 1542.5,1318.5 1542.6,1319.0 1542.9,1320.3 1543.2,1321.4 1543.3,1321.7 1543.5,1320.7 1543.8,1319.3 1544.1,1317.7 1544.1,1317.5 1544.4,1315.5 1544.7,1312.9 1544.9,1311.3 1545.0,1310.9 1545.3,1311.5 1545.6,1314.7 1545.7,1315.5 1545.9,1316.5 1546.2,1317.3 1546.5,1317.3 1546.5,1317.5 1546.8,1318.9 1547.1,1319.9 1547.3,1320.4 1547.4,1320.4 1547.7,1320.1 1548.0,1319.7 1548.1,1319.5 1548.3,1319.5 1548.6,1319.2 1548.9,1318.6 1548.9,1318.4 1549.2,1315.9 1549.5,1314.6 1549.7,1314.4 1549.8,1315.5 1550.1,1317.9 1550.4,1319.9 1550.5,1320.3 1550.7,1320.9 1551.0,1321.4 1551.3,1321.8 1551.3,1321.7 1551.6,1321.0 1551.9,1320.3 1552.1,1319.8 1552.2,1319.7 1552.5,1319.5 1552.8,1319.3 1552.9,1319.3 1553.1,1319.3 1553.7,1319.3 1554.5,1321.4 1555.3,1319.9 1556.1,1322.6 1556.9,1321.3 1557.7,1321.1 1558.5,1321.5 1559.3,1321.7 1560.1,1321.8 1560.9,1322.8 1561.7,1324.0 1562.5,1322.5 1563.3,1322.7 1564.1,1324.7 1564.9,1324.8 1565.7,1321.9 1566.5,1319.7 1567.3,1324.2 1568.1,1320.2 1568.9,1320.3 1569.7,1320.2 1570.5,1321.1 1571.3,1317.2 1572.1,1320.8 1572.9,1324.1 1573.7,1327.0 1574.5,1322.8 1575.3,1323.4 1576.1,1323.6 1576.9,1320.6 1577.7,1319.8 1577.9,1320.5 1578.2,1321.5 1578.5,1322.4 1578.5,1322.4 1578.8,1322.9 1579.1,1323.4 1579.3,1323.7 1579.4,1323.4 1579.7,1322.6 1580.0,1321.7 1580.1,1321.4 1580.3,1321.4 1580.6,1321.3 1580.9,1321.1 1580.9,1321.0 1581.2,1320.1 1581.5,1318.9 1581.7,1317.8 1581.8,1317.1 1582.1,1314.5 1582.4,1311.0 1582.5,1309.8 1582.7,1307.3 1583.0,1306.3 1583.3,1308.8 1583.3,1308.9 1583.6,1313.8 1583.9,1317.7 1584.1,1319.7 1584.2,1320.2 1584.5,1321.1 1584.8,1321.5 1584.9,1321.5 1585.1,1321.2 1585.4,1320.5 1585.7,1319.6 1585.7,1319.6 1586.0,1319.3 1586.3,1318.6 1586.5,1317.9 1586.6,1317.4 1586.9,1315.9 1587.2,1315.5 1587.3,1315.7 1587.5,1317.0 1587.8,1319.3 1588.1,1321.2 1588.1,1321.2 1588.4,1322.9 1588.7,1324.2 1588.9,1324.9 1589.0,1324.9 1589.3,1325.1 1589.6,1325.1 1589.7,1325.1 1589.9,1324.3 1590.2,1323.1 1590.5,1321.9 1590.5,1321.9 1590.8,1322.2 1591.3,1322.5 1592.1,1321.6 1592.9,1323.8 1593.7,1324.5 1594.5,1319.1 1595.3,1322.6 1596.1,1325.2 1596.9,1319.5 1597.7,1325.4 1598.5,1324.7 1599.3,1321.4 1600.1,1320.4 1600.9,1325.9 1601.7,1321.7 1602.5,1319.9 1603.3,1322.5 1604.1,1319.6 1604.9,1320.3 1605.7,1325.8 1606.5,1321.3 1607.3,1321.7 1608.1,1318.5 1608.9,1319.8 1609.7,1323.1 1610.5,1321.3 1611.3,1321.9 1612.1,1320.9 1612.9,1318.8 1613.7,1317.2 1614.5,1313.9 1615.3,1320.8 1616.1,1319.2 1616.9,1324.4 1617.7,1319.4 1618.5,1319.9 1619.3,1319.7 1620.1,1318.8 1620.9,1321.7 1621.7,1322.7 1622.5,1322.8 1623.3,1322.0 1624.1,1321.2 1624.9,1325.1 1625.7,1324.9 1626.5,1321.8 1627.3,1320.6 1628.1,1321.9 1628.9,1321.9 1629.7,1325.4 1630.5,1321.7 1631.3,1324.2 1632.1,1321.5 1632.9,1323.3 1633.7,1328.9 1634.5,1322.3 1635.3,1324.6 1636.1,1322.8 1636.9,1326.1 1637.7,1324.6 1638.5,1324.0 1639.3,1326.9 1640.1,1325.7 1640.9,1325.4 1641.7,1321.8 1642.5,1322.4 1643.3,1327.1 1644.1,1321.9 1644.9,1327.5 1645.7,1327.5 1646.5,1323.9 1647.3,1322.6 1648.1,1321.9 1648.9,1325.9 1649.7,1325.5 1650.5,1322.8 1651.3,1322.3 1652.1,1325.4 1652.9,1323.2 1653.7,1324.4 1654.5,1321.4 1655.3,1325.3 1656.1,1324.8 1656.9,1323.6 1657.7,1322.2 1658.5,1324.4 1659.3,1325.2 1660.1,1325.3 1660.8,1324.7 1660.9,1324.6 1661.1,1324.1 1661.4,1323.4 1661.7,1322.7 1662.0,1323.7 1662.3,1324.6 1662.5,1325.2 1662.6,1325.3 1662.9,1325.4 1663.2,1325.5 1663.3,1325.5 1663.5,1324.4 1663.8,1322.5 1664.1,1320.4 1664.4,1318.6 1664.7,1316.2 1664.9,1314.2 1665.0,1313.9 1665.3,1312.7 1665.6,1311.9 1665.7,1312.1 1665.9,1311.4 1666.2,1312.6 1666.5,1314.9 1666.8,1316.2 1667.1,1316.7 1667.3,1316.7 1667.4,1317.8 1667.7,1320.7 1668.0,1323.2 1668.1,1324.0 1668.3,1323.7 1668.6,1323.2 1668.9,1322.4 1669.2,1321.0 1669.5,1319.3 1669.7,1317.9 1669.8,1317.6 1670.1,1316.8 1670.4,1316.8 1670.5,1317.2 1670.7,1317.3 1671.0,1318.1 1671.3,1318.8 1671.6,1320.2 1671.9,1321.2 1672.1,1321.7 1672.2,1321.7 1672.5,1321.5 1672.8,1321.2 1672.9,1321.1 1673.1,1322.6 1673.4,1324.8 1673.7,1327.1 1674.5,1323.9 1675.3,1325.5 1676.1,1325.9 1676.9,1320.1 1677.7,1325.7 1678.5,1323.1 1679.3,1327.9 1680.1,1323.1 1680.9,1327.2 1681.7,1328.9 1682.5,1326.1 1683.3,1327.7 1684.1,1328.4 1684.9,1326.2 1685.7,1325.4 1686.5,1323.0 1687.3,1329.6 1688.1,1328.0 1688.9,1327.3 1689.7,1322.7 1690.5,1328.3 1691.3,1325.4 1692.1,1326.5 1692.9,1326.9 1693.7,1328.5 1694.5,1325.7 1695.3,1325.0 1696.1,1327.6 1696.9,1327.0 1697.7,1325.3 1698.5,1330.7 1699.3,1328.9 1700.1,1323.5 1700.9,1322.2 1701.7,1322.9 1702.5,1325.8 1703.3,1327.6 1704.1,1330.2 1704.9,1327.1 1705.7,1325.5 1706.5,1327.2 1707.3,1327.0 1708.1,1325.1 1708.9,1327.3 1709.7,1323.3 1710.5,1326.3 1711.3,1328.0 1712.1,1326.7 1712.9,1328.2 1713.7,1329.3 1714.5,1328.4 1715.3,1328.6 1716.1,1328.6 1716.9,1327.0 1717.7,1329.4 1718.5,1328.0 1719.3,1325.5 1720.1,1329.4 1720.9,1327.5 1721.7,1321.4 1722.5,1331.0 1723.3,1327.8 1724.1,1326.2 1724.9,1329.3 1725.7,1328.6 1726.5,1328.3 1727.3,1331.3 1728.1,1330.2 1728.9,1327.4 1729.7,1326.6 1730.5,1325.5 1731.3,1328.9 1732.1,1328.3 1732.9,1330.2 1733.7,1328.5 1734.5,1329.5 1735.3,1330.7 1736.1,1327.0 1736.9,1326.1 1737.7,1327.8 1738.5,1325.1 1739.3,1326.9 1740.1,1326.0 1740.9,1328.1 1741.7,1322.7 1742.5,1323.5 1743.3,1319.1 1744.1,1320.5 1744.9,1321.4 1745.7,1323.6 1746.5,1323.1 1747.3,1321.8 1748.1,1321.3 1748.9,1326.1 1749.7,1325.9 1750.5,1329.9 1751.3,1330.5 1752.1,1326.0 1752.9,1332.1 1753.7,1327.6 1754.5,1325.5 1755.3,1326.4 1756.1,1327.7 1756.9,1324.0 1757.7,1329.8 1758.5,1328.2 1759.3,1330.2 1760.1,1329.7 1760.9,1329.6 1761.7,1330.5 1762.5,1330.1 1763.3,1326.4 1764.1,1332.3 1764.9,1328.3 1765.7,1329.3 1766.5,1330.7 1767.3,1327.9 1768.1,1328.3 1768.9,1325.8 1769.7,1330.7 1770.5,1330.7 1771.3,1328.6 1772.1,1327.9 1772.9,1324.2 1773.7,1330.3 1774.5,1327.6 1775.3,1328.5 1776.1,1328.7 1776.9,1328.7 1777.7,1329.7 1778.5,1330.7 1779.3,1329.8 1780.1,1327.3 1780.9,1329.4 1781.7,1329.3 1782.5,1327.7 1783.3,1329.1 1784.1,1331.3 1784.9,1331.1 1785.7,1330.6 1786.5,1330.8 1787.3,1325.9 1788.1,1330.0 1788.9,1332.5 1789.7,1328.8 1790.5,1328.6 1791.3,1327.4 1792.1,1328.9 1792.9,1327.4 1793.7,1324.6 1794.5,1325.8 1795.3,1325.2 1796.1,1326.2 1796.9,1327.0 1797.7,1325.4 1798.5,1328.0 1799.3,1327.2 1800.1,1327.2 1800.9,1326.9 1801.7,1328.4 1802.5,1327.6 1803.3,1327.2 1804.1,1331.9 1804.9,1327.6 1805.7,1330.6 1806.5,1331.7 1807.3,1330.7 1808.1,1329.8 1808.9,1330.1 1809.7,1327.5 1810.5,1331.1 1811.3,1328.8 1812.1,1330.3 1812.9,1328.9 1813.7,1332.3 1814.5,1329.9 1815.3,1330.6 1816.1,1333.5 1816.9,1328.9 1817.7,1330.3 1818.5,1326.6 1819.3,1330.2 1820.1,1330.0 1820.9,1329.6 1821.7,1332.2 1822.5,1333.8 1823.3,1332.5 1824.1,1332.4 1824.9,1333.0 1825.7,1329.9 1826.5,1329.6 1827.3,1331.7 1828.1,1334.5 1828.9,1330.1 1829.7,1328.4 1830.5,1331.4 1831.3,1333.2 1832.1,1332.6 1832.9,1332.2 1833.7,1331.2 1834.5,1332.9 1835.3,1330.7 1836.1,1333.8 1836.9,1334.1 1837.7,1333.1 1838.5,1335.4 1839.3,1336.3 1840.1,1330.1 1840.9,1331.3 1841.7,1329.9 1842.5,1328.5 1843.3,1329.6 1844.1,1331.4 1844.9,1332.7 1845.7,1332.6 1846.5,1326.8 1847.3,1331.6 1848.1,1329.5 1848.9,1333.0 1849.7,1330.1 1850.5,1333.6 1851.3,1335.1 1852.1,1335.4 1852.9,1331.3 1853.7,1332.1 1854.5,1331.0 1855.3,1331.4 1856.1,1334.7 1856.9,1327.4 1857.7,1329.0 1858.5,1329.1 1859.3,1326.3 1860.1,1323.1 1860.9,1326.5 1861.7,1325.2 1862.5,1326.2 1863.3,1325.7 1864.1,1328.6 1864.9,1330.4 1865.7,1327.8 1866.5,1330.4 1867.3,1328.4 1868.1,1328.5 1868.9,1331.1 1869.7,1329.8 1870.5,1329.0 1871.3,1333.2 1872.1,1334.2 1872.9,1335.6 1873.7,1328.7 1874.5,1334.4 1875.3,1333.8 1876.1,1332.9 1876.9,1333.6 1877.7,1334.1 1878.5,1333.8 1879.3,1333.9 1880.1,1332.3 1880.9,1336.3 1881.7,1332.9 1882.5,1335.1 1883.3,1332.3 1884.1,1332.9 1884.9,1332.8 1885.7,1333.5 1886.5,1335.8 1887.3,1330.2 1888.1,1335.6 1888.9,1331.8 1889.7,1337.4 1890.5,1331.4 1891.3,1333.6 1892.1,1334.6 1892.9,1330.2 1893.7,1333.4 1894.5,1333.5 1895.3,1334.2 1896.1,1333.1 1896.9,1331.4 1897.7,1329.8 1898.5,1332.4 1899.3,1332.7 1900.1,1332.8 1900.9,1335.2 1901.7,1333.7 1902.5,1330.1 1903.3,1331.8 1904.1,1335.7 1904.9,1334.6 1905.7,1333.4 1906.5,1332.0 1907.3,1334.1 1908.1,1329.6 1908.9,1328.6 1909.7,1331.1 1910.5,1324.8 1911.3,1331.0 1912.1,1328.8 1912.9,1331.3 1913.7,1330.2 1914.5,1327.5 1915.3,1331.8 1916.1,1329.8 1916.9,1331.4 1917.7,1333.1 1918.5,1333.3 1919.3,1333.8 1920.1,1335.2 1920.9,1331.4 1921.7,1338.5 1922.5,1331.5 1923.3,1334.2 1924.1,1334.7 1924.9,1333.8 1925.7,1336.3 1926.5,1333.9 1927.3,1335.1 1928.1,1340.3 1928.9,1334.2 1929.7,1339.8 1930.5,1332.4 1931.3,1336.4 1932.1,1335.7 1932.9,1336.7 1933.7,1330.8 1934.5,1331.3 1935.3,1336.8 1936.1,1337.2 1936.9,1336.9 1937.7,1334.6 1938.5,1336.6 1939.3,1336.5 1940.1,1334.5 1940.9,1339.5 1941.7,1335.7 1942.5,1334.8 1943.3,1336.6 1944.1,1335.1 1944.9,1336.4 1945.7,1334.1 1946.5,1334.2 1947.3,1334.9 1948.1,1338.0 1948.9,1335.4 1949.4,1337.6 1949.7,1338.9 1949.7,1339.0 1950.0,1338.9 1950.3,1338.7 1950.5,1338.6 1950.6,1338.2 1950.9,1336.6 1951.2,1335.0 1951.3,1334.3 1951.5,1334.3 1951.8,1334.1 1952.1,1333.9 1952.1,1333.9 1952.4,1334.6 1952.7,1335.2 1952.9,1335.4 1953.0,1334.8 1953.3,1332.2 1953.6,1329.0 1953.7,1327.6 1953.9,1326.1 1954.2,1323.9 1954.5,1323.5 1954.5,1323.5 1954.8,1326.7 1955.1,1330.8 1955.3,1333.7 1955.4,1334.1 1955.7,1335.4 1956.0,1336.2 1956.1,1336.4 1956.3,1336.4 1956.6,1336.4 1956.9,1336.2 1956.9,1336.2 1957.2,1334.7 1957.5,1333.0 1957.7,1331.7 1957.8,1332.1 1958.1,1333.5 1958.4,1334.7 1958.5,1335.2 1958.7,1334.1 1959.0,1332.1 1959.3,1329.8 1959.3,1329.7 1959.6,1329.9 1959.9,1330.2 1960.1,1330.9 1960.2,1330.9 1960.5,1331.7 1960.8,1333.1 1960.9,1333.6 1961.1,1335.0 1961.4,1337.0 1961.7,1338.8 1961.7,1338.9 1962.0,1337.1 1962.3,1335.1 1962.5,1333.5 1963.3,1336.8 1964.1,1337.4 1964.9,1337.7 1965.7,1338.0 1966.5,1339.4 1967.3,1338.2 1968.1,1336.4 1968.9,1336.8 1969.7,1339.5 1970.5,1336.7 1971.3,1333.5 1972.1,1334.3 1972.9,1335.1 1973.7,1335.0 1974.5,1338.1 1975.3,1338.0 1976.1,1334.2 1976.9,1335.7 1977.7,1338.6 1978.5,1338.6 1979.3,1337.6 1980.1,1342.2 1980.9,1336.2 1981.7,1340.2 1982.5,1338.5 1983.3,1333.8 1984.1,1335.8 1984.9,1338.2 1985.7,1336.5 1986.5,1337.3 1987.3,1337.8 1988.1,1338.8 1988.9,1337.5 1989.7,1339.5 1990.5,1337.8 1991.3,1336.2 1992.1,1337.4 1992.9,1335.8 1993.7,1339.9 1994.5,1335.4 1995.3,1337.3 1996.1,1337.6 1996.9,1339.5 1997.7,1341.4 1998.5,1336.2 1999.3,1337.9 2000.1,1337.6 2000.9,1337.1 2001.7,1335.3 2002.5,1338.9 2003.3,1334.9 2004.1,1341.7 2004.9,1340.5 2005.7,1341.0 2006.5,1342.6 2007.3,1338.7 2008.1,1337.5 2008.9,1335.2 2009.7,1341.3 2010.5,1340.7 2011.3,1338.1 2012.1,1336.9 2012.9,1339.8 2013.7,1339.7 2014.5,1336.8 2015.3,1342.2 2016.1,1338.1 2016.9,1340.5 2017.7,1335.6 2018.5,1337.1 2019.3,1339.6 2020.1,1337.2 2020.9,1342.9 2021.7,1335.4 2022.5,1338.4 2023.3,1335.7 2024.1,1338.6 2024.9,1342.0 2025.7,1340.0 2026.5,1339.1 2027.3,1342.0 2028.1,1336.3 2028.9,1336.9 2029.6,1336.2 2029.7,1336.1 2029.9,1337.5 2030.2,1339.5 2030.5,1341.4 2030.5,1341.4 2030.8,1339.2 2031.1,1337.0 2031.3,1335.6 2031.4,1336.4 2031.7,1338.6 2032.0,1340.6 2032.1,1341.2 2032.3,1339.9 2032.6,1337.9 2032.9,1335.7 2032.9,1335.7 2033.2,1335.1 2033.5,1333.9 2033.7,1332.9 2033.8,1332.0 2034.1,1329.3 2034.4,1326.9 2034.5,1326.5 2034.7,1327.2 2035.0,1329.9 2035.3,1333.3 2035.3,1333.3 2035.6,1334.6 2035.9,1335.3 2036.1,1335.5 2036.2,1335.9 2036.5,1336.8 2036.8,1337.5 2036.9,1337.6 2037.1,1337.8 2037.4,1338.0 2037.7,1338.2 2037.7,1338.2 2038.0,1338.3 2038.3,1338.5 2038.5,1338.5 2038.6,1338.2 2038.9,1337.5 2039.2,1336.5 2039.3,1336.2 2039.5,1336.3 2039.8,1336.1 2040.1,1335.7 2040.1,1335.6 2040.4,1333.5 2040.7,1332.0 2040.9,1331.7 2041.0,1332.4 2041.3,1334.8 2041.6,1337.4 2041.7,1338.1 2041.9,1338.2 2042.2,1338.2 2042.5,1337.9 2042.5,1337.9 2043.3,1342.4 2044.1,1337.1 2044.9,1340.4 2045.7,1339.9 2046.5,1343.9 2047.3,1341.4 2048.1,1340.0 2048.9,1340.1 2049.7,1339.1 2050.5,1344.7 2051.3,1344.9 2052.1,1340.4 2052.9,1339.1 2053.7,1341.5 2054.5,1342.2 2055.3,1338.8 2056.1,1339.9 2056.9,1339.7 2057.7,1340.2 2058.5,1341.8 2059.3,1338.7 2060.1,1337.1 2060.9,1345.0 2061.7,1340.1 2062.5,1341.8 2063.3,1339.9 2064.1,1341.2 2064.9,1341.5" fill="none" stroke="#800080" stroke-width="1.9" stroke-linejoin="miter"/>
</g>
<path d="M177.29999999999998 29.55H2066.9V1425.8500000000001" fill="none" stroke="#000" stroke-width="8.3"/>
<g font-family="'Liberation Serif', serif" font-weight="bold" fill="#000">
<text x="292.5" y="1507.5" font-size="73.5" text-anchor="middle">10</text>
<text x="514.1" y="1507.5" font-size="73.5" text-anchor="middle">20</text>
<text x="735.8" y="1507.5" font-size="73.5" text-anchor="middle">30</text>
<text x="957.4" y="1507.5" font-size="73.5" text-anchor="middle">40</text>
<text x="1179.1" y="1507.5" font-size="73.5" text-anchor="middle">50</text>
<text x="1400.7" y="1507.5" font-size="73.5" text-anchor="middle">60</text>
<text x="1622.3" y="1507.5" font-size="73.5" text-anchor="middle">70</text>
<text x="1844.0" y="1507.5" font-size="73.5" text-anchor="middle">80</text>
<text x="2065.6" y="1507.5" font-size="73.5" text-anchor="middle">90</text>
<text x="1125.1" y="1642.4" font-size="88.4" letter-spacing="1.66" text-anchor="middle">2θ/degree</text>
<text transform="translate(86.3,725.7) rotate(-90)" font-size="91.5" letter-spacing="0.1" text-anchor="middle">Intentisity (a.u.)</text>
</g>
<g font-family="'Liberation Serif', serif" font-weight="bold" font-size="65.5">
<text x="1792.9" y="206.1" fill="#C80000">Co-Fe-Al</text>
<text x="1807.2" y="371.2" fill="#FF0000">Sr-Fe-Al</text>
<text x="1800.8" y="624.4" fill="#FFC000">Ce-Fe-Al</text>
<text x="1804.4" y="815.4" fill="#00FF00">Ni-Fe-Al</text>
<text x="1794.9" y="963.4" fill="#0A6CF5">Ca-Fe-Al</text>
<text x="1859.4" y="1291.4" fill="#800080">Fe-Al</text>
</g>
<g id="suits" font-family="'Liberation Sans', 'DejaVu Sans', sans-serif" font-size="59.5" fill="#800080">
<text x="592.6" y="180.7">♠</text>
<text x="797.2" y="151.6">♠</text>
<text x="589.1" y="352.3">♠</text>
<text x="797.1" y="305.2">♠</text>
<text x="851.4" y="325.1">♠</text>
<text x="1157.8" y="371.6">♠</text>
<text x="1251.8" y="357.4">♠</text>
<text x="592.9" y="566.1">♠</text>
<text x="795.1" y="449.5">♠</text>
<text x="849.2" y="529.9">♠</text>
<text x="967.8" y="585.1">♠</text>
<text x="1157.8" y="593.3">♠</text>
<text x="1253.9" y="593.3">♠</text>
<text x="1435.2" y="622.9">♠</text>
<text x="1474.9" y="621.6">♠</text>
<text x="592.9" y="780.1">♠</text>
<text x="801.4" y="747.8">♠</text>
<text x="1155.7" y="792.2">♠</text>
<text x="1261.4" y="741.7">♠</text>
<text x="1428.6" y="822.9">♠</text>
<text x="1489.4" y="825.6">♠</text>
<text x="592.9" y="1160.3">♠</text>
<text x="790.9" y="1057.6">♠</text>
<text x="847.6" y="1095.4">♠</text>
<text x="957.9" y="1203.5">♠</text>
<text x="1014.4" y="1202.0">♠</text>
<text x="1152.1" y="1220.7">♠</text>
<text x="1255.4" y="1214.7">♠</text>
<text x="1334.8" y="1273.0">♠</text>
<text x="1439.4" y="1250.0">♠</text>
<text x="1479.0" y="1248.3">♠</text>
<text x="631.8" y="195.1">♣</text>
<text x="623.6" y="363.5">♣</text>
<text x="1322.2" y="376.1">♣</text>
<text x="627.7" y="614.4">♣</text>
<text x="1017.9" y="610.5">♣</text>
<text x="1332.2" y="612.3">♣</text>
<text x="1328.2" y="737.8">♣</text>
<text x="623.9" y="961.6">♣</text>
<text x="613.8" y="1245.8">♣</text>
<text x="819.2" y="1267.5">♣</text>
<text x="888.8" y="1277.5">♣</text>
<text x="1009.6" y="1271.5">♣</text>
<text x="1217.4" y="1289.6">♣</text>
</g>
<text x="797.6" y="886.7" font-family="'Liberation Sans', 'DejaVu Sans', sans-serif" font-size="64" fill="#0A6CF5">♥</text>
<defs>
<path id="flag" d="M0 0C10 0 18 3.2 32.9 3.6V29.1C18 28.7 12 26.3 3.6 25.9V41.3H0Z"/>
<g id="cloud"><circle cx="8.2" cy="17.9" r="8.2"/><circle cx="22.6" cy="8.8" r="8.8"/><circle cx="32.8" cy="11.9" r="8.5"/><circle cx="37.4" cy="18.7" r="7.4"/><circle cx="11.8" cy="13.6" r="5.7"/><rect x="8.2" y="11" width="29.2" height="15.1"/></g>
<path id="hdia" d="M-20.25 0L0 -20.6L20.25 0L0 20.6ZM0.3 -15.2V15.2L14.9 -0.2Z" fill-rule="evenodd"/>
<path id="tree" d="M0 0L13.6 16.8H-13.6ZM0 16.2L13.6 32.9H2V42.1H-2V32.9H-13.6Z"/>
<path id="dia" d="M-18.75 0L0 -19.05L18.75 0L0 19.05Z"/>
<path id="star" d="M0.00 -22.20L4.98 -6.86L21.11 -6.86L8.07 2.62L13.05 17.96L0.00 8.48L-13.05 17.96L-8.07 2.62L-21.11 -6.86L-4.98 -6.86Z"/>
<g id="sun"><circle r="11.55"/><path d="M16.70 0.00L20.30 0.00M11.81 11.81L14.35 14.35M0.00 16.70L0.00 20.30M-11.81 11.81L-14.35 14.35M-16.70 0.00L-20.30 0.00M-11.81 -11.81L-14.35 -14.35M-0.00 -16.70L-0.00 -20.30M11.81 -11.81L14.35 -14.35" stroke-width="4.6" stroke-linecap="round" fill="none"/></g>
</defs>
<g fill="#C80000"><use href="#flag" x="738.7" y="117.6"/><use href="#flag" x="853.9" y="39.6"/><use href="#flag" x="1020.1" y="140.8"/><use href="#flag" x="1337.2" y="142.4"/><use href="#flag" x="1464.8" y="134.3"/></g>
<g fill="#FF0000"><use href="#cloud" x="751.2" y="308"/><use href="#cloud" x="880.8" y="341.2"/><use href="#cloud" x="949.3" y="339.1"/><use href="#hdia" x="721.85" y="349.3"/><use href="#hdia" x="843.2" y="346.2"/><use href="#hdia" x="1030.8" y="338.3"/><use href="#hdia" x="1293.1" y="375.8"/></g>
<g fill="#FFC000"><use href="#tree" x="703" y="424"/><use href="#tree" x="1122.4" y="516.7"/><use href="#tree" x="1328.1" y="541.7"/><use href="#tree" x="1776.9" y="592.3"/></g>
<g fill="#00FF00"><use href="#dia" x="861.8" y="671.6"/><use href="#dia" x="488.2" y="763.7"/><use href="#dia" x="761.7" y="742.6"/><use href="#dia" x="1033.6" y="766.3"/><use href="#dia" x="1276.8" y="768.2"/><use href="#dia" x="1354" y="765.8"/></g>
<g fill="#0A6CF5" stroke="#0A6CF5" stroke-width="0"><use href="#star" x="600" y="927.1"/><use href="#star" x="800.45" y="910.0"/><use href="#star" x="1105.1" y="943.4"/><use href="#sun" x="867.7" y="913.7"/><use href="#sun" x="1038.5" y="924.4"/><use href="#sun" x="1174.4" y="930.4"/><use href="#sun" x="1274" y="953.1"/><use href="#sun" x="1497.3" y="953"/></g>
</svg></body></html>
